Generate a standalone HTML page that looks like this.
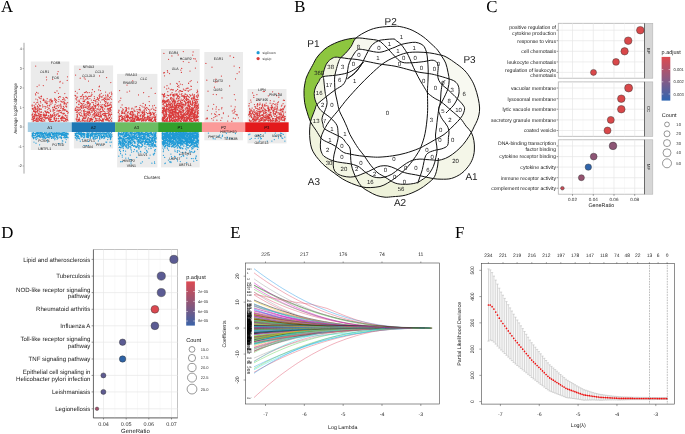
<!DOCTYPE html>
<html><head><meta charset="utf-8"><style>
html,body{margin:0;padding:0;background:#fff;width:685px;height:434px;overflow:hidden}
svg{display:block;will-change:transform}
</style></head><body>
<svg width="685" height="434" viewBox="0 0 685 434" font-family="Liberation Sans, sans-serif" text-rendering="geometricPrecision">
<rect width="685" height="434" fill="#fff"/>
<text x="1" y="11.6" font-size="16.8" text-anchor="start" fill="#000" font-family="Liberation Serif, serif">A</text>
<text x="294.3" y="11.6" font-size="16.8" text-anchor="start" fill="#000" font-family="Liberation Serif, serif">B</text>
<text x="486.3" y="11.8" font-size="16.8" text-anchor="start" fill="#000" font-family="Liberation Serif, serif">C</text>
<text x="1.2" y="237.8" font-size="16.8" text-anchor="start" fill="#000" font-family="Liberation Serif, serif">D</text>
<text x="230.2" y="237.8" font-size="16.8" text-anchor="start" fill="#000" font-family="Liberation Serif, serif">E</text>
<text x="455" y="237.8" font-size="16.8" text-anchor="start" fill="#000" font-family="Liberation Serif, serif">F</text>
<line x1="24" y1="42.8" x2="24" y2="173.6" stroke="#a6a6a6" stroke-width="1"/>
<line x1="22.6" y1="49" x2="24" y2="49" stroke="#777" stroke-width="0.5"/>
<text x="21.8" y="50.4" font-size="3.8" text-anchor="end" fill="#444">4</text>
<line x1="22.6" y1="68.5" x2="24" y2="68.5" stroke="#777" stroke-width="0.5"/>
<text x="21.8" y="69.9" font-size="3.8" text-anchor="end" fill="#444">3</text>
<line x1="22.6" y1="88" x2="24" y2="88" stroke="#777" stroke-width="0.5"/>
<text x="21.8" y="89.4" font-size="3.8" text-anchor="end" fill="#444">2</text>
<line x1="22.6" y1="107.5" x2="24" y2="107.5" stroke="#777" stroke-width="0.5"/>
<text x="21.8" y="108.9" font-size="3.8" text-anchor="end" fill="#444">1</text>
<line x1="22.6" y1="127" x2="24" y2="127" stroke="#777" stroke-width="0.5"/>
<text x="21.8" y="128.4" font-size="3.8" text-anchor="end" fill="#444">0</text>
<line x1="22.6" y1="146.5" x2="24" y2="146.5" stroke="#777" stroke-width="0.5"/>
<text x="21.8" y="147.9" font-size="3.8" text-anchor="end" fill="#444">-1</text>
<line x1="22.6" y1="166" x2="24" y2="166" stroke="#777" stroke-width="0.5"/>
<text x="21.8" y="167.4" font-size="3.8" text-anchor="end" fill="#444">-2</text>
<text x="16.8" y="108.4" font-size="4.5" text-anchor="middle" fill="#222" transform="rotate(-90 16.8 108.4)">Average log2FoldChange</text>
<text x="152" y="179" font-size="4.5" text-anchor="middle" fill="#222">Clusters</text>
<rect x="30.8" y="61.5" width="38.5" height="88.5" fill="#ebebeb"/>
<rect x="73.9" y="65.4" width="39.2" height="83" fill="#ebebeb"/>
<rect x="117.1" y="73.9" width="40.3" height="93.5" fill="#ebebeb"/>
<rect x="161" y="49" width="38.7" height="118.4" fill="#ebebeb"/>
<rect x="204.3" y="52" width="38.7" height="88.3" fill="#ebebeb"/>
<rect x="247.5" y="89" width="39" height="54.4" fill="#ebebeb"/>
<path stroke="#d93b3b" stroke-width="1.25" stroke-linecap="round" d="M43.7 119.6h0M51.3 116h0M34.1 110.7h0M34.5 120.3h0M47.3 103.5h0M54.7 100.2h0M52.8 114.5h0M63 117.1h0M37.2 120.2h0M38.5 107.1h0M55.1 115.9h0M34.2 118.6h0M56.6 115.2h0M48.4 115.7h0M60.7 108.2h0M51 99.2h0M58.3 116.6h0M47.1 107.2h0M37.5 110.4h0M59.6 110.4h0M63.6 117.1h0M52.9 115.9h0M62.3 108.5h0M34.2 107.6h0M55.4 99.6h0M45.9 111.1h0M32.8 113.2h0M34.1 105.3h0M36.7 119.1h0M34.9 111.8h0M51.8 100.7h0M42.1 117.3h0M45 101.8h0M38.4 118.2h0M40.4 114.3h0M32.1 115.2h0M45.3 108.1h0M50.6 111.3h0M56.4 120.7h0M63.6 109.5h0M46.2 113.3h0M34.2 120.6h0M39.5 119.4h0M32 119.4h0M35.7 113.1h0M54.2 119.4h0M41.1 116.4h0M62.6 99.5h0M48.8 112.4h0M44.4 117.3h0M61.9 118.2h0M51.1 119.4h0M51.6 121.3h0M63.2 109.8h0M41.4 114.5h0M51.2 101.6h0M43.9 117.5h0M62.8 113.6h0M61.5 106.9h0M44.8 121.1h0M33 117.3h0M66.5 111.4h0M65.8 97.3h0M40 118.4h0M39.1 119.5h0M62.3 116h0M55.6 101.7h0M64.8 103.9h0M59.1 111.9h0M44 100.5h0M67.1 117.8h0M58.2 118.5h0M36.6 118.8h0M37.3 108.9h0M67.4 111.3h0M36.7 121.3h0M67 115.5h0M47.7 105.7h0M61.8 118.5h0M40.7 109h0M41.4 112.3h0M44.8 111h0M53.1 111.2h0M50.1 110h0M50.9 121.3h0M32.1 105.2h0M38.2 113.7h0M43.8 114.9h0M52.1 103h0M41 116.6h0M59.9 115.7h0M64.9 115.1h0M54.1 115.6h0M48.3 112.3h0M49.3 105.2h0M66 119.2h0M52.2 101.2h0M36.4 114.8h0M34.6 117h0M60.3 101h0M37.6 108.8h0M63.9 103.8h0M39.9 106.1h0M67.7 102.7h0M37.8 115.7h0M39.1 116.6h0M58.1 121.3h0M32.7 116.7h0M54.5 107.4h0M60.5 96.8h0M35.8 116.1h0M41.8 119.7h0M47.2 101.9h0M37.4 105.9h0M52.6 107.5h0M56.8 114.1h0M34.6 107.5h0M35 109.6h0M34.4 107.7h0M52 101.8h0M41.7 120.1h0M36 119.4h0M33.8 118.8h0M59.4 116.3h0M50.1 119.1h0M41 121.3h0M58.5 110.8h0M65.7 119.9h0M61.6 117.2h0M46.2 112.6h0M56.8 106h0M57.5 105.8h0M46.6 115.4h0M34.6 106.8h0M41.2 118.5h0M63.4 106.4h0M42.2 118.2h0M37.7 112.2h0M41.5 96.7h0M40.8 102.8h0M43.2 114.6h0M49.1 112.8h0M39.3 111.2h0M35.2 114.9h0M33.5 121.2h0M53.1 110.8h0M59.1 110.5h0M46.1 118.6h0M67.5 119.6h0M33.6 110.2h0M64.2 110.5h0M37 115.9h0M50.2 102.9h0M53.1 110.6h0M56.7 108.4h0M36.8 115.4h0M35.8 109.8h0M54.6 110.2h0M49.7 121.4h0M50.2 115.3h0M55.8 120.7h0M34.7 118.2h0M58.3 118.7h0M49.8 118.3h0M49.3 108.3h0M55.2 120.8h0M37.3 117.8h0M52.5 121.3h0M34.2 118.1h0M56.4 118.3h0M50.6 114.4h0M64.3 118.6h0M67.3 98.1h0M61.6 101.3h0M48.2 116.9h0M39.6 105.7h0M37.1 111.3h0M61.6 112.9h0M64 107.5h0M49.5 121.1h0M32.1 114.5h0M37.1 115.7h0M43.4 99h0M62.3 120h0M65.4 106.1h0M45.4 115.7h0M68.1 112.4h0M41.9 120.9h0M35.7 107h0M41 115.6h0M50.4 119.8h0M63.9 99.5h0M54.8 98.5h0M58 121h0M58.4 113.8h0M42.3 121.1h0M65.5 120.2h0M42.7 106.9h0M67.2 118h0M52.1 116h0M38 119h0M49.9 116.9h0M64.7 103.4h0M38.9 120.3h0M44.3 120.4h0M52.6 100.9h0M59.1 116.2h0M45.6 115.4h0M34.2 116.8h0M50.2 110.2h0M63.1 118.5h0M46.4 112.7h0M66.4 104.2h0M33.2 108.6h0M64.3 113.4h0M46.1 102.9h0M61.8 101.9h0M35.9 119.5h0M50.9 104.6h0M55.4 108.7h0M48.5 108.1h0M40.4 101.3h0M55.3 116.3h0M55 106.8h0M36 120.9h0M46 118.4h0M53.7 121.3h0M66.6 106.9h0M63.9 113.2h0M66.7 106.1h0M43.1 121.3h0M47.2 117.6h0M56.1 102.7h0M44.2 114.1h0M56.6 118.4h0M50.2 119.6h0M67 116.3h0M40 109h0M42.6 104.9h0M40.1 114.5h0M56 99.8h0M39.7 98.2h0M37.1 120.8h0M64.4 102.5h0M58.5 97.4h0M38.7 104.2h0M58.9 121.2h0M45.5 117.2h0M38.1 121.4h0M66.5 119.6h0M66.8 119.3h0M61.7 112h0M33.8 116.1h0M39 113.6h0M64.4 121.2h0M59.7 120.9h0M33.3 120.7h0M59 105h0M44.2 116.2h0M41.5 109h0M43.4 115.8h0M65.1 109.8h0M66.1 121.2h0M66.5 97.4h0M46 118.6h0M65.5 118.7h0M61 105.1h0M53.9 118.1h0M43.5 115.6h0M39.1 108.3h0M40.9 120.6h0M43.8 100.3h0M63.9 101.5h0M35.5 112.1h0M57.6 113.8h0M54.4 106.1h0M59 105.8h0M62.4 117.4h0M52.5 115.5h0M40.9 118.4h0M37.5 106.9h0M46.3 103.1h0M50.3 117.7h0M67.8 120.6h0M49.1 101.3h0M33.5 118.8h0M36.3 118.1h0M65.6 115.8h0M63.3 114.1h0M66.1 119.7h0M53.5 109.7h0M37.1 118h0M41.2 111.6h0M32.4 117h0M56.5 119.1h0M60.7 110.5h0M34.3 120.5h0M55.1 120.2h0M37.9 110.4h0M43.1 100.3h0M43.3 112.8h0M63.2 97.5h0M45.1 118.8h0M32.2 106.1h0M47.3 111.5h0M48.6 118.8h0M32.5 114.7h0M35.2 114.3h0M45.4 111.8h0M50.8 100.2h0M35.9 111.4h0M39.1 120.6h0M66 103.1h0M65.4 115.1h0M64.6 109.5h0M60.4 118.7h0M46.6 103.7h0M39.9 115.7h0M50.7 114.5h0M58.2 101.5h0M33.5 111.4h0M62.3 120.1h0M53.6 113h0M47.2 112.4h0M47.4 112h0M32.8 109.3h0M49.7 117.9h0M48.5 119.9h0M49.1 119.9h0M35.3 112.8h0M50.4 121h0M58.5 107.5h0M50.5 121h0M66.3 119.7h0M62.9 102h0M39 109.5h0M49.8 99.9h0M60.5 104h0M34.4 115.9h0M64.4 117.9h0M61.4 120.5h0M39.5 117.6h0M50.3 115.8h0M37.8 102h0M56.5 100.3h0M36.2 109h0M55 114.6h0M52.9 107.4h0M35.8 104.2h0M60.8 118.1h0M67.8 113.6h0M48 118.4h0M58.8 120.9h0M55.1 104.5h0M53.1 109.2h0M33.2 119.5h0M54.2 117.6h0M36.8 118.3h0M55.6 121.2h0M35.8 115.7h0M40.1 112.3h0M54.5 114h0M36.9 102.5h0M35.5 108.3h0M63.5 108.5h0M32.4 108.4h0M52.3 116.7h0M65.8 110.2h0M41 98.7h0M46.7 117.8h0M34.1 102.3h0M66 119.6h0M39.2 113.9h0M61.4 119.1h0M43.2 114.9h0M60.3 106.1h0M32.2 105h0M58.8 115.7h0M40.2 120.2h0M44.1 106.3h0M57.1 105.5h0M52 115.4h0M60.5 112.6h0M66.8 117.4h0M63.8 121.3h0M58.9 99.3h0M58.9 115.6h0M40.6 105.8h0M54.8 112.5h0M48.9 113.2h0M57.2 110.1h0M52.6 116.1h0M39.7 105.3h0M37.2 121.1h0M35.9 104.1h0M33 121h0M57 111.2h0M34.4 114.4h0M45.1 102.4h0M34.4 111.5h0M65 100.2h0M36 121.1h0M62.6 110h0M54.8 118.4h0M35.6 120.3h0M43.5 115.5h0M32.8 117.9h0M45.3 114.8h0M66.8 111.2h0M33.1 116.3h0M47.8 109.5h0M51.4 117.5h0M63.1 120.3h0M32 119h0M59.5 96.5h0M49.7 105.9h0M38.7 115h0M41.4 96h0M42.2 118.7h0M36 112.6h0M34.9 108.2h0M54.7 117.8h0M46.5 114.6h0M64.1 121.2h0M39.4 116.7h0M45.7 106.6h0M40.4 116.5h0M59.2 110.4h0M44.6 115.2h0M55.9 102.4h0M38.1 93.2h0M59.9 87.7h0M36.6 92.4h0M64 98.5h0M38.9 97.2h0M57.4 73.9h0M37.6 99.9h0M40.9 96.5h0M50.9 99.8h0M43.8 99.4h0M67.2 80.4h0M35.7 66.1h0M35.7 94.9h0M67.5 76.8h0M58.5 93.3h0M39.1 85h0M35.9 99.1h0M46 100.9h0M46.4 77h0M57 90.9h0M54.8 92.3h0M37.1 86.6h0M46.6 79.8h0M64.8 93.5h0M52.7 79.3h0M47.2 98.7h0M58.1 71.6h0M59.9 82h0M62.8 83h0M55.2 92.6h0M43.3 85.5h0M35.5 93.8h0M60.2 81.3h0M54.7 98.3h0M103.1 121h0M84.7 114.3h0M110.8 109.7h0M77.3 115h0M90.2 118.3h0M101.1 105h0M83.9 118.2h0M109.5 114.9h0M86.1 96.7h0M87.4 98.3h0M95.3 101.3h0M97.1 109.5h0M103.3 99.4h0M88.4 117.6h0M77.3 115.9h0M91.6 119.3h0M87 112.8h0M77.7 121.3h0M111.6 99.2h0M111.2 107.4h0M79.1 112.7h0M95.1 121.3h0M108.9 112.3h0M99.1 118.7h0M84.2 118.6h0M106 115.7h0M81.9 103.5h0M81.3 110.9h0M105.7 105.7h0M105.5 114.8h0M88.7 113.1h0M83.9 120.8h0M96 105.8h0M108.4 105.7h0M93.3 110.1h0M96.5 120.2h0M100.4 120.1h0M78.4 120.9h0M91.3 118.3h0M106 101.7h0M104.1 113.6h0M94 110.5h0M87.6 114.5h0M108.4 119.8h0M86 114.2h0M82.3 120.4h0M87 107.8h0M106.9 99.8h0M110.5 107.6h0M100 109.2h0M86 106.4h0M98.9 116.4h0M87.7 97.5h0M100.1 112.3h0M78.2 109.8h0M90.4 108.1h0M95.9 112.9h0M107.9 108.8h0M79.2 101.2h0M94.6 116.6h0M93.1 109.2h0M79.3 107.8h0M96.8 120.4h0M91.3 100.1h0M95.4 105.3h0M111.6 106.9h0M78.9 104.1h0M110.4 108.5h0M103.6 119.3h0M83.8 114.8h0M75.7 108.1h0M101.1 111.5h0M107.8 105.3h0M108.9 105.1h0M81.3 107.9h0M100.1 96.2h0M79.6 114.6h0M101.7 121.2h0M97.3 120.6h0M79.3 101.9h0M99.9 116.6h0M105.9 106.2h0M79.3 121.1h0M81.9 106.8h0M85.8 107.5h0M107.3 109.2h0M100.5 102.1h0M87.7 119.1h0M93.6 100.4h0M81.8 103.5h0M100.1 114.8h0M106.2 113.6h0M107.2 105.9h0M83.1 98.3h0M96.8 120.9h0M92.3 106.9h0M89.4 112.8h0M87.4 121.2h0M92 94.6h0M99.8 116.4h0M85.2 111.4h0M94.5 91.7h0M111.6 121.2h0M107.2 106.2h0M98.4 109.2h0M104.4 98h0M109.6 108.2h0M102.3 107.2h0M98.5 116.2h0M77.3 115.6h0M87 102.4h0M84.1 117.3h0M88 118.5h0M91.8 112.3h0M96 115.7h0M86.2 115.4h0M101.8 107.7h0M109 109.9h0M78 120h0M88.2 109.3h0M90.9 96.2h0M108.2 116h0M84.6 121.2h0M101 117.2h0M89.8 119.3h0M98.9 119h0M102.1 99.8h0M104.9 101.8h0M87.7 119.2h0M107.3 103.9h0M109.1 118.5h0M99 111h0M100.1 113.8h0M76.8 106.7h0M87.4 112.7h0M92.2 121.3h0M109.2 108.6h0M97.7 105.2h0M87.2 120.1h0M103.3 120.1h0M105.1 115.4h0M95.5 108h0M97.2 115.3h0M101.3 106.9h0M103.7 115.3h0M91.8 118.9h0M94.4 98.3h0M92.6 106.7h0M103.6 113.5h0M102.9 120.2h0M76.1 118.9h0M95.5 118.2h0M109.7 113.9h0M102.2 96.9h0M81.1 121.1h0M111.2 112.8h0M98.5 114.5h0M87 104.9h0M79.1 100h0M89.9 98.5h0M77.3 114.4h0M109.9 104.2h0M83.3 117.1h0M83.6 117.3h0M103 110.3h0M83.1 101.2h0M80.9 98.7h0M102.8 104.7h0M85.5 118.1h0M81 105.6h0M97.1 116h0M82.8 105h0M88.4 101.9h0M106.9 99.7h0M86.1 121.1h0M75.4 91.3h0M80.6 102.9h0M100.2 120.1h0M87.6 101.6h0M111.2 121.2h0M83.7 103.6h0M93.7 117.7h0M90.9 119h0M86.7 98.9h0M79.5 109.9h0M81.7 103.5h0M80.5 106.5h0M88.1 111.2h0M108.9 114h0M107.6 95.6h0M85.1 118.6h0M76.7 110h0M90.1 109.9h0M100.4 106.7h0M95.1 112.5h0M107.3 113.3h0M89.8 118.5h0M89.3 111.9h0M90.2 119.2h0M97.5 99.2h0M84.5 109.8h0M82.4 119.6h0M106.1 102.3h0M100.6 115.7h0M98.9 112.6h0M75.1 95.4h0M106.5 116.1h0M83.7 113.1h0M102.5 114.5h0M94.5 111h0M100 116.6h0M83.3 110.8h0M84.8 107.3h0M94.3 111.2h0M83.2 118.8h0M94.4 111.7h0M105 116.6h0M92 102.4h0M105.5 99.3h0M89.1 102.9h0M105.2 119.5h0M78.9 113.7h0M104.7 111.6h0M89.7 96.4h0M100.7 115.9h0M103 119h0M100.1 115.6h0M88.7 115.2h0M89.1 121.2h0M77.2 117.8h0M101.5 116.9h0M105.8 120h0M98.5 99.8h0M104.3 105.1h0M88.8 121h0M101.3 115.7h0M90.1 106.1h0M89.3 111.4h0M109.1 117.3h0M88.8 107.6h0M87.2 120.5h0M94.4 113.4h0M108.3 99.2h0M92.1 111.7h0M106 117h0M91.3 110.6h0M93.9 105.5h0M89.9 121.1h0M100.1 109.2h0M79.4 119.1h0M77.9 101h0M102.8 108.8h0M77.1 107.2h0M77.1 109.8h0M90.5 103.9h0M107.2 119.2h0M87.4 103.6h0M85.2 116.7h0M86.6 116.2h0M93.9 114.9h0M77 114.4h0M106.6 118.2h0M82.5 120.9h0M92.2 111.9h0M96.6 114.1h0M108.9 111.3h0M77 116.9h0M95.9 115.7h0M85.2 104.7h0M104.6 104.5h0M91.8 108.5h0M77.2 111.5h0M98.6 120.8h0M97 118.7h0M109 108.6h0M99.9 110.1h0M86 117.7h0M108.9 118.4h0M78.8 120h0M90.4 114.2h0M84.6 100.9h0M77.2 107.7h0M76.6 102.7h0M96.5 114.7h0M95.7 118.7h0M106.1 119.3h0M104.5 98.7h0M89.1 106.9h0M83.3 107.6h0M101.9 111.7h0M100.1 119.7h0M109.1 99.5h0M109.7 111h0M102.7 109.2h0M109.3 120.7h0M97.1 109.6h0M78.4 119.4h0M106.2 115.8h0M109.1 121.2h0M87.8 106.3h0M99.3 120.9h0M84.2 101.1h0M81.7 103.7h0M95.7 120h0M95.4 106.9h0M76.3 112.3h0M78.7 104.5h0M88.1 112.7h0M99.5 118.2h0M87.3 92.7h0M107.2 111.1h0M107.4 119.6h0M93.4 108.2h0M81.1 108.4h0M93.7 113.9h0M82.6 119.2h0M83.9 110.4h0M75.7 98.8h0M93.1 108.7h0M83.5 106.8h0M80.8 115.8h0M94.2 115.9h0M107.9 120.4h0M97 104.8h0M101.3 120.6h0M111.3 120.8h0M97.9 104.8h0M104.9 113.8h0M109 121.3h0M90.1 120.3h0M84.1 105.7h0M87.8 119.5h0M82.4 118.8h0M111.8 93.6h0M92.8 110.3h0M102.8 114.1h0M82.4 104.9h0M78.5 110.4h0M88 118.1h0M102.5 119.5h0M105.6 92.1h0M105.7 106.7h0M96.8 111.3h0M107.1 117.9h0M110.5 109.2h0M110.7 104h0M84.4 101.5h0M92 116.8h0M93.2 102.7h0M89.5 109.1h0M104.3 100.4h0M90 120.4h0M99.1 105h0M105.9 98.6h0M75.3 110.4h0M105 113.1h0M97.4 112.9h0M88.1 99.1h0M97.9 115.4h0M100.9 111.8h0M99.4 98.2h0M76.6 97.9h0M81.9 115.7h0M83.4 101.5h0M97.6 104.5h0M110.3 109.3h0M111.5 118.2h0M94.5 121.4h0M81.6 107.4h0M84.3 114h0M78.8 107.8h0M89 103.6h0M108 102.7h0M91.4 95h0M88.4 109h0M94.3 108.8h0M108.5 115.2h0M77.2 93.1h0M100.3 113.7h0M107.9 103h0M102.7 121h0M110.2 98h0M80.4 109.6h0M89.5 105h0M98.7 116.3h0M95.1 114.6h0M111.1 105.6h0M89.1 105.4h0M101.2 106.4h0M96.3 99.7h0M104.3 113.8h0M107.4 118.4h0M102.3 118.8h0M86.1 113.6h0M110.7 96.5h0M109.8 117.6h0M86.9 111.5h0M89.6 113.2h0M110.6 116.1h0M91.7 92.8h0M98.5 104.4h0M103 110.8h0M95.7 106.5h0M88.4 103.4h0M94.6 116.8h0M103.5 121h0M105.5 113.2h0M84.9 115.5h0M77.7 109.8h0M90.3 108.9h0M79.2 117.8h0M98.4 113h0M103.6 111.2h0M87.7 114.8h0M104.8 113.7h0M94.7 106.2h0M99.7 97.1h0M77.5 112.1h0M93.6 104.3h0M90 112.3h0M85.2 99.7h0M80.7 112.6h0M102.9 107.2h0M102.4 107.7h0M99 95.8h0M101 104.8h0M85.2 120.8h0M85.1 118.7h0M83.3 120.5h0M104.6 118h0M100.8 120.4h0M75.2 110h0M80.2 115.5h0M95.5 101.1h0M76.6 99.8h0M98.3 114.4h0M87.3 108.4h0M82.8 94.3h0M104.9 106h0M76.1 110.3h0M90.7 120.8h0M96.6 115.6h0M93.9 108h0M111.7 94.7h0M110.5 114.8h0M92.7 119.4h0M91.8 107.2h0M87.7 119.1h0M89.9 115.8h0M94.1 109.8h0M82.4 104.8h0M95.7 103.2h0M110.9 96.5h0M101.7 107.8h0M77.4 116.5h0M101.7 107.2h0M84.8 113.6h0M111.6 114.4h0M76.7 119.4h0M104.7 108.9h0M78.9 119.6h0M92.4 89.7h0M108.7 110.5h0M79.8 119.8h0M95.8 110.5h0M75.9 96.2h0M101.2 93.3h0M102.1 114.2h0M105 101.3h0M83 108.6h0M89 121.3h0M92.2 121.1h0M107.8 108.3h0M98.1 98.7h0M92.9 106.8h0M108.4 112.9h0M78.9 107.4h0M91.9 107.6h0M98.5 106.8h0M101.8 120.7h0M92.4 114.9h0M83.9 111.6h0M100.6 109h0M97.1 120.3h0M83.9 96.7h0M104.1 98.1h0M98.4 103h0M111 102.4h0M76.5 120.8h0M83.2 99h0M109.3 105.4h0M80.7 121.3h0M103 119.5h0M82 103.8h0M81.1 107.6h0M107.8 94.3h0M75.2 109.1h0M93.6 109.9h0M97 101.8h0M95.2 116h0M89.7 121.3h0M105.6 103.5h0M92 119.8h0M90.9 120h0M111 110.6h0M102 99.9h0M106.3 120.2h0M103.2 118.9h0M97.4 97.6h0M77.9 119.8h0M100.6 111.6h0M90.1 108.6h0M99 100.5h0M108.7 109.5h0M101.5 121.1h0M91 108.7h0M81.7 106h0M84.4 115.3h0M87.9 114.2h0M111.2 105.1h0M109.4 97.6h0M102.8 119h0M84.3 112.1h0M107.7 98.9h0M87.2 102.5h0M104.3 115.4h0M79 104.5h0M88.6 107h0M110.6 119.7h0M94.9 100.3h0M90.1 104.2h0M78.4 119.6h0M85.7 96.1h0M101.4 97h0M81.6 113.8h0M102.6 109.6h0M84.2 115.4h0M82.8 116.6h0M110.6 111.1h0M97.1 108.6h0M86.3 96.8h0M77.6 97h0M88.4 96.3h0M79.3 89.3h0M110.8 82.5h0M85.2 79h0M81.6 96.6h0M86.3 91.6h0M100.5 90.6h0M101.9 96.7h0M109.4 93.1h0M105.7 97h0M105.6 95.2h0M106.6 77.5h0M99.8 94.4h0M75.5 95.7h0M108.4 96.1h0M99.4 86.2h0M99.4 95.9h0M80.4 96.6h0M111.3 92.2h0M99.1 86.8h0M83.3 96.8h0M75.6 75.1h0M79.9 69.4h0M88.5 81h0M80.2 78.2h0M84.4 92.6h0M94.3 96.5h0M84.2 77.8h0M85.6 92.3h0M103.2 95.3h0M82.2 95.3h0M89.2 92.6h0M98.7 89.9h0M107.1 96.9h0M99.5 75.9h0M83.7 97h0M155 118.6h0M134.1 110.6h0M140.6 110.2h0M125.1 111.4h0M122.2 110.6h0M137.8 117h0M154.9 117.5h0M149.8 110.2h0M122.5 112.9h0M132.1 113.1h0M154.4 105.3h0M143.1 120.1h0M145.8 117.3h0M128 119.9h0M124.3 120.6h0M124.4 117.2h0M140.1 116.8h0M118.9 121h0M134.3 119.3h0M149.5 119.6h0M121.8 117.2h0M147.3 119.3h0M143.7 114h0M153.3 114.3h0M125.2 120.9h0M121.7 113.5h0M134.4 120h0M127.6 120.2h0M129.9 117.5h0M134.6 120.3h0M120 120.3h0M124.2 116.3h0M120.5 116.4h0M146.4 112.5h0M137.7 120.2h0M143.4 120.9h0M152.5 121.4h0M125.8 120.7h0M144.4 110.2h0M143.7 119.2h0M133.5 114.5h0M121 115.3h0M155.8 107.9h0M136.8 119.6h0M143.7 115.9h0M153.7 113.4h0M136.2 120.4h0M144.3 113.4h0M140.2 105.3h0M148.7 120.5h0M130.5 121.2h0M131.5 114.9h0M132.2 114.1h0M134.9 121.4h0M121.8 111.4h0M124.2 113.4h0M145.5 120.8h0M118.4 121.1h0M131.7 108.9h0M152.7 112.3h0M151.1 113h0M154.2 115.7h0M125.7 117h0M132.5 115.9h0M140.6 119.6h0M137.4 116.2h0M143.5 120.2h0M147.5 113.7h0M147.9 115.9h0M137.7 115.9h0M129.3 117.8h0M136.6 116.3h0M126.4 117.3h0M131.9 111.4h0M146.1 119.6h0M143.1 110.9h0M142.4 113.6h0M132 121.2h0M154.8 117.4h0M148.8 120.4h0M131.1 120.5h0M136.8 119.1h0M128.5 116.9h0M150.5 115.7h0M134.9 118.2h0M125.2 119.5h0M128.9 108.9h0M150.6 112.4h0M134.5 119.8h0M122.8 112.8h0M135 118h0M119.1 117.9h0M132.7 121.4h0M130.9 111.7h0M142 119.4h0M141.5 118.6h0M125.9 109.8h0M140.5 115.7h0M130.5 121.2h0M141.1 114.6h0M122.9 119.8h0M132.1 108.2h0M122.7 108.9h0M127.5 112.3h0M132.6 121.2h0M128.5 115.8h0M136.5 106.7h0M126.9 114h0M147.8 113.5h0M148.6 120.7h0M128.2 117.1h0M121.7 115.5h0M126.4 121.4h0M132.3 116.8h0M137.5 119h0M155.5 120.4h0M137.7 117.8h0M126.2 107.5h0M131.9 118.9h0M129.1 120.9h0M154.5 117h0M138.5 117.7h0M130.7 112.6h0M154.6 117.3h0M133.5 120.3h0M135.2 118.5h0M127.1 115.9h0M132.5 112.1h0M119.4 118.9h0M143.9 116.6h0M136.2 119.5h0M144.6 118.5h0M142.7 120.5h0M137.6 118.7h0M139.2 120.7h0M123.4 118.5h0M144 117.2h0M140 120h0M135.1 114.9h0M132.1 117.5h0M155.1 112.3h0M141.5 121.2h0M153.7 109.7h0M150.4 120.2h0M149.7 113.4h0M135 111.1h0M144.4 115.2h0M152.4 118.6h0M119.3 118h0M142 120.5h0M124.4 119h0M152.6 105.9h0M155.8 116.7h0M153.4 113.5h0M146 118.6h0M139.2 112.9h0M151 120.4h0M148.1 117.8h0M125.8 110.5h0M149.8 118.5h0M144.6 117.4h0M154.5 117.3h0M137.6 114.3h0M146.5 110.2h0M131.8 120h0M143.2 116.2h0M138.2 119.9h0M137.5 113.3h0M125.8 115.1h0M121.9 118.1h0M142.4 117.4h0M126.6 116.1h0M118.4 112.1h0M139.2 112.1h0M142 120.4h0M151 113.9h0M144 114.7h0M154.4 119.7h0M122.1 117.8h0M126.7 111.1h0M133 120.1h0M125.5 115.2h0M138.7 118.8h0M118.9 110.2h0M125.9 121.2h0M138.7 120.1h0M147.9 118.6h0M140 115.3h0M132.4 115h0M144.5 120.1h0M139.2 110.1h0M151.3 121h0M127.7 120.8h0M136.8 119h0M129.7 117.9h0M145.7 120.3h0M126.8 121.4h0M144.7 111.5h0M156 119h0M133.9 109.1h0M133.2 117.1h0M137.7 115.9h0M134.9 111.4h0M125.1 118.3h0M152.1 118h0M135.8 116.7h0M127.6 115.1h0M132.3 111.5h0M155.4 121.4h0M150.3 117.6h0M123.3 118.9h0M126.1 116.7h0M143.2 112.3h0M130.6 114.7h0M131.1 120.5h0M148.3 119h0M139 109.4h0M120.9 107.3h0M119.3 113.9h0M133.3 115.6h0M134 120.7h0M155 117.8h0M134.8 119.1h0M142.8 111.9h0M133.2 112.8h0M119.9 116.4h0M151.4 120.3h0M128.8 120.1h0M138 115.3h0M127.3 116.4h0M134.1 121.3h0M129.8 114h0M145.2 121h0M129.7 113.6h0M119 117.1h0M118.9 120h0M126.7 120.8h0M137.9 120.3h0M149.4 117.3h0M150.1 121.1h0M146.4 120.6h0M141 111.9h0M122.1 121h0M145.6 119.6h0M137.1 120.1h0M140.5 118.5h0M128.7 111.8h0M137.1 119h0M122.7 117.9h0M132.5 117.3h0M152.1 117.8h0M155.8 110.5h0M128 112.9h0M156.1 114.9h0M149 113.1h0M124.9 118.6h0M141.7 120.3h0M121.9 113.4h0M122.3 117.5h0M119.9 120.3h0M154.7 118.3h0M144.7 112.1h0M142.9 118.4h0M125.4 111.1h0M154.9 110.1h0M150.1 119.3h0M146.4 110.1h0M151.6 119.4h0M148.1 116.9h0M148.6 109.4h0M150.3 113.4h0M139.8 119.4h0M131.1 120.5h0M126.8 108.4h0M130.8 111.9h0M133.3 121.3h0M134.8 116.1h0M132.5 121.4h0M154.7 119.4h0M122.1 112.9h0M140.4 116.1h0M155.1 117.1h0M155.8 107.5h0M119.1 110.9h0M149 116.5h0M124.2 116.4h0M128.4 117h0M140 109.4h0M142.1 112.5h0M139.8 118.9h0M153.5 117.2h0M145.1 108.7h0M142.8 111.4h0M135.2 117.4h0M147.1 117.7h0M149 118.8h0M144.2 109.8h0M137 118h0M154.3 113.6h0M142.2 119.8h0M155.1 119.7h0M119 115.9h0M133.9 114h0M147.9 113.6h0M127.3 119.2h0M142.8 116.1h0M130.5 113.8h0M131 121.4h0M121.9 121.2h0M144.7 107.2h0M150 115.2h0M132.8 119.1h0M141.8 121.1h0M136.9 117.6h0M122.2 112.2h0M122.7 116.7h0M151.3 109.2h0M151.6 114.5h0M128.8 107.8h0M127.7 117.8h0M132.7 118.6h0M130.9 117.4h0M153.5 113.8h0M155.9 121.3h0M135.7 116h0M141.9 118.9h0M142.3 116.6h0M118.8 119.9h0M151.5 121h0M142.9 112.5h0M127.3 117.5h0M138.3 112.5h0M130.6 112.7h0M154.4 119.5h0M137.9 118.5h0M124.9 113.5h0M147.6 108h0M137 109.7h0M124.5 113.6h0M153.5 120.9h0M130.8 120h0M144.9 114.2h0M122.9 113.1h0M149.4 111.8h0M126.5 109.3h0M118.3 112.6h0M149.6 120.7h0M142.3 115.3h0M155.6 117.6h0M130.2 117h0M144.2 112.9h0M127.8 116h0M123.4 109.8h0M144.7 114.6h0M122.9 112.2h0M122 119.3h0M147.5 116.4h0M122.3 118.5h0M151.6 119.7h0M121.8 112.7h0M121.5 119.7h0M133.8 118.6h0M119.5 118.1h0M145.4 108.7h0M138.5 112.3h0M129.4 118.5h0M146.3 119.7h0M151 113.2h0M136.5 116h0M135.3 116.8h0M151 119.2h0M137.3 111.6h0M124.2 116h0M132.8 111.6h0M152.1 116.9h0M146.4 107.7h0M143.3 119.1h0M135.2 116.7h0M152.9 108h0M154.8 120.5h0M153.2 113.2h0M155.9 121.3h0M150.4 114.5h0M126.4 110.2h0M136.1 116.8h0M146 120.6h0M155.4 119.8h0M140.1 109h0M154.1 114.9h0M120.9 115.5h0M140.4 115.8h0M131.6 117.3h0M124.8 112.6h0M134.4 119.5h0M130.3 118.8h0M139.6 119.3h0M120.3 120.4h0M152 118.7h0M147.9 118.1h0M119.9 121h0M143.6 92.7h0M132.7 80.8h0M149.4 105.6h0M120.8 98.2h0M143.1 107.1h0M120 100.6h0M119.6 90.5h0M142 106.1h0M135.2 106.9h0M125.3 107.7h0M149.2 101.6h0M145.4 104.6h0M148.9 96.6h0M143.1 103.4h0M139.6 107.6h0M155.2 93.4h0M138.5 94.9h0M122.1 104.9h0M127 85.1h0M118.8 101.9h0M151.2 88.2h0M145.5 105.6h0M127.1 92h0M129.6 91.1h0M189.3 107.9h0M189.2 111.2h0M166.7 109.3h0M194 105.1h0M189.4 106.1h0M177.9 113.7h0M190.5 101.9h0M170 121.3h0M187.1 109.3h0M188.3 111.4h0M189.8 94.5h0M178 114.5h0M175.9 112h0M164.4 107.6h0M188.2 110.9h0M162.8 118.9h0M162.9 111.1h0M181.3 121.4h0M163.5 95.7h0M186 111.1h0M181.7 107.7h0M186.9 107.9h0M166.4 105.7h0M190.9 86.1h0M189.6 116.5h0M164.3 110.3h0M182.8 107.4h0M188.9 111.9h0M186.9 103.1h0M179.8 97h0M172 117.4h0M167.8 91.7h0M180.5 105h0M176.2 108.4h0M165.5 101.8h0M163.2 117.5h0M174.4 104.9h0M172 106.2h0M187.2 110.2h0M165.2 111h0M179.8 100h0M193.1 117.7h0M185.8 121.4h0M178.7 113h0M175.7 117.8h0M164.2 117.9h0M196 116.6h0M175.7 91h0M197.9 119.4h0M178.3 115.4h0M186.7 98.6h0M166.3 115.4h0M167.1 114.6h0M197.3 90.1h0M177.5 103.8h0M194.3 94.7h0M167.3 118h0M189.9 120.7h0M184.7 121.2h0M173.9 121.4h0M188.8 99.9h0M174.1 104.6h0M197.4 113.2h0M177.7 105.6h0M173.5 100.2h0M193.2 113.5h0M177.5 95.1h0M187.8 102.7h0M195.6 102.6h0M162.5 110.5h0M175.1 121.4h0M196 121.3h0M175.3 105.5h0M179.9 120.5h0M192.4 108.4h0M191.4 110.5h0M179.5 111.5h0M174.4 109.5h0M175.8 111.1h0M196.3 96.8h0M176 116.4h0M163.4 108h0M195.9 120.4h0M198.4 107.5h0M188.3 105.3h0M193.2 98.7h0M188.4 118.6h0M175.4 111h0M178.8 107h0M195.2 119.7h0M190.2 115.6h0M189.1 116.7h0M186.8 113.7h0M185.6 102.5h0M172.4 121.4h0M185.7 104.6h0M194.5 112h0M188.6 101.6h0M175.4 114h0M177.2 97.6h0M164.4 94.6h0M185.5 117.3h0M190 104h0M170.1 116.1h0M193.1 111.1h0M168.9 121.4h0M175.2 107.3h0M174 115.4h0M189.1 114.4h0M175.8 121.2h0M192.8 112.9h0M182.1 102.5h0M162.5 101.1h0M195.1 102.6h0M183.8 121.3h0M183 104.5h0M167 102.1h0M163.6 119.6h0M171.9 108.5h0M172.7 114.4h0M185.4 114.9h0M163.8 110h0M188.5 118.7h0M164.6 96.1h0M187.3 119h0M165.4 114.2h0M194.1 98.7h0M183.4 113.9h0M186 114.4h0M173.1 111.1h0M186.9 100.3h0M176.8 117.1h0M175.1 100.7h0M172.5 105.6h0M190.3 119.9h0M185.7 105.6h0M170.2 117.6h0M194.6 96h0M190.9 114.6h0M178.9 96.6h0M165.5 112.3h0M173.1 106.9h0M164.1 111.7h0M188.4 104.5h0M171.7 117.1h0M196.2 105.2h0M180.1 112.5h0M190.3 119.4h0M165.8 111.6h0M177.1 94.7h0M193.9 117h0M178.6 103h0M187.8 101.7h0M181.9 105.1h0M162.8 104.2h0M193.2 108.7h0M189.1 110.1h0M164.2 117.2h0M168.1 106.8h0M167.1 118.4h0M181.8 112.2h0M181.4 116.8h0M165.5 120.6h0M168.3 109.9h0M168.1 101.7h0M164.8 100.4h0M165.3 106.4h0M194.5 119.7h0M188.4 91.2h0M178 113.2h0M193 113.8h0M169.6 119.1h0M195.9 117.6h0M187.3 108.2h0M166 115.2h0M177.5 84.1h0M172 120.8h0M190.8 108.8h0M172.5 111.3h0M182.5 91.4h0M196 114.9h0M186 121.2h0M187.2 102.7h0M164.6 108.4h0M166.1 111.1h0M188.8 109.4h0M168.8 115.6h0M194.6 116.9h0M163 108h0M191.4 107.6h0M184.9 94.1h0M186.4 119.6h0M168.3 109.4h0M172.3 106.1h0M180.5 101.5h0M188.5 103.3h0M196.5 99.7h0M163.8 118.6h0M185.8 119.9h0M176.3 104.7h0M192.7 108.3h0M198 96.3h0M184.3 120.3h0M166.5 106.9h0M169.3 104.5h0M195.2 99.1h0M186 94.6h0M192.1 103.5h0M187.5 120.5h0M175.5 118h0M178.8 119.4h0M188.6 117.7h0M196.2 120.2h0M169.4 110.5h0M182.1 106.2h0M192.5 104.3h0M171 114.6h0M179.6 110.9h0M177.8 121.4h0M178.7 114.5h0M178.6 120.5h0M189.8 117.4h0M173.7 120.5h0M189.5 107.9h0M193 97.6h0M167.1 106.3h0M166.9 97.6h0M198.3 112.9h0M182.4 106.1h0M175.6 101.7h0M190.6 103.6h0M195.4 117.9h0M174.9 106.9h0M187.3 111.8h0M181.4 96h0M173.7 100.5h0M188.1 111.1h0M187.6 105.2h0M189.3 97.3h0M191.5 114.9h0M195 113.8h0M197.5 101.3h0M190.6 116.1h0M191.4 112.3h0M194.8 118.1h0M168.4 116.1h0M163.9 110.8h0M191.2 111.3h0M187 120.3h0M168 99.8h0M167.1 111.2h0M193.8 96.7h0M197.2 109.2h0M189.9 114.3h0M174.1 109.4h0M194.5 107.3h0M183.7 114.5h0M188.2 110.8h0M188.1 99.1h0M196.4 118.1h0M191.8 113.2h0M177.8 107.5h0M164.2 121.3h0M189.4 114.7h0M176.8 113.3h0M175.1 112.5h0M170.8 112.6h0M164.2 116.4h0M182.9 118.2h0M175.4 117.8h0M194 120.5h0M182.3 110.2h0M177.1 105.2h0M164.4 118.4h0M194.1 107.9h0M174 108.9h0M182.8 96.3h0M187.3 95.1h0M179.1 98h0M174.2 102.1h0M173 118.4h0M188.1 90.8h0M177.2 120.5h0M188.3 112.7h0M178.3 121.1h0M178.9 91.9h0M191.5 109.6h0M176.8 109.8h0M164.2 96.4h0M172 112h0M179.1 115.2h0M184.9 120h0M197.5 119.8h0M175.4 109.1h0M195 120.3h0M171.5 115.4h0M178.3 98.6h0M164.7 116.1h0M191.8 114.6h0M163.7 103.7h0M187.1 120.4h0M171.7 107.4h0M174.8 111.2h0M195.8 103.3h0M198.5 116.3h0M193.7 113.8h0M186.9 119h0M195.4 114.5h0M196.8 110.8h0M196 101.6h0M192.1 110h0M192.4 108h0M185.7 115.5h0M173.8 103h0M190.2 102.9h0M176.2 104.3h0M195.1 109.6h0M163.9 97.2h0M192.4 113.3h0M163 112.6h0M171.3 110.3h0M194.8 111.1h0M166.4 121.3h0M178.2 121.2h0M165.9 121.4h0M173.9 111.8h0M183 118.3h0M197.9 120.4h0M172.9 120h0M163.3 99.1h0M172.2 101.1h0M163.1 113.1h0M193.1 109.7h0M192.1 111.4h0M175 112.3h0M186.6 100.6h0M185.9 121.3h0M167 108.3h0M187 110h0M187.8 118.6h0M184 110.3h0M197.5 105.6h0M193.9 118.5h0M187.6 108.6h0M177 103.1h0M188.2 118.8h0M194.7 114.4h0M166.7 109.3h0M170.9 111.3h0M189 100.2h0M167.1 120.9h0M188.2 110h0M196 106.2h0M180.6 117.8h0M164.4 107.6h0M180.8 114.5h0M195.6 111.3h0M189.8 90h0M198 111.1h0M180 112h0M190.7 116.2h0M172.5 101.9h0M170.7 105h0M179.2 116h0M192.1 95.2h0M163.1 112.8h0M189.1 101.9h0M187 117.4h0M176.8 120.8h0M173.7 117.6h0M181.8 100.7h0M177.9 117.7h0M191.7 116.5h0M173 110.6h0M197.8 117.4h0M174.4 108.3h0M177.5 107.9h0M183 107.2h0M176.4 119.4h0M162.7 100.4h0M181.2 111.5h0M166.8 106h0M163.7 110.7h0M193.4 113.4h0M174.7 112.2h0M188.3 102.4h0M189.4 110.5h0M183.3 115h0M196.2 102.8h0M165.9 110.4h0M195.9 117h0M188.1 117h0M183.8 95.3h0M181.2 116.7h0M173.4 109.3h0M164.7 117.9h0M185.2 113h0M175.6 112.9h0M167.5 109.1h0M186.4 119.5h0M197.5 106h0M170 106.8h0M184.5 114.8h0M186.9 118.9h0M197.2 109.2h0M198.3 113.3h0M169.1 117.6h0M170.8 104.1h0M162.9 111.6h0M171.6 109.4h0M169.9 121.2h0M172.9 101.8h0M175.6 107.9h0M194 98h0M191.9 98.5h0M166.9 105.5h0M182 114.4h0M184.3 114.2h0M167.3 100h0M189.8 109.1h0M178.7 117.1h0M175.7 105.8h0M175.6 115.6h0M177.9 118.2h0M193.9 118.9h0M182.5 100.5h0M163.3 101.2h0M177.5 116h0M165.6 116h0M194.9 103.8h0M195.6 120h0M173.5 116.2h0M162.9 111.5h0M171.6 107.7h0M168.5 99.6h0M166.9 110.9h0M172.9 120h0M172.1 118.2h0M188.5 102.6h0M170.2 109.4h0M183.3 116.9h0M163.8 119.9h0M177.2 119.7h0M184.9 101.4h0M184.3 96.9h0M195.9 104.3h0M192.2 110.8h0M179.6 103.9h0M191 110.4h0M175.7 121.2h0M177.7 109.3h0M163.1 107.2h0M169.1 102.9h0M181.1 103.9h0M170.3 94.6h0M183.8 105.1h0M184.1 97.9h0M181.7 114.1h0M176.6 112.4h0M187.3 110.4h0M172.5 98.9h0M169.2 102.1h0M187.4 112.6h0M174.4 107h0M186 121.4h0M193.7 120.1h0M170.3 111.8h0M196.9 120.3h0M195.1 121h0M188.4 106.7h0M175 93.9h0M190.2 100.9h0M170 113.2h0M195.5 115h0M178.5 118.9h0M171.7 89.4h0M191.3 108.9h0M166.5 101.1h0M197 99.5h0M178.2 110.4h0M195.2 103.1h0M166.1 118.9h0M171.8 118.7h0M170 101.6h0M175.6 121.4h0M163.3 109h0M163.1 113.5h0M170 104.8h0M197.5 91.3h0M175.6 112.4h0M177.2 101.1h0M178.6 107.9h0M198.2 113.5h0M194 120h0M181 106.6h0M184.2 101.5h0M197.5 111.1h0M188.7 101.5h0M186.7 114h0M170.6 120.3h0M182.3 118.7h0M175.7 111.4h0M197.6 112.4h0M182.1 103.1h0M181.2 111.3h0M169.9 120h0M172.5 121.1h0M166.4 100.9h0M178.6 112.3h0M186.9 119.3h0M182.1 116.6h0M170.3 121.1h0M198 119.6h0M164 108.8h0M177.9 103.8h0M173.8 120.8h0M170 121.4h0M194.7 119.6h0M171.9 103.6h0M164.8 120.8h0M170.1 104.2h0M191.9 121.4h0M172.6 115.3h0M186.8 114.5h0M174.5 114.2h0M181.4 106.7h0M186.4 114.5h0M184 95.6h0M173.3 106.7h0M182.3 116h0M168.7 114.7h0M171.5 110.2h0M183 120.2h0M169.3 118.2h0M163.6 112.5h0M183.6 110.6h0M163.8 121.1h0M187.8 112.4h0M171.6 119.8h0M176.5 120.6h0M172.3 104.4h0M194.4 115.3h0M163.1 117h0M165.3 117.2h0M176.5 106.2h0M181.5 116.2h0M163.3 104.8h0M193.4 103h0M186.3 120.8h0M177.3 116.6h0M164.7 102.2h0M179.3 103.4h0M167.4 106.4h0M191.3 86.4h0M176.1 111.5h0M196.8 92.5h0M198.3 106.1h0M195.2 112.3h0M195.6 103.1h0M187.3 118.2h0M171.5 116.9h0M198.4 95.6h0M180.5 105.4h0M181.1 119.9h0M171 116.1h0M171 116.1h0M193.9 96.2h0M169.3 112.7h0M192.5 101.3h0M183.6 121.3h0M171 106h0M182.9 112.3h0M174.8 120.3h0M178 110h0M192.2 102.1h0M163.6 109.6h0M178.6 103h0M183.5 120.3h0M188.8 115.7h0M191.6 105h0M173 101.2h0M184.1 96.6h0M184.6 98.5h0M183.6 111.8h0M172.6 114.9h0M197.2 111.7h0M180.5 114.2h0M196.4 109.1h0M176.1 114.4h0M177.7 112.6h0M164.1 109.3h0M189.2 105.3h0M186.2 108.1h0M183.4 89h0M180.9 112.7h0M174.6 109.1h0M167.7 117.7h0M191.3 118.3h0M179.3 116.8h0M176.5 115.9h0M169.9 118h0M166 115h0M178.6 100.6h0M197.5 102h0M178.9 113.2h0M179.3 105h0M166 110h0M174.7 102.1h0M190.6 113.7h0M169.9 106.5h0M191.5 118.2h0M175.5 110.5h0M186.6 116.6h0M179.8 110h0M182.6 120h0M168.3 109.7h0M187.7 113.8h0M177.5 96.5h0M170 121.4h0M176.1 114.5h0M174.6 116.6h0M172.3 114.2h0M178.9 119.4h0M198.2 104.9h0M195 115.2h0M166.1 101.5h0M168.6 103.5h0M193.7 110h0M178.6 96.1h0M187.8 114.9h0M179 115.3h0M172.1 117.7h0M193.9 116.7h0M186.8 119.3h0M196.8 95.7h0M192.3 109.2h0M163.3 114.5h0M196.6 107.4h0M192.6 103.2h0M162.3 94.5h0M165.4 111.6h0M185.3 102h0M170.3 116.9h0M162.9 117.2h0M196.5 116.6h0M194.4 97.3h0M176.2 104.9h0M175.7 106.8h0M167.3 120.9h0M164.2 120.4h0M165.1 117.6h0M172.6 112h0M174.3 105.5h0M162.2 94h0M169.8 108.2h0M171.8 103.6h0M190.5 95.9h0M182.1 114.8h0M172.7 109.7h0M189.3 115.3h0M183.9 116.8h0M173.5 114.4h0M162.4 119.9h0M176.6 106.8h0M163.5 94.6h0M177.9 101.3h0M184.1 120.6h0M190.9 104.4h0M186.9 119.9h0M163.7 100.6h0M165.9 109.2h0M196.8 105.6h0M188.8 113.4h0M164.5 115.2h0M170.1 113.3h0M170.7 115h0M195.5 107.8h0M188.8 118.8h0M188.4 117.3h0M195.4 102h0M163.1 117.9h0M172.8 106.2h0M183.3 117.4h0M167.4 105h0M188.2 118.4h0M175.7 116.1h0M181.3 94.3h0M179.7 94.1h0M198.2 121.3h0M169.7 119.5h0M180.3 91h0M194.8 106.2h0M164.9 101.1h0M167 85.7h0M180.8 109.2h0M189.8 106.4h0M197.8 108.7h0M188.9 108.9h0M194.2 117.4h0M171.5 113.3h0M192.9 107.2h0M189.9 112.9h0M170.8 111.6h0M191.1 89.3h0M186.7 120.1h0M162.2 112.5h0M167.6 118.7h0M164.6 93.7h0M177.8 118h0M174.9 109h0M166.1 115.1h0M180.4 101h0M183.6 119.6h0M167.4 121.3h0M181.5 118.5h0M194.7 118.9h0M186.7 107.4h0M174.3 99.8h0M187.1 120.4h0M179.7 118.7h0M179.8 106.7h0M164.2 113.8h0M195.4 112.6h0M185.4 103.7h0M196.9 103.3h0M171.8 106.7h0M183.3 99.7h0M168.4 109.3h0M166.2 111.2h0M185.9 103.9h0M184.6 120.4h0M195.1 110.6h0M185.7 99.7h0M163.7 121.2h0M188.2 103.1h0M178.2 98.9h0M189.6 119.3h0M189.3 116.2h0M194.5 112.4h0M167.3 95.2h0M163 113.3h0M170.3 95.3h0M193.4 109.9h0M193.3 110.2h0M182.8 111.1h0M197.5 119.3h0M194.8 110.7h0M172.6 112.4h0M183.1 96.5h0M186.1 88.8h0M173.1 100.9h0M187.5 107h0M185.2 108.2h0M197.7 91.8h0M163.7 115.5h0M168.8 95.5h0M169.3 114.1h0M183.3 116.4h0M189.6 120.6h0M197 116h0M186.5 121h0M195.4 105.9h0M164.4 105.8h0M194.5 104.7h0M174.9 120.5h0M170.9 120.9h0M168.5 105h0M172.3 89.9h0M188.9 108.2h0M192.3 100.1h0M181.5 117.8h0M197.5 114.8h0M172.4 105.7h0M190.5 115.1h0M163.3 96.1h0M169.8 105.8h0M185.5 120.9h0M168.9 100.3h0M183.9 104.8h0M191 121.3h0M169.2 120.6h0M190.7 112.6h0M190.6 95.5h0M175.4 102.8h0M174.3 101.7h0M171.5 100h0M172.5 113.4h0M167.3 119.7h0M169.9 106.1h0M191.5 118.6h0M180.2 121.4h0M171.7 97.8h0M169.9 112.8h0M186.3 114.5h0M164 120.2h0M186.9 107.3h0M186.4 99.9h0M181.5 119.5h0M170.8 120h0M172.8 107.3h0M192.3 114.9h0M169.2 111.6h0M169.4 120.5h0M162.5 121.1h0M191.5 99h0M163.1 101.8h0M175.8 115.2h0M174.2 119.6h0M166.4 103.9h0M170.3 110.4h0M171.9 112.8h0M166.5 112.9h0M191.6 120.1h0M182.9 115.3h0M195.9 99.3h0M179.8 112.1h0M192.7 110.9h0M194.5 115.1h0M167 118.5h0M197.6 108h0M191.2 113.4h0M194.5 113h0M176.9 94.9h0M179.7 117.1h0M192.2 112h0M173.3 115.6h0M190.2 115.5h0M166.3 105.2h0M190.3 106.7h0M180.4 102.9h0M190.7 109.4h0M164.2 102.8h0M162.9 118.1h0M187.5 95.9h0M196 116.4h0M174.2 119.8h0M197.1 109.6h0M195.3 117h0M190.1 118h0M181.6 115.5h0M182.9 104.4h0M180.9 112.4h0M178.4 113.7h0M188.6 105.6h0M187.2 109h0M195.4 110h0M178.8 118.8h0M176.9 93.7h0M166.7 108.3h0M173.2 112.1h0M185.6 112.5h0M193.2 113.3h0M191 113.6h0M185.3 96.6h0M181.2 99.1h0M197.4 115.2h0M173 94.6h0M178 116.3h0M196.6 117.7h0M173.2 111.9h0M176.1 109.9h0M180.6 120.7h0M179.7 105.8h0M193.4 115.5h0M163 120.9h0M174.2 119.8h0M189.8 111h0M182.3 108.4h0M188 90.8h0M173.9 111.3h0M174.7 103.5h0M179.4 119h0M162.8 120.9h0M162.2 118.9h0M194.9 106.3h0M196.8 105.9h0M176.3 120.7h0M186.2 114.1h0M168.1 104.7h0M198.4 110.6h0M169.8 118.7h0M169.6 119.2h0M167.4 117.7h0M170.8 102.8h0M170.9 117.1h0M164.1 120.1h0M162.4 102.2h0M194.5 106.5h0M173.3 114.7h0M164.2 118.7h0M167.4 118h0M184.6 117.7h0M180.7 111.1h0M190.5 112h0M169.9 120.9h0M172.8 120.5h0M168.7 108.6h0M192.9 116.6h0M170.4 99h0M196.2 108.7h0M177.6 89.4h0M187.9 119h0M163.9 121.1h0M194.3 100.4h0M170.8 97.4h0M172.1 92.7h0M196.3 117.3h0M191.4 98.2h0M175.4 119.4h0M184.5 100.9h0M169.3 107.8h0M191 104.7h0M178.3 106.8h0M181.1 106.2h0M194.2 102h0M182.2 95.5h0M170.9 111.7h0M188 121.3h0M166.1 119.9h0M174.7 120.5h0M183.5 109.8h0M174.8 117h0M191.7 114.3h0M170.5 117.6h0M186.5 97.9h0M171.6 120.1h0M169.1 114.4h0M183.6 120.2h0M175.9 119.3h0M180.4 117.8h0M172.2 103.8h0M173.9 117h0M189.8 121.3h0M185.3 121.1h0M163.4 100.9h0M185.8 102.6h0M172.7 102.3h0M176.6 107.6h0M193.9 100h0M196.9 117.7h0M186.6 117.3h0M196.5 115.1h0M173.4 89.8h0M175 102.3h0M164.6 121.3h0M171 98.8h0M178.4 105h0M174.5 120.8h0M178.7 85.6h0M165.8 113.1h0M192.5 118.6h0M165.3 102.9h0M188.1 88.2h0M191 118.1h0M165.1 96.1h0M169 107.5h0M168.4 111.9h0M179.8 108.7h0M192.9 121.4h0M182.3 118.5h0M174.2 101.7h0M184.2 118.9h0M187.1 88.2h0M174.7 117.2h0M186 99.1h0M180.4 117.5h0M180.6 90.6h0M169.5 118.6h0M183.6 104.2h0M187.6 99.3h0M197.3 113.6h0M184.2 90.1h0M167.5 100.9h0M166.6 113.7h0M177.3 103.1h0M183.2 113.8h0M176.1 115.8h0M188.4 102.1h0M187.1 113.4h0M171 94.2h0M183.5 115.3h0M172.9 113.3h0M177.8 96.1h0M178.7 118h0M196.8 119.4h0M178.9 111.7h0M162.7 119.6h0M173.2 120.7h0M174 113h0M170.2 107.8h0M188 121.3h0M194.7 105.3h0M192.6 105.2h0M189.6 107h0M195.8 120.7h0M181.9 104.4h0M168.3 110.2h0M196.9 117.6h0M177.7 119.2h0M193.2 116.9h0M179 118.3h0M183 110.8h0M173.5 94.4h0M186.4 96.5h0M193 116h0M182.9 107.9h0M184.6 96.4h0M194.6 116.1h0M187 119.2h0M198.3 108.3h0M176.3 90.6h0M185.7 121.2h0M178.9 119.5h0M185.3 109.6h0M166.7 104.4h0M171.8 119.3h0M174 121h0M176.4 98.9h0M167.3 119h0M173.6 118h0M166.7 116.3h0M170.9 113h0M189.3 115.8h0M195.4 114.5h0M172.5 110.9h0M194.3 98.6h0M176.7 98.3h0M186.5 118.7h0M198 108.1h0M172.8 120.4h0M180.8 120.8h0M183.1 116h0M169.9 115h0M168.4 111.9h0M178.5 113.3h0M181.9 117.5h0M173.8 107.3h0M174.8 121.1h0M181 113.5h0M184.6 113.4h0M188.9 106.2h0M181.3 107.5h0M182.4 118.2h0M176.6 106.6h0M170.5 107.4h0M189.6 102h0M198 99.5h0M171.8 108.9h0M177.4 113.8h0M188 99.4h0M167.7 118.2h0M194.4 100.3h0M185.1 118.3h0M174.7 108.7h0M184 97.7h0M182 106.5h0M184.1 106.1h0M182.4 117.1h0M197.4 116.9h0M169.2 110.2h0M173.9 98.1h0M173.5 119.9h0M180.1 111.5h0M178.3 95.6h0M186.9 116.6h0M170.7 121.1h0M196.7 105.5h0M165.5 110.3h0M163 104.2h0M194.5 107h0M180.3 116h0M181.9 109.2h0M169 108h0M186.5 118.8h0M181.2 119.1h0M196 100.9h0M197.2 116.4h0M197.5 106.6h0M163.5 118.9h0M196.2 100.1h0M174 96.5h0M176.3 120.4h0M195.6 101.6h0M184.7 119.5h0M179.5 105.7h0M178.9 115.2h0M162.6 117.5h0M164.2 101.9h0M198.3 104h0M193 114.8h0M193.2 117.5h0M170.3 115.5h0M188.6 96.5h0M174.9 111.9h0M183.5 104.9h0M197.1 112.7h0M178.4 121.1h0M162.6 110.3h0M166.4 114.7h0M166.4 112.6h0M179.9 120.8h0M177.6 105.6h0M164.6 109.1h0M182.8 100.2h0M194.5 112.6h0M178.7 105.7h0M175.7 109.6h0M184.1 115.9h0M174.9 109.8h0M176 115.6h0M184.9 97.5h0M181.5 102.6h0M186.3 111.6h0M181.1 107h0M195.8 108.1h0M191 119.8h0M194.3 114.4h0M181.9 93.7h0M166.6 120.7h0M170.5 98.3h0M181.4 116.5h0M171.4 119.1h0M197.6 105.3h0M197.6 97.7h0M165.6 110.7h0M178.2 114.2h0M162.5 108.2h0M170.3 89.8h0M174.3 104.2h0M183.1 117.8h0M171.7 116.6h0M173.7 99.3h0M162.4 112.1h0M187.4 117.9h0M189.2 118.3h0M165.6 119.3h0M169.6 119.8h0M175.8 109.2h0M189.5 120.1h0M174.1 117.9h0M168.9 100h0M188 112h0M169.6 115.9h0M191 120h0M176.2 94.6h0M184.5 104.8h0M169.2 116.8h0M162.7 111.5h0M169.5 120.5h0M192.7 102h0M172.6 94.9h0M180.8 70h0M163.6 72.9h0M166.7 88.9h0M168.2 95.6h0M181.6 91.4h0M195.3 58.9h0M188.6 83.4h0M185.7 90.4h0M179.2 81.7h0M177.5 86.4h0M193.1 51.9h0M188.9 62.3h0M173.3 95.7h0M170.3 83.9h0M190 71h0M195.4 68h0M173 95.8h0M179.7 90.5h0M193.8 58.7h0M181.7 68.4h0M188.6 83h0M178.2 54.9h0M191.2 80.5h0M198 94.8h0M190.1 81.5h0M173.9 95.1h0M183.3 61.5h0M168.6 59.3h0M198 94h0M182.3 84.6h0M174.4 95.2h0M171.9 55.9h0M192.7 55.1h0M180.3 84h0M164.4 87.1h0M183.3 51.6h0M164.5 75.8h0M163.9 53.4h0M169.5 73.5h0M185.2 93.8h0M179 87.2h0M168.7 88.2h0M164.5 72.7h0M197.5 82h0M176.7 83.3h0M167.4 70.7h0M187.3 95.4h0M175.9 95.2h0M187.6 96h0M193.8 95.8h0M192.5 94h0M181.4 72.4h0M196.3 61.1h0M167.7 72.2h0M236 114.3h0M238.4 117.8h0M233.1 113h0M207.4 118.7h0M215.3 116.6h0M216.9 120.2h0M215.6 114.6h0M237.1 114.6h0M216.2 111.8h0M213.2 120.1h0M207.3 110.3h0M233.3 118.2h0M231.7 121.3h0M235.3 118.7h0M235 111.4h0M234.3 112.8h0M220.8 120.3h0M223.4 112.8h0M237 115.6h0M227.7 121.1h0M207.1 117.9h0M213.9 117.5h0M214.6 113.9h0M219.5 114.5h0M232.3 110.9h0M221.9 107.5h0M212.6 108.9h0M211.7 118.6h0M218.9 109.7h0M218.9 114.6h0M231.9 121.2h0M223.4 113.5h0M234 110.1h0M206.1 118.9h0M228.4 116.1h0M221.9 117.9h0M216.9 115.9h0M211.6 113.8h0M239.2 71.9h0M235.2 106.8h0M234.7 109h0M213.7 104.3h0M230.1 55.9h0M213.2 94.3h0M215.9 79.2h0M205.9 63.4h0M216.4 106.9h0M235.5 78.9h0M234.1 66h0M222 97.9h0M234.3 94.6h0M214.4 87.2h0M221.4 76.1h0M237.1 73.6h0M208 91.2h0M221.7 108.8h0M216 109h0M231.1 106.1h0M212 67.2h0M215.3 82.1h0M229.6 85.9h0M208.3 106h0M235.4 99.8h0M216.4 94.5h0M206.8 80.2h0M233.6 57.4h0M217 81.8h0M239.5 67.7h0M262.3 114.5h0M264.5 117.4h0M271.6 116.3h0M268.6 121.1h0M260.4 118.7h0M258.8 116.1h0M273.7 118.7h0M259.5 111.3h0M272.6 118.2h0M262.5 105.6h0M281.9 120.1h0M269.4 109.9h0M271.9 109.6h0M268.5 116.5h0M267.9 118.4h0M252.8 118.2h0M252 110.8h0M280.1 113.6h0M265.8 119h0M261.9 120.2h0M255.4 116.5h0M256.8 110.6h0M263 118.4h0M256.8 116.8h0M264.3 120.5h0M262 120.3h0M254.1 119.1h0M272.4 107.3h0M258.3 109.7h0M255.9 119.5h0M280.6 109.1h0M254.6 112.3h0M264.4 105.7h0M258.7 115.9h0M263.6 108h0M270.2 114.6h0M284.1 117h0M281.4 113.9h0M264.9 109.2h0M265.3 109.7h0M277.3 117.8h0M263.1 114.5h0M259.9 121.4h0M272.9 120h0M251.3 121.1h0M256.2 115.1h0M262.5 110.1h0M264.2 119h0M282 105h0M249.6 112h0M281.7 117.8h0M268.9 110.4h0M274.7 113.8h0M275.7 121.4h0M266.3 112.4h0M268.1 106.9h0M251.5 117.5h0M284.4 118.7h0M259.2 119.5h0M258.1 111.8h0M265.2 116h0M249.9 121.1h0M284.1 119.3h0M260 120.2h0M280.5 117h0M253.3 119.4h0M276.8 115.6h0M269.6 114.8h0M255.8 120.3h0M256.9 108.3h0M279 110h0M278.3 118.9h0M249.5 114.6h0M274.8 116.4h0M261.9 107.8h0M252.8 111.8h0M273.8 115h0M271.9 121.1h0M276.5 111.2h0M276.6 119h0M283.1 115.1h0M279.6 113.3h0M269 111.8h0M255.9 114.1h0M259.1 116.2h0M261.2 119.3h0M268.1 116.2h0M249.1 105.8h0M261.5 108.7h0M255.2 117.2h0M255.9 120.5h0M254.3 116.4h0M273.6 110.8h0M250.1 113h0M268 106.1h0M268.1 110.9h0M257.3 117.8h0M269.7 117.1h0M261.9 117.5h0M276.8 117.5h0M261.3 107.7h0M282.2 116.7h0M277.4 117.3h0M255.1 111.8h0M261.3 115.2h0M257 113.8h0M257.3 115.3h0M272.7 120.9h0M277.5 108.9h0M260 103h0M283.7 113.1h0M255.5 106.8h0M282.8 109.7h0M251.7 115.9h0M285.3 112h0M263.8 116.8h0M257.5 114.4h0M271.1 112.7h0M260.6 111.9h0M284.4 119.8h0M250.4 121.3h0M257.5 104.2h0M276.7 120.1h0M274.8 121.1h0M278 117.4h0M267 117.1h0M254.1 115.8h0M283.9 117.4h0M278.2 112.6h0M284.2 116.7h0M278.3 117.2h0M253.8 97.4h0M275.9 119.6h0M275 107.3h0M276.6 109.2h0M281.9 112.1h0M262.2 119.8h0M281.8 115.7h0M284.5 120.7h0M262.2 110.6h0M258.4 121.2h0M260.6 112h0M252.5 119.4h0M270.1 115.4h0M271.6 108.7h0M268.4 120h0M257.6 113.5h0M248.8 105.9h0M279.5 114.7h0M284.2 107.6h0M283.4 114.9h0M257.2 117.7h0M269.5 118.6h0M282.5 116.4h0M263.6 113.7h0M249.7 108.3h0M280.4 110.7h0M254.2 112.1h0M267.9 108.5h0M270.3 100.7h0M252.1 108.1h0M257.3 119.5h0M281.4 109.3h0M259.6 107.5h0M252.6 112.2h0M258 108.9h0M283.4 100.2h0M271.6 116.1h0M250.1 112.8h0M268.3 120.8h0M283.2 109.8h0M255.2 118.3h0M283.6 108.8h0M266.8 114.7h0M268.4 118.1h0M257.7 104h0M254.9 119h0M249.9 116.7h0M269.1 109.3h0M249.2 113.9h0M256.7 112.7h0M268.5 108.7h0M263.7 112.4h0M252.7 113.7h0M249.5 111.3h0M253.9 114.1h0M264.8 111h0M268.5 109.1h0M272.9 121.2h0M272 107.5h0M279.3 117.2h0M267 119.8h0M271 107.3h0M268.4 118.6h0M280.1 120.1h0M281.3 118.6h0M274.2 113.8h0M258.6 117.7h0M270.4 113.1h0M271.6 120.5h0M268.5 116.9h0M250.8 113.4h0M260.4 120.5h0M267.1 119.9h0M251 114.4h0M268.6 114.6h0M269.9 120.1h0M248.8 114.7h0M263 110.1h0M254 109.6h0M257.1 114.2h0M262.1 111.7h0M261.9 118.5h0M284.4 106.8h0M276.6 117h0M284.8 119.6h0M248.8 115.1h0M284.3 119.7h0M272.2 106.1h0M275.4 120.1h0M267 120.1h0M250.8 110.5h0M266.8 105.5h0M264.8 113.3h0M266.9 118.9h0M282.2 111.2h0M268.2 110.1h0M277.4 106.1h0M269.1 115.6h0M264.3 120.9h0M270.2 112.1h0M275.5 109.1h0M255.1 117.8h0M249.5 120.7h0M255.7 108.2h0M259.8 109.4h0M264.3 119.7h0M280.3 115h0M274.9 108.5h0M276.9 120.7h0M269.6 118.8h0M259.2 114.6h0M278.5 101.8h0M278.3 116.9h0M253.1 118.3h0M252.8 119.7h0M273.8 110.7h0M281.5 109.9h0M273.3 113.7h0M250.7 111.7h0M273.6 120.3h0M265.4 120.8h0M254.1 110.5h0M268.1 118.3h0M277.6 104.2h0M277 110.8h0M277.3 120.4h0M249.5 112.8h0M254.7 114.9h0M283 111.7h0M262 120.7h0M285.2 116.7h0M271.2 116.9h0M256.7 113.6h0M257.8 109h0M259.1 121.1h0M276.2 116h0M271.2 108.9h0M260 116.6h0M283.9 116.3h0M278.9 121.4h0M279.1 118.4h0M257.2 116.5h0M255.2 121.2h0M249.4 119.9h0M273 110.9h0M251.4 116.2h0M281.6 117.7h0M272.5 119.1h0M270.2 121.1h0M257.2 118.8h0M262.4 115.1h0M269.3 117.8h0M271.6 108.3h0M271.7 120.5h0M274.8 104.4h0M275.5 114.4h0M269.7 117.5h0M260.9 117.8h0M259.9 115.7h0M251.2 109.8h0M257.3 111.9h0M274 110.9h0M266.2 117.6h0M263.2 115.5h0M259.8 112h0M252.7 113h0M257.4 106.2h0M280.1 118.9h0M283.2 114.9h0M281.4 106.1h0M265.4 113.2h0M271.1 120.9h0M268.5 120h0M260 108.8h0M259.1 113.4h0M254.7 117.1h0M258.9 119.4h0M265.7 119.9h0M279.8 119.7h0M268.1 118h0M269.2 114h0M271.3 107h0M283 117.8h0M254.9 106.7h0M260 104.3h0M253.6 114.6h0M274.9 109h0M254.4 104.5h0M257.8 118.2h0M270.6 121.3h0M283.7 115.8h0M253.6 117h0M270.9 107.5h0M276.8 109.2h0M262.1 115.5h0M271.1 114.9h0M273.4 120.7h0M279 121h0M255.5 113.2h0M256.3 120.8h0M263.7 111.8h0M260.6 111h0M275.4 118.6h0M263.2 119.8h0M263.3 110.3h0M263.6 116.2h0M265.1 110.9h0M257.1 100h0M267.7 108h0M254.5 120.6h0M258.8 111.7h0M270.6 119.8h0M250.5 115.5h0M270.6 119.2h0M269.2 118.2h0M264.5 109.1h0M258.1 115.6h0M259.1 105.1h0M276.9 108.7h0M273.2 108.1h0M277.3 107.3h0M265.6 109.8h0M249.7 113h0M251.1 102h0M253.5 118.7h0M251 110.7h0M256.2 119.7h0M280.6 109h0M264.5 120h0M255.7 120.6h0M268.9 120.8h0M269.3 115.1h0M263.5 107.8h0M275.7 111.8h0M276.9 120.6h0M265.6 117h0M259.8 113.2h0M267 113.8h0M257 119.4h0M261.6 120.1h0M262.9 117.3h0M277.1 108.5h0M270 114.4h0M282.5 117h0M276.8 112.4h0M259.3 114.4h0M262.7 106.3h0M261.1 120.3h0M271 120.5h0M267.9 117h0M268.9 107.9h0M252.9 121h0M249.9 109.7h0M279.3 121.4h0M262.6 104h0M251.6 117.4h0M261.1 111.7h0M273.7 110.6h0M253.7 121.3h0M273.1 110.8h0M263.7 121.2h0M265.1 120.5h0M270.1 103.2h0M280.2 110h0M275.8 113.1h0M268.8 120.8h0M274.8 107.3h0M277.2 121.1h0M275.1 113.5h0M265.3 117.3h0M265.9 112.2h0M254.3 120.1h0M266.6 116h0M261.7 107.3h0M259.6 111.1h0M259.9 115.1h0M265.3 112.5h0M277 121.1h0M265.6 105.8h0M282.8 108.7h0M271.3 120.3h0M275.2 118.9h0M267.4 116.8h0M280.9 114.4h0M267.2 115.6h0M260.1 115.7h0M260.8 111.7h0M270 110h0M282.7 120h0M255.1 117.2h0M280.1 112.7h0M265.2 115.2h0M266.4 110.5h0M273.2 120.4h0M276 120.5h0M281.5 119.6h0M274 109.7h0M268.1 120.7h0M276.5 117h0M276.7 118.3h0M273.9 111.6h0M253.8 111h0M271.8 116.3h0M257.6 103.5h0M272.7 110.9h0M266 118.4h0M278.1 113.9h0M285.3 118.5h0M268.8 120.5h0M251.1 113.5h0M257.3 104.5h0M272.4 121h0M256.6 118h0M273.4 112.3h0M283.1 103.5h0M271.4 105.6h0M279.9 116.7h0M279.8 116.8h0M269 114.3h0M253.1 120.8h0M272.1 104h0M283.2 120.3h0M251.1 120.6h0M281.5 114.3h0M271.6 120.5h0M266.1 103.1h0M251.4 113.9h0M255.2 120.7h0M284.3 119.9h0M264.8 104.4h0M262.1 105.2h0M263.2 91.6h0M253.8 95.4h0M277.8 102.6h0M274 101.2h0M285 105.9h0M276.4 95.7h0M272.6 91.8h0M250.7 100.1h0M276 105.9h0M268.3 95.8h0M273.3 103.6h0M278.6 93.3h0M257.1 104.9h0M278.8 97.2h0M264.4 91.3h0M284.4 100.4h0M262.6 105.9h0M249.2 103.5h0M264.5 105.9h0M256.9 94.6h0M276 103.9h0M252.6 92.9h0"/>
<path stroke="#1f9ad6" stroke-width="1.25" stroke-linecap="round" d="M47.3 134.1h0M56.4 136.4h0M38.6 135.6h0M49.7 136.3h0M33.4 135.4h0M66 135.5h0M35.6 134.2h0M50.5 135.2h0M61.9 133.8h0M39.6 136.5h0M46.2 137.7h0M44.8 132.8h0M41.9 134.5h0M47.2 135.8h0M44.7 133.6h0M65.9 135.6h0M39.9 135.9h0M36.7 136.5h0M61.2 134.6h0M40.2 137.5h0M44.7 135.9h0M48.9 133.3h0M51.8 133h0M62.7 133.4h0M45.6 133.4h0M32.1 136.1h0M42.2 133.4h0M47.5 136.1h0M55.8 134.5h0M34.1 135.7h0M64.7 137.2h0M54.9 132.6h0M32.4 136.8h0M35.7 133h0M40.4 135.9h0M64.6 136.6h0M38.1 135.6h0M56.1 135.8h0M60.4 137h0M51.2 137.1h0M47.8 136.1h0M40.5 133h0M49.8 132.7h0M49.7 134.7h0M51.5 138.4h0M48.9 135h0M56 135.9h0M66.7 132.8h0M55 136.2h0M56.6 137.3h0M43.9 136.2h0M64.4 132.7h0M57.9 134.7h0M45.2 135.2h0M51 136.3h0M47.2 135.5h0M61.8 133.8h0M50.2 133.4h0M50.3 136.3h0M43.9 133.4h0M42.8 134.5h0M33.4 134.9h0M64 135.3h0M32.2 133.2h0M65.3 134.7h0M64.8 134.4h0M54.3 135.1h0M56.6 133.1h0M56.1 134.5h0M38.5 132.7h0M60 136.5h0M61.7 135.6h0M52.3 133.4h0M43.5 134.7h0M55.2 138.3h0M33.4 133h0M61.3 135.6h0M32.5 133.9h0M53.4 138.2h0M46.9 132.9h0M55.3 133.3h0M32.2 135.7h0M36.4 139.1h0M36.7 132.6h0M58 133.4h0M33.8 135.7h0M57.8 136.6h0M54.7 135.5h0M48.6 137h0M57.9 132.6h0M32.5 135.6h0M43.2 135.6h0M38 136.4h0M45.3 135.1h0M47.8 136.3h0M45.1 136.3h0M54.7 133.8h0M66.1 137.1h0M52.5 134.2h0M57.4 137.3h0M44 136.3h0M53.7 133.7h0M47.5 135.8h0M53.7 137.9h0M61.2 133.8h0M47.3 135.1h0M61.5 138.5h0M61.3 137.1h0M52.6 133.8h0M56.7 135.6h0M44.5 132.7h0M39.2 135.6h0M65.6 133.2h0M48.8 133.1h0M41.2 136.2h0M35.2 135.5h0M59.9 133.1h0M64 134.3h0M49.2 135.3h0M38.5 136.2h0M45.1 134.5h0M37.4 132.7h0M68 134.4h0M60.4 133.2h0M53.6 133.8h0M33.2 137.4h0M63.3 134.3h0M60.1 134.2h0M66.2 137h0M41.2 132.6h0M39.3 133.2h0M52.1 136.9h0M48.5 137.5h0M53.6 134.1h0M36.3 137.2h0M55.1 138.5h0M56.2 133.9h0M66.9 137.7h0M40 132.7h0M64.6 137.8h0M62.2 132.7h0M55.3 135.8h0M34 133h0M56.4 133.1h0M53.4 136.6h0M41.3 133h0M49.4 133.1h0M56.5 132.6h0M57.9 133.5h0M40 137.6h0M63.3 137.5h0M35.5 137.9h0M62.4 134.8h0M61.7 134.7h0M54.7 133h0M57.8 135.1h0M37.2 136.6h0M37.6 133.8h0M62.3 134h0M43.5 137.9h0M36.1 139.5h0M56.1 133.4h0M49.2 133.6h0M45.2 138.2h0M68 137.7h0M64.4 132.8h0M58.2 133.7h0M61.1 133.9h0M37.1 132.6h0M38.7 133.9h0M64.9 133.3h0M38.5 136h0M57.7 133.3h0M54 134.7h0M41.9 133.1h0M61.3 134.5h0M39.3 132.8h0M58.1 132.7h0M61.3 134.1h0M49.8 132.6h0M64.9 134.8h0M38.7 136h0M45.3 133h0M32.2 135.2h0M48.1 135.3h0M61.5 137.7h0M43.6 134.9h0M34.2 137.8h0M66.4 134.1h0M51.4 132.6h0M66.9 133.4h0M41 136.8h0M33.1 132.9h0M32.6 134.8h0M52.8 134.7h0M63.4 135.5h0M33.6 132.9h0M42.1 133h0M46.6 132.9h0M37.3 134.5h0M59 133.2h0M46 133.5h0M62.3 133.9h0M60 134.3h0M40.7 133.2h0M61 138h0M61.4 137.6h0M66.6 137.5h0M41 134h0M51.2 132.7h0M47.6 134.9h0M67 136.2h0M65.8 135.8h0M63.9 132.6h0M55.2 133.5h0M51.6 136.3h0M54.4 133.3h0M66.3 133.6h0M43 136.1h0M66.5 135.2h0M41.7 134.3h0M36.5 133h0M42.6 134.1h0M35.2 135.3h0M62.3 134.5h0M39.3 135.4h0M48.6 134.5h0M43.2 133.3h0M40 134.3h0M32.4 134.2h0M63.1 133.2h0M42.3 137h0M42.7 136.3h0M63.5 134.5h0M34.2 133.6h0M35.9 133.5h0M66.6 136.3h0M44.7 136.1h0M54.2 137.1h0M58.7 135.2h0M59.4 134.7h0M65 132.8h0M63.4 132.6h0M50 135.9h0M52.6 134.4h0M53.9 133.4h0M48.3 134.4h0M46.1 134.5h0M45.9 133.9h0M50 133.6h0M38.7 133.9h0M53 132.9h0M65.2 134.1h0M66.6 133h0M47.4 137.3h0M52.4 134.7h0M65.2 134.4h0M50.7 134.3h0M56.7 133.8h0M44.7 138.2h0M56.4 135.2h0M46.5 135.3h0M52.7 137.8h0M47.9 135.2h0M68 133.4h0M38.2 133.7h0M67.3 136h0M64.3 135.7h0M61.6 138.3h0M37.6 133.5h0M50.5 134.8h0M54.7 135.5h0M44.7 137.3h0M46.9 136.1h0M43.1 136.3h0M62.4 135.1h0M56.1 133.1h0M41.6 135.5h0M51.2 136.5h0M36.4 133h0M59.4 132.9h0M50.9 136.7h0M54.1 136.5h0M59.8 133.8h0M57.8 134h0M35.6 137.6h0M53 133.6h0M34 137.1h0M53 135.9h0M41 132.7h0M65.6 135.9h0M61.5 134.2h0M53.8 134.9h0M40.8 134.1h0M57.9 133.2h0M49.5 137.8h0M40.8 133.1h0M67.1 133.8h0M52.3 132.9h0M46.6 132.8h0M36.5 136.1h0M38.9 133.7h0M40.6 132.7h0M37.6 135.2h0M35.3 133.6h0M48 136.1h0M61.1 133h0M45.6 138.6h0M39.5 136.5h0M48.3 133h0M57.5 133.7h0M45.3 133.3h0M54 133.4h0M50.5 134.7h0M41.8 135.3h0M52.5 134h0M46.1 132.9h0M43.6 136.7h0M35.9 134.6h0M42.7 132.8h0M43.2 133.6h0M42.2 134.6h0M64.8 137.3h0M36.8 133.3h0M33.1 135.3h0M46.9 135h0M57.2 133.6h0M54.7 133.1h0M36.2 136.8h0M33.5 132.7h0M37.8 138h0M42.9 139.1h0M33.4 138.7h0M55 138h0M62.3 140.8h0M57.9 138.3h0M47.7 142h0M44.6 137.5h0M62.1 143h0M42.3 137.5h0M62.8 141.1h0M33.7 138.3h0M36 143.2h0M39.6 144.8h0M59.1 137.6h0M57.1 139.2h0M59 143.7h0M42.2 137.6h0M66.2 139.5h0M65.6 142h0M58.7 143.7h0M54.7 139.7h0M34 142.1h0M47.5 140.2h0M65.5 137.8h0M91.2 132.8h0M78.5 133h0M92.7 133.2h0M79.5 132.8h0M88.4 135.2h0M77.7 133.3h0M102.5 136.3h0M106.7 132.8h0M109.8 135h0M106.9 133.5h0M78.2 133.9h0M102 132.8h0M91.8 134h0M88.4 133.1h0M111.3 134.8h0M99.1 135h0M76 134.7h0M83.7 134.2h0M97.4 136.5h0M109.9 137.5h0M106.6 134.3h0M83.4 135.2h0M108.3 132.8h0M91.3 133.1h0M82.1 134.7h0M89.9 135.1h0M75.6 137.8h0M93.9 138.9h0M93.2 137.4h0M105.8 133.3h0M111.9 134.8h0M86.9 135.3h0M87.7 136.6h0M81.1 137h0M75.1 135.5h0M95.8 137h0M80.2 133.9h0M80.6 133.2h0M94.3 135.5h0M83.7 133.2h0M96.6 133.8h0M99.5 138.2h0M110.3 133.9h0M77 137h0M78.9 132.6h0M110.7 137.9h0M90.6 135.6h0M99.1 134.2h0M79.4 133.4h0M104.6 136.2h0M110.5 133.6h0M96.1 133.4h0M100.6 133.6h0M94.4 136.6h0M77.8 135.7h0M99.8 136h0M75.5 134.4h0M98.9 133h0M110.4 136.7h0M110.4 133.5h0M90.2 138.4h0M102.2 134h0M99.5 136.9h0M83 133.7h0M76.4 133h0M78 135.7h0M109.8 134.7h0M91.2 133.4h0M92.8 132.6h0M88.7 137.1h0M103.3 136.1h0M101 136.5h0M82.3 136.3h0M105.3 135.9h0M106.4 136.6h0M75.7 134.9h0M101.8 133.7h0M81.5 136.1h0M75.2 133.4h0M111.4 132.7h0M79.3 138.2h0M87.4 134.9h0M86.9 134.1h0M77.1 132.8h0M81.1 132.8h0M84.8 135.7h0M101.9 133.8h0M109.3 135.2h0M77 133.1h0M101.5 133.3h0M104.4 137.7h0M82.1 136.7h0M104.7 136.7h0M99.5 135.5h0M80.2 133.2h0M98.4 133.5h0M84.6 133.8h0M76.2 135.9h0M83.2 133.5h0M97.7 136.1h0M82.6 133.7h0M80.9 133.3h0M103.5 136.4h0M104.3 133.2h0M86.7 137.2h0M78.4 132.7h0M94 133.3h0M92.1 133.2h0M79.5 134.4h0M101.5 135h0M103.6 133h0M92.9 133.7h0M99.7 133.3h0M101.3 137.4h0M88.8 135.5h0M97.9 132.8h0M91.9 135.6h0M111.2 137.7h0M79.8 134.4h0M77.6 135.9h0M103.5 134.9h0M78.6 138.3h0M77 133.8h0M79 132.8h0M81.1 135.2h0M81.5 136h0M90.8 134.2h0M110.9 133h0M84.7 137.7h0M92.5 136.2h0M97.3 133.4h0M102.1 133.1h0M82.2 139.3h0M87.6 133.8h0M84.5 135h0M106.5 133.9h0M81.5 136h0M90.5 137.3h0M106.9 136.3h0M97.4 137.4h0M110.1 134.3h0M84.9 133.6h0M88.9 134h0M83.5 137.7h0M90.2 136.5h0M84.1 136.3h0M104.7 137.7h0M105 133.2h0M99.2 134.3h0M94.9 133.8h0M105.3 134.4h0M107.4 132.9h0M109.6 135.8h0M76.9 135.8h0M95.3 134.2h0M103.9 138.6h0M83 134h0M87.1 132.7h0M104.4 133.5h0M102.4 133.3h0M92.1 134.6h0M86.5 134.1h0M108 135.3h0M86.6 136.2h0M96.2 132.8h0M94.2 134.3h0M90.4 136.9h0M88.4 133.9h0M110.4 137.2h0M76.4 136.4h0M91 135.9h0M94.4 137h0M104.1 134.2h0M104.6 133.7h0M107.6 136.9h0M101.2 138h0M82.5 133.6h0M82 135.9h0M93.5 137h0M111.9 136.4h0M104.4 133.4h0M103.1 136.5h0M88.4 137.6h0M93.6 137.5h0M108.2 135.1h0M95.7 133.1h0M98.3 135.6h0M84.6 133.8h0M90.6 134.7h0M75.3 134h0M101.5 136.4h0M94.1 133.3h0M97.3 137.8h0M101.6 137.4h0M101.3 135.9h0M109.1 132.8h0M109.8 134.7h0M104.4 136.1h0M80.3 133.6h0M87.5 134.5h0M84.1 133.4h0M97.9 134h0M81.1 133.5h0M86.7 135.1h0M81.9 133.7h0M93 138.7h0M92.4 133.2h0M81.3 132.8h0M100.9 136.9h0M90.7 134.2h0M100.5 134.7h0M96.2 132.6h0M106.4 135.5h0M109 134.8h0M91 133.4h0M102.1 137.1h0M80.4 134.5h0M96.8 134.9h0M87.6 136.6h0M81.8 132.9h0M108.1 137.5h0M92.8 134.9h0M88.5 136.6h0M109.3 136.4h0M92.7 133.7h0M104 133.8h0M88.7 133.7h0M94.9 134.1h0M87.3 137.6h0M75.9 133.5h0M77.3 137.1h0M77.2 133.7h0M102.1 137.8h0M95.4 136.1h0M78.4 136.9h0M102.6 137.3h0M89.3 132.9h0M97.1 136.5h0M76.5 132.8h0M101.2 135.7h0M79.2 133.2h0M99.8 139.2h0M88.4 136.8h0M84.4 133.5h0M111 137.8h0M81.7 133h0M88 137.2h0M100.1 132.7h0M91.3 135.8h0M107.5 135.1h0M87.5 135h0M108.8 134.8h0M80.3 133.1h0M75.3 137.6h0M104 135.9h0M90.3 135.9h0M96.1 134.5h0M110.3 139h0M97.7 133.7h0M108.4 137.1h0M104.1 138.2h0M86.8 136.3h0M84.8 136.2h0M93.1 134.1h0M109.1 132.9h0M80.6 135.8h0M96.2 136.4h0M109.4 132.8h0M103.7 132.9h0M107.2 134.8h0M101.8 133.5h0M78.7 134.1h0M101.7 133.3h0M88.7 136.8h0M109.8 136.6h0M104.9 136.9h0M91.9 135.1h0M92.5 133.1h0M102.7 133.1h0M111.5 134.9h0M102.3 133h0M84.3 136.1h0M76.3 135.5h0M108 132.7h0M92.2 134.6h0M87.7 135.8h0M81.9 133.1h0M81.9 134.6h0M87.5 133.3h0M104 133.5h0M108.7 133.6h0M110.8 135.8h0M98.3 135.4h0M78.7 136.5h0M104.7 135.9h0M92.2 136.2h0M110.5 138.4h0M95.5 134.8h0M81.3 132.9h0M85 134.2h0M95.5 143h0M96.8 138.4h0M107.7 139.5h0M110.4 145.8h0M80.3 141.2h0M110.7 139.6h0M95.2 139.1h0M76.2 138.5h0M79.7 138.9h0M98.3 141h0M110 142.2h0M88.4 145.3h0M98.4 140.8h0M106.8 142h0M88.4 141.4h0M86.2 145.6h0M84.1 145.6h0M77.5 138h0M95.5 138.5h0M93.8 138.2h0M105.9 142h0M100.3 145h0M111.6 142.1h0M101.3 138h0M76.9 139.9h0M131.6 138.7h0M155.7 135.9h0M155.7 132.6h0M139 136.6h0M147.5 136.1h0M139.2 145.6h0M136.8 132.8h0M136.2 132.6h0M128.1 140.9h0M135.1 138.9h0M143.7 133.9h0M145.9 134.3h0M130.1 136.7h0M145.9 140.1h0M124.9 144.1h0M123.9 133.5h0M127.8 138.1h0M153.9 136.6h0M146.7 139.8h0M154.3 144.5h0M118.8 135.7h0M134.6 145.9h0M119.2 143.2h0M152.4 135.3h0M126.3 133.4h0M125.1 135.2h0M140.2 137h0M147.6 143.8h0M131.3 145.5h0M136.3 135h0M123.4 143.2h0M153.4 143.4h0M119.6 141.4h0M149.9 137.2h0M137.2 141.5h0M134.4 149.5h0M125.4 142.8h0M122.8 133.9h0M138.3 134.2h0M141.9 142.7h0M123.1 134.6h0M153.6 135.2h0M133.4 141.2h0M152.1 135.3h0M139 149h0M147.6 144.6h0M141.1 133.4h0M148 141.3h0M130.3 138.4h0M119.9 147.3h0M132.9 138.8h0M129.7 139.3h0M119.3 140.2h0M144 138.2h0M155.2 146.2h0M145 141.4h0M141.3 132.7h0M140.9 141.8h0M128.7 132.8h0M119.9 133.6h0M156 142.1h0M152.3 141.6h0M140.4 133.2h0M118.4 138.4h0M120.5 151.7h0M150.2 144.7h0M119.9 138.9h0M123.8 138.5h0M148.7 133.8h0M128.4 134.5h0M135.7 137.1h0M137.7 137.3h0M155.8 134.9h0M130.2 133.6h0M134.1 132.8h0M151.6 140.1h0M146 141h0M126.1 141.2h0M140.9 143.3h0M149.5 144.6h0M155.4 133.6h0M145.7 142.8h0M142.9 139.7h0M153.2 140.2h0M143.2 137h0M140 133.7h0M134.4 136h0M132 137.2h0M134.5 136.9h0M118.9 141.4h0M133.3 136.7h0M127.4 132.7h0M151.4 144.3h0M130.6 133.1h0M152.1 143.4h0M144.8 144.4h0M136.1 136.9h0M151 148h0M122.6 142h0M135.7 133.8h0M120.6 145h0M143.5 138.7h0M152.1 144h0M140.6 136.8h0M127.8 144.6h0M127 135.7h0M140 134.7h0M125.2 142.8h0M130.8 147.4h0M141.3 133.4h0M133.9 139.1h0M119.6 133.4h0M139.5 133.9h0M152.4 140.1h0M128 139h0M124.2 136.1h0M134.9 145.3h0M123.3 134.8h0M130.9 136.9h0M136.3 135.9h0M147.6 139.2h0M127.8 148.5h0M138.2 139.8h0M123.4 145.5h0M131.9 138.9h0M126.1 134.2h0M131 140.8h0M145.2 137.3h0M120.9 135.3h0M139.1 137.2h0M127.7 135.4h0M148.3 144.5h0M144.8 143.4h0M120 133.9h0M128.1 139.4h0M134.6 134.3h0M155.5 141.7h0M155.5 135.2h0M150.4 133.4h0M152 135h0M122.1 134.8h0M142.7 136.8h0M129 136.7h0M119.9 142.3h0M131.6 133.5h0M127.7 134.3h0M142.2 139.4h0M151.4 133.4h0M124.9 134.3h0M139.3 141.4h0M152.2 139.9h0M119 136.1h0M123.7 139.9h0M129.5 142.3h0M144.4 133.3h0M133.8 133.4h0M143.3 136.1h0M133.6 133.7h0M132.9 137.6h0M148.6 133.2h0M130.8 148.9h0M147.3 136.5h0M148.1 140.1h0M122 145.2h0M130.5 136.5h0M145 142.4h0M148.5 143.5h0M147.2 142h0M132.4 137h0M135.8 146.5h0M131.2 134.7h0M151.8 136.1h0M144.6 137.9h0M139.3 135.3h0M128.7 144.8h0M121.5 134h0M154.8 132.9h0M139.3 137.2h0M133.8 141.7h0M122.2 134h0M143.8 141.2h0M153.6 132.8h0M118.7 134.9h0M138.4 141.1h0M124.2 140.4h0M133.4 136.8h0M128.8 146.2h0M129.8 138.7h0M136.7 139.7h0M144.2 139.2h0M139.6 137.7h0M118.6 143.1h0M145.4 138.5h0M131.1 140.5h0M149.5 137.7h0M120 133.6h0M121.2 138.7h0M135.3 133.2h0M152.7 141h0M130 139.1h0M131.4 150h0M149.6 133.1h0M123 136.7h0M155.7 145h0M154.6 134.7h0M128.7 133h0M138.3 135.2h0M140.9 134.8h0M146.1 140.5h0M135.9 134.7h0M119.8 137.2h0M150.9 142.9h0M150.7 141.6h0M128.6 141.9h0M155.6 133.6h0M131.5 139.7h0M122.6 140.7h0M130.8 136.9h0M125 141h0M120.7 137.5h0M146.1 147h0M132.4 145.4h0M138.6 145.3h0M154.2 135.3h0M139.5 134.6h0M154.2 141.2h0M128 145.4h0M154.1 135.1h0M132.2 139.6h0M143 133.6h0M153.2 133.1h0M123.7 133h0M156.1 138.9h0M155.1 146h0M138.5 133.9h0M146 140.1h0M150.2 135.2h0M125.8 142h0M119.2 138.1h0M153.2 137.1h0M125.3 136.2h0M118.4 133.2h0M145.3 133.7h0M151 148.6h0M124.9 132.6h0M132.1 132.7h0M134.7 133.7h0M126.2 133h0M144.6 133.5h0M155.7 136.6h0M130.3 138.5h0M144.8 136.5h0M148.5 134.6h0M135.5 146.9h0M122.3 140.9h0M123.2 138.5h0M147 136.1h0M141.4 137.4h0M125.4 135.4h0M156 138.1h0M130.8 134.1h0M127.7 138.8h0M156.2 137.7h0M143 142.8h0M126 136.4h0M129.9 137.9h0M146.5 142.4h0M118.4 133h0M119.7 138.5h0M142.3 134.5h0M150.7 137.9h0M141.8 138.5h0M128.3 144.1h0M130.5 144.1h0M137.3 132.8h0M149 133.7h0M147.8 135.8h0M134.9 145.4h0M153.1 144.3h0M123.7 132.7h0M149.8 139.7h0M128.4 143h0M138.5 132.7h0M120.9 147.9h0M152.5 145.3h0M122.5 141.6h0M149 142.9h0M118.8 133.2h0M150.2 141.5h0M150.8 133.5h0M130.6 132.6h0M147.5 142.5h0M140.3 146.8h0M154.8 132.9h0M146.7 134.5h0M155.8 133.1h0M134.8 133.9h0M144.9 138.5h0M147.4 135h0M144.9 146.3h0M130 143.3h0M133.8 137.3h0M121.2 133.3h0M120.1 142.4h0M146 140.6h0M149.6 142.5h0M126.9 138.3h0M123.9 145h0M142.3 145.9h0M137.6 133h0M129.8 135.8h0M140.2 140.7h0M140.5 142.5h0M155.5 142.7h0M123.1 133.5h0M123.3 132.7h0M137 132.6h0M126.1 132.6h0M128.2 134.7h0M131.9 136.5h0M119 143.1h0M118.4 134.2h0M152.4 138.2h0M152.1 133.9h0M137.3 140h0M141.7 141.8h0M142.1 139.5h0M118.9 144h0M151.1 148.4h0M124.8 136.8h0M125.9 145.6h0M132.8 140.3h0M128.2 138.8h0M132.8 133.2h0M148.5 134.4h0M142.6 141.2h0M138.2 143.6h0M138.6 133.8h0M127.5 134h0M151.9 141.3h0M121.6 134.2h0M119.3 133.2h0M139.8 142h0M127.4 140.8h0M138.4 136.8h0M134.3 138.4h0M150.1 146.2h0M145.5 138.2h0M154.7 145.6h0M139.8 136.7h0M127.1 143.1h0M136.8 138.8h0M145.1 148.8h0M148.6 135h0M143.7 139.4h0M131.8 132.7h0M136.1 138.5h0M136.6 133.1h0M124.8 136.7h0M138.4 137.6h0M123.4 132.6h0M129 135.5h0M130.4 138.2h0M118.5 133.7h0M126.1 135.8h0M154.9 138h0M140.1 143h0M149.7 135.2h0M119.7 141.7h0M120.8 141.3h0M132.5 139.5h0M132.3 136.6h0M152.2 134.6h0M155.5 133.7h0M126.3 144.7h0M148 142.3h0M148.4 133.7h0M149.2 137.1h0M152.1 137.9h0M137.1 133h0M124.5 139.5h0M124 136.9h0M136.1 133.4h0M145.7 141.2h0M141.4 146.9h0M120.2 142.9h0M124.5 135.2h0M140.4 138.7h0M136.1 133.7h0M130 140.4h0M153.9 145.7h0M133 137.5h0M128 142.8h0M137.5 144.6h0M152 138.5h0M137.9 144h0M125.4 135.4h0M141.5 133.3h0M146.7 137.8h0M151.6 134.6h0M120.1 133.3h0M155.1 136.6h0M145.5 132.7h0M122 139.2h0M135.2 136.5h0M122.9 133.2h0M120.3 134.2h0M155 138.9h0M123 142.8h0M156 137.9h0M122.8 135h0M142 146.1h0M118.7 132.6h0M128.3 143.5h0M122.5 144.9h0M141.4 132.6h0M141.3 140.1h0M122.6 134.1h0M143.1 133.2h0M148.5 139.6h0M131.8 143.6h0M139.7 142.8h0M132.3 135h0M142.5 133.7h0M140.4 134.7h0M119.1 138.7h0M130.2 140.4h0M142.2 134.8h0M128 137.5h0M147.3 138h0M131.8 135.6h0M153.9 134h0M121 143.4h0M144 136.3h0M135 141.9h0M148.1 142.4h0M140.5 133.4h0M119.5 141.5h0M140 139.1h0M136.1 137.5h0M129 138.9h0M118.4 135.9h0M125.8 138.2h0M153.4 142h0M121.6 132.8h0M143 136.6h0M119.7 138.3h0M120 133.3h0M152.6 140h0M153.3 147.1h0M142.8 145h0M149 136.5h0M123.8 143.7h0M120.7 138.9h0M154.5 140.5h0M140.1 134.1h0M130.9 133.8h0M143.2 140.5h0M152.6 146h0M138.9 147.4h0M136.9 133.2h0M155.6 138h0M152.5 137.3h0M145.2 139.1h0M128.7 137h0M124.3 137.2h0M143.2 133h0M128.4 147.9h0M129.9 132.9h0M147.8 132.9h0M145 137.6h0M138.1 134.3h0M144.7 133.5h0M139.8 140.7h0M145.2 137h0M119.1 136.9h0M119.8 149.5h0M124.3 141.7h0M129 141h0M146.4 134.5h0M149.9 139h0M127.9 135.2h0M132 133.3h0M136.9 137.4h0M151.6 133h0M138.6 139.7h0M128.1 134.5h0M153.8 142.3h0M155.1 135h0M131.9 133.1h0M137.3 145.5h0M128.8 142.3h0M120.3 144h0M154.3 139.9h0M133 136.2h0M151.2 142.3h0M130.7 132.6h0M143.1 133h0M121.2 142.4h0M155.2 134.7h0M142.4 132.9h0M124.3 140.8h0M155 144.6h0M145.5 135.8h0M149.5 140.5h0M125.1 135.2h0M130.6 144.1h0M156 132.9h0M120.6 137.5h0M131.9 137.7h0M150.7 137.7h0M135.7 143.1h0M128.8 137.9h0M123.8 138.4h0M148.6 139.5h0M123.5 146.2h0M120 141.2h0M134.3 143.3h0M134.8 136.1h0M128.9 147.2h0M125.5 133.5h0M145.6 132.8h0M143.9 137h0M134.7 135.5h0M138.5 135h0M145.1 134.9h0M135.6 138.6h0M134.6 133h0M122.6 133.9h0M143.4 136.5h0M152.7 134.8h0M123.8 142.1h0M140.2 135.3h0M134.5 137.6h0M143.2 138.3h0M154.2 137h0M142.5 133.3h0M132.4 134.8h0M137.7 135.1h0M144.3 139h0M154.5 150.1h0M150.1 132.7h0M123.2 148.4h0M141.8 136.3h0M134.4 133.6h0M122.9 143.3h0M140.1 143.1h0M128.8 146.2h0M126.2 139h0M121.3 137.7h0M138.1 143.5h0M129.9 144.2h0M127.1 140.9h0M145.1 138.3h0M122.6 138.9h0M139.4 136.8h0M137.5 132.9h0M131.5 134.8h0M125.4 146.3h0M141.2 137.8h0M125.9 132.8h0M139.7 132.7h0M119.1 133.8h0M155.9 138.6h0M138.1 132.7h0M150.8 132.8h0M150 138.1h0M121.1 140.9h0M126.6 142.5h0M141.7 144h0M154.3 135.3h0M152.2 141h0M147.2 139.4h0M155 151.2h0M131.1 141.2h0M148.7 135.7h0M133.3 141.1h0M151.4 132.7h0M118.8 139.5h0M121.6 146.8h0M126.8 133.7h0M133.9 137.3h0M139.3 141.7h0M135.8 137h0M144.5 133.3h0M147.1 135.9h0M131.7 133.5h0M151.7 145.5h0M125.2 142.8h0M150.8 133.9h0M131 138.2h0M129.8 141.1h0M133.2 137.3h0M145.1 137.3h0M143.4 141.3h0M129.2 139.1h0M154.6 134.7h0M124.1 144.2h0M137.9 132.8h0M124.9 136.5h0M152.6 137.6h0M122.6 140.3h0M142.9 133.1h0M146.5 139.5h0M152.8 140.2h0M145 144.2h0M120.7 136.9h0M151.4 140.7h0M146.5 141.7h0M132.5 139.5h0M138.4 142.3h0M124.4 136.9h0M150.5 141h0M119.7 150.4h0M125.9 132.8h0M146.8 132.6h0M123 137.1h0M131.4 142.9h0M137 146.4h0M153.1 143h0M139.7 139.2h0M126.6 134.6h0M141.6 136h0M149.7 133.1h0M150.4 137.7h0M144.7 136.4h0M145.6 140.3h0M146.8 132.7h0M142.2 138.6h0M136.4 136.9h0M146.7 133h0M140.6 135.1h0M126.1 135.1h0M151.7 140.6h0M128.5 142.3h0M142.2 133.5h0M138 137.7h0M152.8 138.8h0M121.1 144.5h0M145.3 142.3h0M151.7 133.1h0M148.7 139.8h0M135.9 147.1h0M154.6 135.9h0M146.2 139h0M137.5 134.9h0M128.2 145.5h0M144.4 136.8h0M140 142.6h0M155.1 134.5h0M136 133.1h0M119.5 146.9h0M148.5 143.6h0M132.4 140.1h0M154.3 138.6h0M118.5 134.9h0M122.3 143.1h0M144 135.2h0M145.2 135.5h0M149.9 142.4h0M140.3 140.5h0M130.6 142.7h0M139.6 133.7h0M118.8 132.9h0M135.3 133.8h0M146.7 141.9h0M130.3 140.7h0M133 145.4h0M128.1 144.2h0M130.3 142.1h0M151.7 143.3h0M145.7 141.8h0M150.5 133.2h0M147.7 138.9h0M120.7 137.7h0M133.3 139.1h0M138.7 140.5h0M128.7 134h0M122.6 144.6h0M132 143.8h0M151 148.1h0M120.8 134.9h0M137.3 132.7h0M144.1 134.2h0M123 136.3h0M122.2 143.3h0M151.6 132.9h0M143 134.4h0M149.4 133.5h0M126.7 146.5h0M146.9 133h0M123.8 142.1h0M143.8 134.4h0M151.3 140.3h0M144.5 143.1h0M147.8 139.4h0M140.7 138.2h0M128.8 136.9h0M126.4 132.6h0M145.6 134.4h0M137.6 138h0M137.6 140h0M151.7 138.9h0M122.8 134.3h0M130.2 135.6h0M156.1 141.8h0M132.4 142.2h0M142.1 144.6h0M132.5 144.7h0M123.8 141h0M134 135h0M152.2 145.6h0M147.3 134.1h0M125.9 136.1h0M125 139h0M133.9 135.5h0M144.3 137.3h0M146.9 144.7h0M129.4 135h0M154.9 139.6h0M139.1 132.9h0M155.5 134.1h0M140.7 133.3h0M149.1 141.3h0M125.1 135.5h0M121.4 134.4h0M124.9 145.2h0M155.1 133.7h0M123.6 136.8h0M148.2 138.3h0M148.6 136.4h0M145.7 138.5h0M147.2 134.3h0M150.5 142.5h0M124.2 143.7h0M128 142.8h0M145.5 141.1h0M142.6 141.6h0M118.7 145.1h0M138 139.5h0M153.4 137.5h0M136.9 132.8h0M139 136.5h0M126.7 136.3h0M146.6 139.4h0M123.1 139.1h0M146.5 141.4h0M154.7 140.4h0M143.1 136.9h0M133.6 146.3h0M143.4 138.9h0M123.4 143.9h0M140.3 139.9h0M145 142.4h0M143.6 134.1h0M142.6 144.9h0M121.7 145.3h0M138.5 133.1h0M134.2 141.2h0M137.6 142h0M122.7 146.4h0M126.2 133.7h0M126.6 136.5h0M139.5 138.9h0M134.5 142.4h0M119.2 133.7h0M149 133.4h0M138.2 132.8h0M122.5 140.2h0M136.4 136.7h0M156.2 132.9h0M139.2 146.3h0M147.8 133.3h0M155.3 140.8h0M141.2 134.4h0M132.6 139.8h0M121.7 138.1h0M137.5 141.8h0M149.1 139.4h0M125.9 141.7h0M118.9 134.5h0M146.3 132.7h0M151.5 133.6h0M141.6 141.6h0M154 137.7h0M147.9 140h0M147.7 134.1h0M141.3 142.1h0M125.1 140.3h0M149.4 144.9h0M143.8 136.4h0M123 133.2h0M128.9 134.4h0M151.5 138.3h0M152.3 143.6h0M127.5 137.6h0M130.1 146.4h0M131.2 137.5h0M138.9 148.4h0M154.6 145.2h0M138.2 152.8h0M125.8 158h0M136.7 157.3h0M153.2 154.1h0M144.6 152.5h0M123.3 150.8h0M120.7 147h0M155.5 149.5h0M123.4 150.4h0M120.6 153.7h0M127 147.3h0M142.4 161.8h0M118.8 156.2h0M140.4 151.3h0M134.3 146h0M131.6 152h0M131 163.8h0M131.2 159.5h0M149 158.2h0M136.9 151.5h0M150.3 146.5h0M126.8 146h0M136.9 150.7h0M154.5 161.9h0M133.7 151.5h0M122.3 157.1h0M138 146.9h0M151.5 146.1h0M125.6 151.1h0M156.1 146.6h0M128.4 158.1h0M131 161.9h0M119 147.6h0M130 159.6h0M122.2 155.2h0M151.9 163.2h0M148.8 146.1h0M136.6 147.4h0M122.9 147.6h0M146.2 153h0M123.2 148.1h0M120.8 161.8h0M146.9 151h0M154.7 163.3h0M126.1 147.8h0M125.6 154.2h0M140.8 151.9h0M147.6 152.1h0M130.2 155.1h0M154.3 146.1h0M136.7 146.6h0M146.6 150.3h0M150.1 155.1h0M154.7 153.1h0M140.9 163.2h0M148.7 148.8h0M122.2 161.7h0M120.7 161.7h0M153.7 154.9h0M154.3 153.7h0M177.8 133.3h0M162.9 141.5h0M181.9 141.5h0M193.1 133.4h0M187.2 135.6h0M193.1 133.9h0M195.5 133.8h0M186.1 138.1h0M183.9 145h0M182.9 148.7h0M171.3 144.4h0M170.1 140.6h0M182.5 148.2h0M188.4 133.6h0M192.3 141.3h0M165.9 134.5h0M189.9 140.9h0M196.3 133.5h0M170.5 136.9h0M192.5 144.2h0M173.9 138.2h0M181.5 134.1h0M192.9 142.3h0M170.7 140.4h0M191.5 140.8h0M170.4 137h0M173.1 136.5h0M188.1 137.8h0M163 139.1h0M193.1 138h0M198.3 132.8h0M189.7 135.5h0M186.3 142.1h0M174.1 134.9h0M185.6 140.1h0M164.9 133h0M194.4 151.5h0M189.1 137.3h0M181.4 141.3h0M178 133.9h0M181.7 137.6h0M184.7 132.9h0M181.6 133.2h0M186.6 136.9h0M167.9 145.9h0M164.1 138.8h0M176.8 136h0M167.3 140.7h0M181 136.9h0M168.1 134.4h0M182.5 138.2h0M175.2 139.1h0M183.4 135.3h0M193 146.8h0M191.8 141h0M173 142h0M172.1 137.4h0M166.2 134.2h0M191.1 142.8h0M198 134h0M191.2 140.5h0M165.7 139.2h0M188.2 132.9h0M179.1 137.8h0M182.4 141.2h0M181.2 133.4h0M180.4 133.7h0M189.6 134.1h0M172.6 143.4h0M184.3 134.5h0M164.9 140.6h0M186.8 145.4h0M164.7 141.7h0M162.8 132.7h0M188.7 145h0M163.9 136.7h0M173.9 134.2h0M185.2 133.6h0M185.9 133.8h0M171.9 140h0M186.2 143.7h0M186.5 140.1h0M183.4 136.5h0M182 138h0M195.5 141.8h0M183.8 137.1h0M164.5 143.5h0M167.7 132.7h0M195.3 133.1h0M190.1 137.7h0M172.5 140.6h0M170.5 136.1h0M183.9 141.8h0M188.5 133.7h0M166.1 132.6h0M179.1 137.7h0M169 134h0M180.3 142.4h0M179.2 143.2h0M164.2 134.4h0M169 137.4h0M173.1 136.6h0M164.8 136.4h0M194.6 137.6h0M185.6 137.4h0M167.3 134.1h0M191.1 133h0M187 138.7h0M185.9 136.6h0M177.2 144.2h0M183.1 134.4h0M179.1 135h0M192 143.2h0M173 137.1h0M191.3 136.9h0M193.7 133.4h0M176.9 132.8h0M179.8 135.6h0M197.4 136.2h0M195.6 143.1h0M181.3 142.4h0M166.1 137.8h0M193.8 136.1h0M169.1 134.8h0M186.9 147.9h0M180.5 132.8h0M168.1 135.3h0M175.8 138.7h0M189.6 145.9h0M182.5 138.4h0M182.3 138.3h0M186.4 144.2h0M187 141.1h0M183.1 141.9h0M185.9 132.6h0M169.6 136.4h0M197.9 135.9h0M193 136.9h0M194.8 138.6h0M173.1 133h0M179.8 132.8h0M197.4 134.9h0M168.2 135.6h0M191.5 133.9h0M181.8 134.9h0M180.1 141.8h0M162.8 134.8h0M186.5 135.1h0M194.9 133.5h0M184 133h0M163.9 134.8h0M173.1 132.8h0M185.2 134.9h0M190.6 138.8h0M190.5 139.9h0M162.7 142.4h0M178.3 145.4h0M187.9 137.5h0M184.6 132.6h0M187.7 145.6h0M185 140.7h0M171.5 138.3h0M189.6 136.5h0M173.6 133.7h0M177.2 141.3h0M162.5 143.7h0M174.8 143.9h0M187.3 136.5h0M191.9 137.8h0M186.9 136h0M169.3 139.4h0M168.1 136.8h0M165.5 137.3h0M189.4 142h0M164.6 141.1h0M198 134.6h0M170.2 135.7h0M171.4 138.5h0M191.7 144.8h0M185.4 135.2h0M162.4 144h0M173.2 143.1h0M196.5 146.5h0M179.3 132.8h0M170.7 133.8h0M173.8 132.9h0M172.9 142.9h0M193.1 132.7h0M188.6 141h0M191.1 133.4h0M197.1 138.2h0M163.3 139.7h0M188.1 134.5h0M173.4 136.1h0M193.7 140.2h0M188.4 140.1h0M196.8 137.3h0M173.1 135.2h0M177.8 139.3h0M164.2 135.3h0M183.4 132.7h0M188.8 137.5h0M168.3 141.8h0M177.4 138.1h0M187.4 134.5h0M191.2 141.1h0M187 139.7h0M175.8 143.7h0M183.8 135.7h0M197.7 138.8h0M188.9 136.7h0M186.7 136.5h0M181.2 133.8h0M189.2 134h0M169.4 136.5h0M162.9 137.4h0M192.4 139.9h0M176.6 132.6h0M165.1 134.8h0M172.6 138h0M187.5 139.3h0M162.7 143.6h0M175.9 135.4h0M167.6 136.4h0M166 133.9h0M166.1 142.7h0M164.4 136.6h0M172.9 137.4h0M187.2 134.1h0M185.2 138.6h0M169.9 143.1h0M193.1 136h0M179.6 132.7h0M169.6 144h0M196.7 135.7h0M183.3 133.9h0M195.2 136.2h0M181.2 136.6h0M188 136.7h0M167.7 134.3h0M197.5 139.9h0M183.4 138h0M198.1 147.4h0M197.9 142.7h0M196.8 135.5h0M191.1 138.8h0M192 136.1h0M197.1 134.8h0M184.7 143.1h0M167.5 133.4h0M173.7 142.2h0M166.6 134.3h0M172.3 137.8h0M170.5 132.9h0M193.3 141h0M166.9 135.5h0M170.2 136.7h0M194.7 134.8h0M198.5 140.4h0M196.5 143.5h0M175.4 139.7h0M179.5 133.1h0M167.9 140.8h0M177.8 143.3h0M172.6 133.1h0M169.6 136.6h0M180.2 142.5h0M178.2 137.7h0M166.9 134.2h0M184 133.8h0M197.3 142.3h0M163.4 143.3h0M170.1 141.6h0M182.7 133.9h0M163.5 140.8h0M190.3 133.7h0M178.1 138.9h0M184.4 134.2h0M167.7 135.3h0M166.2 137.7h0M177.1 132.8h0M162.9 148.1h0M172.6 136.3h0M166.9 137.3h0M173.6 134.2h0M177.3 132.8h0M175.7 142h0M171.3 134.6h0M174.9 135.1h0M163.8 133.4h0M192 143.4h0M187.4 133h0M186.7 134.9h0M179.2 137.9h0M196.5 141.4h0M175.2 138.4h0M167.3 137.7h0M186.4 137.1h0M169.7 143.4h0M180 134.5h0M198.3 142.6h0M195.3 142.3h0M196.4 134.1h0M165.5 141.2h0M164 136.3h0M163.9 143.1h0M197 134.5h0M173.3 144.7h0M198.4 134.3h0M182.4 136.6h0M197.5 144.3h0M192.1 136.3h0M186.3 133.2h0M197.8 134.5h0M180.2 135.7h0M171.7 141h0M178.5 140.7h0M180.9 135.8h0M190.2 135.3h0M187.4 142.2h0M191.2 134.6h0M196.5 137.3h0M193.6 133h0M186.4 137.3h0M164.8 147.7h0M170.7 142.2h0M183.7 134.5h0M181.5 135.5h0M181.9 135.8h0M171.7 146.9h0M176.9 134.7h0M175.6 137.1h0M174.2 144.7h0M162.3 138.7h0M184.9 134.7h0M175.4 134.3h0M182 143.4h0M171.6 137.9h0M170.1 138.3h0M177 138.8h0M165.3 142.6h0M192.9 135.5h0M190.9 137.8h0M172.4 134.6h0M198.1 139.5h0M186.5 135.6h0M166.9 139.7h0M183.8 135.1h0M190.4 138.6h0M178.5 132.7h0M179 136.8h0M197.1 133.7h0M176.1 132.7h0M163.4 134.7h0M178 143.8h0M187.7 140.7h0M167.2 147.8h0M192.1 136.2h0M187.7 133.4h0M174.4 135h0M165.1 142.2h0M180.8 132.7h0M182 134.2h0M181.2 134.8h0M195 132.6h0M189.3 136.7h0M193.5 136.2h0M165.3 134h0M181.2 139h0M181.1 137.7h0M179.7 140.3h0M164.6 142.2h0M187.7 133.7h0M195.7 137.4h0M188.1 133.3h0M185.5 137.3h0M193.9 138.6h0M197.1 137.9h0M165.4 137.3h0M180.5 133.4h0M165.1 136.6h0M179.3 138.5h0M187.5 139.7h0M193.8 132.8h0M169.7 133.8h0M165.8 137.1h0M183.1 142.8h0M172 137h0M166.7 139.6h0M180.9 133.2h0M176.8 133.3h0M162.2 137.3h0M163.7 142h0M175.4 144.6h0M171.3 136.9h0M176.2 139.8h0M191 136.7h0M187.3 144.5h0M178.2 135.8h0M163 145.9h0M196.8 132.8h0M167.5 141.6h0M193.8 139.3h0M169.3 136.1h0M178.6 134.8h0M172.7 134.2h0M172.5 135.7h0M196.7 133h0M169.3 137.2h0M188.3 141.7h0M178.9 136.5h0M198.2 134.3h0M196.8 138.7h0M182.7 140.4h0M165.1 134.1h0M169 142h0M165.4 134.8h0M181.2 143.5h0M187.3 135.5h0M193.9 135.3h0M168.8 134.7h0M187.1 135.6h0M177.4 145h0M196.5 132.9h0M198.5 135.8h0M187.2 143.7h0M192 139.3h0M196.4 144.4h0M170.2 135.4h0M169.9 141.7h0M166.2 138.2h0M193.8 142.4h0M190.3 132.7h0M162.2 133.8h0M188.7 138.4h0M165.4 134.6h0M192 142.3h0M178.1 143.5h0M176.7 135.6h0M175.3 138h0M171.7 138.2h0M177.4 133.3h0M173.5 135.5h0M194.9 145.1h0M172.9 134h0M189.8 143.1h0M195.2 136.7h0M176.7 142.3h0M165.3 137.6h0M182.3 140.4h0M196.4 135.6h0M169 132.8h0M162.2 133.2h0M195.1 137.3h0M165.4 133.5h0M189.4 133.6h0M174.7 136.3h0M167.8 132.7h0M194.1 147.2h0M187.2 134.3h0M166.3 132.6h0M181.4 135.3h0M179.7 138.8h0M195.9 138.2h0M198.1 143.7h0M187.3 138.7h0M169.1 140.6h0M167.7 137.6h0M197.3 137.1h0M186 139h0M172.6 133.7h0M193.8 136.1h0M172.9 140.6h0M190.6 145.4h0M165.5 133.8h0M197.2 133.4h0M166.9 137.7h0M176 140.3h0M177.5 134.5h0M180.7 139.2h0M187 139.9h0M195.6 133.2h0M190.4 136.5h0M196.4 135.3h0M173.8 133.1h0M164 133.4h0M172.7 132.7h0M188.3 137.9h0M197.7 135.2h0M184.1 138.1h0M166.7 140h0M184.8 141.9h0M179.9 137.5h0M183.7 137.1h0M173 138.5h0M166.4 138.4h0M164.2 140.3h0M162.9 144.3h0M173.1 143.6h0M186.5 135h0M191.7 137.4h0M170.3 135.6h0M165.2 134.7h0M177.3 137.7h0M183.8 137.8h0M179.3 140h0M167.3 136.3h0M194.1 136.8h0M192.8 141.2h0M174.2 134.6h0M177.3 141.9h0M163.1 136.5h0M195.8 137.3h0M196.2 137.2h0M180.2 136.4h0M189.2 132.9h0M185.7 141.4h0M178.7 135.2h0M166.1 133.7h0M191 136.8h0M172.3 134.5h0M188.2 138.1h0M188.2 139.6h0M190 132.7h0M175 133.5h0M195.7 135.5h0M167.7 141.2h0M178.1 141h0M181 141.2h0M184.7 134.7h0M180.2 136.4h0M187.5 140h0M187.5 139.8h0M194.3 138.1h0M192 135.7h0M182.2 148.7h0M183.9 135.7h0M171.4 134.3h0M181.4 140.3h0M190.6 140h0M174 139.6h0M165.5 135.5h0M189.6 139.5h0M163.2 139.5h0M163.7 134.5h0M165.7 138h0M167.3 135.6h0M191.3 132.8h0M169.5 138.6h0M173.4 139.7h0M181.3 137.5h0M191.1 137.8h0M174.9 143h0M183.9 141.2h0M180.6 136.5h0M179.4 134.1h0M193.6 139h0M181.9 141.6h0M170.9 137.6h0M171.7 134.6h0M190.5 135h0M168.2 137.4h0M172.7 134.5h0M185.4 137.5h0M187 143.5h0M181.1 142.6h0M193.4 133.8h0M162.8 136.7h0M181.9 135.2h0M166.3 140.7h0M172.4 133.1h0M178.9 134h0M178.3 133.8h0M178.3 139.2h0M186.7 133.7h0M165.2 136.2h0M184.8 136h0M191.8 141.8h0M191.9 132.9h0M176.1 134.3h0M183.6 133.6h0M198.4 137.1h0M197.3 137.9h0M183.4 137.8h0M179.3 142h0M196.1 132.8h0M185.4 133.1h0M167.2 140.3h0M171.2 141.2h0M178.4 143.1h0M175.1 138.1h0M166.2 135.4h0M172.3 141h0M197.5 140.4h0M165.3 143.1h0M197.1 136.6h0M167.3 132.7h0M182.3 143.8h0M164.8 133.1h0M196.2 142.8h0M163.8 139.5h0M173.9 135.1h0M172.9 134.2h0M182.6 143h0M172.4 132.7h0M169.8 136.3h0M196.5 139h0M181.9 140h0M193.6 146.9h0M162.8 143.4h0M179.3 147.8h0M165.2 138.9h0M166.5 137.4h0M164.1 139.1h0M165.5 134.8h0M183.2 141.1h0M185.3 143.7h0M169 144.1h0M195.5 135.9h0M170.4 142.5h0M166 143.5h0M166.8 139.8h0M183.1 138.8h0M187.9 142.3h0M181.1 134.8h0M171.7 139.6h0M189.9 142h0M163.1 138.5h0M163.5 141.2h0M162.9 142.6h0M170.3 141.7h0M193 135.3h0M197.5 135.8h0M175.5 139.4h0M164.6 144.2h0M198.1 132.8h0M187.1 143.8h0M169.4 146.2h0M179.3 142.4h0M189.3 136.8h0M171.9 133.1h0M169.5 135.1h0M173.8 133.4h0M170 135.8h0M198.1 141.5h0M196.3 137h0M191.1 136.4h0M186.5 138.7h0M196.2 137.3h0M188.5 137.5h0M194 144.5h0M183 132.7h0M165.9 133h0M169.3 142.1h0M189.7 139h0M191.1 140.1h0M173.7 139.3h0M175.2 132.6h0M184 133.3h0M166.4 143.8h0M174.1 144.1h0M179.8 137.7h0M191.6 133.9h0M169 134.4h0M190.8 142.6h0M168.6 135.6h0M175.7 140.5h0M184.9 134h0M175.7 137.8h0M183 139.7h0M171.9 133h0M162.3 143.8h0M188.8 142.2h0M193.1 141.9h0M163.4 134.7h0M183 134.4h0M170.3 132.7h0M170.7 132.7h0M192.8 134h0M163.7 138.3h0M191.3 134.2h0M182.5 135.1h0M180.8 137.6h0M189.4 142.5h0M177.9 133.8h0M182.6 133h0M173.5 133.6h0M192.1 133h0M175.2 142.2h0M196.4 141.1h0M182.6 136.1h0M164.4 142.1h0M170.5 133.9h0M164.3 133.6h0M190.9 136.6h0M162.3 134.9h0M184 136h0M174 144.8h0M178.2 144.9h0M185.8 140.9h0M192.5 133.5h0M172.3 133.8h0M167.3 132.8h0M163.2 133.3h0M187.7 138.2h0M163.8 138.1h0M196.1 133h0M174.9 133.1h0M192.7 140h0M182.4 137.2h0M182.9 135.9h0M170.8 137.4h0M190.4 137.1h0M187.2 134.4h0M194.4 135.7h0M189.8 134.1h0M168.9 138.8h0M166.9 134.3h0M175.5 141.9h0M185.4 137.3h0M162.3 136.5h0M197.3 132.6h0M180.9 134.9h0M178.1 139.2h0M189.8 140.6h0M165.9 135.8h0M169.1 141.1h0M183.2 142h0M193 135.6h0M177.4 147h0M193.1 144.5h0M196.5 136.1h0M171.7 138.4h0M197.6 134.2h0M165.2 137.2h0M178.7 135.2h0M167.3 142h0M186.5 141.7h0M175.2 134.6h0M176.5 132.6h0M174 141.4h0M190.2 136.7h0M166.7 139.3h0M195.1 135.2h0M180.7 137.8h0M170.9 135.6h0M192.1 142.5h0M198 137h0M190.9 139.5h0M162.2 141.9h0M174.2 144.9h0M188.8 138.1h0M192 148.7h0M173.9 141.3h0M165.5 134.4h0M196.8 135.1h0M164.6 134.1h0M177.8 137.9h0M163.5 143.7h0M179.9 138.2h0M179.9 142.1h0M174 137.9h0M194.8 140.6h0M177.6 134.6h0M181.2 144.3h0M179.4 147.6h0M188 141.5h0M171.3 134.6h0M173.6 134h0M189 139.5h0M197.4 137.1h0M179.5 135.2h0M173.4 135h0M182.1 140h0M198 140.1h0M184.3 138.8h0M178.6 137.5h0M164.9 148h0M179.6 135.3h0M174.4 142h0M177.3 138.1h0M166 132.7h0M185.8 132.6h0M189.1 135.6h0M164 133.7h0M187.8 145.2h0M196.9 140.4h0M175.1 139.9h0M168.5 136.6h0M196.6 137.3h0M180.5 139.8h0M171.9 138.4h0M173.5 136.8h0M197.5 135.2h0M170 138h0M164.4 133.6h0M170.8 141.3h0M190.9 141.7h0M191.8 136.2h0M196 133.5h0M176.5 135.9h0M181.5 136.4h0M172.8 141.1h0M196.9 137.7h0M179 136.6h0M170 139.4h0M187.3 140.9h0M187.2 133.6h0M192.1 132.7h0M180.6 140.4h0M190.5 140.1h0M166.4 133.3h0M186.7 142.2h0M175.4 142.1h0M190.9 151.3h0M177.2 142.3h0M169.7 138.4h0M187.4 133h0M195.4 133h0M184.8 134h0M190.8 141.4h0M177.3 148.1h0M170.6 136.3h0M167.4 133.9h0M181 139.5h0M185.2 139.7h0M172.1 137.6h0M180.5 142.4h0M176.7 146h0M166.6 135.4h0M165.3 146.4h0M180.3 133.2h0M181.1 143.4h0M198 144.1h0M183.6 132.7h0M162.3 135.7h0M162.8 132.9h0M174 133.4h0M172.1 134.2h0M195.3 132.7h0M170.5 138.9h0M176.2 135.2h0M191.2 134.2h0M177.3 132.8h0M181.6 133.4h0M168.6 150.2h0M168 132.8h0M194.7 135.2h0M174.7 135.4h0M179.2 138.9h0M172.2 133.4h0M162.3 135.8h0M192.9 137.3h0M169.6 134.5h0M167.6 139.3h0M186.1 135.1h0M188 134.3h0M190.4 134.7h0M189.6 138h0M181.3 133.2h0M185.1 140.3h0M184.9 139.5h0M197.8 141.8h0M164.2 138.8h0M170.3 138.6h0M164.4 135.8h0M174.6 135.8h0M178.7 140.9h0M166.5 138.1h0M174.5 134.8h0M182.3 133.2h0M195.8 132.8h0M189.5 141.3h0M184.8 135.6h0M171.1 141.9h0M178.9 140h0M189 134.9h0M164.2 137.7h0M166.4 139.3h0M170.1 135.2h0M170.5 140.4h0M173.8 145.2h0M183.9 133.9h0M198.3 141h0M170 138.3h0M190.7 137.6h0M169.4 139.1h0M164.3 137.8h0M195.5 135.5h0M194.1 142.4h0M173.1 140.7h0M194.2 132.8h0M172.7 133.6h0M170.5 137.6h0M180.8 137.2h0M182.5 136h0M175.5 133.5h0M170.5 137.1h0M176.4 134.1h0M189.2 133.6h0M172.4 138.4h0M179.4 135h0M186.8 141h0M190.4 139.1h0M182.9 132.8h0M163.9 133.4h0M192.1 133.3h0M181.3 136.2h0M171.9 136.8h0M178.9 134h0M189.1 133.9h0M195.7 136h0M189.3 143h0M194.7 138.8h0M176.1 137.1h0M175.9 139h0M191 139.7h0M172.7 141.5h0M179 135h0M169.1 134.4h0M181.5 132.9h0M193.4 139h0M180.1 139.4h0M196.5 132.6h0M182.7 144.7h0M195 138.4h0M167.5 148.8h0M194.1 134.8h0M177.9 133h0M187.8 137.9h0M173.6 134.1h0M179.9 139.2h0M176.9 137.6h0M179.8 143.9h0M194.7 139h0M168.1 135h0M167.2 143.9h0M170.1 133.4h0M190.2 141.4h0M189.5 150.9h0M197.9 146.1h0M168 135.1h0M181.7 140.4h0M190.2 146.2h0M179.5 147.8h0M169.1 135.1h0M186.3 142.7h0M186.8 132.7h0M173.5 132.9h0M186.1 136.6h0M191.6 136h0M165.2 137.8h0M180.4 144h0M171.1 137.1h0M192 140.2h0M190.1 139.8h0M166.1 136.9h0M170.6 135.5h0M174.5 143.8h0M167 137.1h0M178 143.6h0M167 137.4h0M192.4 134.6h0M197 141.9h0M168.5 140.3h0M181 142.3h0M179.7 138.4h0M189.7 133.3h0M194.9 132.6h0M187.1 139h0M189.3 143.3h0M170.5 137.6h0M195.9 136.8h0M173.7 133.2h0M191.5 137.5h0M174.5 133.4h0M192.9 136.9h0M178.2 136.2h0M187.8 135h0M180.8 137.3h0M174.7 133.1h0M197.8 140.1h0M167 134.2h0M174.6 135.3h0M174 137.6h0M173.3 132.9h0M189.9 141.7h0M191.8 133.2h0M188.4 138.3h0M179 136.4h0M179.5 140h0M182.4 135.8h0M168.4 144.2h0M164 134h0M189.3 136.6h0M196 141.5h0M175.3 144.2h0M188.9 142.9h0M191.1 136.3h0M171.9 142.5h0M193.1 140.4h0M175.3 136.1h0M195.9 142.2h0M177.2 143.2h0M195.8 143.5h0M188.1 133.3h0M178.8 132.6h0M177.1 140.6h0M186.7 145h0M174.3 136.5h0M171.4 143.5h0M185.7 134.4h0M172.3 146.4h0M167.5 135h0M189.8 146.8h0M180.7 133.9h0M182 134.2h0M192.5 141h0M193.5 139.8h0M192.6 135.5h0M196.3 145h0M184.5 139.2h0M177.5 138.1h0M183.7 143.2h0M187.8 133.4h0M190.2 135.7h0M189 134.3h0M169.3 146.6h0M182.2 132.7h0M166.7 136.4h0M179.8 138.4h0M194.7 135h0M189.3 133.4h0M192.2 132.9h0M189.2 134h0M193.2 133.8h0M198 138.8h0M190.9 144.9h0M177.7 134h0M189 138.1h0M164.5 137h0M186.5 140.9h0M162.3 135.3h0M172.5 134.5h0M170.3 138.3h0M197.1 139.3h0M194.7 143.3h0M169.2 136.2h0M175.3 133.9h0M167 133.6h0M192.9 143.6h0M162.3 138.4h0M197.9 133.5h0M188.6 138.3h0M188.8 133.6h0M166.1 132.6h0M191.7 138.3h0M185.1 139.8h0M163.7 136.8h0M174.7 144.3h0M175.6 133.3h0M181 137.3h0M194 143.5h0M173.9 133.5h0M193.9 139.6h0M193 148.5h0M168.5 136.6h0M181.4 136.4h0M177.1 137.9h0M177.3 142.7h0M167.8 137.7h0M162.5 137.6h0M197.2 141h0M180.4 133.5h0M166 132.8h0M197.4 145.7h0M182.2 137.9h0M175.6 137.8h0M170.1 134.5h0M173 140.6h0M163.7 134.6h0M190.8 135.9h0M184.8 132.8h0M191 133.2h0M177.2 135.9h0M167.9 140.8h0M169.7 133.4h0M196.8 132.8h0M195.1 140.3h0M187.8 132.8h0M172.8 132.9h0M192.9 141.8h0M185.6 140.2h0M197.2 139.5h0M174.6 144.2h0M185.8 132.9h0M194 145.3h0M181.4 132.9h0M178.4 142.7h0M175.1 136.4h0M174.3 136.5h0M180 140.2h0M174 144h0M176.1 139.9h0M178 136.5h0M180.2 133.1h0M195.6 142.9h0M186.3 139h0M176.9 136.8h0M164.1 133.1h0M170.8 132.7h0M175.1 140h0M198.2 141.6h0M189.8 137.8h0M162.5 136.9h0M175.4 138h0M167.8 144.3h0M175.7 135.9h0M169.1 140.2h0M196.6 133.5h0M193.7 140.4h0M162.4 134.1h0M191 141.5h0M165 143h0M185.5 135.1h0M171.7 137.7h0M162.5 141.8h0M178 138.8h0M187 140h0M175.3 144.6h0M180.6 139.5h0M180.3 135.6h0M164.4 142.1h0M167.1 142.8h0M187.8 135h0M180.1 132.8h0M172.6 142.6h0M184.7 138.8h0M184.7 137.8h0M173.1 134.2h0M178.9 141.6h0M179 143.4h0M168.3 138.4h0M189.9 136.5h0M168.5 137.4h0M173.2 134.4h0M179.4 139.3h0M170.3 137.6h0M189.4 137.5h0M180.5 145.3h0M184.4 136.6h0M189.9 141.7h0M162.9 135.1h0M179.3 137.6h0M169.6 140.5h0M192 135h0M170.6 138.2h0M164.9 142.1h0M162.6 139.5h0M162.5 135.3h0M189.4 141.8h0M179.7 134.1h0M166.9 134.2h0M174.1 146.8h0M162.9 137.6h0M172.7 141h0M184.2 135.1h0M193.6 137.7h0M165.5 145.7h0M186.1 133.4h0M193.6 137.4h0M169.9 132.7h0M196.2 145.6h0M193.3 140.2h0M181.1 147.5h0M167.9 144.9h0M183.4 135.7h0M179.7 140.1h0M170 141.7h0M187.7 142.3h0M193.6 134.8h0M180.6 143.6h0M173 142.9h0M186.2 144.5h0M196.4 135h0M191.1 144h0M171.9 143.2h0M174.3 138.5h0M164.7 138.3h0M183.5 136.7h0M173.7 138.4h0M185.4 134.4h0M195.6 137.9h0M172.2 137h0M167.1 136.9h0M195.3 142.8h0M187.7 142.8h0M168.3 138.6h0M197.2 146.7h0M187 144.5h0M188.4 144.8h0M193.9 135.3h0M192.2 137.4h0M191 142.5h0M179.3 135.3h0M186.5 139.7h0M163.2 142.6h0M163.9 142h0M171.7 139h0M180.2 132.9h0M193.9 139.2h0M167.7 143.5h0M191.5 142.5h0M186.2 142.8h0M180.1 138.2h0M172.5 134.4h0M193.8 138h0M174.4 139h0M167.9 136.6h0M175.5 132.9h0M194.3 135.4h0M176 134.3h0M186.8 140.5h0M166.1 135.3h0M178.7 138h0M192.6 135.3h0M181.3 133.2h0M192.3 134.6h0M191.3 140.2h0M181 133.6h0M190.3 140.8h0M194.7 139h0M170.1 139.5h0M172.3 146.5h0M175 138.2h0M164.3 137.1h0M175 139.6h0M196.8 133.5h0M188.8 136.7h0M175.8 138.6h0M180 142.4h0M190.1 137.7h0M163.5 144.7h0M180.6 141.3h0M197.8 140.5h0M169.6 137.8h0M184 134.9h0M186.9 138.7h0M191.8 147.4h0M178.5 138.6h0M170.1 144.8h0M176.2 135.2h0M181.1 133.3h0M195.8 133.1h0M174.4 137.2h0M168.4 135.7h0M164.3 136.2h0M185.6 138.7h0M173.9 138.5h0M192.9 135.3h0M181 136.7h0M163.6 134.5h0M196.4 139.2h0M187.8 135.8h0M181.3 140.9h0M185.4 137.5h0M168.1 134.4h0M178.9 134.6h0M182 135.6h0M192.2 143.6h0M176.9 141h0M181.1 133.4h0M173.4 133.2h0M180.7 147.2h0M178.9 134.9h0M197.6 132.8h0M169.4 134.1h0M166.6 139.2h0M194.2 137.6h0M171.1 132.9h0M173.2 136.5h0M193.9 133.3h0M173.6 134.1h0M182.6 137.2h0M188.8 137.4h0M179.8 134.6h0M182 138.3h0M180.2 141.1h0M175.3 139.6h0M191.1 140.3h0M195.6 136.6h0M175.9 141.6h0M190.2 135.7h0M164.2 138.7h0M192.9 133.7h0M184.4 136.7h0M177.3 151.1h0M168.4 135.5h0M171.8 141.3h0M165.4 140.2h0M197.6 146.5h0M172.8 145h0M192.8 146.6h0M168.4 160h0M186.7 149.8h0M171 162.6h0M174.6 156.3h0M185.4 148.8h0M197.5 149.3h0M171.6 146.5h0M163.5 149.9h0M196 156.1h0M174.8 147.5h0M191.4 158.6h0M173.5 146.8h0M171.7 158.3h0M179.5 154.7h0M186.8 158h0M181.9 145h0M186.2 146.7h0M193.2 152.6h0M187.2 155h0M193.1 158.5h0M195.5 158.7h0M171.4 156.5h0M175 156.7h0M182.4 152.4h0M165.6 146.1h0M166.8 145.4h0M193.7 161.2h0M174.9 150h0M183 155.2h0M165.3 163.1h0M163.3 145.5h0M188.4 147.9h0M185.4 152.1h0M179.6 151.2h0M191.8 149.1h0M190 152.7h0M194.3 145.4h0M173 145h0M163.3 151.7h0M178.8 146.1h0M167.8 146.2h0M194.5 152.1h0M177.3 152.3h0M177.9 150.7h0M164.9 163.5h0M183.4 156h0M194.9 145.4h0M164.4 146.5h0M168.4 146.2h0M176.5 158.9h0M183.7 155.9h0M180.3 161.6h0M194.1 145.6h0M186.7 162.5h0M191.9 151.9h0M176.6 145.3h0M172.1 145.3h0M164.7 157.4h0M180.5 148.5h0M188 147.7h0M195.4 146.6h0M169.4 146.5h0M196.8 160.4h0M169.5 161.8h0M163.4 155.3h0M178.9 146.5h0M183.8 146.5h0M181.3 156.5h0M177.5 160.9h0M194.7 146.1h0M169.8 145h0M175 145.2h0M173.2 145.5h0M179.7 146.9h0M195.8 157.9h0M175.1 151.6h0M165.3 145.2h0M191.9 145.3h0M175.6 146.6h0M169.8 146.4h0M170.2 161.9h0M170.9 154.1h0M170.9 161.8h0M194.7 151h0M196.5 156h0M194.8 151.3h0M165.1 145.2h0M222.3 136.3h0M226.4 133.2h0M219.7 135h0M218.1 136.4h0M208.4 133h0M222.5 135.2h0M235.4 133.5h0M227.1 137.2h0M227.4 138.1h0M213.2 138.7h0M215.1 138.9h0M221.1 138h0M232 138.6h0M229.8 138h0M281.8 137.8h0M258.6 135.4h0M248.8 134.7h0M275.2 135.9h0M260.3 137.5h0M281.8 133.4h0M265.2 132.9h0M249.9 134h0M251.3 138.3h0M274.3 139.5h0M280.7 135.7h0M258.3 138.2h0M260.8 138.8h0M282.7 138.3h0M250 139.3h0M275.3 133h0M260.4 134.7h0M284.8 137.1h0M283.2 134.4h0M278.7 134.9h0M261.4 138.5h0M280.6 133.2h0M256.1 135.7h0M278.5 137.9h0M255.1 138.3h0M259.6 141h0M267.2 141h0M271.9 141h0M284.9 141h0"/>
<rect x="27.8" y="122.3" width="43.95" height="9.7" fill="#a6cee3"/>
<text x="49.75" y="128.6" font-size="4.2" text-anchor="middle" fill="#111">A1</text>
<rect x="71.7" y="122.3" width="43.45" height="9.7" fill="#1f78b4"/>
<text x="93.4" y="128.6" font-size="4.2" text-anchor="middle" fill="#111">A2</text>
<rect x="115.1" y="122.3" width="43.05" height="9.7" fill="#6cbd63"/>
<text x="136.6" y="128.6" font-size="4.2" text-anchor="middle" fill="#111">A3</text>
<rect x="158.1" y="122.3" width="43.85" height="9.7" fill="#33a02c"/>
<text x="180" y="128.6" font-size="4.2" text-anchor="middle" fill="#111">P1</text>
<rect x="201.9" y="122.3" width="43.35" height="9.7" fill="#fb9a99"/>
<text x="223.55" y="128.6" font-size="4.2" text-anchor="middle" fill="#111">P2</text>
<rect x="245.2" y="122.3" width="43.45" height="9.7" fill="#e31a1c"/>
<text x="266.9" y="128.6" font-size="4.2" text-anchor="middle" fill="#111">P3</text>
<text x="55.6" y="63.6" font-size="3.5" text-anchor="middle" fill="#1a1a1a">FOSB</text>
<text x="44.6" y="72.6" font-size="3.5" text-anchor="middle" fill="#1a1a1a">OLR1</text>
<text x="55.4" y="79.3" font-size="3.5" text-anchor="middle" fill="#1a1a1a">FOS</text>
<text x="44" y="142.4" font-size="3.5" text-anchor="middle" fill="#1a1a1a">PCSK6</text>
<text x="58.3" y="145.6" font-size="3.5" text-anchor="middle" fill="#1a1a1a">POTED</text>
<text x="44.7" y="149.8" font-size="3.5" text-anchor="middle" fill="#1a1a1a">UBTFL1</text>
<text x="88.5" y="67.9" font-size="3.5" text-anchor="middle" fill="#1a1a1a">NR4A3</text>
<text x="99.5" y="72.6" font-size="3.5" text-anchor="middle" fill="#1a1a1a">CCL3</text>
<text x="88.5" y="77.3" font-size="3.5" text-anchor="middle" fill="#1a1a1a">CCL3L3</text>
<text x="88.5" y="141.5" font-size="3.5" text-anchor="middle" fill="#1a1a1a">UBTFL1</text>
<text x="87.8" y="148.2" font-size="3.5" text-anchor="middle" fill="#1a1a1a">ORAI4</text>
<text x="100.6" y="146.3" font-size="3.5" text-anchor="middle" fill="#1a1a1a">PFSP</text>
<text x="131.3" y="76.2" font-size="3.5" text-anchor="middle" fill="#1a1a1a">RSAD2</text>
<text x="143.7" y="79.5" font-size="3.5" text-anchor="middle" fill="#1a1a1a">CLC</text>
<text x="129.9" y="83.6" font-size="3.5" text-anchor="middle" fill="#1a1a1a">RNASE2</text>
<text x="142.6" y="155.5" font-size="3.5" text-anchor="middle" fill="#1a1a1a">IGLV1</text>
<text x="128.8" y="162.4" font-size="3.5" text-anchor="middle" fill="#1a1a1a">HIVEP2</text>
<text x="131.4" y="167.4" font-size="3.5" text-anchor="middle" fill="#1a1a1a">VNN1</text>
<text x="173.4" y="54.4" font-size="3.5" text-anchor="middle" fill="#1a1a1a">EGR4</text>
<text x="185.7" y="59.7" font-size="3.5" text-anchor="middle" fill="#1a1a1a">HCAR2</text>
<text x="175.2" y="69.9" font-size="3.5" text-anchor="middle" fill="#1a1a1a">GLA</text>
<text x="185.3" y="154.5" font-size="3.5" text-anchor="middle" fill="#1a1a1a">CRTH1</text>
<text x="174.8" y="160.4" font-size="3.5" text-anchor="middle" fill="#1a1a1a">USP17</text>
<text x="185.3" y="166.2" font-size="3.5" text-anchor="middle" fill="#1a1a1a">UBTFL1</text>
<text x="218.4" y="59.7" font-size="3.5" text-anchor="middle" fill="#1a1a1a">EGR1</text>
<text x="218" y="82.4" font-size="3.5" text-anchor="middle" fill="#1a1a1a">DDIT3</text>
<text x="218" y="90.7" font-size="3.5" text-anchor="middle" fill="#1a1a1a">G0S2</text>
<text x="228.6" y="133" font-size="3.5" text-anchor="middle" fill="#1a1a1a">HIST1H1D</text>
<text x="214.7" y="137.6" font-size="3.5" text-anchor="middle" fill="#1a1a1a">PHF10L</text>
<text x="230.8" y="139.8" font-size="3.5" text-anchor="middle" fill="#1a1a1a">TCEB3B</text>
<text x="262" y="91.4" font-size="3.5" text-anchor="middle" fill="#1a1a1a">LIPN</text>
<text x="275.6" y="96.2" font-size="3.5" text-anchor="middle" fill="#1a1a1a">PNPLA8</text>
<text x="262" y="101" font-size="3.5" text-anchor="middle" fill="#1a1a1a">ZNF495</text>
<text x="259.2" y="137.2" font-size="3.5" text-anchor="middle" fill="#1a1a1a">GBC4</text>
<text x="276.8" y="137.2" font-size="3.5" text-anchor="middle" fill="#1a1a1a">IGLV3</text>
<text x="261.4" y="143.6" font-size="3.5" text-anchor="middle" fill="#1a1a1a">GAGE13</text>
<circle cx="258.1" cy="52.7" r="1.6" fill="#1f9ad6"/>
<circle cx="258.1" cy="58.6" r="1.6" fill="#d93b3b"/>
<text x="262.6" y="54" font-size="3.4" text-anchor="start" fill="#333">sigDown</text>
<text x="262.6" y="59.9" font-size="3.4" text-anchor="start" fill="#333">sigUp</text>
<path d="M356.0 38.0L353.7 38.2L351.3 38.5L348.9 38.9L346.4 39.4L343.9 40.0L341.5 40.7L339.1 41.5L336.7 42.4L334.3 43.5L332.0 44.6L329.8 45.8L327.7 47.0L325.8 48.3L324.0 49.8L322.3 51.3L320.8 52.9L319.3 54.4L318.0 56.0L316.8 57.6L315.7 59.3L314.8 61.0L313.9 62.7L313.1 64.2L312.4 65.6L311.7 66.8L311.1 67.9L310.6 68.8L310.1 69.7L309.7 70.6L309.2 71.5L308.7 72.4L308.2 73.4L307.8 74.3L307.4 75.2L307.0 76.1L306.6 77.0L306.3 77.8L306.0 78.6L305.8 79.3L305.6 80.1L305.4 81.0L305.2 82.0L305.0 83.2L304.7 84.5L304.5 85.9L304.3 87.4L304.1 89.0L304.0 90.7L304.0 92.5L304.0 94.4L304.1 96.5L304.2 98.5L304.4 100.5L304.6 102.3L304.9 104.0L305.2 105.5L305.6 107.0L306.0 108.4L306.4 109.9L306.9 111.5L307.4 113.2L307.9 114.9L308.5 116.7L309.1 118.5L309.8 120.2L310.5 121.8L310.8 120.5L311.2 119.3L311.6 118.2L312.0 117.1L312.4 116.1L312.8 115.0L313.2 113.9L313.6 112.9L314.0 111.9L314.4 110.9L314.7 110.0L315.1 109.1L315.4 108.3L315.5 107.6L315.6 106.9L315.8 106.2L316.3 105.4L317.0 104.5L316.7 103.8L316.3 103.0L316.0 102.3L315.7 101.6L315.4 100.8L315.1 99.9L314.9 98.9L314.6 97.9L314.4 96.8L314.3 95.6L314.2 94.5L314.2 93.4L314.3 92.3L314.4 91.2L314.6 90.1L314.9 89.1L315.2 88.0L315.6 87.0L316.0 86.0L316.5 85.1L317.1 84.1L317.6 83.2L318.2 82.4L318.8 81.5L319.3 80.6L319.6 79.8L320.0 78.9L320.5 78.1L321.3 77.4L322.5 76.8L323.0 76.7L322.9 76.4L322.8 75.9L322.8 75.3L322.9 74.5L323.1 73.6L323.3 72.7L323.6 71.7L323.9 70.7L324.2 69.8L324.5 68.9L324.8 67.9L325.1 66.9L325.5 66.0L325.9 65.0L326.3 64.2L326.8 63.4L327.3 62.7L327.8 62.0L328.4 61.3L329.0 60.7L329.7 60.1L330.4 59.5L331.2 59.0L332.0 58.4L332.8 58.0L333.7 57.6L334.6 57.3L335.5 57.2L336.5 57.1L337.5 57.2L338.6 57.3L339.7 57.5L340.8 57.6L341.4 56.9L342.2 56.3L343.0 55.6L343.8 54.9L344.7 54.1L345.6 53.2L346.5 52.2L347.4 51.1L348.4 50.0L349.4 48.8L350.3 47.6L351.2 46.3L352.0 45.0L352.6 43.6L353.2 42.2L353.9 40.7L354.8 39.3Z" fill="#8dc63f"/>
<path d="M334.9 75.3L335.0 74.6L335.3 73.4L335.6 72.1L335.9 70.8L336.3 69.6L336.6 68.4L336.9 67.2L337.3 66.0L337.6 64.7L338.0 63.6L338.3 62.5L338.7 61.5L339.0 60.7L339.3 60.0L339.6 59.4L339.9 58.8L340.3 58.2L340.8 57.6L339.7 57.5L338.6 57.3L337.5 57.2L336.5 57.1L335.5 57.2L334.6 57.3L333.7 57.6L332.8 58.0L332.0 58.4L331.2 59.0L330.4 59.5L329.7 60.1L329.0 60.7L328.4 61.3L327.8 62.0L327.3 62.7L326.8 63.4L326.3 64.2L325.9 65.0L325.5 66.0L325.1 66.9L324.8 67.9L324.5 68.9L324.2 69.8L323.9 70.7L323.6 71.7L323.3 72.7L323.1 73.6L322.9 74.5L322.8 75.3L322.8 75.9L322.9 76.4L323.0 76.7L324.2 76.4L326.3 76.1L328.7 75.8L331.1 75.7L333.6 75.5Z" fill="#f3f6e4"/>
<path d="M326.1 96.8L326.0 96.4L325.9 95.9L325.8 95.4L325.6 94.8L325.5 94.2L325.3 93.4L325.1 92.4L325.0 91.2L324.8 90.0L324.7 88.7L324.5 87.4L324.4 86.1L324.3 84.8L324.1 83.4L324.0 82.0L323.9 80.7L323.7 79.5L323.6 78.5L323.4 77.7L323.3 77.2L323.1 76.8L323.0 76.7L322.5 76.8L321.3 77.4L320.5 78.1L320.0 78.9L319.6 79.8L319.3 80.6L318.8 81.5L318.2 82.4L317.6 83.2L317.1 84.1L316.5 85.1L316.0 86.0L315.6 87.0L315.2 88.0L314.9 89.1L314.6 90.1L314.4 91.2L314.3 92.3L314.2 93.4L314.2 94.5L314.3 95.6L314.4 96.8L314.6 97.9L314.9 98.9L315.1 99.9L315.4 100.8L315.7 101.6L316.0 102.3L316.3 103.0L316.7 103.8L317.0 104.5L318.1 103.4L319.5 102.1L321.1 100.8L322.9 99.4L324.6 98.0Z" fill="#f3f6e4"/>
<path d="M310.5 121.8L311.3 123.3L312.2 124.8L313.2 126.2L314.2 127.6L315.1 129.0L316.1 130.4L317.0 131.9L317.9 133.4L318.8 134.9L319.7 136.3L320.6 137.6L321.0 138.0L321.1 137.4L321.3 136.5L321.6 135.6L321.9 134.6L322.3 133.5L322.9 132.3L323.5 131.1L324.1 129.9L324.7 128.8L324.4 128.6L323.8 127.9L323.4 127.1L323.3 126.4L323.2 125.7L323.1 124.9L323.0 124.2L322.8 123.4L322.5 122.7L322.3 121.9L322.1 121.1L322.0 120.4L321.9 119.6L322.0 118.8L322.1 118.0L322.3 117.2L322.5 116.4L322.8 115.7L323.0 115.0L323.2 114.4L323.4 113.9L323.7 113.5L323.9 113.0L323.9 112.9L323.4 112.5L322.5 111.8L321.8 111.2L321.2 110.7L320.7 110.2L320.2 109.7L319.7 109.1L319.2 108.4L318.7 107.7L318.3 106.9L317.9 106.1L317.4 105.3L317.0 104.5L316.3 105.4L315.8 106.2L315.6 106.9L315.5 107.6L315.4 108.3L315.1 109.1L314.7 110.0L314.4 110.9L314.0 111.9L313.6 112.9L313.2 113.9L312.8 115.0L312.4 116.1L312.0 117.1L311.6 118.2L311.2 119.3L310.8 120.5Z" fill="#f3f6e4"/>
<path d="M321.0 138.0L320.6 137.6L319.7 136.3L318.8 134.9L317.9 133.4L317.0 131.9L316.1 130.4L315.1 129.0L314.2 127.6L313.2 126.2L312.2 124.8L311.3 123.3L310.5 121.8L310.3 123.2L310.0 124.7L309.9 126.3L309.8 127.9L309.7 129.5L309.6 131.0L309.6 132.5L309.6 134.1L309.7 135.6L309.7 137.1L309.9 138.6L310.0 140.0L310.2 141.4L310.4 142.8L310.6 144.2L310.8 145.5L311.2 146.8L311.5 148.0L311.9 149.1L312.3 150.2L312.8 151.2L313.4 152.1L313.9 153.1L314.5 154.0L315.1 154.9L315.7 155.8L316.4 156.7L317.1 157.6L317.9 158.5L318.7 159.5L319.6 160.5L320.5 161.6L321.5 162.7L322.6 163.8L323.8 165.0L325.0 166.1L326.4 167.2L327.9 168.4L329.5 169.6L331.1 170.8L332.7 171.9L334.2 173.0L335.6 174.0L336.9 175.1L338.2 176.0L339.6 177.0L340.9 177.9L342.3 178.8L343.8 179.6L345.2 180.5L346.8 181.2L348.3 182.0L349.9 182.7L351.5 183.4L353.2 184.1L355.0 184.8L356.8 185.4L358.5 186.0L360.3 186.5L361.9 186.9L361.0 185.9L360.1 184.8L359.3 183.6L358.6 182.4L357.9 181.2L357.2 180.0L356.5 178.8L355.9 177.7L355.4 176.5L355.3 176.4L355.0 176.5L353.9 176.7L352.7 176.9L351.5 177.1L350.3 177.1L349.0 177.1L347.6 176.9L346.2 176.8L344.8 176.5L343.5 176.2L342.3 175.9L341.2 175.5L340.1 175.1L339.1 174.7L338.1 174.2L337.3 173.6L336.5 173.0L335.8 172.4L335.2 171.7L334.7 171.0L334.3 170.2L333.9 169.3L333.6 168.4L333.4 167.4L333.3 166.3L333.2 165.1L333.2 163.9L333.3 162.7L333.3 161.5L333.3 161.0L333.1 160.9L331.6 160.4L330.1 159.7L328.7 159.0L327.3 158.3L326.0 157.6L325.0 156.9L324.2 156.3L323.6 155.8L323.1 155.3L322.7 154.8L322.4 154.2L322.0 153.5L321.6 152.7L321.3 151.9L321.0 151.0L320.7 150.1L320.5 149.1L320.4 148.0L320.3 146.8L320.3 145.5L320.4 144.2L320.5 142.8L320.6 141.5L320.7 140.3L320.8 139.2L321.0 138.3Z" fill="#f1f4df"/>
<path d="M351.2 164.0L350.3 163.8L349.1 163.6L347.8 163.4L346.5 163.3L345.1 163.1L343.7 162.9L342.3 162.7L340.8 162.5L339.3 162.2L337.7 162.0L336.1 161.7L334.6 161.3L333.3 161.0L333.3 161.5L333.3 162.7L333.2 163.9L333.2 165.1L333.3 166.3L333.4 167.4L333.6 168.4L333.9 169.3L334.3 170.2L334.7 171.0L335.2 171.7L335.8 172.4L336.5 173.0L337.3 173.6L338.1 174.2L339.1 174.7L340.1 175.1L341.2 175.5L342.3 175.9L343.5 176.2L344.8 176.5L346.2 176.8L347.6 176.9L349.0 177.1L350.3 177.1L351.5 177.1L352.7 176.9L353.9 176.7L355.0 176.5L355.3 176.4L354.8 175.4L354.3 174.2L353.8 172.9L353.3 171.6L352.8 170.2L352.4 168.8L352.0 167.4L351.6 166.0L351.3 164.6Z" fill="#f3f6e4"/>
<path d="M391.0 181.0L389.9 180.3L388.2 179.1L386.5 178.0L385.0 177.1L384.8 177.0L383.7 177.3L382.5 177.5L381.3 177.7L380.1 177.8L379.0 177.8L377.9 177.7L376.8 177.6L375.8 177.4L374.8 177.2L373.8 176.9L372.9 176.6L372.0 176.3L371.1 175.9L370.3 175.5L369.4 175.0L368.7 174.5L367.9 174.0L367.2 173.5L366.5 173.0L365.9 172.5L365.8 172.5L364.9 172.9L364.0 173.2L363.0 173.6L362.0 174.0L361.1 174.4L360.2 174.8L359.2 175.2L358.2 175.6L357.2 175.9L356.1 176.2L355.3 176.4L355.4 176.5L355.9 177.7L356.5 178.8L357.2 180.0L357.9 181.2L358.6 182.4L359.3 183.6L360.1 184.8L361.0 185.9L361.9 186.9L363.4 187.2L364.8 187.4L366.1 187.5L367.4 187.6L368.8 187.6L370.2 187.6L371.8 187.5L373.4 187.5L375.1 187.3L376.8 187.1L378.5 186.8L380.0 186.5L381.4 186.1L382.7 185.6L383.9 185.1L385.1 184.4L386.4 183.8L387.6 183.1L388.9 182.3L390.2 181.5Z" fill="#f3f6e4"/>
<path d="M425.9 177.0L425.1 177.7L424.1 178.5L423.0 179.2L421.9 179.9L420.9 180.6L419.9 181.2L418.9 181.7L418.1 182.2L417.9 182.3L416.8 182.7L415.5 183.1L414.0 183.4L412.4 183.7L410.7 184.0L408.9 184.2L407.1 184.3L405.4 184.3L403.7 184.3L402.0 184.3L400.3 184.2L398.6 183.9L396.9 183.6L395.2 183.1L393.5 182.4L391.7 181.4L391.0 181.0L390.2 181.5L388.9 182.3L387.6 183.1L386.4 183.8L385.1 184.4L383.9 185.1L382.7 185.6L381.4 186.1L380.0 186.5L378.5 186.8L376.8 187.1L375.1 187.3L373.4 187.5L371.8 187.5L370.2 187.6L368.8 187.6L367.4 187.6L366.1 187.5L364.8 187.4L363.4 187.2L361.9 186.9L362.9 187.8L364.0 188.6L365.1 189.4L366.3 190.1L367.6 190.8L368.8 191.5L370.1 192.2L371.4 193.0L372.7 193.7L374.1 194.4L375.4 195.0L376.8 195.5L378.2 195.9L379.5 196.3L380.9 196.6L382.3 196.9L383.7 197.1L385.0 197.2L386.3 197.3L387.4 197.2L388.6 197.2L389.8 197.0L391.1 196.9L392.7 196.7L394.5 196.6L396.6 196.4L398.7 196.2L401.0 196.0L403.2 195.7L405.4 195.2L407.5 194.6L409.7 193.8L411.9 192.9L414.1 192.0L416.1 191.0L418.1 190.0L420.0 188.9L421.8 187.8L423.5 186.6L425.2 185.4L426.8 184.2L428.2 183.1L429.5 182.1L430.7 181.1L431.8 180.1L432.8 179.1L433.2 178.6L431.9 178.4L430.4 178.1L428.9 177.7L427.4 177.4Z" fill="#eef2da"/>
<path d="M471.3 132.4L470.6 133.7L469.8 135.0L468.9 136.5L468.0 137.9L467.0 139.4L466.1 140.7L465.1 142.0L464.1 143.2L463.1 144.5L462.1 145.7L461.0 146.9L459.9 148.0L458.7 149.1L457.5 150.2L456.3 151.3L455.1 152.3L453.8 153.3L452.6 154.2L451.4 155.0L450.2 155.8L449.0 156.6L447.8 157.2L446.6 157.9L445.4 158.4L444.2 158.9L442.9 159.3L441.6 159.7L440.4 160.0L439.2 160.2L438.2 160.4L438.2 160.6L438.1 161.8L438.0 163.1L437.9 164.5L437.6 166.0L437.3 167.7L436.9 169.5L436.4 171.4L435.9 173.4L435.2 175.1L434.5 176.7L433.7 178.0L433.2 178.6L433.3 178.6L434.6 178.8L435.9 178.9L437.1 179.1L438.3 179.2L439.7 179.2L441.1 179.2L442.7 179.2L444.4 179.2L446.1 179.2L447.9 179.0L449.7 178.8L451.5 178.4L453.3 177.8L455.0 177.1L456.8 176.3L458.6 175.3L460.2 174.3L461.8 173.2L463.3 172.0L464.7 170.6L466.1 169.1L467.4 167.6L468.6 166.1L469.6 164.6L470.5 163.2L471.3 161.8L471.9 160.4L472.5 159.0L473.0 157.6L473.4 156.3L473.7 155.0L474.0 153.8L474.2 152.7L474.3 151.5L474.4 150.3L474.4 149.0L474.4 147.7L474.4 146.3L474.4 144.9L474.3 143.5L474.1 142.1L473.9 140.7L473.6 139.3L473.3 137.9L472.9 136.4L472.4 135.0L471.9 133.7Z" fill="#f4f6e8"/>
<path d="M457.3 98.8L457.5 99.0L458.2 99.7L458.9 100.4L459.6 101.1L460.3 101.8L460.9 102.5L461.5 103.1L462.0 103.7L462.6 104.4L463.0 105.0L463.4 105.6L463.8 106.2L464.2 106.7L464.4 107.3L464.6 108.0L464.6 108.8L464.5 109.8L464.2 110.9L463.8 112.1L463.4 113.4L462.9 114.6L462.3 115.7L461.7 116.7L461.0 117.7L460.4 118.5L460.5 118.6L461.7 119.9L462.7 121.3L463.6 122.6L464.4 123.8L465.2 125.0L466.1 126.2L467.0 127.3L468.0 128.3L468.9 129.3L469.8 130.2L470.6 131.3L471.3 132.4L471.9 131.2L472.5 130.2L473.0 129.1L473.5 128.2L473.9 127.2L474.4 126.2L474.9 125.2L475.4 124.3L475.9 123.3L476.4 122.4L476.8 121.4L477.2 120.5L477.6 119.6L477.9 118.7L478.2 117.8L478.4 116.9L478.7 116.0L478.9 115.0L479.1 114.0L479.3 112.9L479.4 111.8L479.6 110.6L479.6 109.3L479.6 108.0L479.5 106.6L479.4 105.0L479.1 103.4L478.9 101.7L478.6 100.0L478.2 98.3L477.8 96.5L477.3 94.6L476.8 92.7L476.2 90.8L475.6 89.0L475.0 87.3L474.4 85.8L473.9 84.4L473.3 83.1L472.6 81.9L471.9 80.6L471.1 79.2L470.2 77.7L469.2 76.2L468.1 74.6L466.9 73.0L465.6 71.5L464.2 70.0L462.7 68.6L460.9 67.1L459.1 65.7L457.3 64.4L455.5 63.1L453.8 61.9L452.2 60.8L450.7 59.7L449.1 58.8L447.7 57.9L446.3 57.1L445.0 56.4L443.9 55.9L442.9 55.6L441.9 55.3L441.1 55.1L441.5 55.9L442.2 57.0L442.9 58.0L443.5 59.0L444.1 59.9L444.7 60.9L445.2 61.9L445.7 63.1L446.2 64.5L446.6 66.0L447.0 67.6L447.4 69.2L447.7 70.8L448.0 72.3L448.3 73.7L448.6 75.1L448.8 76.4L449.0 77.7L449.2 79.0L449.2 79.0L449.5 79.1L450.8 79.5L452.0 80.0L453.1 80.4L454.1 80.9L455.0 81.5L455.8 82.1L456.5 82.8L457.1 83.5L457.6 84.3L458.0 85.2L458.4 86.1L458.7 87.1L458.9 88.3L459.0 89.5L459.1 90.7L459.1 91.9L459.0 93.0L458.9 94.0L458.7 95.0L458.4 95.9L458.1 96.9L457.7 97.8Z" fill="#f8f9f1"/>
<path d="M378.6 40.7L377.1 40.2L375.5 39.9L373.7 39.6L371.9 39.4L370.0 39.2L368.1 39.0L366.2 38.8L364.3 38.5L362.3 38.2L360.3 38.0L358.2 37.9L356.0 38.0L354.8 39.3L353.9 40.7L353.2 42.2L352.6 43.6L352.0 45.0L351.2 46.3L350.3 47.6L349.4 48.8L348.4 50.0L347.4 51.1L346.5 52.2L345.6 53.2L344.7 54.1L343.8 54.9L343.0 55.6L342.2 56.3L341.4 56.9L340.8 57.6L342.0 57.7L343.2 57.9L344.4 58.1L345.7 58.3L347.1 58.5L348.4 58.7L349.8 58.8L351.1 58.9L351.2 58.7L352.0 57.3L353.0 55.7L354.0 54.0L355.0 52.4L356.1 51.1L357.1 50.1L358.0 49.5L359.0 49.2L359.9 49.2L360.8 49.3L361.7 49.4L362.6 49.5L363.5 49.6L364.4 49.7L365.4 49.9L366.3 50.2L367.2 50.4L368.1 50.6L368.4 50.7L368.8 49.9L369.5 48.7L370.2 47.5L370.9 46.4L371.7 45.4L372.5 44.5L373.4 43.7L374.4 42.9L375.4 42.2L376.5 41.7L377.6 41.1Z" fill="#f7f8ee"/>
<g fill="none" stroke="#111" stroke-width="1"><path d="M310.5 121.8C309.0 118.6 307.9 114.8 306.9 111.5C305.9 108.2 305.1 105.8 304.6 102.3C304.1 98.8 303.9 94.1 304.0 90.7C304.1 87.3 304.8 84.3 305.2 82.0C305.6 79.7 305.9 78.8 306.6 77.0C307.3 75.2 308.2 73.4 309.2 71.5C310.2 69.6 310.9 68.2 312.4 65.6C313.9 63.0 315.4 59.1 318.0 56.0C320.6 52.9 323.8 49.5 327.7 47.0C331.6 44.5 336.8 42.2 341.5 40.7C346.2 39.2 351.6 38.3 356.0 38.0C360.4 37.7 364.3 38.5 368.1 39.0C371.9 39.5 375.8 39.6 378.6 40.7C381.4 41.8 382.8 43.9 384.7 45.6C386.6 47.4 388.6 49.5 390.2 51.2C391.8 52.9 392.6 54.2 394.5 56.0C396.4 57.8 398.9 61.1 401.9 62.2C404.9 63.3 408.6 62.8 412.3 62.7C416.0 62.6 420.5 62.0 423.8 61.6C427.1 61.2 429.8 60.2 431.9 60.2C434.0 60.2 435.4 60.9 436.5 61.9C437.6 62.9 438.0 64.4 438.2 66.5C438.4 68.6 437.6 72.3 437.7 74.6C437.8 76.9 438.0 78.6 438.8 80.3C439.6 82.0 440.8 83.5 442.3 85.0C443.8 86.5 445.9 87.7 448.0 89.6C450.1 91.5 453.1 94.6 455.0 96.5C456.9 98.4 458.3 99.7 459.6 101.1C460.9 102.5 462.2 103.7 463.0 105.0C463.8 106.3 464.7 107.0 464.6 108.8C464.5 110.6 463.5 113.6 462.3 115.7C461.1 117.8 459.5 119.4 457.6 121.5C455.7 123.6 453.0 126.2 450.7 128.4C448.4 130.6 446.7 132.6 444.0 134.5C441.3 136.4 437.7 138.2 434.6 139.9C431.6 141.7 428.4 143.5 425.7 145.0C422.9 146.5 421.5 147.4 418.1 148.8C414.7 150.2 409.6 152.0 405.4 153.2C401.2 154.4 396.9 155.2 392.7 155.8C388.5 156.5 383.6 156.9 380.0 157.1C376.4 157.3 374.5 157.1 371.1 156.9C367.7 156.7 363.2 156.3 359.6 155.8C356.1 155.3 352.5 154.6 349.8 154.0C347.1 153.4 345.8 153.6 343.4 152.3C341.0 151.0 338.0 147.8 335.4 146.1C332.8 144.4 330.3 143.6 328.0 142.4C325.7 141.2 323.6 140.7 321.6 138.7C319.6 136.7 318.0 133.2 316.1 130.4C314.2 127.6 312.0 125.0 310.5 121.8Z"/><path d="M356.0 38.0C358.8 35.4 364.2 32.5 368.1 30.7C372.0 28.9 374.9 28.1 379.2 27.4C383.5 26.7 390.4 26.4 394.0 26.3C397.6 26.2 398.1 26.2 401.1 26.8C404.1 27.4 408.4 28.5 412.1 30.2C415.8 31.9 419.9 34.4 423.2 36.8C426.5 39.2 429.6 42.3 432.0 44.5C434.4 46.7 435.9 48.0 437.6 50.1C439.3 52.2 440.9 54.8 442.2 57.0C443.5 59.2 444.7 60.6 445.7 63.1C446.7 65.7 447.4 69.4 448.0 72.3C448.6 75.2 449.2 77.6 449.2 80.3C449.2 83.0 448.6 86.1 448.0 88.4C447.4 90.7 446.6 92.1 445.7 94.2C444.8 96.3 443.3 99.1 442.3 101.1C441.3 103.1 440.1 104.5 439.5 106.0C438.9 107.5 438.9 108.0 438.6 110.0C438.3 112.0 437.9 115.2 437.5 118.0C437.1 120.8 436.8 124.2 436.5 127.0C436.2 129.8 435.6 132.5 435.5 135.0C435.4 137.5 435.8 139.4 436.1 141.9C436.4 144.4 437.2 147.5 437.1 150.1C437.1 152.7 436.4 154.9 435.8 157.7C435.2 160.4 434.6 163.8 433.3 166.6C432.0 169.4 430.1 172.6 428.2 174.8C426.3 177.0 424.0 178.5 421.9 179.9C419.8 181.3 418.2 182.4 415.5 183.1C412.8 183.8 408.8 184.3 405.4 184.3C402.0 184.3 398.6 184.3 395.2 183.1C391.8 181.9 387.9 178.8 385.0 177.1C382.1 175.4 379.9 174.4 378.0 173.0C376.1 171.6 374.9 170.1 373.4 168.4C371.9 166.7 370.3 164.8 368.8 162.7C367.3 160.6 365.7 157.9 364.2 155.8C362.7 153.7 361.1 152.0 359.6 150.0C358.1 148.0 357.0 146.4 355.4 143.8C353.8 141.2 351.4 137.3 350.0 134.6C348.6 131.9 348.2 130.0 347.2 127.6C346.2 125.2 344.9 122.4 343.8 120.0C342.7 117.6 341.2 115.0 340.3 113.0C339.4 111.0 339.2 110.3 338.6 108.1C338.0 105.9 337.5 102.7 336.9 100.0C336.3 97.3 335.6 94.9 335.2 92.0C334.8 89.1 334.7 85.4 334.6 82.7C334.5 80.0 334.5 78.2 334.8 75.8C335.1 73.4 336.0 70.8 336.6 68.4C337.2 66.0 338.0 63.3 338.7 61.5C339.4 59.7 339.6 59.0 340.8 57.6C342.0 56.2 343.9 55.1 345.6 53.2C347.3 51.3 349.5 48.8 351.2 46.3C352.9 43.8 353.2 40.6 356.0 38.0Z"/><path d="M445.0 80.4C444.2 81.4 443.2 81.6 442.5 83.5C441.8 85.4 441.4 88.9 441.0 92.0C440.6 95.1 440.8 98.9 440.4 101.9C440.0 104.9 438.6 107.7 438.6 110.0C438.6 112.3 439.7 114.1 440.4 115.7C441.1 117.3 441.5 118.1 442.7 119.8C443.9 121.5 446.2 124.1 447.3 126.1C448.4 128.1 448.8 130.0 449.0 131.9C449.2 133.8 448.6 135.3 448.4 137.6C448.2 139.8 448.7 143.5 447.6 145.4C446.5 147.3 443.8 148.0 441.9 148.8C440.0 149.6 438.2 149.4 436.1 150.0C434.0 150.6 430.9 151.4 429.2 152.3C427.5 153.2 426.6 154.2 425.7 155.7C424.8 157.2 424.6 159.2 424.0 161.5C423.4 163.8 423.0 167.1 422.3 169.6C421.6 172.1 420.8 174.2 420.0 176.5C419.2 178.8 418.5 181.1 417.7 183.4"/><path d="M471.3 132.4C472.7 130.0 473.4 128.2 474.4 126.2C475.4 124.2 476.4 122.4 477.2 120.5C477.9 118.6 478.5 117.1 478.9 115.0C479.3 112.9 479.7 110.8 479.6 108.0C479.5 105.2 479.0 101.8 478.2 98.3C477.4 94.8 476.2 90.5 475.0 87.3C473.8 84.1 472.9 82.1 471.1 79.2C469.3 76.3 467.1 72.9 464.2 70.0C461.3 67.1 457.0 64.2 453.8 61.9C450.6 59.6 447.5 57.6 445.0 56.4C442.5 55.2 441.4 55.3 438.8 54.7C436.2 54.1 433.1 53.3 429.6 52.9C426.1 52.5 421.9 52.1 418.0 52.1C414.1 52.1 410.3 52.1 406.5 52.9C402.7 53.7 399.0 55.2 395.0 57.0C391.0 58.8 386.8 60.8 382.7 63.8C378.6 66.8 374.3 71.0 370.3 74.7C366.3 78.4 362.6 82.2 358.8 86.2C355.0 90.2 350.6 95.1 347.3 98.9C344.0 102.7 341.5 106.3 339.2 109.2C336.9 112.1 335.1 114.0 333.4 116.1C331.7 118.2 330.1 120.0 328.8 121.9C327.5 123.8 326.5 125.5 325.3 127.6C324.1 129.7 322.7 132.5 321.9 134.6C321.1 136.7 320.9 138.1 320.7 140.3C320.4 142.5 320.2 145.8 320.4 148.0C320.6 150.2 321.2 152.0 322.0 153.5C322.8 155.0 323.1 155.7 325.0 156.9C326.9 158.1 330.2 159.9 333.1 160.9C336.0 161.9 339.4 162.2 342.3 162.7C345.2 163.2 348.0 163.3 350.3 163.8C352.6 164.3 354.6 164.9 356.1 165.5C357.7 166.1 358.5 166.5 359.6 167.3C360.8 168.1 361.9 169.2 363.0 170.2C364.1 171.1 365.1 172.1 366.5 173.0C367.9 173.9 369.4 175.1 371.1 175.9C372.8 176.7 374.7 177.4 376.8 177.6C378.9 177.8 381.2 177.9 383.7 177.3C386.2 176.7 389.3 175.7 391.9 174.2C394.5 172.7 396.8 170.3 399.2 168.5C401.6 166.7 404.2 164.7 406.5 163.3C408.8 161.9 410.5 160.9 412.7 160.2C414.9 159.5 417.7 159.2 419.9 159.1C422.1 159.0 423.5 159.3 425.7 159.5C427.9 159.7 431.2 159.8 433.3 160.0C435.4 160.2 436.1 160.7 438.1 160.4C440.1 160.1 443.0 159.4 445.4 158.4C447.8 157.4 450.2 155.9 452.6 154.2C455.0 152.5 457.6 150.2 459.9 148.0C462.1 145.8 464.2 143.3 466.1 140.7C468.0 138.1 469.9 134.8 471.3 132.4Z"/><path d="M446.0 113.0C447.2 111.8 448.2 110.8 449.5 109.5C450.8 108.2 452.5 106.8 453.8 105.0C455.1 103.2 456.4 100.8 457.3 98.8C458.2 96.8 458.8 95.1 459.0 93.0C459.2 90.9 459.1 88.0 458.4 86.1C457.7 84.2 456.7 82.8 455.0 81.5C453.3 80.2 451.1 79.6 448.0 78.6C444.9 77.5 439.6 76.0 436.5 75.2C433.4 74.4 432.7 74.2 429.6 73.7C426.5 73.2 421.9 72.8 418.0 72.0C414.1 71.2 410.3 70.1 406.5 69.1C402.7 68.1 399.6 67.1 395.0 66.2C390.4 65.3 383.7 64.7 379.2 63.9C374.7 63.1 371.8 62.4 368.1 61.7C364.4 61.0 360.4 60.0 357.1 59.5C353.8 59.0 351.1 59.0 348.4 58.7C345.7 58.4 343.1 57.8 340.8 57.6C338.5 57.4 336.5 56.9 334.6 57.3C332.8 57.7 331.1 59.0 329.7 60.1C328.3 61.2 327.2 62.6 326.3 64.2C325.4 65.8 324.8 68.0 324.2 69.8C323.6 71.6 322.9 73.8 322.8 75.3C322.7 76.8 323.3 76.7 323.6 78.5C323.9 80.3 324.1 83.6 324.4 86.1C324.7 88.6 325.0 91.6 325.3 93.4C325.6 95.2 325.9 95.6 326.2 97.1C326.5 98.6 327.1 100.9 327.1 102.6C327.1 104.3 326.6 105.8 326.2 107.3C325.8 108.8 324.9 110.6 324.4 111.9C323.9 113.2 323.4 113.7 323.0 115.0C322.6 116.3 321.9 118.1 321.9 119.6C321.9 121.1 322.6 122.7 323.0 124.2C323.4 125.7 322.8 127.1 324.4 128.6C326.0 130.1 329.7 131.7 332.6 133.2C335.5 134.7 339.7 136.3 341.9 137.8C344.1 139.3 344.4 140.7 345.7 142.4C347.0 144.1 349.1 145.7 349.9 148.0C350.7 150.3 350.4 153.5 350.6 156.3C350.8 159.1 350.8 161.8 351.3 164.6C351.8 167.4 352.8 170.3 353.8 172.9C354.8 175.5 355.9 177.7 357.2 180.0C358.5 182.3 360.0 185.0 361.9 186.9C363.8 188.8 366.3 190.1 368.8 191.5C371.3 192.9 374.1 194.6 376.8 195.5C379.5 196.4 382.4 197.0 385.0 197.2C387.6 197.4 389.3 197.0 392.7 196.7C396.1 196.4 401.2 196.3 405.4 195.2C409.6 194.1 414.3 192.0 418.1 190.0C421.9 188.0 425.5 185.3 428.2 183.1C430.9 180.9 432.9 179.5 434.5 176.7C436.1 173.8 437.0 169.1 437.6 166.0C438.2 162.9 438.1 160.7 438.4 158.0"/><path d="M370.2 187.6C367.2 187.7 365.0 187.6 361.9 186.9C358.8 186.2 354.8 184.8 351.5 183.4C348.2 182.1 345.2 180.5 342.3 178.8C339.4 177.1 337.1 175.1 334.2 173.0C331.3 170.9 327.6 168.3 325.0 166.1C322.4 163.8 320.4 161.5 318.7 159.5C316.9 157.5 315.7 155.9 314.5 154.0C313.3 152.1 312.2 150.3 311.5 148.0C310.8 145.7 310.3 142.8 310.0 140.0C309.7 137.2 309.5 134.0 309.6 131.0C309.7 128.0 310.0 124.5 310.5 121.8C311.0 119.1 312.0 117.1 312.8 115.0C313.6 112.9 314.4 110.8 315.1 109.1C315.8 107.3 315.1 106.6 317.0 104.5C318.9 102.4 323.1 99.2 326.2 96.7C329.3 94.2 332.6 91.7 335.4 89.7C338.1 87.8 340.9 86.7 342.7 85.0C344.5 83.3 345.3 81.2 346.1 79.3C346.9 77.4 346.9 75.8 347.3 73.5C347.7 71.2 347.8 68.1 348.4 65.6C349.0 63.1 349.8 61.3 351.2 58.7C352.6 56.1 355.2 51.6 357.1 50.1C359.0 48.6 360.8 49.4 362.6 49.5C364.4 49.6 366.3 50.2 368.1 50.6C369.9 51.0 371.8 51.4 373.6 51.7C375.5 52.0 377.4 52.4 379.2 52.3C381.0 52.2 382.9 51.8 384.7 51.2C386.5 50.7 388.5 49.7 390.2 49.0C391.9 48.3 393.2 48.0 395.0 47.2C396.8 46.5 398.8 45.2 401.1 44.5C403.4 43.8 406.4 43.3 408.8 42.9C411.2 42.5 413.4 42.1 415.4 42.3C417.4 42.5 419.5 43.2 421.0 44.0C422.5 44.8 423.4 45.4 424.3 46.8C425.2 48.2 425.9 50.1 426.5 52.3C427.1 54.5 427.3 57.0 427.6 60.0C427.9 63.0 428.1 66.7 428.2 70.0C428.3 73.3 428.1 76.6 428.0 80.0C427.9 83.4 427.6 85.0 427.5 90.6C427.4 96.2 427.9 106.2 427.5 113.4C427.1 120.6 426.1 128.2 425.0 133.7C423.9 139.2 422.3 143.2 421.2 146.3C420.1 149.5 419.5 150.3 418.1 152.6C416.7 154.9 414.7 157.9 413.0 160.2C411.3 162.5 409.8 164.5 407.9 166.6C406.0 168.7 403.7 171.0 401.6 172.9C399.5 174.8 397.5 176.3 395.2 178.0C392.9 179.7 390.1 181.7 387.6 183.1C385.1 184.5 382.9 185.8 380.0 186.5C377.1 187.2 373.2 187.5 370.2 187.6Z"/><path d="M363.4 62.0C362.4 63.3 361.8 64.2 360.4 66.0C359.0 67.8 357.3 70.5 355.3 72.5C353.3 74.5 349.5 77.1 348.4 78.0C347.2 78.9 347.2 78.9 348.4 78.0C349.5 77.1 353.3 74.5 355.3 72.5C357.3 70.5 359.0 68.1 360.4 66.0C361.8 63.9 362.4 62.5 363.7 60.0C365.0 57.5 366.6 53.8 368.1 51.2C369.6 48.6 370.8 46.2 372.5 44.5C374.2 42.8 376.6 41.5 378.6 40.7C380.6 39.9 382.1 39.9 384.7 39.6C387.3 39.3 392.2 38.9 394.0 39.0C395.8 39.1 394.3 39.2 395.5 40.1C396.7 41.0 399.2 42.5 401.1 44.5C403.0 46.5 405.1 49.9 406.6 52.3C408.1 54.7 408.8 56.4 409.9 58.9C411.0 61.4 412.0 64.3 413.4 67.3C414.8 70.2 416.5 73.7 418.0 76.6C419.5 79.5 421.2 82.3 422.6 84.6C424.0 86.9 425.2 89.0 426.1 90.4C427.0 91.9 426.6 92.0 428.0 93.3C429.4 94.6 431.9 96.5 434.2 98.0C436.4 99.5 438.8 100.1 441.5 102.1C444.2 104.1 447.5 107.2 450.7 110.0C453.9 112.8 457.9 115.9 460.5 118.6C463.1 121.3 464.3 123.9 466.1 126.2C467.9 128.5 470.0 130.0 471.3 132.4C472.6 134.8 473.4 137.9 473.9 140.7C474.4 143.5 474.5 146.4 474.4 149.0C474.3 151.6 474.2 153.7 473.4 156.3C472.6 158.9 471.5 161.8 469.6 164.6C467.7 167.4 464.8 170.9 461.8 173.2C458.8 175.5 454.9 177.4 451.5 178.4C448.1 179.4 444.1 179.2 441.1 179.2C438.1 179.2 436.1 179.0 433.3 178.6C430.5 178.2 427.4 177.3 424.4 176.7C421.4 176.1 418.2 175.3 415.5 174.8C412.8 174.3 410.2 174.0 407.9 173.5C405.6 173.0 403.7 172.4 401.6 171.6C399.5 170.8 397.5 169.4 395.2 168.5C392.9 167.6 390.1 166.3 387.6 165.9C385.1 165.5 382.5 165.7 380.3 166.1C378.1 166.5 376.4 167.5 374.5 168.4C372.6 169.3 370.7 170.4 368.8 171.3C366.9 172.2 364.9 172.8 363.0 173.6C361.1 174.4 359.3 175.3 357.2 175.9C355.1 176.5 352.8 177.1 350.3 177.1C347.8 177.1 344.6 176.6 342.3 175.9C340.0 175.2 337.9 174.2 336.5 173.0C335.1 171.8 334.1 170.3 333.6 168.4C333.1 166.5 333.2 163.8 333.3 161.5C333.4 159.2 333.5 157.4 334.0 154.9C334.5 152.4 335.4 149.4 336.1 146.6C336.8 143.8 337.8 140.7 338.1 138.3C338.4 135.9 338.2 134.5 338.0 132.3C337.8 130.1 338.0 127.6 336.9 125.3C335.8 123.0 333.4 120.5 331.1 118.4C328.9 116.3 325.3 114.0 323.4 112.5C321.5 111.0 320.8 110.4 319.7 109.1C318.6 107.8 317.9 106.0 317.0 104.5"/><path d="M363.4 62.0C362.6 62.8 362.5 63.1 361.1 64.3C359.8 65.5 357.6 67.5 355.3 68.9C353.0 70.3 350.6 71.9 347.3 72.9C344.1 74.0 339.9 74.6 335.8 75.2C331.7 75.8 325.3 75.8 322.5 76.8C319.7 77.8 319.9 79.8 318.8 81.5C317.7 83.2 316.4 85.0 315.6 87.0C314.8 89.0 314.3 91.2 314.2 93.4C314.1 95.6 314.6 98.1 315.1 99.9C315.6 101.8 316.4 103.0 317.0 104.5"/></g>
<text x="319.2" y="75.45" font-size="6" text-anchor="middle" fill="#222">360</text>
<text x="330.7" y="69.05" font-size="6" text-anchor="middle" fill="#222">38</text>
<text x="342.6" y="69.05" font-size="6" text-anchor="middle" fill="#222">3</text>
<text x="358.4" y="48.55" font-size="6" text-anchor="middle" fill="#222">8</text>
<text x="358.8" y="57.15" font-size="6" text-anchor="middle" fill="#222">0</text>
<text x="353.3" y="66.05" font-size="6" text-anchor="middle" fill="#222">0</text>
<text x="339.6" y="81.85" font-size="6" text-anchor="middle" fill="#222">6</text>
<text x="329" y="86.95" font-size="6" text-anchor="middle" fill="#222">17</text>
<text x="319.2" y="94.65" font-size="6" text-anchor="middle" fill="#222">16</text>
<text x="354.6" y="83.15" font-size="6" text-anchor="middle" fill="#222">1</text>
<text x="322.6" y="107.45" font-size="6" text-anchor="middle" fill="#222">2</text>
<text x="332" y="107.45" font-size="6" text-anchor="middle" fill="#222">0</text>
<text x="316.2" y="123.15" font-size="6" text-anchor="middle" fill="#222">13</text>
<text x="324.7" y="123.15" font-size="6" text-anchor="middle" fill="#222">7</text>
<text x="332" y="130.85" font-size="6" text-anchor="middle" fill="#222">1</text>
<text x="344.8" y="136.35" font-size="6" text-anchor="middle" fill="#222">1</text>
<text x="329.8" y="141.55" font-size="6" text-anchor="middle" fill="#222">1</text>
<text x="341.8" y="147.85" font-size="6" text-anchor="middle" fill="#222">0</text>
<text x="327.7" y="152.15" font-size="6" text-anchor="middle" fill="#222">2</text>
<text x="341.8" y="158.55" font-size="6" text-anchor="middle" fill="#222">0</text>
<text x="329" y="164.95" font-size="6" text-anchor="middle" fill="#222">30</text>
<text x="343.9" y="171.35" font-size="6" text-anchor="middle" fill="#222">20</text>
<text x="356.7" y="171.35" font-size="6" text-anchor="middle" fill="#222">2</text>
<text x="361" y="164.95" font-size="6" text-anchor="middle" fill="#222">0</text>
<text x="374.6" y="175.65" font-size="6" text-anchor="middle" fill="#222">2</text>
<text x="370.3" y="184.15" font-size="6" text-anchor="middle" fill="#222">16</text>
<text x="385.3" y="172.15" font-size="6" text-anchor="middle" fill="#222">0</text>
<text x="394.6" y="179.05" font-size="6" text-anchor="middle" fill="#222">0</text>
<text x="393.8" y="160.65" font-size="6" text-anchor="middle" fill="#222">0</text>
<text x="404.4" y="184.15" font-size="6" text-anchor="middle" fill="#222">0</text>
<text x="405.7" y="170.45" font-size="6" text-anchor="middle" fill="#222">0</text>
<text x="416" y="170.45" font-size="6" text-anchor="middle" fill="#222">0</text>
<text x="427.9" y="172.15" font-size="6" text-anchor="middle" fill="#222">6</text>
<text x="401" y="191.35" font-size="6" text-anchor="middle" fill="#222">56</text>
<text x="427" y="152.15" font-size="6" text-anchor="middle" fill="#222">0</text>
<text x="432.1" y="159.45" font-size="6" text-anchor="middle" fill="#222">0</text>
<text x="455.6" y="162.85" font-size="6" text-anchor="middle" fill="#222">20</text>
<text x="439.8" y="142.35" font-size="6" text-anchor="middle" fill="#222">0</text>
<text x="452.6" y="142.35" font-size="6" text-anchor="middle" fill="#222">0</text>
<text x="440.7" y="132.15" font-size="6" text-anchor="middle" fill="#222">0</text>
<text x="450" y="122.35" font-size="6" text-anchor="middle" fill="#222">2</text>
<text x="442.8" y="112.95" font-size="6" text-anchor="middle" fill="#222">5</text>
<text x="458.6" y="111.65" font-size="6" text-anchor="middle" fill="#222">10</text>
<text x="431.3" y="122.35" font-size="6" text-anchor="middle" fill="#222">3</text>
<text x="449.2" y="103.15" font-size="6" text-anchor="middle" fill="#222">8</text>
<text x="452.2" y="92.45" font-size="6" text-anchor="middle" fill="#222">3</text>
<text x="464.1" y="95.85" font-size="6" text-anchor="middle" fill="#222">6</text>
<text x="442.8" y="85.25" font-size="6" text-anchor="middle" fill="#222">0</text>
<text x="435.5" y="90.35" font-size="6" text-anchor="middle" fill="#222">0</text>
<text x="423.6" y="82.65" font-size="6" text-anchor="middle" fill="#222">0</text>
<text x="434.3" y="71.15" font-size="6" text-anchor="middle" fill="#222">0</text>
<text x="438.5" y="66.05" font-size="6" text-anchor="middle" fill="#222">0</text>
<text x="421.5" y="70.35" font-size="6" text-anchor="middle" fill="#222">0</text>
<text x="415.1" y="59.65" font-size="6" text-anchor="middle" fill="#222">0</text>
<text x="414.2" y="50.25" font-size="6" text-anchor="middle" fill="#222">1</text>
<text x="399.3" y="66.05" font-size="6" text-anchor="middle" fill="#222">0</text>
<text x="403.6" y="59.65" font-size="6" text-anchor="middle" fill="#222">0</text>
<text x="398" y="53.25" font-size="6" text-anchor="middle" fill="#222">1</text>
<text x="401.4" y="39.15" font-size="6" text-anchor="middle" fill="#222">1</text>
<text x="389.5" y="45.55" font-size="6" text-anchor="middle" fill="#222">1</text>
<text x="378.9" y="49.85" font-size="6" text-anchor="middle" fill="#222">0</text>
<text x="378" y="59.65" font-size="6" text-anchor="middle" fill="#222">1</text>
<text x="387.4" y="115.05" font-size="6" text-anchor="middle" fill="#222">0</text>
<text x="313.4" y="46.5" font-size="10" text-anchor="middle" fill="#222">P1</text>
<text x="390.7" y="24.6" font-size="10" text-anchor="middle" fill="#222">P2</text>
<text x="469.5" y="62.9" font-size="10" text-anchor="middle" fill="#222">P3</text>
<text x="471.5" y="179.7" font-size="10" text-anchor="middle" fill="#222">A1</text>
<text x="400" y="205.5" font-size="10" text-anchor="middle" fill="#222">A2</text>
<text x="313.9" y="184.7" font-size="10" text-anchor="middle" fill="#222">A3</text>
<rect x="558.3" y="23.3" width="86.2" height="54.9" fill="#fff" stroke="#b3b3b3" stroke-width="0.8"/>
<line x1="562.2" y1="23.3" x2="562.2" y2="78.2" stroke="#f2f2f2" stroke-width="0.5"/>
<line x1="583" y1="23.3" x2="583" y2="78.2" stroke="#f2f2f2" stroke-width="0.5"/>
<line x1="603.8" y1="23.3" x2="603.8" y2="78.2" stroke="#f2f2f2" stroke-width="0.5"/>
<line x1="624.5" y1="23.3" x2="624.5" y2="78.2" stroke="#f2f2f2" stroke-width="0.5"/>
<line x1="572.5" y1="23.3" x2="572.5" y2="78.2" stroke="#e6e6e6" stroke-width="0.7"/>
<line x1="593.3" y1="23.3" x2="593.3" y2="78.2" stroke="#e6e6e6" stroke-width="0.7"/>
<line x1="614" y1="23.3" x2="614" y2="78.2" stroke="#e6e6e6" stroke-width="0.7"/>
<line x1="634.7" y1="23.3" x2="634.7" y2="78.2" stroke="#e6e6e6" stroke-width="0.7"/>
<line x1="558.3" y1="30.2" x2="644.5" y2="30.2" stroke="#e6e6e6" stroke-width="0.7"/>
<line x1="558.3" y1="40.7" x2="644.5" y2="40.7" stroke="#e6e6e6" stroke-width="0.7"/>
<line x1="558.3" y1="51.3" x2="644.5" y2="51.3" stroke="#e6e6e6" stroke-width="0.7"/>
<line x1="558.3" y1="61.9" x2="644.5" y2="61.9" stroke="#e6e6e6" stroke-width="0.7"/>
<line x1="558.3" y1="72.4" x2="644.5" y2="72.4" stroke="#e6e6e6" stroke-width="0.7"/>
<rect x="644.5" y="23.3" width="8.3" height="54.9" fill="#d6d6d6" stroke="#b3b3b3" stroke-width="0.6"/>
<line x1="644.5" y1="23.3" x2="644.5" y2="78.2" stroke="#333" stroke-width="0.6"/>
<text x="647.2" y="50.75" font-size="4.4" text-anchor="middle" fill="#333" transform="rotate(90 647.2 50.75)">BP</text>
<line x1="556.6" y1="30.2" x2="558.3" y2="30.2" stroke="#333" stroke-width="0.5"/>
<text x="556" y="29.3" font-size="5.1" text-anchor="end" fill="#1a1a1a">positive regulation of</text>
<text x="556" y="34.8" font-size="5.1" text-anchor="end" fill="#1a1a1a">cytokine production</text>
<circle cx="640.3" cy="30.2" r="3.8" fill="#d9484a" stroke="#333" stroke-width="0.45"/>
<line x1="556.6" y1="40.7" x2="558.3" y2="40.7" stroke="#333" stroke-width="0.5"/>
<text x="556" y="42.5" font-size="5.1" text-anchor="end" fill="#1a1a1a">response to virus</text>
<circle cx="628.2" cy="40.7" r="3.8" fill="#d9484a" stroke="#333" stroke-width="0.45"/>
<line x1="556.6" y1="51.3" x2="558.3" y2="51.3" stroke="#333" stroke-width="0.5"/>
<text x="556" y="53.1" font-size="5.1" text-anchor="end" fill="#1a1a1a">cell chemotaxis</text>
<circle cx="624.6" cy="51.3" r="3.7" fill="#d9484a" stroke="#333" stroke-width="0.45"/>
<line x1="556.6" y1="61.9" x2="558.3" y2="61.9" stroke="#333" stroke-width="0.5"/>
<text x="556" y="63.7" font-size="5.1" text-anchor="end" fill="#1a1a1a">leukocyte chemotaxis</text>
<circle cx="616" cy="61.9" r="3.4" fill="#d9484a" stroke="#333" stroke-width="0.45"/>
<line x1="556.6" y1="72.4" x2="558.3" y2="72.4" stroke="#333" stroke-width="0.5"/>
<text x="556" y="71.5" font-size="5.1" text-anchor="end" fill="#1a1a1a">regulation of leukocyte</text>
<text x="556" y="77" font-size="5.1" text-anchor="end" fill="#1a1a1a">chemotaxis</text>
<circle cx="593.5" cy="72.4" r="3" fill="#d9484a" stroke="#333" stroke-width="0.45"/>
<rect x="558.3" y="81.9" width="86.2" height="54.4" fill="#fff" stroke="#b3b3b3" stroke-width="0.8"/>
<line x1="562.2" y1="81.9" x2="562.2" y2="136.3" stroke="#f2f2f2" stroke-width="0.5"/>
<line x1="583" y1="81.9" x2="583" y2="136.3" stroke="#f2f2f2" stroke-width="0.5"/>
<line x1="603.8" y1="81.9" x2="603.8" y2="136.3" stroke="#f2f2f2" stroke-width="0.5"/>
<line x1="624.5" y1="81.9" x2="624.5" y2="136.3" stroke="#f2f2f2" stroke-width="0.5"/>
<line x1="572.5" y1="81.9" x2="572.5" y2="136.3" stroke="#e6e6e6" stroke-width="0.7"/>
<line x1="593.3" y1="81.9" x2="593.3" y2="136.3" stroke="#e6e6e6" stroke-width="0.7"/>
<line x1="614" y1="81.9" x2="614" y2="136.3" stroke="#e6e6e6" stroke-width="0.7"/>
<line x1="634.7" y1="81.9" x2="634.7" y2="136.3" stroke="#e6e6e6" stroke-width="0.7"/>
<line x1="558.3" y1="88" x2="644.5" y2="88" stroke="#e6e6e6" stroke-width="0.7"/>
<line x1="558.3" y1="98.7" x2="644.5" y2="98.7" stroke="#e6e6e6" stroke-width="0.7"/>
<line x1="558.3" y1="109.2" x2="644.5" y2="109.2" stroke="#e6e6e6" stroke-width="0.7"/>
<line x1="558.3" y1="119.9" x2="644.5" y2="119.9" stroke="#e6e6e6" stroke-width="0.7"/>
<line x1="558.3" y1="130.5" x2="644.5" y2="130.5" stroke="#e6e6e6" stroke-width="0.7"/>
<rect x="644.5" y="81.9" width="8.3" height="54.4" fill="#d6d6d6" stroke="#b3b3b3" stroke-width="0.6"/>
<line x1="644.5" y1="81.9" x2="644.5" y2="136.3" stroke="#333" stroke-width="0.6"/>
<text x="647.2" y="109.1" font-size="4.4" text-anchor="middle" fill="#333" transform="rotate(90 647.2 109.1)">CC</text>
<line x1="556.6" y1="88" x2="558.3" y2="88" stroke="#333" stroke-width="0.5"/>
<text x="556" y="89.8" font-size="5.1" text-anchor="end" fill="#1a1a1a">vacuolar membrane</text>
<circle cx="628.6" cy="88" r="4" fill="#d9484a" stroke="#333" stroke-width="0.45"/>
<line x1="556.6" y1="98.7" x2="558.3" y2="98.7" stroke="#333" stroke-width="0.5"/>
<text x="556" y="100.5" font-size="5.1" text-anchor="end" fill="#1a1a1a">lysosomal membrane</text>
<circle cx="621.3" cy="98.7" r="3.8" fill="#d9484a" stroke="#333" stroke-width="0.45"/>
<line x1="556.6" y1="109.2" x2="558.3" y2="109.2" stroke="#333" stroke-width="0.5"/>
<text x="556" y="111" font-size="5.1" text-anchor="end" fill="#1a1a1a">lytic vacuole membrane</text>
<circle cx="621.3" cy="109.2" r="3.8" fill="#d9484a" stroke="#333" stroke-width="0.45"/>
<line x1="556.6" y1="119.9" x2="558.3" y2="119.9" stroke="#333" stroke-width="0.5"/>
<text x="556" y="121.7" font-size="5.1" text-anchor="end" fill="#1a1a1a">secretory granule membrane</text>
<circle cx="610.8" cy="119.9" r="3.5" fill="#d9484a" stroke="#333" stroke-width="0.45"/>
<line x1="556.6" y1="130.5" x2="558.3" y2="130.5" stroke="#333" stroke-width="0.5"/>
<text x="556" y="132.3" font-size="5.1" text-anchor="end" fill="#1a1a1a">coated vesicle</text>
<circle cx="607.5" cy="130.5" r="3.5" fill="#d9484a" stroke="#333" stroke-width="0.45"/>
<rect x="558.3" y="139.8" width="86.2" height="54.4" fill="#fff" stroke="#b3b3b3" stroke-width="0.8"/>
<line x1="562.2" y1="139.8" x2="562.2" y2="194.2" stroke="#f2f2f2" stroke-width="0.5"/>
<line x1="583" y1="139.8" x2="583" y2="194.2" stroke="#f2f2f2" stroke-width="0.5"/>
<line x1="603.8" y1="139.8" x2="603.8" y2="194.2" stroke="#f2f2f2" stroke-width="0.5"/>
<line x1="624.5" y1="139.8" x2="624.5" y2="194.2" stroke="#f2f2f2" stroke-width="0.5"/>
<line x1="572.5" y1="139.8" x2="572.5" y2="194.2" stroke="#e6e6e6" stroke-width="0.7"/>
<line x1="593.3" y1="139.8" x2="593.3" y2="194.2" stroke="#e6e6e6" stroke-width="0.7"/>
<line x1="614" y1="139.8" x2="614" y2="194.2" stroke="#e6e6e6" stroke-width="0.7"/>
<line x1="634.7" y1="139.8" x2="634.7" y2="194.2" stroke="#e6e6e6" stroke-width="0.7"/>
<line x1="558.3" y1="145.9" x2="644.5" y2="145.9" stroke="#e6e6e6" stroke-width="0.7"/>
<line x1="558.3" y1="156.6" x2="644.5" y2="156.6" stroke="#e6e6e6" stroke-width="0.7"/>
<line x1="558.3" y1="167.1" x2="644.5" y2="167.1" stroke="#e6e6e6" stroke-width="0.7"/>
<line x1="558.3" y1="177.7" x2="644.5" y2="177.7" stroke="#e6e6e6" stroke-width="0.7"/>
<line x1="558.3" y1="188.2" x2="644.5" y2="188.2" stroke="#e6e6e6" stroke-width="0.7"/>
<rect x="644.5" y="139.8" width="8.3" height="54.4" fill="#d6d6d6" stroke="#b3b3b3" stroke-width="0.6"/>
<line x1="644.5" y1="139.8" x2="644.5" y2="194.2" stroke="#333" stroke-width="0.6"/>
<text x="647.2" y="167" font-size="4.4" text-anchor="middle" fill="#333" transform="rotate(90 647.2 167)">MF</text>
<line x1="556.6" y1="145.9" x2="558.3" y2="145.9" stroke="#333" stroke-width="0.5"/>
<text x="556" y="145" font-size="5.1" text-anchor="end" fill="#1a1a1a">DNA-binding transcription</text>
<text x="556" y="150.5" font-size="5.1" text-anchor="end" fill="#1a1a1a">factor binding</text>
<circle cx="613" cy="145.9" r="3.8" fill="#8d5575" stroke="#333" stroke-width="0.45"/>
<line x1="556.6" y1="156.6" x2="558.3" y2="156.6" stroke="#333" stroke-width="0.5"/>
<text x="556" y="158.4" font-size="5.1" text-anchor="end" fill="#1a1a1a">cytokine receptor binding</text>
<circle cx="593.7" cy="156.6" r="3.4" fill="#8d5575" stroke="#333" stroke-width="0.45"/>
<line x1="556.6" y1="167.1" x2="558.3" y2="167.1" stroke="#333" stroke-width="0.5"/>
<text x="556" y="168.9" font-size="5.1" text-anchor="end" fill="#1a1a1a">cytokine activity</text>
<circle cx="588.3" cy="167.1" r="3.2" fill="#3064aa" stroke="#333" stroke-width="0.45"/>
<line x1="556.6" y1="177.7" x2="558.3" y2="177.7" stroke="#333" stroke-width="0.5"/>
<text x="556" y="179.5" font-size="5.1" text-anchor="end" fill="#1a1a1a">immune receptor activity</text>
<circle cx="581.4" cy="177.7" r="3" fill="#955370" stroke="#333" stroke-width="0.45"/>
<line x1="556.6" y1="188.2" x2="558.3" y2="188.2" stroke="#333" stroke-width="0.5"/>
<text x="556" y="190" font-size="5.1" text-anchor="end" fill="#1a1a1a">complement receptor activity</text>
<circle cx="562.4" cy="188.2" r="1.8" fill="#c54b56" stroke="#333" stroke-width="0.45"/>
<line x1="572.5" y1="194.2" x2="572.5" y2="195.8" stroke="#333" stroke-width="0.5"/>
<text x="572.5" y="201.2" font-size="4.6" text-anchor="middle" fill="#333">0.02</text>
<line x1="593.3" y1="194.2" x2="593.3" y2="195.8" stroke="#333" stroke-width="0.5"/>
<text x="593.3" y="201.2" font-size="4.6" text-anchor="middle" fill="#333">0.04</text>
<line x1="614" y1="194.2" x2="614" y2="195.8" stroke="#333" stroke-width="0.5"/>
<text x="614" y="201.2" font-size="4.6" text-anchor="middle" fill="#333">0.06</text>
<line x1="634.7" y1="194.2" x2="634.7" y2="195.8" stroke="#333" stroke-width="0.5"/>
<text x="634.7" y="201.2" font-size="4.6" text-anchor="middle" fill="#333">0.08</text>
<text x="601.3" y="207.3" font-size="5.4" text-anchor="middle" fill="#1a1a1a">GeneRatio</text>
<text x="661.6" y="54.1" font-size="5.5" text-anchor="start" fill="#1a1a1a">p.adjust</text>
<defs><linearGradient id="gc" x1="0" y1="0" x2="0" y2="1"><stop offset="0" stop-color="#dd4a4f"/><stop offset="0.5" stop-color="#8d5a82"/><stop offset="1" stop-color="#2f66b1"/></linearGradient></defs>
<rect x="661.6" y="56.9" width="8.7" height="43.7" fill="url(#gc)"/>
<line x1="661.6" y1="69.5" x2="663.3" y2="69.5" stroke="#fff" stroke-width="0.5"/><line x1="668.6" y1="69.5" x2="670.3" y2="69.5" stroke="#fff" stroke-width="0.5"/>
<text x="673.4" y="71" font-size="4.2" text-anchor="start" fill="#333">0.001</text>
<line x1="661.6" y1="81.8" x2="663.3" y2="81.8" stroke="#fff" stroke-width="0.5"/><line x1="668.6" y1="81.8" x2="670.3" y2="81.8" stroke="#fff" stroke-width="0.5"/>
<text x="673.4" y="83.3" font-size="4.2" text-anchor="start" fill="#333">0.002</text>
<line x1="661.6" y1="94" x2="663.3" y2="94" stroke="#fff" stroke-width="0.5"/><line x1="668.6" y1="94" x2="670.3" y2="94" stroke="#fff" stroke-width="0.5"/>
<text x="673.4" y="95.5" font-size="4.2" text-anchor="start" fill="#333">0.003</text>
<text x="661.8" y="117.2" font-size="5.5" text-anchor="start" fill="#1a1a1a">Count</text>
<circle cx="667" cy="124.4" r="2.4" fill="none" stroke="#333" stroke-width="0.5"/>
<text x="676.3" y="125.9" font-size="4.2" text-anchor="start" fill="#333">10</text>
<circle cx="667" cy="133.8" r="3" fill="none" stroke="#333" stroke-width="0.5"/>
<text x="676.3" y="135.3" font-size="4.2" text-anchor="start" fill="#333">20</text>
<circle cx="667" cy="143.1" r="3.5" fill="none" stroke="#333" stroke-width="0.5"/>
<text x="676.3" y="144.6" font-size="4.2" text-anchor="start" fill="#333">30</text>
<circle cx="667" cy="152.8" r="4" fill="none" stroke="#333" stroke-width="0.5"/>
<text x="676.3" y="154.3" font-size="4.2" text-anchor="start" fill="#333">40</text>
<circle cx="667" cy="163.3" r="4.5" fill="none" stroke="#333" stroke-width="0.5"/>
<text x="676.3" y="164.8" font-size="4.2" text-anchor="start" fill="#333">50</text>
<rect x="93.4" y="249.6" width="84.2" height="168.3" fill="#fff" stroke="#b3b3b3" stroke-width="0.8"/>
<line x1="114.8" y1="249.6" x2="114.8" y2="417.9" stroke="#f2f2f2" stroke-width="0.5"/>
<line x1="137.5" y1="249.6" x2="137.5" y2="417.9" stroke="#f2f2f2" stroke-width="0.5"/>
<line x1="160.1" y1="249.6" x2="160.1" y2="417.9" stroke="#f2f2f2" stroke-width="0.5"/>
<line x1="103.5" y1="249.6" x2="103.5" y2="417.9" stroke="#e8e8e8" stroke-width="0.7"/>
<line x1="126.2" y1="249.6" x2="126.2" y2="417.9" stroke="#e8e8e8" stroke-width="0.7"/>
<line x1="148.8" y1="249.6" x2="148.8" y2="417.9" stroke="#e8e8e8" stroke-width="0.7"/>
<line x1="171.5" y1="249.6" x2="171.5" y2="417.9" stroke="#e8e8e8" stroke-width="0.7"/>
<line x1="93.4" y1="259.4" x2="177.6" y2="259.4" stroke="#e8e8e8" stroke-width="0.7"/>
<line x1="93.4" y1="276.1" x2="177.6" y2="276.1" stroke="#e8e8e8" stroke-width="0.7"/>
<line x1="93.4" y1="292.6" x2="177.6" y2="292.6" stroke="#e8e8e8" stroke-width="0.7"/>
<line x1="93.4" y1="309.3" x2="177.6" y2="309.3" stroke="#e8e8e8" stroke-width="0.7"/>
<line x1="93.4" y1="325.8" x2="177.6" y2="325.8" stroke="#e8e8e8" stroke-width="0.7"/>
<line x1="93.4" y1="342.2" x2="177.6" y2="342.2" stroke="#e8e8e8" stroke-width="0.7"/>
<line x1="93.4" y1="359" x2="177.6" y2="359" stroke="#e8e8e8" stroke-width="0.7"/>
<line x1="93.4" y1="375.4" x2="177.6" y2="375.4" stroke="#e8e8e8" stroke-width="0.7"/>
<line x1="93.4" y1="391.9" x2="177.6" y2="391.9" stroke="#e8e8e8" stroke-width="0.7"/>
<line x1="93.4" y1="408.8" x2="177.6" y2="408.8" stroke="#e8e8e8" stroke-width="0.7"/>
<line x1="93.4" y1="249.6" x2="93.4" y2="417.9" stroke="#333" stroke-width="0.6"/>
<line x1="93.4" y1="417.9" x2="177.6" y2="417.9" stroke="#333" stroke-width="0.6"/>
<line x1="91.6" y1="259.4" x2="93.4" y2="259.4" stroke="#333" stroke-width="0.5"/>
<text x="90.4" y="261.5" font-size="6.08" text-anchor="end" fill="#1a1a1a">Lipid and atherosclerosis</text>
<circle cx="173.9" cy="259.4" r="4.1" fill="#5b5b93" stroke="#333" stroke-width="0.45"/>
<line x1="91.6" y1="276.1" x2="93.4" y2="276.1" stroke="#333" stroke-width="0.5"/>
<text x="90.4" y="278.2" font-size="6.08" text-anchor="end" fill="#1a1a1a">Tuberculosis</text>
<circle cx="161.3" cy="276.1" r="4.1" fill="#5b5b93" stroke="#333" stroke-width="0.45"/>
<line x1="91.6" y1="292.6" x2="93.4" y2="292.6" stroke="#333" stroke-width="0.5"/>
<text x="90.4" y="291.5" font-size="6.08" text-anchor="end" fill="#1a1a1a">NOD-like receptor signaling</text>
<text x="90.4" y="298.1" font-size="6.08" text-anchor="end" fill="#1a1a1a">pathway</text>
<circle cx="161.3" cy="292.6" r="4.1" fill="#5b5b93" stroke="#333" stroke-width="0.45"/>
<line x1="91.6" y1="309.3" x2="93.4" y2="309.3" stroke="#333" stroke-width="0.5"/>
<text x="90.4" y="311.4" font-size="6.08" text-anchor="end" fill="#1a1a1a">Rheumatoid arthritis</text>
<circle cx="154.9" cy="309.3" r="3.9" fill="#db4850" stroke="#333" stroke-width="0.45"/>
<line x1="91.6" y1="325.8" x2="93.4" y2="325.8" stroke="#333" stroke-width="0.5"/>
<text x="90.4" y="327.9" font-size="6.08" text-anchor="end" fill="#1a1a1a">Influenza A</text>
<circle cx="154.9" cy="325.8" r="3.9" fill="#5b5b93" stroke="#333" stroke-width="0.45"/>
<line x1="91.6" y1="342.2" x2="93.4" y2="342.2" stroke="#333" stroke-width="0.5"/>
<text x="90.4" y="341.1" font-size="6.08" text-anchor="end" fill="#1a1a1a">Toll-like receptor signaling</text>
<text x="90.4" y="347.7" font-size="6.08" text-anchor="end" fill="#1a1a1a">pathway</text>
<circle cx="122.6" cy="342.2" r="3.2" fill="#5b5b93" stroke="#333" stroke-width="0.45"/>
<line x1="91.6" y1="359" x2="93.4" y2="359" stroke="#333" stroke-width="0.5"/>
<text x="90.4" y="361.1" font-size="6.08" text-anchor="end" fill="#1a1a1a">TNF signaling pathway</text>
<circle cx="122.6" cy="359" r="3.2" fill="#2e63a6" stroke="#333" stroke-width="0.45"/>
<line x1="91.6" y1="375.4" x2="93.4" y2="375.4" stroke="#333" stroke-width="0.5"/>
<text x="90.4" y="374.3" font-size="6.08" text-anchor="end" fill="#1a1a1a">Epithelial cell signaling in</text>
<text x="90.4" y="380.9" font-size="6.08" text-anchor="end" fill="#1a1a1a">Helicobacter pylori infection</text>
<circle cx="103.4" cy="375.4" r="2.5" fill="#5e5b91" stroke="#333" stroke-width="0.45"/>
<line x1="91.6" y1="391.9" x2="93.4" y2="391.9" stroke="#333" stroke-width="0.5"/>
<text x="90.4" y="394" font-size="6.08" text-anchor="end" fill="#1a1a1a">Leishmaniasis</text>
<circle cx="103.4" cy="391.9" r="2.5" fill="#5e5b91" stroke="#333" stroke-width="0.45"/>
<line x1="91.6" y1="408.8" x2="93.4" y2="408.8" stroke="#333" stroke-width="0.5"/>
<text x="90.4" y="410.9" font-size="6.08" text-anchor="end" fill="#1a1a1a">Legionellosis</text>
<circle cx="97" cy="408.8" r="1.75" fill="#a4506d" stroke="#333" stroke-width="0.45"/>
<line x1="103.5" y1="417.9" x2="103.5" y2="419.5" stroke="#333" stroke-width="0.5"/>
<text x="103.5" y="425.6" font-size="5.5" text-anchor="middle" fill="#333">0.04</text>
<line x1="126.2" y1="417.9" x2="126.2" y2="419.5" stroke="#333" stroke-width="0.5"/>
<text x="126.2" y="425.6" font-size="5.5" text-anchor="middle" fill="#333">0.05</text>
<line x1="148.8" y1="417.9" x2="148.8" y2="419.5" stroke="#333" stroke-width="0.5"/>
<text x="148.8" y="425.6" font-size="5.5" text-anchor="middle" fill="#333">0.06</text>
<line x1="171.5" y1="417.9" x2="171.5" y2="419.5" stroke="#333" stroke-width="0.5"/>
<text x="171.5" y="425.6" font-size="5.5" text-anchor="middle" fill="#333">0.07</text>
<text x="135.4" y="432.6" font-size="6" text-anchor="middle" fill="#1a1a1a">GeneRatio</text>
<text x="186.2" y="278.5" font-size="5.6" text-anchor="start" fill="#1a1a1a">p.adjust</text>
<defs><linearGradient id="gd" x1="0" y1="0" x2="0" y2="1"><stop offset="0" stop-color="#dc4a52"/><stop offset="0.5" stop-color="#8e5678"/><stop offset="1" stop-color="#3a62a8"/></linearGradient></defs>
<rect x="186.2" y="281.4" width="8.7" height="44.2" fill="url(#gd)"/>
<line x1="186.2" y1="291.5" x2="187.9" y2="291.5" stroke="#fff" stroke-width="0.5"/><line x1="193.2" y1="291.5" x2="194.9" y2="291.5" stroke="#fff" stroke-width="0.5"/>
<text x="198" y="292.9" font-size="4" text-anchor="start" fill="#333">2e-05</text>
<line x1="186.2" y1="301.4" x2="187.9" y2="301.4" stroke="#fff" stroke-width="0.5"/><line x1="193.2" y1="301.4" x2="194.9" y2="301.4" stroke="#fff" stroke-width="0.5"/>
<text x="198" y="302.8" font-size="4" text-anchor="start" fill="#333">4e-05</text>
<line x1="186.2" y1="311.5" x2="187.9" y2="311.5" stroke="#fff" stroke-width="0.5"/><line x1="193.2" y1="311.5" x2="194.9" y2="311.5" stroke="#fff" stroke-width="0.5"/>
<text x="198" y="312.9" font-size="4" text-anchor="start" fill="#333">6e-05</text>
<line x1="186.2" y1="321" x2="187.9" y2="321" stroke="#fff" stroke-width="0.5"/><line x1="193.2" y1="321" x2="194.9" y2="321" stroke="#fff" stroke-width="0.5"/>
<text x="198" y="322.4" font-size="4" text-anchor="start" fill="#333">8e-05</text>
<text x="186.2" y="341.6" font-size="5.6" text-anchor="start" fill="#1a1a1a">Count</text>
<circle cx="192" cy="349.4" r="2.9" fill="none" stroke="#333" stroke-width="0.5"/>
<text x="200.7" y="350.8" font-size="4" text-anchor="start" fill="#333">15.0</text>
<circle cx="192" cy="358" r="3.6" fill="none" stroke="#333" stroke-width="0.5"/>
<text x="200.7" y="359.4" font-size="4" text-anchor="start" fill="#333">17.5</text>
<circle cx="192" cy="367.5" r="4.1" fill="none" stroke="#333" stroke-width="0.5"/>
<text x="200.7" y="368.9" font-size="4" text-anchor="start" fill="#333">20.0</text>
<circle cx="192" cy="377.6" r="4.5" fill="none" stroke="#333" stroke-width="0.5"/>
<text x="200.7" y="379" font-size="4" text-anchor="start" fill="#333">22.5</text>
<circle cx="192" cy="389.1" r="4.9" fill="none" stroke="#333" stroke-width="0.5"/>
<text x="200.7" y="390.5" font-size="4" text-anchor="start" fill="#333">25.0</text>
<g fill="none" stroke-width="0.45"><polyline points="254,351.1 257.2,349.9 260.4,348.6 263.6,347.5 266.8,346.3 270,345.2 273.2,344.1 276.4,343.1 279.6,342.1 282.8,341.2 286,340.3 289.2,339.4 292.4,338.6 295.6,337.7 298.8,337 302,336.2 305.2,335.6 308.4,334.9 311.6,334.3 314.8,333.7 318,333.1 321.2,332.6 324.4,332.1 327.6,331.6 330.8,331.2 334,330.8 337.2,330.4 340.4,330.1 343.6,329.8 346.8,329.5 350,329.3 353.2,329 356.4,328.8 359.6,328.7 362.8,328.5 366,328.4 369.2,328.3 372.4,328.2 375.6,328.2 378.8,328.1 382,328.1 385.2,328.1 385.9,328.1" stroke="#000000"/><polyline points="254,337.2 257.2,336.8 260.4,336.4 263.6,336 266.8,335.6 270,335.2 273.2,334.9 276.4,334.5 279.6,334.2 282.8,333.9 286,333.6 289.2,333.2 292.4,333 295.6,332.7 298.8,332.4 302,332.1 305.2,331.9 308.4,331.6 311.6,331.4 314.8,331.2 318,331 321.2,330.8 324.4,330.6 327.6,330.4 330.8,330.2 334,330 337.2,329.9 340.4,329.7 343.6,329.6 346.8,329.4 350,329.3 353.2,329.2 356.4,329.1 359.6,329 362.8,328.9 366,328.8 369.2,328.7 372.4,328.6 375.6,328.5 378.8,328.5 382,328.4 385.2,328.4 388.4,328.3 391.6,328.3 394.8,328.2 398,328.2 401.2,328.2 404.4,328.2 407.6,328.1 410.8,328.1 414,328.1 417.2,328.1 420.4,328.1 423.6,328.1 426.4,328.1" stroke="#DF536B"/><polyline points="254,334 257.2,333.6 260.4,333.2 263.6,332.8 266.8,332.4 270,332.1 273.2,331.7 276.4,331.4 279.6,331.1 282.8,330.8 286,330.6 289.2,330.3 292.4,330.1 295.6,329.9 298.8,329.7 302,329.5 305.2,329.3 308.4,329.1 311.6,329 314.8,328.9 318,328.8 321.2,328.6 324.4,328.6 327.6,328.5 330.8,328.4 334,328.3 337.2,328.3 340.4,328.2 343.6,328.2 346.8,328.2 350,328.1 353.2,328.1 356.4,328.1 359.6,328.1 362.8,328.1 366,328.1 366.8,328.1" stroke="#61D04F"/><polyline points="254,331.7 257.2,331.6 260.4,331.4 263.6,331.2 266.8,331 270,330.9 273.2,330.7 276.4,330.6 279.6,330.4 282.8,330.3 286,330.1 289.2,330 292.4,329.9 295.6,329.7 298.8,329.6 302,329.5 305.2,329.4 308.4,329.3 311.6,329.2 314.8,329.1 318,329 321.2,328.9 324.4,328.8 327.6,328.7 330.8,328.7 334,328.6 337.2,328.5 340.4,328.5 343.6,328.4 346.8,328.4 350,328.3 353.2,328.3 356.4,328.2 359.6,328.2 362.8,328.2 366,328.2 369.2,328.1 372.4,328.1 375.6,328.1 378.8,328.1 382,328.1 383.3,328.1" stroke="#2297E6"/><polyline points="254,326.8 257.2,326.9 260.4,326.9 263.6,327 266.8,327.1 270,327.1 273.2,327.2 276.4,327.2 279.6,327.3 282.8,327.3 286,327.4 289.2,327.4 292.4,327.5 295.6,327.5 298.8,327.5 302,327.6 305.2,327.6 308.4,327.7 311.6,327.7 314.8,327.7 318,327.8 321.2,327.8 324.4,327.8 327.6,327.8 330.8,327.9 334,327.9 337.2,327.9 340.4,327.9 343.6,327.9 346.8,328 350,328 353.2,328 356.4,328 359.6,328 362.8,328 366,328 369.2,328 372.4,328.1 375.6,328.1 378.8,328.1 382,328.1 385.2,328.1 388.4,328.1 391.6,328.1 394.8,328.1 398,328.1 401.2,328.1 404.4,328.1 407.6,328.1 410.8,328.1 414,328.1 417.2,328.1 420.4,328.1 420.6,328.1" stroke="#28E2E5"/><polyline points="254,332.8 257.2,332.5 260.4,332.3 263.6,332.1 266.8,331.9 270,331.7 273.2,331.5 276.4,331.3 279.6,331.1 282.8,330.9 286,330.7 289.2,330.6 292.4,330.4 295.6,330.3 298.8,330.1 302,330 305.2,329.9 308.4,329.7 311.6,329.6 314.8,329.5 318,329.4 321.2,329.3 324.4,329.2 327.6,329.1 330.8,329 334,328.9 337.2,328.9 340.4,328.8 343.6,328.7 346.8,328.6 350,328.6 353.2,328.5 356.4,328.5 359.6,328.4 362.8,328.4 366,328.4 369.2,328.3 372.4,328.3 375.6,328.3 378.8,328.2 382,328.2 385.2,328.2 388.4,328.2 391.6,328.2 394.8,328.1 398,328.1 401.2,328.1 404.4,328.1 407.6,328.1 410.8,328.1 414,328.1 417.2,328.1 420.4,328.1 423.6,328.1 425.4,328.1" stroke="#CD0BBC"/><polyline points="254,322 257.2,322.2 260.4,322.5 263.6,322.8 266.8,323.1 270,323.3 273.2,323.6 276.4,323.8 279.6,324 282.8,324.3 286,324.5 289.2,324.7 292.4,324.9 295.6,325.1 298.8,325.3 302,325.5 305.2,325.7 308.4,325.8 311.6,326 314.8,326.2 318,326.3 321.2,326.5 324.4,326.6 327.6,326.7 330.8,326.8 334,327 337.2,327.1 340.4,327.2 343.6,327.3 346.8,327.4 350,327.5 353.2,327.6 356.4,327.6 359.6,327.7 362.8,327.8 366,327.8 369.2,327.9 372.4,327.9 375.6,328 378.8,328 382,328 385.2,328 388.4,328.1 391.6,328.1 394.8,328.1 398,328.1 401,328.1" stroke="#F5C710"/><polyline points="254,343.7 257.2,342.9 260.4,342.2 263.6,341.5 266.8,340.8 270,340.1 273.2,339.5 276.4,338.8 279.6,338.2 282.8,337.6 286,337.1 289.2,336.5 292.4,336 295.6,335.5 298.8,335 302,334.5 305.2,334 308.4,333.6 311.6,333.2 314.8,332.8 318,332.4 321.2,332 324.4,331.7 327.6,331.4 330.8,331.1 334,330.8 337.2,330.5 340.4,330.2 343.6,330 346.8,329.8 350,329.6 353.2,329.4 356.4,329.2 359.6,329 362.8,328.9 366,328.7 369.2,328.6 372.4,328.5 375.6,328.4 378.8,328.3 382,328.3 385.2,328.2 388.4,328.2 391.6,328.1 394.8,328.1 398,328.1 401.2,328.1 402.1,328.1" stroke="#9E9E9E"/><polyline points="254,285.1 257.2,286.8 260.4,288.6 263.6,290.2 266.8,291.9 270,293.5 273.2,295 276.4,296.5 279.6,298 282.8,299.4 286,300.8 289.2,302.2 292.4,303.5 295.6,304.8 298.8,306.1 302,307.3 305.2,308.5 308.4,309.6 311.6,310.7 314.8,311.8 318,312.8 321.2,313.8 324.4,314.7 327.6,315.6 330.8,316.5 334,317.4 337.2,318.2 340.4,319 343.6,319.7 346.8,320.4 350,321.1 353.2,321.7 356.4,322.3 359.6,322.9 362.8,323.4 366,324 369.2,324.4 372.4,324.9 375.6,325.3 378.8,325.7 382,326 385.2,326.3 388.4,326.6 391.6,326.9 394.8,327.1 398,327.3 401.2,327.5 404.4,327.7 407.6,327.8 410.8,327.9 414,328 417.2,328 420.4,328.1 423.6,328.1 425.6,328.1" stroke="#000000"/><polyline points="254,327.1 257.2,327.1 260.4,327.2 263.6,327.3 266.8,327.3 270,327.4 273.2,327.5 276.4,327.5 279.6,327.6 282.8,327.6 286,327.7 289.2,327.7 292.4,327.7 295.6,327.8 298.8,327.8 302,327.8 305.2,327.9 308.4,327.9 311.6,327.9 314.8,328 318,328 321.2,328 324.4,328 327.6,328 330.8,328 334,328.1 337.2,328.1 340.4,328.1 343.6,328.1 346.8,328.1 350,328.1 353.2,328.1 356.4,328.1 359.6,328.1 362.8,328.1 366,328.1 368.4,328.1" stroke="#DF536B"/><polyline points="254,326.5 257.2,326.6 260.4,326.7 263.6,326.8 266.8,326.9 270,327 273.2,327.1 276.4,327.2 279.6,327.3 282.8,327.4 286,327.4 289.2,327.5 292.4,327.6 295.6,327.6 298.8,327.7 302,327.7 305.2,327.8 308.4,327.8 311.6,327.9 314.8,327.9 318,327.9 321.2,327.9 324.4,328 327.6,328 330.8,328 334,328 337.2,328 340.4,328.1 343.6,328.1 346.8,328.1 350,328.1 353.2,328.1 356.4,328.1 359.6,328.1 362.8,328.1 366,328.1 369.2,328.1 371.5,328.1" stroke="#61D04F"/><polyline points="254,325.1 257.2,325.3 260.4,325.5 263.6,325.7 266.8,325.8 270,326 273.2,326.1 276.4,326.3 279.6,326.4 282.8,326.5 286,326.7 289.2,326.8 292.4,326.9 295.6,327 298.8,327.1 302,327.2 305.2,327.3 308.4,327.4 311.6,327.5 314.8,327.6 318,327.6 321.2,327.7 324.4,327.7 327.6,327.8 330.8,327.8 334,327.9 337.2,327.9 340.4,328 343.6,328 346.8,328 350,328 353.2,328.1 356.4,328.1 359.6,328.1 362.8,328.1 366,328.1 369.2,328.1 369.6,328.1" stroke="#2297E6"/><polyline points="254,320.6 257.2,320.9 260.4,321.3 263.6,321.7 266.8,322 270,322.3 273.2,322.7 276.4,323 279.6,323.3 282.8,323.6 286,323.8 289.2,324.1 292.4,324.4 295.6,324.6 298.8,324.9 302,325.1 305.2,325.3 308.4,325.5 311.6,325.7 314.8,325.9 318,326.1 321.2,326.3 324.4,326.5 327.6,326.6 330.8,326.8 334,326.9 337.2,327 340.4,327.2 343.6,327.3 346.8,327.4 350,327.5 353.2,327.6 356.4,327.7 359.6,327.7 362.8,327.8 366,327.9 369.2,327.9 372.4,327.9 375.6,328 378.8,328 382,328 385.2,328.1 388.4,328.1 391.6,328.1 394.8,328.1 398,328.1 398.8,328.1" stroke="#28E2E5"/><polyline points="254,347.6 257.2,346.6 260.4,345.7 263.6,344.8 266.8,343.9 270,343 273.2,342.2 276.4,341.4 279.6,340.6 282.8,339.9 286,339.1 289.2,338.4 292.4,337.7 295.6,337.1 298.8,336.4 302,335.8 305.2,335.3 308.4,334.7 311.6,334.2 314.8,333.6 318,333.2 321.2,332.7 324.4,332.3 327.6,331.8 330.8,331.4 334,331.1 337.2,330.7 340.4,330.4 343.6,330.1 346.8,329.8 350,329.6 353.2,329.3 356.4,329.1 359.6,328.9 362.8,328.8 366,328.6 369.2,328.5 372.4,328.4 375.6,328.3 378.8,328.2 382,328.2 385.2,328.1 388.4,328.1 391.1,328.1" stroke="#CD0BBC"/><polyline points="254,320.5 257.2,320.9 260.4,321.3 263.6,321.7 266.8,322.1 270,322.5 273.2,322.8 276.4,323.2 279.6,323.5 282.8,323.8 286,324.1 289.2,324.4 292.4,324.7 295.6,325 298.8,325.3 302,325.5 305.2,325.8 308.4,326 311.6,326.2 314.8,326.4 318,326.6 321.2,326.8 324.4,326.9 327.6,327.1 330.8,327.2 334,327.4 337.2,327.5 340.4,327.6 343.6,327.7 346.8,327.8 350,327.8 353.2,327.9 356.4,328 359.6,328 362.8,328 366,328.1 369.2,328.1 372.4,328.1 374.9,328.1" stroke="#F5C710"/><polyline points="254,344.2 257.2,343.5 260.4,342.8 263.6,342.1 266.8,341.5 270,340.9 273.2,340.2 276.4,339.6 279.6,339.1 282.8,338.5 286,338 289.2,337.4 292.4,336.9 295.6,336.4 298.8,335.9 302,335.5 305.2,335 308.4,334.6 311.6,334.2 314.8,333.8 318,333.4 321.2,333 324.4,332.6 327.6,332.3 330.8,332 334,331.7 337.2,331.4 340.4,331.1 343.6,330.8 346.8,330.5 350,330.3 353.2,330.1 356.4,329.9 359.6,329.7 362.8,329.5 366,329.3 369.2,329.1 372.4,329 375.6,328.9 378.8,328.7 382,328.6 385.2,328.5 388.4,328.4 391.6,328.4 394.8,328.3 398,328.2 401.2,328.2 404.4,328.2 407.6,328.1 410.8,328.1 414,328.1 417.2,328.1 417.4,328.1" stroke="#9E9E9E"/><polyline points="254,328.1 257.2,328.1 260.4,328.1 263.6,328.1 266.8,328.1 270,328.1 273.2,328.1 276.4,328.1 279.6,328.1 282.8,328.1 286,328.1 289.2,328.1 292.4,328.1 295.6,328.1 298.8,328.1 302,328.1 305.2,328.1 308.4,328.1 311.6,328.1 314.8,328.1 318,328.1 321.2,328.1 324.4,328.1 327.6,328.1 330.8,328.1 334,328.1 337.2,328.1 340.4,328.1 343.6,328.1 346.8,328.1 350,328.1 353.2,328.1 356.4,328.1 359.6,328.1 362.8,328.1 366,328.1 367.3,328.1" stroke="#000000"/><polyline points="254,292.1 257.2,293.9 260.4,295.6 263.6,297.2 266.8,298.8 270,300.3 273.2,301.8 276.4,303.2 279.6,304.6 282.8,305.9 286,307.2 289.2,308.4 292.4,309.6 295.6,310.7 298.8,311.8 302,312.9 305.2,313.9 308.4,314.8 311.6,315.8 314.8,316.6 318,317.5 321.2,318.3 324.4,319 327.6,319.7 330.8,320.4 334,321.1 337.2,321.7 340.4,322.3 343.6,322.8 346.8,323.3 350,323.8 353.2,324.2 356.4,324.7 359.6,325 362.8,325.4 366,325.7 369.2,326 372.4,326.3 375.6,326.6 378.8,326.8 382,327 385.2,327.2 388.4,327.3 391.6,327.5 394.8,327.6 398,327.7 401.2,327.8 404.4,327.9 407.6,327.9 410.8,328 414,328 417.2,328.1 420.4,328.1 423.6,328.1 426.8,328.1 430,328.1 431.3,328.1" stroke="#DF536B"/><polyline points="254,328.6 257.2,328.6 260.4,328.6 263.6,328.5 266.8,328.5 270,328.5 273.2,328.4 276.4,328.4 279.6,328.4 282.8,328.4 286,328.3 289.2,328.3 292.4,328.3 295.6,328.3 298.8,328.3 302,328.2 305.2,328.2 308.4,328.2 311.6,328.2 314.8,328.2 318,328.2 321.2,328.2 324.4,328.2 327.6,328.1 330.8,328.1 334,328.1 337.2,328.1 340.4,328.1 343.6,328.1 346.8,328.1 350,328.1 353.2,328.1 356.4,328.1 359.6,328.1 362.8,328.1 363.6,328.1" stroke="#61D04F"/><polyline points="254,331.2 257.2,331.1 260.4,331 263.6,330.9 266.8,330.7 270,330.6 273.2,330.5 276.4,330.4 279.6,330.3 282.8,330.2 286,330.1 289.2,330 292.4,329.9 295.6,329.8 298.8,329.7 302,329.6 305.2,329.5 308.4,329.5 311.6,329.4 314.8,329.3 318,329.2 321.2,329.2 324.4,329.1 327.6,329 330.8,329 334,328.9 337.2,328.8 340.4,328.8 343.6,328.7 346.8,328.7 350,328.6 353.2,328.6 356.4,328.5 359.6,328.5 362.8,328.5 366,328.4 369.2,328.4 372.4,328.4 375.6,328.3 378.8,328.3 382,328.3 385.2,328.2 388.4,328.2 391.6,328.2 394.8,328.2 398,328.2 401.2,328.2 404.4,328.1 407.6,328.1 410.8,328.1 414,328.1 417.2,328.1 420.4,328.1 423.6,328.1 426.8,328.1 429.2,328.1" stroke="#2297E6"/><polyline points="254,320.9 257.2,321.3 260.4,321.7 263.6,322.1 266.8,322.5 270,322.9 273.2,323.3 276.4,323.6 279.6,323.9 282.8,324.2 286,324.6 289.2,324.8 292.4,325.1 295.6,325.4 298.8,325.6 302,325.9 305.2,326.1 308.4,326.3 311.6,326.5 314.8,326.7 318,326.8 321.2,327 324.4,327.1 327.6,327.3 330.8,327.4 334,327.5 337.2,327.6 340.4,327.7 343.6,327.8 346.8,327.8 350,327.9 353.2,328 356.4,328 359.6,328 362.8,328.1 366,328.1 369.2,328.1 372.4,328.1 375.6,328.1" stroke="#28E2E5"/><polyline points="254,327 257.2,327 260.4,327.1 263.6,327.2 266.8,327.2 270,327.3 273.2,327.3 276.4,327.4 279.6,327.4 282.8,327.5 286,327.5 289.2,327.6 292.4,327.6 295.6,327.6 298.8,327.7 302,327.7 305.2,327.7 308.4,327.8 311.6,327.8 314.8,327.8 318,327.9 321.2,327.9 324.4,327.9 327.6,327.9 330.8,328 334,328 337.2,328 340.4,328 343.6,328 346.8,328 350,328.1 353.2,328.1 356.4,328.1 359.6,328.1 362.8,328.1 366,328.1 369.2,328.1 372.4,328.1 373.1,328.1" stroke="#CD0BBC"/><polyline points="254,339.1 257.2,338.5 260.4,337.9 263.6,337.4 266.8,336.9 270,336.4 273.2,335.9 276.4,335.4 279.6,334.9 282.8,334.5 286,334.1 289.2,333.7 292.4,333.3 295.6,332.9 298.8,332.6 302,332.2 305.2,331.9 308.4,331.6 311.6,331.3 314.8,331 318,330.7 321.2,330.5 324.4,330.3 327.6,330 330.8,329.8 334,329.6 337.2,329.5 340.4,329.3 343.6,329.1 346.8,329 350,328.9 353.2,328.7 356.4,328.6 359.6,328.5 362.8,328.5 366,328.4 369.2,328.3 372.4,328.3 375.6,328.2 378.8,328.2 382,328.1 385.2,328.1 388.4,328.1 391.6,328.1 394.8,328.1 397.1,328.1" stroke="#F5C710"/><polyline points="254,307.7 257.2,308.8 260.4,309.9 263.6,310.9 266.8,311.9 270,312.9 273.2,313.9 276.4,314.8 279.6,315.7 282.8,316.5 286,317.4 289.2,318.1 292.4,318.9 295.6,319.6 298.8,320.3 302,321 305.2,321.6 308.4,322.2 311.6,322.8 314.8,323.3 318,323.9 321.2,324.3 324.4,324.8 327.6,325.2 330.8,325.6 334,326 337.2,326.3 340.4,326.6 343.6,326.9 346.8,327.1 350,327.3 353.2,327.5 356.4,327.7 359.6,327.8 362.8,327.9 366,328 369.2,328.1 372.4,328.1 375.4,328.1" stroke="#9E9E9E"/><polyline points="254,333.6 257.2,333.3 260.4,333 263.6,332.7 266.8,332.4 270,332.1 273.2,331.9 276.4,331.6 279.6,331.4 282.8,331.1 286,330.9 289.2,330.7 292.4,330.5 295.6,330.3 298.8,330.1 302,330 305.2,329.8 308.4,329.6 311.6,329.5 314.8,329.4 318,329.2 321.2,329.1 324.4,329 327.6,328.9 330.8,328.8 334,328.7 337.2,328.6 340.4,328.5 343.6,328.5 346.8,328.4 350,328.4 353.2,328.3 356.4,328.3 359.6,328.2 362.8,328.2 366,328.2 369.2,328.1 372.4,328.1 375.6,328.1 378.8,328.1 382,328.1 385.2,328.1 388.4,328.1 388.5,328.1" stroke="#000000"/><polyline points="254,317.7 257.2,318.3 260.4,318.9 263.6,319.5 266.8,320 270,320.5 273.2,321 276.4,321.5 279.6,322 282.8,322.4 286,322.9 289.2,323.3 292.4,323.7 295.6,324.1 298.8,324.4 302,324.8 305.2,325.1 308.4,325.4 311.6,325.7 314.8,326 318,326.2 321.2,326.5 324.4,326.7 327.6,326.9 330.8,327.1 334,327.3 337.2,327.4 340.4,327.6 343.6,327.7 346.8,327.8 350,327.9 353.2,327.9 356.4,328 359.6,328.1 362.8,328.1 366,328.1 368.3,328.1" stroke="#DF536B"/><polyline points="254,289.3 257.2,291.1 260.4,292.8 263.6,294.5 266.8,296.1 270,297.7 273.2,299.3 276.4,300.8 279.6,302.2 282.8,303.6 286,305 289.2,306.3 292.4,307.6 295.6,308.8 298.8,310 302,311.2 305.2,312.3 308.4,313.3 311.6,314.4 314.8,315.3 318,316.3 321.2,317.2 324.4,318.1 327.6,318.9 330.8,319.7 334,320.4 337.2,321.1 340.4,321.8 343.6,322.4 346.8,323 350,323.6 353.2,324.1 356.4,324.6 359.6,325 362.8,325.4 366,325.8 369.2,326.2 372.4,326.5 375.6,326.8 378.8,327 382,327.3 385.2,327.4 388.4,327.6 391.6,327.8 394.8,327.9 398,328 401.2,328 404.4,328.1 407.6,328.1 410.8,328.1 411.4,328.1" stroke="#61D04F"/><polyline points="254,334.7 257.2,334.3 260.4,333.9 263.6,333.6 266.8,333.2 270,332.9 273.2,332.6 276.4,332.3 279.6,332 282.8,331.7 286,331.5 289.2,331.2 292.4,331 295.6,330.8 298.8,330.5 302,330.3 305.2,330.2 308.4,330 311.6,329.8 314.8,329.6 318,329.5 321.2,329.3 324.4,329.2 327.6,329.1 330.8,329 334,328.9 337.2,328.8 340.4,328.7 343.6,328.6 346.8,328.5 350,328.5 353.2,328.4 356.4,328.3 359.6,328.3 362.8,328.3 366,328.2 369.2,328.2 372.4,328.2 375.6,328.1 378.8,328.1 382,328.1 385.2,328.1 388.4,328.1 391.6,328.1 394.8,328.1 396.3,328.1" stroke="#2297E6"/><polyline points="254,332.6 257.2,332.4 260.4,332.2 263.6,332 266.8,331.9 270,331.7 273.2,331.5 276.4,331.4 279.6,331.2 282.8,331.1 286,330.9 289.2,330.8 292.4,330.6 295.6,330.5 298.8,330.3 302,330.2 305.2,330.1 308.4,330 311.6,329.8 314.8,329.7 318,329.6 321.2,329.5 324.4,329.4 327.6,329.3 330.8,329.2 334,329.1 337.2,329 340.4,328.9 343.6,328.9 346.8,328.8 350,328.7 353.2,328.6 356.4,328.6 359.6,328.5 362.8,328.5 366,328.4 369.2,328.4 372.4,328.3 375.6,328.3 378.8,328.2 382,328.2 385.2,328.2 388.4,328.2 391.6,328.1 394.8,328.1 398,328.1 401.2,328.1 404.4,328.1 406.7,328.1" stroke="#28E2E5"/><polyline points="254,336.9 257.2,336.4 260.4,335.9 263.6,335.5 266.8,335 270,334.6 273.2,334.2 276.4,333.8 279.6,333.4 282.8,333 286,332.7 289.2,332.3 292.4,332 295.6,331.7 298.8,331.4 302,331.1 305.2,330.8 308.4,330.6 311.6,330.3 314.8,330.1 318,329.9 321.2,329.7 324.4,329.5 327.6,329.3 330.8,329.1 334,329 337.2,328.9 340.4,328.7 343.6,328.6 346.8,328.5 350,328.4 353.2,328.4 356.4,328.3 359.6,328.2 362.8,328.2 366,328.2 369.2,328.1 372.4,328.1 375.6,328.1 378.6,328.1" stroke="#CD0BBC"/><polyline points="254,348.9 257.2,347.7 260.4,346.5 263.6,345.4 266.8,344.3 270,343.3 273.2,342.2 276.4,341.3 279.6,340.4 282.8,339.5 286,338.6 289.2,337.8 292.4,337 295.6,336.3 298.8,335.6 302,334.9 305.2,334.3 308.4,333.7 311.6,333.2 314.8,332.6 318,332.1 321.2,331.7 324.4,331.3 327.6,330.9 330.8,330.5 334,330.2 337.2,329.9 340.4,329.6 343.6,329.3 346.8,329.1 350,328.9 353.2,328.7 356.4,328.6 359.6,328.5 362.8,328.4 366,328.3 369.2,328.2 372.4,328.2 375.6,328.1 378.8,328.1 382,328.1 384.5,328.1" stroke="#F5C710"/><polyline points="254,314.9 257.2,315.6 260.4,316.3 263.6,317 266.8,317.7 270,318.3 273.2,319 276.4,319.5 279.6,320.1 282.8,320.7 286,321.2 289.2,321.7 292.4,322.2 295.6,322.6 298.8,323.1 302,323.5 305.2,323.9 308.4,324.3 311.6,324.6 314.8,324.9 318,325.3 321.2,325.6 324.4,325.8 327.6,326.1 330.8,326.3 334,326.6 337.2,326.8 340.4,326.9 343.6,327.1 346.8,327.3 350,327.4 353.2,327.5 356.4,327.7 359.6,327.7 362.8,327.8 366,327.9 369.2,328 372.4,328 375.6,328 378.8,328.1 382,328.1 385.2,328.1 388.4,328.1 389.9,328.1" stroke="#9E9E9E"/><polyline points="254,315.9 257.2,316.4 260.4,316.9 263.6,317.3 266.8,317.8 270,318.2 273.2,318.7 276.4,319.1 279.6,319.5 282.8,319.9 286,320.3 289.2,320.7 292.4,321 295.6,321.4 298.8,321.8 302,322.1 305.2,322.4 308.4,322.7 311.6,323.1 314.8,323.4 318,323.7 321.2,323.9 324.4,324.2 327.6,324.5 330.8,324.7 334,325 337.2,325.2 340.4,325.4 343.6,325.6 346.8,325.9 350,326 353.2,326.2 356.4,326.4 359.6,326.6 362.8,326.7 366,326.9 369.2,327 372.4,327.2 375.6,327.3 378.8,327.4 382,327.5 385.2,327.6 388.4,327.7 391.6,327.8 394.8,327.8 398,327.9 401.2,328 404.4,328 407.6,328 410.8,328.1 414,328.1 417.2,328.1 420.4,328.1 420.9,328.1" stroke="#000000"/><polyline points="254,327.3 257.2,327.3 260.4,327.4 263.6,327.4 266.8,327.4 270,327.5 273.2,327.5 276.4,327.6 279.6,327.6 282.8,327.6 286,327.7 289.2,327.7 292.4,327.7 295.6,327.8 298.8,327.8 302,327.8 305.2,327.8 308.4,327.9 311.6,327.9 314.8,327.9 318,327.9 321.2,327.9 324.4,328 327.6,328 330.8,328 334,328 337.2,328 340.4,328 343.6,328 346.8,328 350,328.1 353.2,328.1 356.4,328.1 359.6,328.1 362.8,328.1 366,328.1 369.2,328.1 372.4,328.1 375.6,328.1 378.8,328.1 382,328.1 385.2,328.1 388.4,328.1 391.6,328.1 392,328.1" stroke="#DF536B"/><polyline points="254,323.2 257.2,323.5 260.4,323.7 263.6,324 266.8,324.2 270,324.4 273.2,324.7 276.4,324.9 279.6,325.1 282.8,325.3 286,325.5 289.2,325.7 292.4,325.8 295.6,326 298.8,326.2 302,326.3 305.2,326.5 308.4,326.6 311.6,326.7 314.8,326.9 318,327 321.2,327.1 324.4,327.2 327.6,327.3 330.8,327.4 334,327.5 337.2,327.5 340.4,327.6 343.6,327.7 346.8,327.7 350,327.8 353.2,327.8 356.4,327.9 359.6,327.9 362.8,328 366,328 369.2,328 372.4,328 375.6,328 378.8,328.1 382,328.1 385.2,328.1 388.4,328.1 391.6,328.1 394.8,328.1 398,328.1 399.6,328.1" stroke="#61D04F"/><polyline points="254,366.9 257.2,365.3 260.4,363.8 263.6,362.3 266.8,360.8 270,359.4 273.2,358 276.4,356.7 279.6,355.3 282.8,354.1 286,352.8 289.2,351.6 292.4,350.4 295.6,349.3 298.8,348.2 302,347.1 305.2,346 308.4,345 311.6,344 314.8,343.1 318,342.2 321.2,341.3 324.4,340.4 327.6,339.6 330.8,338.8 334,338.1 337.2,337.3 340.4,336.6 343.6,336 346.8,335.3 350,334.7 353.2,334.2 356.4,333.6 359.6,333.1 362.8,332.6 366,332.1 369.2,331.7 372.4,331.3 375.6,330.9 378.8,330.6 382,330.2 385.2,329.9 388.4,329.6 391.6,329.4 394.8,329.2 398,329 401.2,328.8 404.4,328.6 407.6,328.5 410.8,328.4 414,328.3 417.2,328.2 420.4,328.2 423.6,328.1 426.8,328.1 430,328.1 430.8,328.1" stroke="#2297E6"/><polyline points="254,316.1 257.2,316.6 260.4,317.1 263.6,317.5 266.8,318 270,318.5 273.2,318.9 276.4,319.4 279.6,319.8 282.8,320.2 286,320.6 289.2,321 292.4,321.3 295.6,321.7 298.8,322.1 302,322.4 305.2,322.7 308.4,323 311.6,323.4 314.8,323.7 318,323.9 321.2,324.2 324.4,324.5 327.6,324.7 330.8,325 334,325.2 337.2,325.4 340.4,325.6 343.6,325.8 346.8,326 350,326.2 353.2,326.4 356.4,326.6 359.6,326.7 362.8,326.9 366,327 369.2,327.1 372.4,327.2 375.6,327.4 378.8,327.5 382,327.6 385.2,327.6 388.4,327.7 391.6,327.8 394.8,327.8 398,327.9 401.2,327.9 404.4,328 407.6,328 410.8,328 414,328.1 417.2,328.1 420.4,328.1 423.6,328.1 426.8,328.1 427.6,328.1" stroke="#28E2E5"/><polyline points="254,327.8 257.2,327.8 260.4,327.8 263.6,327.8 266.8,327.8 270,327.8 273.2,327.9 276.4,327.9 279.6,327.9 282.8,327.9 286,327.9 289.2,327.9 292.4,327.9 295.6,327.9 298.8,327.9 302,328 305.2,328 308.4,328 311.6,328 314.8,328 318,328 321.2,328 324.4,328 327.6,328 330.8,328 334,328 337.2,328 340.4,328 343.6,328.1 346.8,328.1 350,328.1 353.2,328.1 356.4,328.1 359.6,328.1 362.8,328.1 366,328.1 369.2,328.1 372.4,328.1 375.6,328.1 378.8,328.1 382,328.1 385.2,328.1 388.4,328.1 391.6,328.1 394.8,328.1 398,328.1 401.2,328.1 404.4,328.1 407.6,328.1 410.8,328.1 414,328.1 417.2,328.1 420.4,328.1 423.6,328.1 426.8,328.1 429.8,328.1" stroke="#CD0BBC"/><polyline points="254,328.1 257.2,328.1 260.4,328.1 263.6,328.1 266.8,328.1 270,328.1 273.2,328.1 276.4,328.1 279.6,328.1 282.8,328.1 286,328.1 289.2,328.1 292.4,328.1 295.6,328.1 298.8,328.1 302,328.1 305.2,328.1 308.4,328.1 311.6,328.1 314.8,328.1 318,328.1 321.2,328.1 324.4,328.1 327.6,328.1 330.8,328.1 334,328.1 337.2,328.1 340.4,328.1 343.6,328.1 346.8,328.1 350,328.1 353.2,328.1 356.4,328.1 359.6,328.1 362.8,328.1 366,328.1 369.2,328.1 372.4,328.1 375.6,328.1 378.8,328.1 382,328.1 385.2,328.1 388.4,328.1 391.6,328.1 394.8,328.1 398,328.1 399,328.1" stroke="#F5C710"/><polyline points="254,278.8 257.2,281 260.4,283.2 263.6,285.3 266.8,287.3 270,289.3 273.2,291.2 276.4,293.1 279.6,294.9 282.8,296.6 286,298.3 289.2,300 292.4,301.6 295.6,303.1 298.8,304.6 302,306 305.2,307.4 308.4,308.8 311.6,310.1 314.8,311.3 318,312.5 321.2,313.6 324.4,314.7 327.6,315.8 330.8,316.8 334,317.7 337.2,318.6 340.4,319.5 343.6,320.3 346.8,321 350,321.8 353.2,322.4 356.4,323.1 359.6,323.7 362.8,324.2 366,324.7 369.2,325.2 372.4,325.6 375.6,326 378.8,326.4 382,326.7 385.2,327 388.4,327.2 391.6,327.4 394.8,327.6 398,327.8 401.2,327.9 404.4,328 407.6,328 410.8,328.1 414,328.1 416.6,328.1" stroke="#9E9E9E"/><polyline points="254,314.3 257.2,315 260.4,315.8 263.6,316.6 266.8,317.3 270,318 273.2,318.6 276.4,319.3 279.6,319.9 282.8,320.5 286,321.1 289.2,321.6 292.4,322.1 295.6,322.6 298.8,323.1 302,323.5 305.2,323.9 308.4,324.3 311.6,324.7 314.8,325.1 318,325.4 321.2,325.7 324.4,326 327.6,326.3 330.8,326.5 334,326.7 337.2,326.9 340.4,327.1 343.6,327.3 346.8,327.5 350,327.6 353.2,327.7 356.4,327.8 359.6,327.9 362.8,328 366,328 369.2,328 372.4,328.1 375.6,328.1 378.8,328.1 380.5,328.1" stroke="#000000"/><polyline points="254,294.8 257.2,296.8 260.4,298.7 263.6,300.5 266.8,302.3 270,304 273.2,305.6 276.4,307.2 279.6,308.7 282.8,310.1 286,311.5 289.2,312.8 292.4,314 295.6,315.2 298.8,316.3 302,317.4 305.2,318.4 308.4,319.3 311.6,320.2 314.8,321.1 318,321.8 321.2,322.6 324.4,323.2 327.6,323.9 330.8,324.4 334,325 337.2,325.4 340.4,325.9 343.6,326.3 346.8,326.6 350,326.9 353.2,327.2 356.4,327.4 359.6,327.6 362.8,327.7 366,327.9 369.2,328 372.4,328 375.6,328.1 378.8,328.1 382,328.1 382.5,328.1" stroke="#DF536B"/><polyline points="254,322.2 257.2,322.5 260.4,322.8 263.6,323 266.8,323.3 270,323.6 273.2,323.8 276.4,324.1 279.6,324.3 282.8,324.5 286,324.8 289.2,325 292.4,325.2 295.6,325.4 298.8,325.6 302,325.8 305.2,325.9 308.4,326.1 311.6,326.3 314.8,326.4 318,326.6 321.2,326.7 324.4,326.8 327.6,327 330.8,327.1 334,327.2 337.2,327.3 340.4,327.4 343.6,327.5 346.8,327.6 350,327.6 353.2,327.7 356.4,327.8 359.6,327.8 362.8,327.9 366,327.9 369.2,328 372.4,328 375.6,328 378.8,328.1 382,328.1 385.2,328.1 388.4,328.1 391.6,328.1 394.8,328.1" stroke="#61D04F"/><polyline points="254,326.5 257.2,326.6 260.4,326.6 263.6,326.7 266.8,326.8 270,326.8 273.2,326.9 276.4,327 279.6,327 282.8,327.1 286,327.1 289.2,327.2 292.4,327.3 295.6,327.3 298.8,327.3 302,327.4 305.2,327.4 308.4,327.5 311.6,327.5 314.8,327.6 318,327.6 321.2,327.6 324.4,327.7 327.6,327.7 330.8,327.7 334,327.8 337.2,327.8 340.4,327.8 343.6,327.8 346.8,327.9 350,327.9 353.2,327.9 356.4,327.9 359.6,328 362.8,328 366,328 369.2,328 372.4,328 375.6,328 378.8,328 382,328 385.2,328.1 388.4,328.1 391.6,328.1 394.8,328.1 398,328.1 401.2,328.1 404.4,328.1 407.6,328.1 410.8,328.1 414,328.1 417.2,328.1 420.4,328.1 423.6,328.1 426.8,328.1 426.9,328.1" stroke="#2297E6"/><polyline points="254,343.9 257.2,343.3 260.4,342.6 263.6,342 266.8,341.4 270,340.9 273.2,340.3 276.4,339.7 279.6,339.2 282.8,338.7 286,338.2 289.2,337.6 292.4,337.2 295.6,336.7 298.8,336.2 302,335.8 305.2,335.3 308.4,334.9 311.6,334.5 314.8,334.1 318,333.7 321.2,333.3 324.4,333 327.6,332.6 330.8,332.3 334,332 337.2,331.7 340.4,331.4 343.6,331.1 346.8,330.8 350,330.6 353.2,330.3 356.4,330.1 359.6,329.9 362.8,329.7 366,329.5 369.2,329.3 372.4,329.1 375.6,329 378.8,328.8 382,328.7 385.2,328.6 388.4,328.5 391.6,328.4 394.8,328.3 398,328.2 401.2,328.2 404.4,328.2 407.6,328.1 410.8,328.1 413.8,328.1" stroke="#28E2E5"/><polyline points="254,341.2 257.2,340.6 260.4,340 263.6,339.4 266.8,338.8 270,338.2 273.2,337.7 276.4,337.2 279.6,336.7 282.8,336.2 286,335.7 289.2,335.3 292.4,334.8 295.6,334.4 298.8,334 302,333.6 305.2,333.2 308.4,332.9 311.6,332.5 314.8,332.2 318,331.9 321.2,331.6 324.4,331.3 327.6,331 330.8,330.8 334,330.5 337.2,330.3 340.4,330.1 343.6,329.9 346.8,329.7 350,329.5 353.2,329.4 356.4,329.2 359.6,329.1 362.8,328.9 366,328.8 369.2,328.7 372.4,328.6 375.6,328.5 378.8,328.4 382,328.4 385.2,328.3 388.4,328.3 391.6,328.2 394.8,328.2 398,328.2 401.2,328.1 404.4,328.1 407.6,328.1 410.8,328.1 414,328.1 415.6,328.1" stroke="#CD0BBC"/><polyline points="254,324.1 257.2,324.3 260.4,324.5 263.6,324.7 266.8,324.9 270,325 273.2,325.2 276.4,325.4 279.6,325.5 282.8,325.7 286,325.8 289.2,326 292.4,326.1 295.6,326.2 298.8,326.3 302,326.5 305.2,326.6 308.4,326.7 311.6,326.8 314.8,326.9 318,327 321.2,327.1 324.4,327.2 327.6,327.3 330.8,327.3 334,327.4 337.2,327.5 340.4,327.5 343.6,327.6 346.8,327.7 350,327.7 353.2,327.8 356.4,327.8 359.6,327.9 362.8,327.9 366,327.9 369.2,328 372.4,328 375.6,328 378.8,328 382,328 385.2,328.1 388.4,328.1 391.6,328.1 394.8,328.1 398,328.1 401.2,328.1 404.4,328.1 405.6,328.1" stroke="#F5C710"/><polyline points="254,313.1 257.2,313.7 260.4,314.3 263.6,314.9 266.8,315.5 270,316.1 273.2,316.7 276.4,317.2 279.6,317.7 282.8,318.2 286,318.7 289.2,319.2 292.4,319.7 295.6,320.2 298.8,320.6 302,321.1 305.2,321.5 308.4,321.9 311.6,322.3 314.8,322.7 318,323 321.2,323.4 324.4,323.7 327.6,324.1 330.8,324.4 334,324.7 337.2,325 340.4,325.3 343.6,325.5 346.8,325.8 350,326 353.2,326.2 356.4,326.4 359.6,326.6 362.8,326.8 366,327 369.2,327.2 372.4,327.3 375.6,327.4 378.8,327.6 382,327.7 385.2,327.8 388.4,327.9 391.6,327.9 394.8,328 398,328 401.2,328.1 404.4,328.1 407.6,328.1 409.3,328.1" stroke="#9E9E9E"/><polyline points="254,332.2 257.2,332 260.4,331.7 263.6,331.5 266.8,331.3 270,331.1 273.2,330.9 276.4,330.7 279.6,330.5 282.8,330.4 286,330.2 289.2,330.1 292.4,329.9 295.6,329.8 298.8,329.6 302,329.5 305.2,329.4 308.4,329.2 311.6,329.1 314.8,329 318,328.9 321.2,328.8 324.4,328.8 327.6,328.7 330.8,328.6 334,328.5 337.2,328.5 340.4,328.4 343.6,328.4 346.8,328.3 350,328.3 353.2,328.2 356.4,328.2 359.6,328.2 362.8,328.2 366,328.1 369.2,328.1 372.4,328.1 375.6,328.1 378.8,328.1 382,328.1 382.7,328.1" stroke="#000000"/><polyline points="254,332 257.2,331.8 260.4,331.6 263.6,331.4 266.8,331.2 270,331 273.2,330.9 276.4,330.7 279.6,330.5 282.8,330.4 286,330.2 289.2,330.1 292.4,329.9 295.6,329.8 298.8,329.7 302,329.5 305.2,329.4 308.4,329.3 311.6,329.2 314.8,329.1 318,329 321.2,328.9 324.4,328.8 327.6,328.8 330.8,328.7 334,328.6 337.2,328.6 340.4,328.5 343.6,328.5 346.8,328.4 350,328.4 353.2,328.3 356.4,328.3 359.6,328.3 362.8,328.2 366,328.2 369.2,328.2 372.4,328.2 375.6,328.1 378.8,328.1 382,328.1 385.2,328.1 388.4,328.1 391.6,328.1 394.8,328.1 398,328.1 401.2,328.1 401.9,328.1" stroke="#DF536B"/><polyline points="254,321 257.2,321.5 260.4,321.9 263.6,322.3 266.8,322.7 270,323.1 273.2,323.5 276.4,323.8 279.6,324.1 282.8,324.5 286,324.8 289.2,325 292.4,325.3 295.6,325.6 298.8,325.8 302,326 305.2,326.2 308.4,326.4 311.6,326.6 314.8,326.8 318,326.9 321.2,327.1 324.4,327.2 327.6,327.3 330.8,327.4 334,327.5 337.2,327.6 340.4,327.7 343.6,327.8 346.8,327.9 350,327.9 353.2,328 356.4,328 359.6,328 362.8,328 366,328.1 369.2,328.1 372.4,328.1 375.6,328.1 378.8,328.1 382,328.1 383,328.1" stroke="#61D04F"/><polyline points="254,320 257.2,320.5 260.4,321 263.6,321.5 266.8,322 270,322.5 273.2,322.9 276.4,323.3 279.6,323.7 282.8,324 286,324.4 289.2,324.7 292.4,325 295.6,325.3 298.8,325.6 302,325.9 305.2,326.1 308.4,326.3 311.6,326.5 314.8,326.7 318,326.9 321.2,327.1 324.4,327.2 327.6,327.3 330.8,327.5 334,327.6 337.2,327.7 340.4,327.8 343.6,327.8 346.8,327.9 350,327.9 353.2,328 356.4,328 359.6,328.1 362.8,328.1 366,328.1 369.2,328.1 372.4,328.1 375.6,328.1 376.1,328.1" stroke="#2297E6"/><polyline points="254,326.1 257.2,326.2 260.4,326.3 263.6,326.5 266.8,326.6 270,326.7 273.2,326.8 276.4,326.9 279.6,327 282.8,327.1 286,327.2 289.2,327.3 292.4,327.3 295.6,327.4 298.8,327.5 302,327.5 305.2,327.6 308.4,327.6 311.6,327.7 314.8,327.7 318,327.8 321.2,327.8 324.4,327.9 327.6,327.9 330.8,327.9 334,328 337.2,328 340.4,328 343.6,328 346.8,328 350,328.1 353.2,328.1 356.4,328.1 359.6,328.1 362.8,328.1 366,328.1 369.2,328.1 372.4,328.1 375.6,328.1 378.1,328.1" stroke="#28E2E5"/><polyline points="254,313.3 257.2,314.2 260.4,315 263.6,315.9 266.8,316.7 270,317.4 273.2,318.2 276.4,318.9 279.6,319.6 282.8,320.2 286,320.9 289.2,321.5 292.4,322.1 295.6,322.6 298.8,323.1 302,323.6 305.2,324.1 308.4,324.6 311.6,325 314.8,325.4 318,325.7 321.2,326.1 324.4,326.4 327.6,326.7 330.8,326.9 334,327.1 337.2,327.3 340.4,327.5 343.6,327.7 346.8,327.8 350,327.9 353.2,328 356.4,328.1 359.6,328.1 362.8,328.1 363.3,328.1" stroke="#CD0BBC"/><polyline points="254,337.6 257.2,337.1 260.4,336.7 263.6,336.2 266.8,335.8 270,335.3 273.2,334.9 276.4,334.5 279.6,334.1 282.8,333.7 286,333.4 289.2,333 292.4,332.7 295.6,332.4 298.8,332.1 302,331.8 305.2,331.5 308.4,331.3 311.6,331 314.8,330.8 318,330.6 321.2,330.4 324.4,330.2 327.6,330 330.8,329.8 334,329.6 337.2,329.5 340.4,329.3 343.6,329.2 346.8,329.1 350,329 353.2,328.9 356.4,328.8 359.6,328.7 362.8,328.6 366,328.5 369.2,328.5 372.4,328.4 375.6,328.3 378.8,328.3 382,328.3 385.2,328.2 388.4,328.2 391.6,328.2 394.8,328.1 398,328.1 401.2,328.1 404.4,328.1 407.6,328.1 410.8,328.1 414,328.1 417.2,328.1 418.3,328.1" stroke="#F5C710"/><polyline points="254,338.1 257.2,337.4 260.4,336.7 263.6,336 266.8,335.4 270,334.8 273.2,334.2 276.4,333.7 279.6,333.1 282.8,332.7 286,332.2 289.2,331.8 292.4,331.4 295.6,331.1 298.8,330.7 302,330.4 305.2,330.1 308.4,329.9 311.6,329.6 314.8,329.4 318,329.2 321.2,329 324.4,328.9 327.6,328.7 330.8,328.6 334,328.5 337.2,328.4 340.4,328.3 343.6,328.3 346.8,328.2 350,328.2 353.2,328.2 356.4,328.1 359.6,328.1 362.8,328.1 366,328.1 369.2,328.1 370.4,328.1" stroke="#9E9E9E"/><polyline points="254,332.5 257.2,332.2 260.4,331.9 263.6,331.7 266.8,331.4 270,331.2 273.2,330.9 276.4,330.7 279.6,330.5 282.8,330.3 286,330.1 289.2,330 292.4,329.8 295.6,329.6 298.8,329.5 302,329.3 305.2,329.2 308.4,329.1 311.6,329 314.8,328.9 318,328.8 321.2,328.7 324.4,328.6 327.6,328.5 330.8,328.5 334,328.4 337.2,328.3 340.4,328.3 343.6,328.3 346.8,328.2 350,328.2 353.2,328.2 356.4,328.1 359.6,328.1 362.8,328.1 366,328.1 369.2,328.1 372.4,328.1 375.6,328.1 377.7,328.1" stroke="#000000"/><polyline points="254,327.6 257.2,327.6 260.4,327.7 263.6,327.7 266.8,327.7 270,327.8 273.2,327.8 276.4,327.8 279.6,327.8 282.8,327.9 286,327.9 289.2,327.9 292.4,327.9 295.6,327.9 298.8,328 302,328 305.2,328 308.4,328 311.6,328 314.8,328 318,328 321.2,328 324.4,328.1 327.6,328.1 330.8,328.1 334,328.1 337.2,328.1 340.4,328.1 343.6,328.1 346.8,328.1 350,328.1 353.2,328.1 356.4,328.1 359.6,328.1 362.8,328.1 363.6,328.1" stroke="#DF536B"/><polyline points="254,336.4 257.2,335.8 260.4,335.2 263.6,334.7 266.8,334.2 270,333.7 273.2,333.2 276.4,332.7 279.6,332.3 282.8,331.9 286,331.6 289.2,331.2 292.4,330.9 295.6,330.6 298.8,330.3 302,330 305.2,329.8 308.4,329.6 311.6,329.4 314.8,329.2 318,329 321.2,328.9 324.4,328.7 327.6,328.6 330.8,328.5 334,328.4 337.2,328.4 340.4,328.3 343.6,328.2 346.8,328.2 350,328.2 353.2,328.1 356.4,328.1 359.6,328.1 362.8,328.1 366,328.1 368.5,328.1" stroke="#61D04F"/><polyline points="254,328.7 257.2,328.7 260.4,328.7 263.6,328.7 266.8,328.6 270,328.6 273.2,328.6 276.4,328.5 279.6,328.5 282.8,328.5 286,328.5 289.2,328.4 292.4,328.4 295.6,328.4 298.8,328.4 302,328.3 305.2,328.3 308.4,328.3 311.6,328.3 314.8,328.3 318,328.3 321.2,328.2 324.4,328.2 327.6,328.2 330.8,328.2 334,328.2 337.2,328.2 340.4,328.2 343.6,328.2 346.8,328.1 350,328.1 353.2,328.1 356.4,328.1 359.6,328.1 362.8,328.1 366,328.1 369.2,328.1 372.4,328.1 375.6,328.1 378.8,328.1 382,328.1 385.2,328.1 385.7,328.1" stroke="#2297E6"/><polyline points="254,348.9 257.2,347.8 260.4,346.8 263.6,345.8 266.8,344.9 270,343.9 273.2,343 276.4,342.1 279.6,341.3 282.8,340.5 286,339.7 289.2,338.9 292.4,338.2 295.6,337.4 298.8,336.8 302,336.1 305.2,335.5 308.4,334.9 311.6,334.3 314.8,333.8 318,333.2 321.2,332.7 324.4,332.3 327.6,331.8 330.8,331.4 334,331 337.2,330.7 340.4,330.3 343.6,330 346.8,329.7 350,329.4 353.2,329.2 356.4,329 359.6,328.8 362.8,328.6 366,328.5 369.2,328.4 372.4,328.3 375.6,328.2 378.8,328.1 382,328.1 385.2,328.1 386.2,328.1" stroke="#28E2E5"/><polyline points="254,316.8 257.2,317.5 260.4,318.1 263.6,318.7 266.8,319.3 270,319.8 273.2,320.4 276.4,320.9 279.6,321.4 282.8,321.8 286,322.3 289.2,322.7 292.4,323.1 295.6,323.5 298.8,323.9 302,324.3 305.2,324.6 308.4,324.9 311.6,325.2 314.8,325.5 318,325.8 321.2,326 324.4,326.3 327.6,326.5 330.8,326.7 334,326.9 337.2,327 340.4,327.2 343.6,327.3 346.8,327.4 350,327.6 353.2,327.7 356.4,327.7 359.6,327.8 362.8,327.9 366,327.9 369.2,328 372.4,328 375.6,328.1 378.8,328.1 382,328.1 385.2,328.1 388.4,328.1 390,328.1" stroke="#CD0BBC"/><polyline points="254,301 257.2,302.5 260.4,303.9 263.6,305.2 266.8,306.5 270,307.7 273.2,308.9 276.4,310.1 279.6,311.2 282.8,312.2 286,313.3 289.2,314.3 292.4,315.2 295.6,316.1 298.8,317 302,317.8 305.2,318.6 308.4,319.3 311.6,320 314.8,320.7 318,321.4 321.2,322 324.4,322.5 327.6,323.1 330.8,323.6 334,324.1 337.2,324.5 340.4,324.9 343.6,325.3 346.8,325.6 350,326 353.2,326.3 356.4,326.5 359.6,326.8 362.8,327 366,327.2 369.2,327.4 372.4,327.5 375.6,327.6 378.8,327.8 382,327.9 385.2,327.9 388.4,328 391.6,328 394.8,328.1 398,328.1 401.2,328.1 404.4,328.1 406.1,328.1" stroke="#F5C710"/><polyline points="254,341 257.2,340.2 260.4,339.4 263.6,338.7 266.8,338 270,337.3 273.2,336.7 276.4,336.1 279.6,335.5 282.8,334.9 286,334.4 289.2,333.9 292.4,333.4 295.6,332.9 298.8,332.5 302,332.1 305.2,331.7 308.4,331.4 311.6,331 314.8,330.7 318,330.4 321.2,330.1 324.4,329.9 327.6,329.7 330.8,329.4 334,329.3 337.2,329.1 340.4,328.9 343.6,328.8 346.8,328.7 350,328.5 353.2,328.5 356.4,328.4 359.6,328.3 362.8,328.2 366,328.2 369.2,328.2 372.4,328.1 375.6,328.1 378.8,328.1 382,328.1 385.2,328.1 386.2,328.1" stroke="#9E9E9E"/><polyline points="254,336.7 257.2,336.3 260.4,336 263.6,335.7 266.8,335.3 270,335 273.2,334.7 276.4,334.4 279.6,334.1 282.8,333.8 286,333.5 289.2,333.3 292.4,333 295.6,332.7 298.8,332.5 302,332.3 305.2,332 308.4,331.8 311.6,331.6 314.8,331.4 318,331.1 321.2,330.9 324.4,330.7 327.6,330.6 330.8,330.4 334,330.2 337.2,330 340.4,329.9 343.6,329.7 346.8,329.6 350,329.5 353.2,329.3 356.4,329.2 359.6,329.1 362.8,329 366,328.9 369.2,328.8 372.4,328.7 375.6,328.6 378.8,328.5 382,328.5 385.2,328.4 388.4,328.3 391.6,328.3 394.8,328.2 398,328.2 401.2,328.2 404.4,328.1 407.6,328.1 410.8,328.1 414,328.1 417.2,328.1 418.7,328.1" stroke="#000000"/><polyline points="254,340.5 257.2,339.8 260.4,339.2 263.6,338.6 266.8,338 270,337.4 273.2,336.9 276.4,336.3 279.6,335.8 282.8,335.3 286,334.8 289.2,334.4 292.4,333.9 295.6,333.5 298.8,333.1 302,332.7 305.2,332.3 308.4,331.9 311.6,331.6 314.8,331.2 318,330.9 321.2,330.6 324.4,330.4 327.6,330.1 330.8,329.9 334,329.6 337.2,329.4 340.4,329.2 343.6,329 346.8,328.9 350,328.7 353.2,328.6 356.4,328.5 359.6,328.4 362.8,328.3 366,328.2 369.2,328.2 372.4,328.1 375.6,328.1 378.8,328.1 380.9,328.1" stroke="#DF536B"/><polyline points="254,312.5 257.2,313.3 260.4,314.2 263.6,314.9 266.8,315.7 270,316.4 273.2,317.1 276.4,317.8 279.6,318.5 282.8,319.1 286,319.7 289.2,320.3 292.4,320.9 295.6,321.4 298.8,321.9 302,322.4 305.2,322.8 308.4,323.3 311.6,323.7 314.8,324.1 318,324.5 321.2,324.8 324.4,325.2 327.6,325.5 330.8,325.8 334,326 337.2,326.3 340.4,326.5 343.6,326.7 346.8,326.9 350,327.1 353.2,327.3 356.4,327.4 359.6,327.5 362.8,327.7 366,327.8 369.2,327.8 372.4,327.9 375.6,328 378.8,328 382,328.1 385.2,328.1 388.4,328.1 391.6,328.1 394.6,328.1" stroke="#61D04F"/><polyline points="254,337.3 257.2,336.8 260.4,336.3 263.6,335.8 266.8,335.3 270,334.8 273.2,334.3 276.4,333.9 279.6,333.5 282.8,333.1 286,332.7 289.2,332.4 292.4,332 295.6,331.7 298.8,331.4 302,331.1 305.2,330.8 308.4,330.5 311.6,330.3 314.8,330.1 318,329.8 321.2,329.6 324.4,329.5 327.6,329.3 330.8,329.1 334,329 337.2,328.8 340.4,328.7 343.6,328.6 346.8,328.5 350,328.4 353.2,328.4 356.4,328.3 359.6,328.2 362.8,328.2 366,328.2 369.2,328.1 372.4,328.1 375.6,328.1 378.8,328.1 382,328.1 382.2,328.1" stroke="#2297E6"/><polyline points="254,328.1 257.2,328.1 260.4,328.1 263.6,328.1 266.8,328.1 270,328.1 273.2,328.1 276.4,328.1 279.6,328.1 282.8,328.1 286,328.1 289.2,328.1 292.4,328.1 295.6,328.1 298.8,328.1 302,328.1 305.2,328.1 308.4,328.1 311.6,328.1 314.8,328.1 318,328.1 321.2,328.1 324.4,328.1 327.6,328.1 330.8,328.1 334,328.1 337.2,328.1 340.4,328.1 343.6,328.1 346.8,328.1 350,328.1 353.2,328.1 356.4,328.1 359.6,328.1 362.8,328.1 366,328.1 369.2,328.1 372.4,328.1 375.6,328.1 378.8,328.1 382,328.1 385.2,328.1 388.4,328.1 391.6,328.1 394.8,328.1 398,328.1 401.2,328.1 404.4,328.1 407.6,328.1 410.8,328.1 414,328.1 417.2,328.1 420.4,328.1 421,328.1" stroke="#28E2E5"/><polyline points="254,324.7 257.2,324.9 260.4,325.1 263.6,325.3 266.8,325.4 270,325.6 273.2,325.7 276.4,325.9 279.6,326 282.8,326.2 286,326.3 289.2,326.4 292.4,326.5 295.6,326.6 298.8,326.8 302,326.9 305.2,327 308.4,327 311.6,327.1 314.8,327.2 318,327.3 321.2,327.4 324.4,327.4 327.6,327.5 330.8,327.6 334,327.6 337.2,327.7 340.4,327.7 343.6,327.8 346.8,327.8 350,327.9 353.2,327.9 356.4,327.9 359.6,328 362.8,328 366,328 369.2,328 372.4,328 375.6,328.1 378.8,328.1 382,328.1 385.2,328.1 388.4,328.1 391.6,328.1 394.8,328.1 398,328.1 401.2,328.1 403.9,328.1" stroke="#CD0BBC"/><polyline points="254,323.4 257.2,323.6 260.4,323.8 263.6,324 266.8,324.2 270,324.4 273.2,324.5 276.4,324.7 279.6,324.9 282.8,325.1 286,325.2 289.2,325.4 292.4,325.5 295.6,325.7 298.8,325.8 302,326 305.2,326.1 308.4,326.2 311.6,326.3 314.8,326.5 318,326.6 321.2,326.7 324.4,326.8 327.6,326.9 330.8,327 334,327.1 337.2,327.2 340.4,327.3 343.6,327.3 346.8,327.4 350,327.5 353.2,327.6 356.4,327.6 359.6,327.7 362.8,327.7 366,327.8 369.2,327.8 372.4,327.9 375.6,327.9 378.8,327.9 382,328 385.2,328 388.4,328 391.6,328.1 394.8,328.1 398,328.1 401.2,328.1 404.4,328.1 407.6,328.1 410.3,328.1" stroke="#F5C710"/><polyline points="254,328.9 257.2,328.9 260.4,328.8 263.6,328.8 266.8,328.7 270,328.7 273.2,328.7 276.4,328.6 279.6,328.6 282.8,328.6 286,328.5 289.2,328.5 292.4,328.5 295.6,328.4 298.8,328.4 302,328.4 305.2,328.4 308.4,328.3 311.6,328.3 314.8,328.3 318,328.3 321.2,328.3 324.4,328.2 327.6,328.2 330.8,328.2 334,328.2 337.2,328.2 340.4,328.2 343.6,328.2 346.8,328.1 350,328.1 353.2,328.1 356.4,328.1 359.6,328.1 362.8,328.1 366,328.1 369.2,328.1 372.4,328.1 375.6,328.1 378.8,328.1 380.1,328.1" stroke="#9E9E9E"/><polyline points="254,336.7 257.2,336.4 260.4,336 263.6,335.6 266.8,335.3 270,334.9 273.2,334.6 276.4,334.3 279.6,334 282.8,333.7 286,333.4 289.2,333.1 292.4,332.8 295.6,332.6 298.8,332.3 302,332.1 305.2,331.8 308.4,331.6 311.6,331.4 314.8,331.2 318,331 321.2,330.8 324.4,330.6 327.6,330.4 330.8,330.2 334,330.1 337.2,329.9 340.4,329.8 343.6,329.6 346.8,329.5 350,329.4 353.2,329.2 356.4,329.1 359.6,329 362.8,328.9 366,328.8 369.2,328.7 372.4,328.7 375.6,328.6 378.8,328.5 382,328.5 385.2,328.4 388.4,328.4 391.6,328.3 394.8,328.3 398,328.2 401.2,328.2 404.4,328.2 407.6,328.2 410.8,328.1 414,328.1 417.2,328.1 420.4,328.1 423.6,328.1 426.8,328.1 428.5,328.1" stroke="#000000"/><polyline points="254,312.6 257.2,313.3 260.4,314 263.6,314.7 266.8,315.3 270,315.9 273.2,316.5 276.4,317.1 279.6,317.7 282.8,318.2 286,318.8 289.2,319.3 292.4,319.8 295.6,320.3 298.8,320.8 302,321.2 305.2,321.7 308.4,322.1 311.6,322.5 314.8,322.9 318,323.3 321.2,323.7 324.4,324 327.6,324.3 330.8,324.7 334,325 337.2,325.3 340.4,325.5 343.6,325.8 346.8,326 350,326.3 353.2,326.5 356.4,326.7 359.6,326.9 362.8,327 366,327.2 369.2,327.3 372.4,327.5 375.6,327.6 378.8,327.7 382,327.8 385.2,327.9 388.4,327.9 391.6,328 394.8,328 398,328.1 401.2,328.1 404.4,328.1 407,328.1" stroke="#DF536B"/><polyline points="254,362.9 257.2,361.1 260.4,359.4 263.6,357.8 266.8,356.2 270,354.6 273.2,353.1 276.4,351.7 279.6,350.3 282.8,348.9 286,347.6 289.2,346.4 292.4,345.2 295.6,344 298.8,342.9 302,341.9 305.2,340.9 308.4,339.9 311.6,339 314.8,338.1 318,337.3 321.2,336.5 324.4,335.8 327.6,335.1 330.8,334.4 334,333.8 337.2,333.2 340.4,332.6 343.6,332.1 346.8,331.7 350,331.2 353.2,330.8 356.4,330.4 359.6,330.1 362.8,329.8 366,329.5 369.2,329.3 372.4,329 375.6,328.9 378.8,328.7 382,328.5 385.2,328.4 388.4,328.3 391.6,328.2 394.8,328.2 398,328.1 401.2,328.1 404.4,328.1 407.6,328.1 409.2,328.1" stroke="#61D04F"/><polyline points="254,341.3 257.2,340.5 260.4,339.6 263.6,338.8 266.8,338.1 270,337.3 273.2,336.6 276.4,336 279.6,335.3 282.8,334.7 286,334.1 289.2,333.6 292.4,333 295.6,332.5 298.8,332.1 302,331.6 305.2,331.2 308.4,330.8 311.6,330.5 314.8,330.2 318,329.9 321.2,329.6 324.4,329.3 327.6,329.1 330.8,328.9 334,328.7 337.2,328.6 340.4,328.4 343.6,328.3 346.8,328.2 350,328.2 353.2,328.1 356.4,328.1 359.6,328.1 360.7,328.1" stroke="#2297E6"/><polyline points="254,329.2 257.2,329.1 260.4,329.1 263.6,329 266.8,328.9 270,328.9 273.2,328.8 276.4,328.8 279.6,328.7 282.8,328.7 286,328.6 289.2,328.6 292.4,328.5 295.6,328.5 298.8,328.5 302,328.4 305.2,328.4 308.4,328.4 311.6,328.3 314.8,328.3 318,328.3 321.2,328.2 324.4,328.2 327.6,328.2 330.8,328.2 334,328.2 337.2,328.2 340.4,328.1 343.6,328.1 346.8,328.1 350,328.1 353.2,328.1 356.4,328.1 359.6,328.1 361.9,328.1" stroke="#28E2E5"/><polyline points="254,325.5 257.2,325.6 260.4,325.8 263.6,325.9 266.8,326 270,326.2 273.2,326.3 276.4,326.4 279.6,326.5 282.8,326.7 286,326.8 289.2,326.9 292.4,327 295.6,327.1 298.8,327.1 302,327.2 305.2,327.3 308.4,327.4 311.6,327.5 314.8,327.5 318,327.6 321.2,327.7 324.4,327.7 327.6,327.8 330.8,327.8 334,327.9 337.2,327.9 340.4,327.9 343.6,328 346.8,328 350,328 353.2,328 356.4,328.1 359.6,328.1 362.8,328.1 366,328.1 369.2,328.1 372.4,328.1 375.6,328.1 376,328.1" stroke="#CD0BBC"/><polyline points="254,319.5 257.2,320 260.4,320.4 263.6,320.8 266.8,321.3 270,321.7 273.2,322 276.4,322.4 279.6,322.8 282.8,323.1 286,323.4 289.2,323.7 292.4,324 295.6,324.3 298.8,324.6 302,324.8 305.2,325.1 308.4,325.3 311.6,325.6 314.8,325.8 318,326 321.2,326.2 324.4,326.3 327.6,326.5 330.8,326.7 334,326.8 337.2,326.9 340.4,327.1 343.6,327.2 346.8,327.3 350,327.4 353.2,327.5 356.4,327.6 359.6,327.6 362.8,327.7 366,327.8 369.2,327.8 372.4,327.9 375.6,327.9 378.8,328 382,328 385.2,328 388.4,328 391.6,328.1 394.8,328.1 398,328.1 401.2,328.1 404.4,328.1 407.6,328.1 410.8,328.1 414,328.1 414.4,328.1" stroke="#F5C710"/><polyline points="254,324.2 257.2,324.5 260.4,324.7 263.6,324.9 266.8,325.1 270,325.3 273.2,325.5 276.4,325.7 279.6,325.8 282.8,326 286,326.2 289.2,326.3 292.4,326.5 295.6,326.6 298.8,326.7 302,326.9 305.2,327 308.4,327.1 311.6,327.2 314.8,327.3 318,327.4 321.2,327.5 324.4,327.6 327.6,327.7 330.8,327.7 334,327.8 337.2,327.8 340.4,327.9 343.6,327.9 346.8,328 350,328 353.2,328 356.4,328.1 359.6,328.1 362.8,328.1 366,328.1 369.2,328.1 371.6,328.1" stroke="#9E9E9E"/><polyline points="254,338.1 257.2,337.7 260.4,337.2 263.6,336.8 266.8,336.4 270,336.1 273.2,335.7 276.4,335.3 279.6,335 282.8,334.6 286,334.3 289.2,334 292.4,333.7 295.6,333.4 298.8,333.1 302,332.8 305.2,332.5 308.4,332.2 311.6,332 314.8,331.7 318,331.5 321.2,331.3 324.4,331.1 327.6,330.9 330.8,330.7 334,330.5 337.2,330.3 340.4,330.1 343.6,329.9 346.8,329.8 350,329.6 353.2,329.5 356.4,329.4 359.6,329.2 362.8,329.1 366,329 369.2,328.9 372.4,328.8 375.6,328.7 378.8,328.6 382,328.6 385.2,328.5 388.4,328.4 391.6,328.4 394.8,328.3 398,328.3 401.2,328.2 404.4,328.2 407.6,328.2 410.8,328.2 414,328.1 417.2,328.1 420.4,328.1 423.6,328.1 426.8,328.1 430,328.1 430.7,328.1" stroke="#000000"/><polyline points="254,325.1 257.2,325.2 260.4,325.4 263.6,325.5 266.8,325.7 270,325.8 273.2,326 276.4,326.1 279.6,326.2 282.8,326.4 286,326.5 289.2,326.6 292.4,326.7 295.6,326.8 298.8,326.9 302,327 305.2,327.1 308.4,327.2 311.6,327.3 314.8,327.4 318,327.4 321.2,327.5 324.4,327.6 327.6,327.6 330.8,327.7 334,327.7 337.2,327.8 340.4,327.8 343.6,327.9 346.8,327.9 350,327.9 353.2,328 356.4,328 359.6,328 362.8,328 366,328.1 369.2,328.1 372.4,328.1 375.6,328.1 378.8,328.1 382,328.1 385.2,328.1 385.5,328.1" stroke="#DF536B"/><polyline points="254,328.9 257.2,328.8 260.4,328.8 263.6,328.8 266.8,328.7 270,328.7 273.2,328.7 276.4,328.6 279.6,328.6 282.8,328.6 286,328.5 289.2,328.5 292.4,328.5 295.6,328.5 298.8,328.4 302,328.4 305.2,328.4 308.4,328.4 311.6,328.4 314.8,328.3 318,328.3 321.2,328.3 324.4,328.3 327.6,328.3 330.8,328.2 334,328.2 337.2,328.2 340.4,328.2 343.6,328.2 346.8,328.2 350,328.2 353.2,328.2 356.4,328.2 359.6,328.1 362.8,328.1 366,328.1 369.2,328.1 372.4,328.1 375.6,328.1 378.8,328.1 382,328.1 385.2,328.1 388.4,328.1 391.6,328.1 394.8,328.1 395.6,328.1" stroke="#61D04F"/><polyline points="254,337.6 257.2,337.2 260.4,336.7 263.6,336.3 266.8,335.8 270,335.4 273.2,335 276.4,334.6 279.6,334.3 282.8,333.9 286,333.6 289.2,333.2 292.4,332.9 295.6,332.6 298.8,332.3 302,332 305.2,331.8 308.4,331.5 311.6,331.3 314.8,331 318,330.8 321.2,330.6 324.4,330.4 327.6,330.2 330.8,330 334,329.8 337.2,329.7 340.4,329.5 343.6,329.4 346.8,329.3 350,329.1 353.2,329 356.4,328.9 359.6,328.8 362.8,328.7 366,328.6 369.2,328.6 372.4,328.5 375.6,328.4 378.8,328.4 382,328.3 385.2,328.3 388.4,328.2 391.6,328.2 394.8,328.2 398,328.2 401.2,328.1 404.4,328.1 407.6,328.1 410.8,328.1 414,328.1 417.2,328.1 420.4,328.1 422.6,328.1" stroke="#2297E6"/><polyline points="254,317.5 257.2,318.1 260.4,318.7 263.6,319.3 266.8,319.9 270,320.4 273.2,321 276.4,321.5 279.6,321.9 282.8,322.4 286,322.8 289.2,323.2 292.4,323.6 295.6,324 298.8,324.3 302,324.7 305.2,325 308.4,325.3 311.6,325.6 314.8,325.8 318,326.1 321.2,326.3 324.4,326.5 327.6,326.7 330.8,326.9 334,327 337.2,327.2 340.4,327.3 343.6,327.4 346.8,327.5 350,327.6 353.2,327.7 356.4,327.8 359.6,327.9 362.8,327.9 366,328 369.2,328 372.4,328 375.6,328.1 378.8,328.1 382,328.1 385.2,328.1 388.4,328.1 391.6,328.1 392.2,328.1" stroke="#28E2E5"/><polyline points="254,321.8 257.2,322.1 260.4,322.4 263.6,322.7 266.8,323 270,323.3 273.2,323.5 276.4,323.8 279.6,324 282.8,324.3 286,324.5 289.2,324.7 292.4,324.9 295.6,325.1 298.8,325.3 302,325.5 305.2,325.7 308.4,325.9 311.6,326 314.8,326.2 318,326.3 321.2,326.5 324.4,326.6 327.6,326.7 330.8,326.9 334,327 337.2,327.1 340.4,327.2 343.6,327.3 346.8,327.4 350,327.4 353.2,327.5 356.4,327.6 359.6,327.6 362.8,327.7 366,327.8 369.2,327.8 372.4,327.9 375.6,327.9 378.8,327.9 382,328 385.2,328 388.4,328 391.6,328 394.8,328.1 398,328.1 401.2,328.1 404.4,328.1 407.6,328.1 410.8,328.1 414,328.1 417.2,328.1 420.3,328.1" stroke="#CD0BBC"/><polyline points="254,323.9 257.2,324.1 260.4,324.4 263.6,324.6 266.8,324.8 270,325 273.2,325.2 276.4,325.4 279.6,325.6 282.8,325.8 286,326 289.2,326.1 292.4,326.3 295.6,326.4 298.8,326.6 302,326.7 305.2,326.8 308.4,326.9 311.6,327.1 314.8,327.2 318,327.3 321.2,327.4 324.4,327.4 327.6,327.5 330.8,327.6 334,327.7 337.2,327.7 340.4,327.8 343.6,327.8 346.8,327.9 350,327.9 353.2,327.9 356.4,328 359.6,328 362.8,328 366,328 369.2,328.1 372.4,328.1 375.6,328.1 378.8,328.1 382,328.1 385.2,328.1 388.4,328.1 391.6,328.1 392,328.1" stroke="#F5C710"/><polyline points="254,329 257.2,329 260.4,328.9 263.6,328.9 266.8,328.8 270,328.8 273.2,328.8 276.4,328.7 279.6,328.7 282.8,328.7 286,328.6 289.2,328.6 292.4,328.6 295.6,328.5 298.8,328.5 302,328.5 305.2,328.4 308.4,328.4 311.6,328.4 314.8,328.4 318,328.3 321.2,328.3 324.4,328.3 327.6,328.3 330.8,328.3 334,328.2 337.2,328.2 340.4,328.2 343.6,328.2 346.8,328.2 350,328.2 353.2,328.2 356.4,328.1 359.6,328.1 362.8,328.1 366,328.1 369.2,328.1 372.4,328.1 375.6,328.1 378.8,328.1 382,328.1 385.2,328.1 388.1,328.1" stroke="#9E9E9E"/><polyline points="254,333.7 257.2,333.3 260.4,332.9 263.6,332.5 266.8,332.2 270,331.9 273.2,331.6 276.4,331.3 279.6,331 282.8,330.7 286,330.5 289.2,330.2 292.4,330 295.6,329.8 298.8,329.6 302,329.5 305.2,329.3 308.4,329.2 311.6,329 314.8,328.9 318,328.8 321.2,328.7 324.4,328.6 327.6,328.5 330.8,328.4 334,328.4 337.2,328.3 340.4,328.3 343.6,328.2 346.8,328.2 350,328.2 353.2,328.1 356.4,328.1 359.6,328.1 362.8,328.1 366,328.1 369.2,328.1 371,328.1" stroke="#000000"/><polyline points="254,337.2 257.2,336.7 260.4,336.3 263.6,335.9 266.8,335.5 270,335.1 273.2,334.8 276.4,334.4 279.6,334.1 282.8,333.7 286,333.4 289.2,333.1 292.4,332.8 295.6,332.5 298.8,332.2 302,331.9 305.2,331.6 308.4,331.4 311.6,331.1 314.8,330.9 318,330.7 321.2,330.5 324.4,330.3 327.6,330.1 330.8,329.9 334,329.7 337.2,329.6 340.4,329.4 343.6,329.3 346.8,329.1 350,329 353.2,328.9 356.4,328.8 359.6,328.7 362.8,328.6 366,328.5 369.2,328.4 372.4,328.4 375.6,328.3 378.8,328.3 382,328.2 385.2,328.2 388.4,328.2 391.6,328.1 394.8,328.1 398,328.1 401.2,328.1 403,328.1" stroke="#DF536B"/><polyline points="254,323.6 257.2,323.8 260.4,324 263.6,324.2 266.8,324.5 270,324.7 273.2,324.9 276.4,325 279.6,325.2 282.8,325.4 286,325.6 289.2,325.7 292.4,325.9 295.6,326.1 298.8,326.2 302,326.3 305.2,326.5 308.4,326.6 311.6,326.7 314.8,326.8 318,326.9 321.2,327 324.4,327.1 327.6,327.2 330.8,327.3 334,327.4 337.2,327.4 340.4,327.5 343.6,327.6 346.8,327.6 350,327.7 353.2,327.7 356.4,327.8 359.6,327.8 362.8,327.9 366,327.9 369.2,327.9 372.4,328 375.6,328 378.8,328 382,328 385.2,328.1 388.4,328.1 391.6,328.1 394.8,328.1 398,328.1 401.2,328.1 404.4,328.1 407.6,328.1 410.8,328.1 414,328.1 414.6,328.1" stroke="#61D04F"/><polyline points="254,325.2 257.2,325.4 260.4,325.6 263.6,325.7 266.8,325.9 270,326.1 273.2,326.2 276.4,326.4 279.6,326.5 282.8,326.6 286,326.8 289.2,326.9 292.4,327 295.6,327.1 298.8,327.2 302,327.3 305.2,327.4 308.4,327.5 311.6,327.5 314.8,327.6 318,327.7 321.2,327.7 324.4,327.8 327.6,327.8 330.8,327.9 334,327.9 337.2,328 340.4,328 343.6,328 346.8,328 350,328.1 353.2,328.1 356.4,328.1 359.6,328.1 362.8,328.1 366,328.1 369.2,328.1 372.4,328.1 373.2,328.1" stroke="#2297E6"/><polyline points="254,340.4 257.2,339.8 260.4,339.1 263.6,338.6 266.8,338 270,337.5 273.2,336.9 276.4,336.4 279.6,335.9 282.8,335.4 286,335 289.2,334.5 292.4,334.1 295.6,333.7 298.8,333.3 302,332.9 305.2,332.6 308.4,332.2 311.6,331.9 314.8,331.6 318,331.3 321.2,331 324.4,330.7 327.6,330.5 330.8,330.3 334,330 337.2,329.8 340.4,329.6 343.6,329.4 346.8,329.3 350,329.1 353.2,329 356.4,328.8 359.6,328.7 362.8,328.6 366,328.5 369.2,328.4 372.4,328.4 375.6,328.3 378.8,328.2 382,328.2 385.2,328.2 388.4,328.1 391.6,328.1 394.8,328.1 398,328.1 401.2,328.1 401.8,328.1" stroke="#28E2E5"/><polyline points="254,305.8 257.2,307.1 260.4,308.4 263.6,309.6 266.8,310.8 270,312 273.2,313 276.4,314.1 279.6,315.1 282.8,316 286,317 289.2,317.8 292.4,318.7 295.6,319.4 298.8,320.2 302,320.9 305.2,321.6 308.4,322.2 311.6,322.8 314.8,323.4 318,323.9 321.2,324.4 324.4,324.8 327.6,325.2 330.8,325.6 334,326 337.2,326.3 340.4,326.6 343.6,326.8 346.8,327.1 350,327.3 353.2,327.5 356.4,327.6 359.6,327.7 362.8,327.8 366,327.9 369.2,328 372.4,328 375.6,328.1 378.8,328.1 382,328.1 383.3,328.1" stroke="#CD0BBC"/><polyline points="254,341.3 257.2,340.6 260.4,339.9 263.6,339.2 266.8,338.5 270,337.9 273.2,337.2 276.4,336.6 279.6,336.1 282.8,335.5 286,335 289.2,334.5 292.4,334 295.6,333.5 298.8,333.1 302,332.7 305.2,332.3 308.4,331.9 311.6,331.6 314.8,331.2 318,330.9 321.2,330.6 324.4,330.4 327.6,330.1 330.8,329.9 334,329.6 337.2,329.4 340.4,329.3 343.6,329.1 346.8,328.9 350,328.8 353.2,328.7 356.4,328.6 359.6,328.5 362.8,328.4 366,328.3 369.2,328.2 372.4,328.2 375.6,328.2 378.8,328.1 382,328.1 385.2,328.1 388.4,328.1 391.1,328.1" stroke="#F5C710"/><polyline points="254,324.9 257.2,325.1 260.4,325.2 263.6,325.4 266.8,325.5 270,325.6 273.2,325.7 276.4,325.9 279.6,326 282.8,326.1 286,326.2 289.2,326.3 292.4,326.4 295.6,326.5 298.8,326.6 302,326.7 305.2,326.8 308.4,326.9 311.6,327 314.8,327 318,327.1 321.2,327.2 324.4,327.3 327.6,327.3 330.8,327.4 334,327.4 337.2,327.5 340.4,327.6 343.6,327.6 346.8,327.7 350,327.7 353.2,327.7 356.4,327.8 359.6,327.8 362.8,327.9 366,327.9 369.2,327.9 372.4,327.9 375.6,328 378.8,328 382,328 385.2,328 388.4,328 391.6,328.1 394.8,328.1 398,328.1 401.2,328.1 404.4,328.1 407.6,328.1 410.8,328.1 414,328.1 417.2,328.1 418.7,328.1" stroke="#9E9E9E"/><polyline points="254,329.8 257.2,329.8 260.4,329.7 263.6,329.6 266.8,329.6 270,329.5 273.2,329.4 276.4,329.4 279.6,329.3 282.8,329.3 286,329.2 289.2,329.2 292.4,329.1 295.6,329.1 298.8,329 302,329 305.2,328.9 308.4,328.9 311.6,328.8 314.8,328.8 318,328.7 321.2,328.7 324.4,328.7 327.6,328.6 330.8,328.6 334,328.6 337.2,328.5 340.4,328.5 343.6,328.5 346.8,328.4 350,328.4 353.2,328.4 356.4,328.3 359.6,328.3 362.8,328.3 366,328.3 369.2,328.3 372.4,328.2 375.6,328.2 378.8,328.2 382,328.2 385.2,328.2 388.4,328.2 391.6,328.1 394.8,328.1 398,328.1 401.2,328.1 404.4,328.1 407.6,328.1 410.8,328.1 414,328.1 417.2,328.1 419.3,328.1" stroke="#000000"/><polyline points="254,323.8 257.2,324 260.4,324.3 263.6,324.6 266.8,324.8 270,325.1 273.2,325.3 276.4,325.5 279.6,325.7 282.8,325.9 286,326.1 289.2,326.3 292.4,326.5 295.6,326.6 298.8,326.8 302,326.9 305.2,327 308.4,327.1 311.6,327.2 314.8,327.3 318,327.4 321.2,327.5 324.4,327.6 327.6,327.7 330.8,327.7 334,327.8 337.2,327.8 340.4,327.9 343.6,327.9 346.8,328 350,328 353.2,328 356.4,328 359.6,328.1 362.8,328.1 366,328.1 369.2,328.1 372.4,328.1 375.6,328.1 378.8,328.1 382,328.1 382.3,328.1" stroke="#DF536B"/><polyline points="254,304.1 257.2,305.4 260.4,306.7 263.6,307.9 266.8,309 270,310.1 273.2,311.2 276.4,312.3 279.6,313.3 282.8,314.2 286,315.1 289.2,316 292.4,316.9 295.6,317.7 298.8,318.5 302,319.2 305.2,319.9 308.4,320.6 311.6,321.2 314.8,321.8 318,322.4 321.2,322.9 324.4,323.4 327.6,323.9 330.8,324.3 334,324.7 337.2,325.1 340.4,325.5 343.6,325.8 346.8,326.1 350,326.4 353.2,326.6 356.4,326.8 359.6,327.1 362.8,327.2 366,327.4 369.2,327.5 372.4,327.7 375.6,327.8 378.8,327.9 382,327.9 385.2,328 388.4,328 391.6,328.1 394.8,328.1 398,328.1 401.2,328.1 403.5,328.1" stroke="#61D04F"/><polyline points="254,315.7 257.2,316.5 260.4,317.2 263.6,317.8 266.8,318.5 270,319.1 273.2,319.7 276.4,320.2 279.6,320.8 282.8,321.3 286,321.8 289.2,322.2 292.4,322.7 295.6,323.1 298.8,323.5 302,323.9 305.2,324.3 308.4,324.6 311.6,324.9 314.8,325.2 318,325.5 321.2,325.8 324.4,326 327.6,326.3 330.8,326.5 334,326.7 337.2,326.9 340.4,327 343.6,327.2 346.8,327.3 350,327.5 353.2,327.6 356.4,327.7 359.6,327.8 362.8,327.8 366,327.9 369.2,327.9 372.4,328 375.6,328 378.8,328.1 382,328.1 385.2,328.1 388.4,328.1 391.6,328.1 394.8,328.1 395.6,328.1" stroke="#2297E6"/><polyline points="254,319.8 257.2,320.3 260.4,320.9 263.6,321.4 266.8,321.8 270,322.3 273.2,322.7 276.4,323.1 279.6,323.5 282.8,323.9 286,324.2 289.2,324.6 292.4,324.9 295.6,325.2 298.8,325.5 302,325.7 305.2,326 308.4,326.2 311.6,326.4 314.8,326.6 318,326.8 321.2,326.9 324.4,327.1 327.6,327.2 330.8,327.4 334,327.5 337.2,327.6 340.4,327.7 343.6,327.8 346.8,327.8 350,327.9 353.2,327.9 356.4,328 359.6,328 362.8,328 366,328.1 369.2,328.1 372.4,328.1 375.6,328.1 378.8,328.1 382,328.1 383.6,328.1" stroke="#28E2E5"/><polyline points="254,334.4 257.2,334 260.4,333.6 263.6,333.2 266.8,332.9 270,332.5 273.2,332.2 276.4,331.9 279.6,331.6 282.8,331.3 286,331 289.2,330.8 292.4,330.5 295.6,330.3 298.8,330.1 302,329.9 305.2,329.7 308.4,329.5 311.6,329.4 314.8,329.2 318,329.1 321.2,328.9 324.4,328.8 327.6,328.7 330.8,328.6 334,328.5 337.2,328.4 340.4,328.4 343.6,328.3 346.8,328.3 350,328.2 353.2,328.2 356.4,328.2 359.6,328.1 362.8,328.1 366,328.1 369.2,328.1 372.4,328.1 375.6,328.1 375.8,328.1" stroke="#CD0BBC"/><polyline points="254,346.2 257.2,345 260.4,343.9 263.6,342.8 266.8,341.8 270,340.8 273.2,339.8 276.4,338.9 279.6,338 282.8,337.2 286,336.5 289.2,335.7 292.4,335.1 295.6,334.4 298.8,333.8 302,333.2 305.2,332.7 308.4,332.2 311.6,331.7 314.8,331.3 318,330.9 321.2,330.6 324.4,330.2 327.6,329.9 330.8,329.7 334,329.4 337.2,329.2 340.4,329 343.6,328.8 346.8,328.7 350,328.6 353.2,328.4 356.4,328.4 359.6,328.3 362.8,328.2 366,328.2 369.2,328.1 372.4,328.1 375.6,328.1 378.8,328.1 382,328.1 383.5,328.1" stroke="#F5C710"/><polyline points="254,330.2 257.2,330.1 260.4,330 263.6,329.9 266.8,329.7 270,329.6 273.2,329.5 276.4,329.4 279.6,329.4 282.8,329.3 286,329.2 289.2,329.1 292.4,329 295.6,328.9 298.8,328.9 302,328.8 305.2,328.7 308.4,328.7 311.6,328.6 314.8,328.6 318,328.5 321.2,328.5 324.4,328.4 327.6,328.4 330.8,328.4 334,328.3 337.2,328.3 340.4,328.3 343.6,328.2 346.8,328.2 350,328.2 353.2,328.2 356.4,328.2 359.6,328.1 362.8,328.1 366,328.1 369.2,328.1 372.4,328.1 375.6,328.1 378.8,328.1 382,328.1 383.2,328.1" stroke="#9E9E9E"/><polyline points="254,341.6 257.2,340.8 260.4,340.1 263.6,339.4 266.8,338.7 270,338 273.2,337.4 276.4,336.8 279.6,336.2 282.8,335.6 286,335.1 289.2,334.6 292.4,334.1 295.6,333.6 298.8,333.2 302,332.8 305.2,332.4 308.4,332 311.6,331.7 314.8,331.3 318,331 321.2,330.7 324.4,330.5 327.6,330.2 330.8,330 334,329.8 337.2,329.6 340.4,329.4 343.6,329.2 346.8,329 350,328.9 353.2,328.8 356.4,328.7 359.6,328.6 362.8,328.5 366,328.4 369.2,328.3 372.4,328.3 375.6,328.2 378.8,328.2 382,328.2 385.2,328.1 388.4,328.1 391.6,328.1 394.8,328.1 398,328.1 401.2,328.1 402.8,328.1" stroke="#000000"/><polyline points="254,328 257.2,328 260.4,328 263.6,328 266.8,328 270,328 273.2,328 276.4,328 279.6,328 282.8,328 286,328 289.2,328.1 292.4,328.1 295.6,328.1 298.8,328.1 302,328.1 305.2,328.1 308.4,328.1 311.6,328.1 314.8,328.1 318,328.1 321.2,328.1 324.4,328.1 327.6,328.1 330.8,328.1 334,328.1 337.2,328.1 340.4,328.1 343.6,328.1 346.8,328.1 350,328.1 353.2,328.1 356.4,328.1 359.6,328.1 362.8,328.1 366,328.1 369.2,328.1 372.4,328.1 375.6,328.1 378.8,328.1 382,328.1 385.2,328.1 388.4,328.1 391.6,328.1 394.8,328.1 398,328.1 401.2,328.1 404.4,328.1 407.6,328.1 409.5,328.1" stroke="#DF536B"/><polyline points="254,341.2 257.2,340.4 260.4,339.6 263.6,338.9 266.8,338.2 270,337.5 273.2,336.9 276.4,336.3 279.6,335.7 282.8,335.1 286,334.6 289.2,334.1 292.4,333.6 295.6,333.2 298.8,332.7 302,332.3 305.2,331.9 308.4,331.6 311.6,331.2 314.8,330.9 318,330.6 321.2,330.4 324.4,330.1 327.6,329.9 330.8,329.7 334,329.5 337.2,329.3 340.4,329.1 343.6,329 346.8,328.8 350,328.7 353.2,328.6 356.4,328.5 359.6,328.4 362.8,328.4 366,328.3 369.2,328.2 372.4,328.2 375.6,328.2 378.8,328.1 382,328.1 385.2,328.1 388.4,328.1 391.6,328.1 394.8,328.1 398,328.1 398.2,328.1" stroke="#61D04F"/><polyline points="254,342.8 257.2,342.1 260.4,341.4 263.6,340.7 266.8,340 270,339.4 273.2,338.7 276.4,338.1 279.6,337.5 282.8,337 286,336.4 289.2,335.9 292.4,335.4 295.6,334.9 298.8,334.4 302,333.9 305.2,333.5 308.4,333.1 311.6,332.7 314.8,332.3 318,331.9 321.2,331.6 324.4,331.3 327.6,330.9 330.8,330.7 334,330.4 337.2,330.1 340.4,329.9 343.6,329.6 346.8,329.4 350,329.2 353.2,329.1 356.4,328.9 359.6,328.8 362.8,328.6 366,328.5 369.2,328.4 372.4,328.3 375.6,328.3 378.8,328.2 382,328.2 385.2,328.1 388.4,328.1 391.6,328.1 393,328.1" stroke="#2297E6"/><polyline points="254,326.4 257.2,326.5 260.4,326.5 263.6,326.6 266.8,326.7 270,326.8 273.2,326.8 276.4,326.9 279.6,327 282.8,327 286,327.1 289.2,327.1 292.4,327.2 295.6,327.2 298.8,327.3 302,327.3 305.2,327.4 308.4,327.4 311.6,327.5 314.8,327.5 318,327.6 321.2,327.6 324.4,327.6 327.6,327.7 330.8,327.7 334,327.7 337.2,327.8 340.4,327.8 343.6,327.8 346.8,327.9 350,327.9 353.2,327.9 356.4,327.9 359.6,327.9 362.8,328 366,328 369.2,328 372.4,328 375.6,328 378.8,328 382,328 385.2,328.1 388.4,328.1 391.6,328.1 394.8,328.1 398,328.1 401.2,328.1 404.4,328.1 407.6,328.1 410.8,328.1 414,328.1 417.2,328.1 420.4,328.1 423.6,328.1 426.8,328.1 429.7,328.1" stroke="#28E2E5"/><polyline points="254,315.6 257.2,316.2 260.4,316.8 263.6,317.3 266.8,317.8 270,318.3 273.2,318.8 276.4,319.3 279.6,319.8 282.8,320.3 286,320.7 289.2,321.1 292.4,321.6 295.6,322 298.8,322.4 302,322.7 305.2,323.1 308.4,323.5 311.6,323.8 314.8,324.1 318,324.4 321.2,324.7 324.4,325 327.6,325.3 330.8,325.6 334,325.8 337.2,326 340.4,326.3 343.6,326.5 346.8,326.7 350,326.8 353.2,327 356.4,327.2 359.6,327.3 362.8,327.4 366,327.6 369.2,327.7 372.4,327.8 375.6,327.9 378.8,327.9 382,328 385.2,328 388.4,328.1 391.6,328.1 394.8,328.1 397.2,328.1" stroke="#CD0BBC"/><polyline points="254,321.4 257.2,321.6 260.4,321.9 263.6,322.1 266.8,322.4 270,322.6 273.2,322.9 276.4,323.1 279.6,323.3 282.8,323.5 286,323.7 289.2,324 292.4,324.2 295.6,324.4 298.8,324.5 302,324.7 305.2,324.9 308.4,325.1 311.6,325.3 314.8,325.4 318,325.6 321.2,325.7 324.4,325.9 327.6,326 330.8,326.2 334,326.3 337.2,326.5 340.4,326.6 343.6,326.7 346.8,326.8 350,326.9 353.2,327 356.4,327.1 359.6,327.2 362.8,327.3 366,327.4 369.2,327.5 372.4,327.6 375.6,327.6 378.8,327.7 382,327.8 385.2,327.8 388.4,327.9 391.6,327.9 394.8,328 398,328 401.2,328 404.4,328 407.6,328.1 410.8,328.1 414,328.1 417.2,328.1 419.7,328.1" stroke="#F5C710"/><polyline points="254,315.5 257.2,316.1 260.4,316.7 263.6,317.3 266.8,317.9 270,318.4 273.2,319 276.4,319.5 279.6,320 282.8,320.5 286,321 289.2,321.4 292.4,321.9 295.6,322.3 298.8,322.7 302,323 305.2,323.4 308.4,323.8 311.6,324.1 314.8,324.4 318,324.7 321.2,325 324.4,325.3 327.6,325.5 330.8,325.8 334,326 337.2,326.2 340.4,326.4 343.6,326.6 346.8,326.8 350,326.9 353.2,327.1 356.4,327.2 359.6,327.4 362.8,327.5 366,327.6 369.2,327.7 372.4,327.7 375.6,327.8 378.8,327.9 382,327.9 385.2,328 388.4,328 391.6,328 394.8,328.1 398,328.1 401.2,328.1 404.4,328.1 407.6,328.1 408.7,328.1" stroke="#9E9E9E"/><polyline points="254,300 257.2,301.4 260.4,302.8 263.6,304.1 266.8,305.3 270,306.6 273.2,307.8 276.4,308.9 279.6,310 282.8,311.1 286,312.1 289.2,313.1 292.4,314.1 295.6,315 298.8,315.9 302,316.7 305.2,317.5 308.4,318.3 311.6,319 314.8,319.7 318,320.4 321.2,321 324.4,321.6 327.6,322.1 330.8,322.7 334,323.2 337.2,323.7 340.4,324.1 343.6,324.5 346.8,324.9 350,325.3 353.2,325.6 356.4,325.9 359.6,326.2 362.8,326.5 366,326.7 369.2,326.9 372.4,327.1 375.6,327.3 378.8,327.4 382,327.6 385.2,327.7 388.4,327.8 391.6,327.9 394.8,327.9 398,328 401.2,328 404.4,328.1 407.6,328.1 410.8,328.1 414,328.1 417.2,328.1 417.3,328.1" stroke="#000000"/><polyline points="254,316.1 257.2,316.8 260.4,317.4 263.6,318 266.8,318.6 270,319.2 273.2,319.8 276.4,320.3 279.6,320.8 282.8,321.3 286,321.8 289.2,322.2 292.4,322.7 295.6,323.1 298.8,323.5 302,323.9 305.2,324.2 308.4,324.6 311.6,324.9 314.8,325.2 318,325.5 321.2,325.8 324.4,326 327.6,326.3 330.8,326.5 334,326.7 337.2,326.9 340.4,327.1 343.6,327.2 346.8,327.4 350,327.5 353.2,327.6 356.4,327.7 359.6,327.8 362.8,327.9 366,327.9 369.2,328 372.4,328 375.6,328.1 378.8,328.1 382,328.1 385.2,328.1 386.5,328.1" stroke="#DF536B"/><polyline points="254,352.6 257.2,350.9 260.4,349.4 263.6,347.9 266.8,346.5 270,345.1 273.2,343.8 276.4,342.6 279.6,341.4 282.8,340.3 286,339.2 289.2,338.2 292.4,337.3 295.6,336.4 298.8,335.5 302,334.7 305.2,334 308.4,333.3 311.6,332.7 314.8,332.1 318,331.6 321.2,331.1 324.4,330.6 327.6,330.2 330.8,329.9 334,329.5 337.2,329.2 340.4,329 343.6,328.8 346.8,328.6 350,328.5 353.2,328.3 356.4,328.2 359.6,328.2 362.8,328.1 366,328.1 369.2,328.1 371.1,328.1" stroke="#61D04F"/><polyline points="254,323.7 257.2,323.9 260.4,324.1 263.6,324.4 266.8,324.6 270,324.8 273.2,325 276.4,325.2 279.6,325.4 282.8,325.6 286,325.8 289.2,326 292.4,326.1 295.6,326.3 298.8,326.4 302,326.6 305.2,326.7 308.4,326.8 311.6,327 314.8,327.1 318,327.2 321.2,327.3 324.4,327.4 327.6,327.5 330.8,327.6 334,327.7 337.2,327.7 340.4,327.8 343.6,327.9 346.8,327.9 350,328 353.2,328 356.4,328 359.6,328.1 362.8,328.1 366,328.1 369.2,328.1 372.4,328.1 372.8,328.1" stroke="#2297E6"/><polyline points="254,344.2 257.2,343.3 260.4,342.3 263.6,341.4 266.8,340.6 270,339.7 273.2,338.9 276.4,338.2 279.6,337.4 282.8,336.7 286,336.1 289.2,335.5 292.4,334.9 295.6,334.3 298.8,333.8 302,333.3 305.2,332.8 308.4,332.3 311.6,331.9 314.8,331.5 318,331.2 321.2,330.8 324.4,330.5 327.6,330.2 330.8,330 334,329.7 337.2,329.5 340.4,329.3 343.6,329.1 346.8,328.9 350,328.8 353.2,328.7 356.4,328.5 359.6,328.4 362.8,328.4 366,328.3 369.2,328.2 372.4,328.2 375.6,328.2 378.8,328.1 382,328.1 385.2,328.1 388.4,328.1 391.6,328.1 392.7,328.1" stroke="#28E2E5"/><polyline points="254,330.1 257.2,330.1 260.4,330 263.6,329.9 266.8,329.8 270,329.7 273.2,329.7 276.4,329.6 279.6,329.5 282.8,329.4 286,329.4 289.2,329.3 292.4,329.2 295.6,329.2 298.8,329.1 302,329.1 305.2,329 308.4,328.9 311.6,328.9 314.8,328.8 318,328.8 321.2,328.7 324.4,328.7 327.6,328.7 330.8,328.6 334,328.6 337.2,328.5 340.4,328.5 343.6,328.5 346.8,328.4 350,328.4 353.2,328.4 356.4,328.3 359.6,328.3 362.8,328.3 366,328.3 369.2,328.2 372.4,328.2 375.6,328.2 378.8,328.2 382,328.2 385.2,328.2 388.4,328.2 391.6,328.1 394.8,328.1 398,328.1 401.2,328.1 404.4,328.1 407.6,328.1 410.8,328.1 414,328.1 417.2,328.1 418.5,328.1" stroke="#CD0BBC"/><polyline points="254,334.9 257.2,334.5 260.4,334.1 263.6,333.7 266.8,333.3 270,333 273.2,332.6 276.4,332.3 279.6,332 282.8,331.7 286,331.4 289.2,331.1 292.4,330.8 295.6,330.6 298.8,330.3 302,330.1 305.2,329.9 308.4,329.7 311.6,329.5 314.8,329.3 318,329.2 321.2,329 324.4,328.9 327.6,328.7 330.8,328.6 334,328.5 337.2,328.4 340.4,328.4 343.6,328.3 346.8,328.2 350,328.2 353.2,328.2 356.4,328.1 359.6,328.1 362.8,328.1 364.2,328.1" stroke="#F5C710"/><polyline points="254,334.9 257.2,334.5 260.4,334.2 263.6,333.9 266.8,333.6 270,333.3 273.2,333 276.4,332.7 279.6,332.4 282.8,332.1 286,331.9 289.2,331.6 292.4,331.4 295.6,331.1 298.8,330.9 302,330.7 305.2,330.5 308.4,330.3 311.6,330.1 314.8,329.9 318,329.8 321.2,329.6 324.4,329.4 327.6,329.3 330.8,329.1 334,329 337.2,328.9 340.4,328.8 343.6,328.7 346.8,328.6 350,328.5 353.2,328.4 356.4,328.4 359.6,328.3 362.8,328.2 366,328.2 369.2,328.2 372.4,328.1 375.6,328.1 378.8,328.1 381.3,328.1" stroke="#9E9E9E"/><polyline points="254,340.9 257.2,340.3 260.4,339.8 263.6,339.2 266.8,338.7 270,338.2 273.2,337.7 276.4,337.2 279.6,336.8 282.8,336.3 286,335.9 289.2,335.5 292.4,335 295.6,334.6 298.8,334.3 302,333.9 305.2,333.5 308.4,333.2 311.6,332.8 314.8,332.5 318,332.2 321.2,331.9 324.4,331.6 327.6,331.4 330.8,331.1 334,330.9 337.2,330.6 340.4,330.4 343.6,330.2 346.8,330 350,329.8 353.2,329.6 356.4,329.5 359.6,329.3 362.8,329.2 366,329 369.2,328.9 372.4,328.8 375.6,328.7 378.8,328.6 382,328.5 385.2,328.4 388.4,328.4 391.6,328.3 394.8,328.3 398,328.2 401.2,328.2 404.4,328.2 407.6,328.1 410.8,328.1 414,328.1 417.2,328.1 420.4,328.1 420.6,328.1" stroke="#000000"/><polyline points="254,338.4 257.2,337.9 260.4,337.4 263.6,336.9 266.8,336.5 270,336 273.2,335.6 276.4,335.2 279.6,334.8 282.8,334.4 286,334 289.2,333.7 292.4,333.3 295.6,333 298.8,332.7 302,332.4 305.2,332.1 308.4,331.8 311.6,331.5 314.8,331.2 318,331 321.2,330.7 324.4,330.5 327.6,330.3 330.8,330.1 334,329.9 337.2,329.7 340.4,329.5 343.6,329.4 346.8,329.2 350,329.1 353.2,328.9 356.4,328.8 359.6,328.7 362.8,328.6 366,328.5 369.2,328.4 372.4,328.4 375.6,328.3 378.8,328.3 382,328.2 385.2,328.2 388.4,328.1 391.6,328.1 394.8,328.1 398,328.1 401.2,328.1 401.9,328.1" stroke="#DF536B"/><polyline points="254,336.4 257.2,336 260.4,335.6 263.6,335.2 266.8,334.8 270,334.5 273.2,334.1 276.4,333.8 279.6,333.5 282.8,333.1 286,332.8 289.2,332.5 292.4,332.2 295.6,332 298.8,331.7 302,331.4 305.2,331.2 308.4,331 311.6,330.7 314.8,330.5 318,330.3 321.2,330.1 324.4,329.9 327.6,329.8 330.8,329.6 334,329.5 337.2,329.3 340.4,329.2 343.6,329 346.8,328.9 350,328.8 353.2,328.7 356.4,328.6 359.6,328.5 362.8,328.5 366,328.4 369.2,328.3 372.4,328.3 375.6,328.2 378.8,328.2 382,328.2 385.2,328.1 388.4,328.1 391.6,328.1 394.8,328.1 398,328.1 399.3,328.1" stroke="#61D04F"/><polyline points="254,339.4 257.2,338.8 260.4,338.3 263.6,337.7 266.8,337.2 270,336.6 273.2,336.1 276.4,335.6 279.6,335.1 282.8,334.7 286,334.2 289.2,333.8 292.4,333.4 295.6,333 298.8,332.6 302,332.3 305.2,331.9 308.4,331.6 311.6,331.3 314.8,331 318,330.7 321.2,330.4 324.4,330.1 327.6,329.9 330.8,329.7 334,329.5 337.2,329.3 340.4,329.1 343.6,328.9 346.8,328.8 350,328.7 353.2,328.5 356.4,328.4 359.6,328.3 362.8,328.3 366,328.2 369.2,328.2 372.4,328.1 375.6,328.1 378.8,328.1 379.7,328.1" stroke="#2297E6"/><polyline points="254,321.2 257.2,321.6 260.4,321.9 263.6,322.2 266.8,322.5 270,322.8 273.2,323.1 276.4,323.4 279.6,323.7 282.8,324 286,324.2 289.2,324.5 292.4,324.7 295.6,325 298.8,325.2 302,325.4 305.2,325.6 308.4,325.8 311.6,326 314.8,326.2 318,326.4 321.2,326.6 324.4,326.7 327.6,326.9 330.8,327 334,327.1 337.2,327.3 340.4,327.4 343.6,327.5 346.8,327.6 350,327.7 353.2,327.8 356.4,327.8 359.6,327.9 362.8,327.9 366,328 369.2,328 372.4,328.1 375.6,328.1 378.8,328.1 382,328.1 382.6,328.1" stroke="#28E2E5"/><polyline points="254,310.8 257.2,311.5 260.4,312.2 263.6,312.9 266.8,313.6 270,314.3 273.2,315 276.4,315.6 279.6,316.2 282.8,316.8 286,317.4 289.2,318 292.4,318.6 295.6,319.1 298.8,319.7 302,320.2 305.2,320.7 308.4,321.1 311.6,321.6 314.8,322 318,322.5 321.2,322.9 324.4,323.3 327.6,323.7 330.8,324 334,324.4 337.2,324.7 340.4,325 343.6,325.3 346.8,325.6 350,325.9 353.2,326.1 356.4,326.4 359.6,326.6 362.8,326.8 366,327 369.2,327.1 372.4,327.3 375.6,327.5 378.8,327.6 382,327.7 385.2,327.8 388.4,327.9 391.6,328 394.8,328 398,328.1 401.2,328.1 404.4,328.1 407.1,328.1" stroke="#CD0BBC"/><polyline points="254,319 257.2,319.4 260.4,319.8 263.6,320.2 266.8,320.6 270,320.9 273.2,321.3 276.4,321.6 279.6,322 282.8,322.3 286,322.6 289.2,322.9 292.4,323.2 295.6,323.5 298.8,323.8 302,324 305.2,324.3 308.4,324.5 311.6,324.8 314.8,325 318,325.2 321.2,325.4 324.4,325.6 327.6,325.8 330.8,326 334,326.2 337.2,326.3 340.4,326.5 343.6,326.6 346.8,326.8 350,326.9 353.2,327 356.4,327.2 359.6,327.3 362.8,327.4 366,327.5 369.2,327.6 372.4,327.6 375.6,327.7 378.8,327.8 382,327.8 385.2,327.9 388.4,327.9 391.6,328 394.8,328 398,328 401.2,328.1 404.4,328.1 407.6,328.1 410.8,328.1 414,328.1 417.2,328.1 418.8,328.1" stroke="#F5C710"/><polyline points="254,358.1 257.2,356.7 260.4,355.3 263.6,353.9 266.8,352.6 270,351.3 273.2,350.1 276.4,348.9 279.6,347.7 282.8,346.6 286,345.5 289.2,344.5 292.4,343.5 295.6,342.5 298.8,341.6 302,340.7 305.2,339.8 308.4,339 311.6,338.2 314.8,337.4 318,336.7 321.2,336 324.4,335.4 327.6,334.7 330.8,334.1 334,333.6 337.2,333.1 340.4,332.6 343.6,332.1 346.8,331.7 350,331.2 353.2,330.9 356.4,330.5 359.6,330.2 362.8,329.9 366,329.6 369.2,329.4 372.4,329.2 375.6,329 378.8,328.8 382,328.6 385.2,328.5 388.4,328.4 391.6,328.3 394.8,328.2 398,328.2 401.2,328.1 404.4,328.1 407.6,328.1 410.8,328.1 411.3,328.1" stroke="#9E9E9E"/><polyline points="254,343.3 257.2,342.7 260.4,342 263.6,341.4 266.8,340.8 270,340.3 273.2,339.7 276.4,339.2 279.6,338.6 282.8,338.1 286,337.6 289.2,337.1 292.4,336.6 295.6,336.2 298.8,335.7 302,335.3 305.2,334.9 308.4,334.5 311.6,334.1 314.8,333.7 318,333.4 321.2,333 324.4,332.7 327.6,332.3 330.8,332 334,331.7 337.2,331.5 340.4,331.2 343.6,330.9 346.8,330.7 350,330.5 353.2,330.2 356.4,330 359.6,329.8 362.8,329.6 366,329.5 369.2,329.3 372.4,329.2 375.6,329 378.8,328.9 382,328.8 385.2,328.7 388.4,328.6 391.6,328.5 394.8,328.4 398,328.3 401.2,328.3 404.4,328.2 407.6,328.2 410.8,328.2 414,328.1 417.2,328.1 420.4,328.1 423.6,328.1 425.4,328.1" stroke="#000000"/><polyline points="254,331.5 257.2,331.4 260.4,331.2 263.6,331 266.8,330.9 270,330.7 273.2,330.5 276.4,330.4 279.6,330.3 282.8,330.1 286,330 289.2,329.9 292.4,329.7 295.6,329.6 298.8,329.5 302,329.4 305.2,329.3 308.4,329.2 311.6,329.1 314.8,329 318,328.9 321.2,328.9 324.4,328.8 327.6,328.7 330.8,328.6 334,328.6 337.2,328.5 340.4,328.5 343.6,328.4 346.8,328.4 350,328.3 353.2,328.3 356.4,328.3 359.6,328.2 362.8,328.2 366,328.2 369.2,328.2 372.4,328.1 375.6,328.1 378.8,328.1 382,328.1 385.2,328.1 388.4,328.1 391.6,328.1 393.1,328.1" stroke="#DF536B"/><polyline points="254,321.6 257.2,321.9 260.4,322.1 263.6,322.4 266.8,322.7 270,322.9 273.2,323.2 276.4,323.4 279.6,323.7 282.8,323.9 286,324.1 289.2,324.3 292.4,324.5 295.6,324.7 298.8,324.9 302,325.1 305.2,325.3 308.4,325.5 311.6,325.7 314.8,325.8 318,326 321.2,326.1 324.4,326.3 327.6,326.4 330.8,326.5 334,326.7 337.2,326.8 340.4,326.9 343.6,327 346.8,327.1 350,327.2 353.2,327.3 356.4,327.4 359.6,327.5 362.8,327.5 366,327.6 369.2,327.7 372.4,327.7 375.6,327.8 378.8,327.8 382,327.9 385.2,327.9 388.4,328 391.6,328 394.8,328 398,328 401.2,328.1 404.4,328.1 407.6,328.1 410.8,328.1 414,328.1 417.2,328.1 418.1,328.1" stroke="#61D04F"/><polyline points="254,308.9 257.2,310.1 260.4,311.3 263.6,312.5 266.8,313.6 270,314.6 273.2,315.6 276.4,316.6 279.6,317.5 282.8,318.4 286,319.2 289.2,320 292.4,320.8 295.6,321.5 298.8,322.1 302,322.7 305.2,323.3 308.4,323.9 311.6,324.4 314.8,324.9 318,325.3 321.2,325.7 324.4,326 327.6,326.4 330.8,326.7 334,326.9 337.2,327.2 340.4,327.4 343.6,327.5 346.8,327.7 350,327.8 353.2,327.9 356.4,328 359.6,328 362.8,328.1 366,328.1 369.2,328.1 369.8,328.1" stroke="#2297E6"/><polyline points="254,327.7 257.2,327.7 260.4,327.7 263.6,327.7 266.8,327.7 270,327.8 273.2,327.8 276.4,327.8 279.6,327.8 282.8,327.8 286,327.8 289.2,327.8 292.4,327.9 295.6,327.9 298.8,327.9 302,327.9 305.2,327.9 308.4,327.9 311.6,327.9 314.8,327.9 318,327.9 321.2,328 324.4,328 327.6,328 330.8,328 334,328 337.2,328 340.4,328 343.6,328 346.8,328 350,328 353.2,328 356.4,328 359.6,328 362.8,328.1 366,328.1 369.2,328.1 372.4,328.1 375.6,328.1 378.8,328.1 382,328.1 385.2,328.1 388.4,328.1 391.6,328.1 394.8,328.1 398,328.1 401.2,328.1 404.4,328.1 407.6,328.1 410.8,328.1 414,328.1 417.2,328.1 417.9,328.1" stroke="#28E2E5"/><polyline points="254,341.6 257.2,341 260.4,340.4 263.6,339.9 266.8,339.3 270,338.8 273.2,338.3 276.4,337.8 279.6,337.3 282.8,336.8 286,336.4 289.2,335.9 292.4,335.5 295.6,335.1 298.8,334.7 302,334.3 305.2,333.9 308.4,333.5 311.6,333.1 314.8,332.8 318,332.5 321.2,332.1 324.4,331.8 327.6,331.5 330.8,331.2 334,331 337.2,330.7 340.4,330.5 343.6,330.2 346.8,330 350,329.8 353.2,329.6 356.4,329.4 359.6,329.2 362.8,329.1 366,328.9 369.2,328.8 372.4,328.7 375.6,328.6 378.8,328.5 382,328.4 385.2,328.3 388.4,328.2 391.6,328.2 394.8,328.2 398,328.1 401.2,328.1 404.4,328.1 404.5,328.1" stroke="#CD0BBC"/><polyline points="254,325.7 257.2,325.8 260.4,325.9 263.6,326.1 266.8,326.2 270,326.3 273.2,326.4 276.4,326.5 279.6,326.6 282.8,326.7 286,326.8 289.2,326.9 292.4,327 295.6,327 298.8,327.1 302,327.2 305.2,327.3 308.4,327.3 311.6,327.4 314.8,327.5 318,327.5 321.2,327.6 324.4,327.6 327.6,327.7 330.8,327.7 334,327.7 337.2,327.8 340.4,327.8 343.6,327.9 346.8,327.9 350,327.9 353.2,327.9 356.4,328 359.6,328 362.8,328 366,328 369.2,328 372.4,328 375.6,328.1 378.8,328.1 382,328.1 385.2,328.1 388.4,328.1 391.6,328.1 394.8,328.1 398,328.1 401.2,328.1 404.4,328.1 407.6,328.1 410.8,328.1 414,328.1 414.5,328.1" stroke="#F5C710"/><polyline points="254,350.4 257.2,349.3 260.4,348.2 263.6,347.2 266.8,346.2 270,345.3 273.2,344.3 276.4,343.4 279.6,342.5 282.8,341.6 286,340.8 289.2,340 292.4,339.2 295.6,338.5 298.8,337.7 302,337 305.2,336.4 308.4,335.7 311.6,335.1 314.8,334.5 318,333.9 321.2,333.4 324.4,332.9 327.6,332.4 330.8,331.9 334,331.5 337.2,331.1 340.4,330.7 343.6,330.3 346.8,330 350,329.7 353.2,329.4 356.4,329.2 359.6,328.9 362.8,328.7 366,328.6 369.2,328.4 372.4,328.3 375.6,328.2 378.8,328.2 382,328.1 385.1,328.1" stroke="#9E9E9E"/><polyline points="254,321.7 257.2,322 260.4,322.3 263.6,322.6 266.8,322.9 270,323.2 273.2,323.5 276.4,323.7 279.6,324 282.8,324.2 286,324.5 289.2,324.7 292.4,324.9 295.6,325.1 298.8,325.4 302,325.6 305.2,325.8 308.4,325.9 311.6,326.1 314.8,326.3 318,326.4 321.2,326.6 324.4,326.7 327.6,326.9 330.8,327 334,327.1 337.2,327.3 340.4,327.4 343.6,327.5 346.8,327.6 350,327.6 353.2,327.7 356.4,327.8 359.6,327.9 362.8,327.9 366,328 369.2,328 372.4,328 375.6,328.1 378.8,328.1 382,328.1 385.2,328.1 387.2,328.1" stroke="#000000"/><polyline points="254,328.2 257.2,328.2 260.4,328.2 263.6,328.2 266.8,328.2 270,328.2 273.2,328.2 276.4,328.2 279.6,328.2 282.8,328.2 286,328.2 289.2,328.2 292.4,328.2 295.6,328.2 298.8,328.2 302,328.1 305.2,328.1 308.4,328.1 311.6,328.1 314.8,328.1 318,328.1 321.2,328.1 324.4,328.1 327.6,328.1 330.8,328.1 334,328.1 337.2,328.1 340.4,328.1 343.6,328.1 346.8,328.1 350,328.1 353.2,328.1 356.4,328.1 359.6,328.1 362.8,328.1 366,328.1 369.2,328.1 372.4,328.1 375.6,328.1 378.8,328.1 382,328.1 385.2,328.1 388.4,328.1 391.6,328.1 393.5,328.1" stroke="#DF536B"/><polyline points="254,326.3 257.2,326.4 260.4,326.5 263.6,326.6 266.8,326.7 270,326.8 273.2,326.9 276.4,327 279.6,327.1 282.8,327.2 286,327.3 289.2,327.4 292.4,327.4 295.6,327.5 298.8,327.6 302,327.6 305.2,327.7 308.4,327.7 311.6,327.8 314.8,327.8 318,327.9 321.2,327.9 324.4,327.9 327.6,328 330.8,328 334,328 337.2,328 340.4,328.1 343.6,328.1 346.8,328.1 350,328.1 353.2,328.1 356.4,328.1 359.6,328.1 361.8,328.1" stroke="#61D04F"/><polyline points="254,309.7 257.2,310.8 260.4,311.9 263.6,313 266.8,314 270,315 273.2,315.9 276.4,316.8 279.6,317.7 282.8,318.5 286,319.3 289.2,320.1 292.4,320.8 295.6,321.5 298.8,322.2 302,322.8 305.2,323.4 308.4,323.9 311.6,324.5 314.8,324.9 318,325.4 321.2,325.8 324.4,326.2 327.6,326.5 330.8,326.8 334,327.1 337.2,327.3 340.4,327.5 343.6,327.7 346.8,327.8 350,327.9 353.2,328 356.4,328.1 359.6,328.1 360.7,328.1" stroke="#2297E6"/><polyline points="254,335 257.2,334.6 260.4,334.3 263.6,334 266.8,333.7 270,333.4 273.2,333.1 276.4,332.8 279.6,332.5 282.8,332.3 286,332 289.2,331.8 292.4,331.6 295.6,331.3 298.8,331.1 302,330.9 305.2,330.7 308.4,330.5 311.6,330.4 314.8,330.2 318,330 321.2,329.9 324.4,329.7 327.6,329.6 330.8,329.5 334,329.4 337.2,329.2 340.4,329.1 343.6,329 346.8,328.9 350,328.8 353.2,328.8 356.4,328.7 359.6,328.6 362.8,328.6 366,328.5 369.2,328.4 372.4,328.4 375.6,328.3 378.8,328.3 382,328.3 385.2,328.2 388.4,328.2 391.6,328.2 394.8,328.2 398,328.2 401.2,328.1 404.4,328.1 407.6,328.1 410.8,328.1 414,328.1 417.2,328.1 420.4,328.1 423.6,328.1 426.5,328.1" stroke="#28E2E5"/><polyline points="254,324.4 257.2,324.6 260.4,324.8 263.6,325 266.8,325.2 270,325.4 273.2,325.5 276.4,325.7 279.6,325.9 282.8,326 286,326.2 289.2,326.3 292.4,326.4 295.6,326.6 298.8,326.7 302,326.8 305.2,326.9 308.4,327 311.6,327.1 314.8,327.2 318,327.3 321.2,327.4 324.4,327.5 327.6,327.6 330.8,327.6 334,327.7 337.2,327.8 340.4,327.8 343.6,327.9 346.8,327.9 350,327.9 353.2,328 356.4,328 359.6,328 362.8,328.1 366,328.1 369.2,328.1 372.4,328.1 375.6,328.1 377.7,328.1" stroke="#CD0BBC"/><polyline points="254,343.2 257.2,342.4 260.4,341.6 263.6,340.9 266.8,340.1 270,339.4 273.2,338.8 276.4,338.1 279.6,337.5 282.8,336.9 286,336.3 289.2,335.8 292.4,335.3 295.6,334.8 298.8,334.3 302,333.8 305.2,333.4 308.4,333 311.6,332.6 314.8,332.2 318,331.8 321.2,331.5 324.4,331.2 327.6,330.9 330.8,330.6 334,330.3 337.2,330.1 340.4,329.9 343.6,329.7 346.8,329.5 350,329.3 353.2,329.1 356.4,329 359.6,328.8 362.8,328.7 366,328.6 369.2,328.5 372.4,328.4 375.6,328.3 378.8,328.3 382,328.2 385.2,328.2 388.4,328.2 391.6,328.1 394.8,328.1 398,328.1 401.2,328.1 404.4,328.1 405.7,328.1" stroke="#F5C710"/><polyline points="254,333 257.2,332.7 260.4,332.5 263.6,332.2 266.8,331.9 270,331.7 273.2,331.5 276.4,331.3 279.6,331 282.8,330.8 286,330.6 289.2,330.4 292.4,330.3 295.6,330.1 298.8,329.9 302,329.8 305.2,329.6 308.4,329.5 311.6,329.4 314.8,329.2 318,329.1 321.2,329 324.4,328.9 327.6,328.8 330.8,328.7 334,328.6 337.2,328.5 340.4,328.5 343.6,328.4 346.8,328.4 350,328.3 353.2,328.3 356.4,328.2 359.6,328.2 362.8,328.2 366,328.1 369.2,328.1 372.4,328.1 375.6,328.1 378.8,328.1 382,328.1 383.1,328.1" stroke="#9E9E9E"/><polyline points="254,333.5 257.2,333.2 260.4,332.9 263.6,332.7 266.8,332.5 270,332.2 273.2,332 276.4,331.8 279.6,331.6 282.8,331.4 286,331.2 289.2,331 292.4,330.8 295.6,330.6 298.8,330.4 302,330.3 305.2,330.1 308.4,330 311.6,329.8 314.8,329.7 318,329.6 321.2,329.4 324.4,329.3 327.6,329.2 330.8,329.1 334,329 337.2,328.9 340.4,328.8 343.6,328.7 346.8,328.6 350,328.6 353.2,328.5 356.4,328.4 359.6,328.4 362.8,328.3 366,328.3 369.2,328.3 372.4,328.2 375.6,328.2 378.8,328.2 382,328.1 385.2,328.1 388.4,328.1 391.6,328.1 394.8,328.1 398,328.1 398.1,328.1" stroke="#000000"/><polyline points="254,372.4 257.2,370.5 260.4,368.7 263.6,367 266.8,365.3 270,363.6 273.2,362 276.4,360.4 279.6,358.9 282.8,357.4 286,356 289.2,354.6 292.4,353.2 295.6,351.9 298.8,350.6 302,349.3 305.2,348.1 308.4,347 311.6,345.8 314.8,344.8 318,343.7 321.2,342.7 324.4,341.7 327.6,340.8 330.8,339.9 334,339 337.2,338.2 340.4,337.4 343.6,336.7 346.8,335.9 350,335.3 353.2,334.6 356.4,334 359.6,333.4 362.8,332.9 366,332.4 369.2,331.9 372.4,331.4 375.6,331 378.8,330.6 382,330.3 385.2,330 388.4,329.7 391.6,329.4 394.8,329.2 398,328.9 401.2,328.8 404.4,328.6 407.6,328.5 410.8,328.3 414,328.3 417.2,328.2 420.4,328.1 423.6,328.1 426.8,328.1 428.9,328.1" stroke="#DF536B"/><polyline points="254,320 257.2,320.4 260.4,320.7 263.6,321.1 266.8,321.4 270,321.7 273.2,322.1 276.4,322.4 279.6,322.7 282.8,322.9 286,323.2 289.2,323.5 292.4,323.8 295.6,324 298.8,324.3 302,324.5 305.2,324.7 308.4,325 311.6,325.2 314.8,325.4 318,325.6 321.2,325.8 324.4,325.9 327.6,326.1 330.8,326.3 334,326.4 337.2,326.6 340.4,326.7 343.6,326.9 346.8,327 350,327.1 353.2,327.2 356.4,327.3 359.6,327.4 362.8,327.5 366,327.6 369.2,327.7 372.4,327.7 375.6,327.8 378.8,327.8 382,327.9 385.2,327.9 388.4,328 391.6,328 394.8,328 398,328.1 401.2,328.1 404.4,328.1 407.6,328.1 410.8,328.1 412.6,328.1" stroke="#61D04F"/><polyline points="254,329.6 257.2,329.5 260.4,329.4 263.6,329.3 266.8,329.2 270,329.1 273.2,329 276.4,329 279.6,328.9 282.8,328.8 286,328.7 289.2,328.7 292.4,328.6 295.6,328.6 298.8,328.5 302,328.5 305.2,328.4 308.4,328.4 311.6,328.3 314.8,328.3 318,328.3 321.2,328.2 324.4,328.2 327.6,328.2 330.8,328.2 334,328.2 337.2,328.2 340.4,328.1 343.6,328.1 346.8,328.1 350,328.1 353.2,328.1 356.4,328.1 359.6,328.1 362.8,328.1 366,328.1 369.2,328.1 371.2,328.1" stroke="#2297E6"/><polyline points="254,340.4 257.2,339.8 260.4,339.3 263.6,338.7 266.8,338.2 270,337.7 273.2,337.2 276.4,336.7 279.6,336.2 282.8,335.7 286,335.3 289.2,334.9 292.4,334.5 295.6,334.1 298.8,333.7 302,333.3 305.2,333 308.4,332.7 311.6,332.4 314.8,332.1 318,331.8 321.2,331.5 324.4,331.2 327.6,331 330.8,330.7 334,330.5 337.2,330.3 340.4,330.1 343.6,329.9 346.8,329.7 350,329.6 353.2,329.4 356.4,329.3 359.6,329.1 362.8,329 366,328.9 369.2,328.8 372.4,328.7 375.6,328.6 378.8,328.5 382,328.4 385.2,328.4 388.4,328.3 391.6,328.3 394.8,328.2 398,328.2 401.2,328.2 404.4,328.2 407.6,328.1 410.8,328.1 414,328.1 417.2,328.1 420.4,328.1 423.6,328.1 425.7,328.1" stroke="#28E2E5"/><polyline points="254,287.2 257.2,289.2 260.4,291.1 263.6,292.9 266.8,294.7 270,296.4 273.2,298.1 276.4,299.8 279.6,301.3 282.8,302.9 286,304.4 289.2,305.8 292.4,307.2 295.6,308.5 298.8,309.8 302,311 305.2,312.2 308.4,313.4 311.6,314.4 314.8,315.5 318,316.5 321.2,317.4 324.4,318.3 327.6,319.2 330.8,320 334,320.8 337.2,321.5 340.4,322.2 343.6,322.8 346.8,323.5 350,324 353.2,324.5 356.4,325 359.6,325.5 362.8,325.9 366,326.2 369.2,326.6 372.4,326.9 375.6,327.1 378.8,327.3 382,327.5 385.2,327.7 388.4,327.8 391.6,327.9 394.8,328 398,328.1 401.2,328.1 404.4,328.1 405.5,328.1" stroke="#CD0BBC"/><polyline points="254,338.3 257.2,337.9 260.4,337.5 263.6,337 266.8,336.6 270,336.2 273.2,335.8 276.4,335.5 279.6,335.1 282.8,334.7 286,334.4 289.2,334 292.4,333.7 295.6,333.4 298.8,333.1 302,332.8 305.2,332.5 308.4,332.2 311.6,332 314.8,331.7 318,331.5 321.2,331.2 324.4,331 327.6,330.8 330.8,330.6 334,330.4 337.2,330.2 340.4,330 343.6,329.8 346.8,329.7 350,329.5 353.2,329.4 356.4,329.2 359.6,329.1 362.8,329 366,328.9 369.2,328.8 372.4,328.7 375.6,328.6 378.8,328.5 382,328.4 385.2,328.4 388.4,328.3 391.6,328.3 394.8,328.2 398,328.2 401.2,328.2 404.4,328.1 407.6,328.1 410.8,328.1 414,328.1 417.2,328.1 417.6,328.1" stroke="#F5C710"/><polyline points="254,292.1 257.2,294.2 260.4,296.3 263.6,298.3 266.8,300.3 270,302.1 273.2,303.9 276.4,305.6 279.6,307.3 282.8,308.8 286,310.4 289.2,311.8 292.4,313.2 295.6,314.5 298.8,315.7 302,316.9 305.2,318 308.4,319 311.6,320 314.8,320.9 318,321.8 321.2,322.6 324.4,323.3 327.6,324 330.8,324.6 334,325.2 337.2,325.7 340.4,326.1 343.6,326.5 346.8,326.9 350,327.2 353.2,327.4 356.4,327.6 359.6,327.8 362.8,327.9 366,328 369.2,328.1 372.4,328.1 374.2,328.1" stroke="#9E9E9E"/><polyline points="254,317.9 257.2,318.4 260.4,319 263.6,319.5 266.8,319.9 270,320.4 273.2,320.9 276.4,321.3 279.6,321.7 282.8,322.1 286,322.5 289.2,322.9 292.4,323.2 295.6,323.6 298.8,323.9 302,324.2 305.2,324.5 308.4,324.8 311.6,325.1 314.8,325.3 318,325.6 321.2,325.8 324.4,326 327.6,326.2 330.8,326.4 334,326.6 337.2,326.8 340.4,326.9 343.6,327.1 346.8,327.2 350,327.3 353.2,327.4 356.4,327.5 359.6,327.6 362.8,327.7 366,327.8 369.2,327.9 372.4,327.9 375.6,328 378.8,328 382,328 385.2,328.1 388.4,328.1 391.6,328.1 394.8,328.1 398,328.1 401.2,328.1 402.4,328.1" stroke="#000000"/><polyline points="254,322.3 257.2,322.6 260.4,322.9 263.6,323.2 266.8,323.5 270,323.7 273.2,324 276.4,324.3 279.6,324.5 282.8,324.7 286,325 289.2,325.2 292.4,325.4 295.6,325.6 298.8,325.8 302,326 305.2,326.1 308.4,326.3 311.6,326.5 314.8,326.6 318,326.8 321.2,326.9 324.4,327 327.6,327.1 330.8,327.2 334,327.3 337.2,327.4 340.4,327.5 343.6,327.6 346.8,327.7 350,327.7 353.2,327.8 356.4,327.9 359.6,327.9 362.8,327.9 366,328 369.2,328 372.4,328 375.6,328.1 378.8,328.1 382,328.1 385.2,328.1 388.4,328.1 391.6,328.1 394,328.1" stroke="#DF536B"/><polyline points="254,330.7 257.2,330.5 260.4,330.4 263.6,330.2 266.8,330.1 270,330 273.2,329.8 276.4,329.7 279.6,329.6 282.8,329.5 286,329.4 289.2,329.3 292.4,329.2 295.6,329.1 298.8,329 302,328.9 305.2,328.8 308.4,328.8 311.6,328.7 314.8,328.6 318,328.6 321.2,328.5 324.4,328.5 327.6,328.4 330.8,328.4 334,328.3 337.2,328.3 340.4,328.3 343.6,328.3 346.8,328.2 350,328.2 353.2,328.2 356.4,328.2 359.6,328.2 362.8,328.1 366,328.1 369.2,328.1 372.4,328.1 375.6,328.1 378.8,328.1 382,328.1 385.2,328.1 388.4,328.1 391.6,328.1 391.8,328.1" stroke="#61D04F"/><polyline points="254,327.9 257.2,327.9 260.4,327.9 263.6,327.9 266.8,327.9 270,328 273.2,328 276.4,328 279.6,328 282.8,328 286,328 289.2,328 292.4,328 295.6,328 298.8,328 302,328 305.2,328 308.4,328 311.6,328.1 314.8,328.1 318,328.1 321.2,328.1 324.4,328.1 327.6,328.1 330.8,328.1 334,328.1 337.2,328.1 340.4,328.1 343.6,328.1 346.8,328.1 350,328.1 353.2,328.1 356.4,328.1 359.6,328.1 362.8,328.1 366,328.1 369.2,328.1 372.4,328.1 375.6,328.1 378.8,328.1 382,328.1 385.2,328.1 388.4,328.1 389,328.1" stroke="#2297E6"/><polyline points="254,326 257.2,326.1 260.4,326.2 263.6,326.3 266.8,326.4 270,326.5 273.2,326.6 276.4,326.6 279.6,326.7 282.8,326.8 286,326.9 289.2,326.9 292.4,327 295.6,327.1 298.8,327.1 302,327.2 305.2,327.2 308.4,327.3 311.6,327.3 314.8,327.4 318,327.4 321.2,327.5 324.4,327.5 327.6,327.6 330.8,327.6 334,327.7 337.2,327.7 340.4,327.7 343.6,327.8 346.8,327.8 350,327.8 353.2,327.9 356.4,327.9 359.6,327.9 362.8,327.9 366,327.9 369.2,328 372.4,328 375.6,328 378.8,328 382,328 385.2,328 388.4,328.1 391.6,328.1 394.8,328.1 398,328.1 401.2,328.1 404.4,328.1 407.6,328.1 410.8,328.1 414,328.1 417.2,328.1 420.4,328.1 423.6,328.1 426.8,328.1 427.5,328.1" stroke="#28E2E5"/><polyline points="254,334.5 257.2,334.2 260.4,333.9 263.6,333.7 266.8,333.4 270,333.1 273.2,332.9 276.4,332.7 279.6,332.4 282.8,332.2 286,332 289.2,331.8 292.4,331.6 295.6,331.4 298.8,331.2 302,331 305.2,330.8 308.4,330.7 311.6,330.5 314.8,330.3 318,330.2 321.2,330 324.4,329.9 327.6,329.8 330.8,329.6 334,329.5 337.2,329.4 340.4,329.3 343.6,329.2 346.8,329.1 350,329 353.2,328.9 356.4,328.8 359.6,328.8 362.8,328.7 366,328.6 369.2,328.6 372.4,328.5 375.6,328.4 378.8,328.4 382,328.3 385.2,328.3 388.4,328.3 391.6,328.2 394.8,328.2 398,328.2 401.2,328.2 404.4,328.1 407.6,328.1 410.8,328.1 414,328.1 417.2,328.1 420.4,328.1 423.6,328.1 426.8,328.1 427.8,328.1" stroke="#CD0BBC"/><polyline points="254,324.2 257.2,324.4 260.4,324.5 263.6,324.7 266.8,324.9 270,325 273.2,325.2 276.4,325.3 279.6,325.5 282.8,325.6 286,325.7 289.2,325.9 292.4,326 295.6,326.1 298.8,326.2 302,326.3 305.2,326.5 308.4,326.6 311.6,326.7 314.8,326.8 318,326.9 321.2,326.9 324.4,327 327.6,327.1 330.8,327.2 334,327.3 337.2,327.3 340.4,327.4 343.6,327.5 346.8,327.5 350,327.6 353.2,327.6 356.4,327.7 359.6,327.7 362.8,327.8 366,327.8 369.2,327.9 372.4,327.9 375.6,327.9 378.8,328 382,328 385.2,328 388.4,328 391.6,328 394.8,328.1 398,328.1 401.2,328.1 404.4,328.1 407.6,328.1 410.8,328.1 414,328.1 417.2,328.1 420.4,328.1 421.4,328.1" stroke="#F5C710"/><polyline points="254,323.3 257.2,323.6 260.4,323.9 263.6,324.2 266.8,324.5 270,324.7 273.2,325 276.4,325.2 279.6,325.4 282.8,325.6 286,325.8 289.2,326 292.4,326.2 295.6,326.4 298.8,326.5 302,326.7 305.2,326.8 308.4,327 311.6,327.1 314.8,327.2 318,327.3 321.2,327.4 324.4,327.5 327.6,327.6 330.8,327.6 334,327.7 337.2,327.8 340.4,327.8 343.6,327.9 346.8,327.9 350,327.9 353.2,328 356.4,328 359.6,328 362.8,328 366,328.1 369.2,328.1 372.4,328.1 375.6,328.1 378.8,328.1 382,328.1 385.2,328.1 388.4,328.1 389,328.1" stroke="#9E9E9E"/><polyline points="254,319.2 257.2,319.7 260.4,320.1 263.6,320.6 266.8,321 270,321.4 273.2,321.8 276.4,322.2 279.6,322.6 282.8,322.9 286,323.3 289.2,323.6 292.4,323.9 295.6,324.2 298.8,324.5 302,324.8 305.2,325 308.4,325.3 311.6,325.5 314.8,325.7 318,325.9 321.2,326.1 324.4,326.3 327.6,326.5 330.8,326.6 334,326.8 337.2,326.9 340.4,327.1 343.6,327.2 346.8,327.3 350,327.4 353.2,327.5 356.4,327.6 359.6,327.7 362.8,327.7 366,327.8 369.2,327.9 372.4,327.9 375.6,328 378.8,328 382,328 385.2,328 388.4,328.1 391.6,328.1 394.8,328.1 398,328.1 401.2,328.1 404.4,328.1 407.5,328.1" stroke="#000000"/><polyline points="254,351.6 257.2,349.8 260.4,348.1 263.6,346.6 266.8,345.1 270,343.6 273.2,342.3 276.4,341 279.6,339.8 282.8,338.7 286,337.6 289.2,336.7 292.4,335.7 295.6,334.9 298.8,334.1 302,333.4 305.2,332.7 308.4,332.1 311.6,331.5 314.8,331 318,330.6 321.2,330.1 324.4,329.8 327.6,329.5 330.8,329.2 334,328.9 337.2,328.7 340.4,328.6 343.6,328.4 346.8,328.3 350,328.2 353.2,328.2 356.4,328.1 359.6,328.1 362.8,328.1 366,328.1 366.7,328.1" stroke="#DF536B"/><polyline points="254,323.7 257.2,323.9 260.4,324.2 263.6,324.4 266.8,324.6 270,324.8 273.2,325 276.4,325.1 279.6,325.3 282.8,325.5 286,325.7 289.2,325.8 292.4,326 295.6,326.1 298.8,326.3 302,326.4 305.2,326.5 308.4,326.7 311.6,326.8 314.8,326.9 318,327 321.2,327.1 324.4,327.2 327.6,327.3 330.8,327.4 334,327.5 337.2,327.6 340.4,327.6 343.6,327.7 346.8,327.8 350,327.8 353.2,327.9 356.4,327.9 359.6,327.9 362.8,328 366,328 369.2,328 372.4,328.1 375.6,328.1 378.8,328.1 382,328.1 385.2,328.1 388.4,328.1 388.8,328.1" stroke="#61D04F"/><polyline points="254,329.6 257.2,329.4 260.4,329.3 263.6,329.3 266.8,329.2 270,329.1 273.2,329 276.4,328.9 279.6,328.9 282.8,328.8 286,328.7 289.2,328.7 292.4,328.6 295.6,328.5 298.8,328.5 302,328.5 305.2,328.4 308.4,328.4 311.6,328.3 314.8,328.3 318,328.3 321.2,328.2 324.4,328.2 327.6,328.2 330.8,328.2 334,328.2 337.2,328.2 340.4,328.1 343.6,328.1 346.8,328.1 350,328.1 353.2,328.1 356.4,328.1 359.6,328.1 362.8,328.1 366,328.1 369.2,328.1 369.7,328.1" stroke="#2297E6"/><polyline points="254,332.5 257.2,332.3 260.4,332.1 263.6,331.9 266.8,331.7 270,331.5 273.2,331.3 276.4,331.2 279.6,331 282.8,330.8 286,330.7 289.2,330.5 292.4,330.4 295.6,330.3 298.8,330.1 302,330 305.2,329.9 308.4,329.8 311.6,329.6 314.8,329.5 318,329.4 321.2,329.3 324.4,329.2 327.6,329.2 330.8,329.1 334,329 337.2,328.9 340.4,328.8 343.6,328.8 346.8,328.7 350,328.7 353.2,328.6 356.4,328.5 359.6,328.5 362.8,328.4 366,328.4 369.2,328.4 372.4,328.3 375.6,328.3 378.8,328.3 382,328.2 385.2,328.2 388.4,328.2 391.6,328.2 394.8,328.2 398,328.2 401.2,328.1 404.4,328.1 407.6,328.1 410.8,328.1 414,328.1 417.2,328.1 420.4,328.1 423.6,328.1 426.8,328.1 430,328.1 430.3,328.1" stroke="#28E2E5"/><polyline points="254,311 257.2,311.9 260.4,312.8 263.6,313.6 266.8,314.4 270,315.1 273.2,315.9 276.4,316.6 279.6,317.3 282.8,317.9 286,318.6 289.2,319.2 292.4,319.7 295.6,320.3 298.8,320.8 302,321.3 305.2,321.8 308.4,322.3 311.6,322.7 314.8,323.2 318,323.6 321.2,323.9 324.4,324.3 327.6,324.6 330.8,325 334,325.3 337.2,325.5 340.4,325.8 343.6,326.1 346.8,326.3 350,326.5 353.2,326.7 356.4,326.9 359.6,327 362.8,327.2 366,327.3 369.2,327.5 372.4,327.6 375.6,327.7 378.8,327.7 382,327.8 385.2,327.9 388.4,327.9 391.6,328 394.8,328 398,328 401.2,328.1 404.4,328.1 407.6,328.1 410.8,328.1 414,328.1 415.7,328.1" stroke="#CD0BBC"/><polyline points="254,320.4 257.2,321 260.4,321.5 263.6,322.1 266.8,322.6 270,323.1 273.2,323.5 276.4,323.9 279.6,324.3 282.8,324.7 286,325.1 289.2,325.4 292.4,325.7 295.6,326 298.8,326.2 302,326.5 305.2,326.7 308.4,326.9 311.6,327.1 314.8,327.2 318,327.4 321.2,327.5 324.4,327.6 327.6,327.7 330.8,327.8 334,327.9 337.2,327.9 340.4,328 343.6,328 346.8,328.1 350,328.1 353.2,328.1 356.4,328.1 359.6,328.1 362.8,328.1 364.2,328.1" stroke="#F5C710"/><polyline points="254,339.7 257.2,339.1 260.4,338.6 263.6,338 266.8,337.5 270,337 273.2,336.5 276.4,336 279.6,335.6 282.8,335.1 286,334.7 289.2,334.3 292.4,333.9 295.6,333.6 298.8,333.2 302,332.9 305.2,332.5 308.4,332.2 311.6,331.9 314.8,331.6 318,331.4 321.2,331.1 324.4,330.9 327.6,330.6 330.8,330.4 334,330.2 337.2,330 340.4,329.8 343.6,329.6 346.8,329.5 350,329.3 353.2,329.2 356.4,329.1 359.6,329 362.8,328.8 366,328.7 369.2,328.7 372.4,328.6 375.6,328.5 378.8,328.4 382,328.4 385.2,328.3 388.4,328.3 391.6,328.2 394.8,328.2 398,328.2 401.2,328.2 404.4,328.1 407.6,328.1 410.8,328.1 414,328.1 417.2,328.1 420.4,328.1 423.6,328.1 424.2,328.1" stroke="#9E9E9E"/><polyline points="254,314.9 257.2,315.5 260.4,316 263.6,316.6 266.8,317.1 270,317.6 273.2,318.1 276.4,318.6 279.6,319.1 282.8,319.6 286,320 289.2,320.4 292.4,320.9 295.6,321.3 298.8,321.7 302,322 305.2,322.4 308.4,322.7 311.6,323.1 314.8,323.4 318,323.7 321.2,324 324.4,324.3 327.6,324.6 330.8,324.9 334,325.1 337.2,325.4 340.4,325.6 343.6,325.8 346.8,326 350,326.2 353.2,326.4 356.4,326.6 359.6,326.7 362.8,326.9 366,327 369.2,327.2 372.4,327.3 375.6,327.4 378.8,327.5 382,327.6 385.2,327.7 388.4,327.7 391.6,327.8 394.8,327.9 398,327.9 401.2,328 404.4,328 407.6,328 410.8,328.1 414,328.1 417.2,328.1 420.4,328.1 423.6,328.1 425.2,328.1" stroke="#000000"/><polyline points="254,347.4 257.2,346.3 260.4,345.2 263.6,344.1 266.8,343.1 270,342.1 273.2,341.1 276.4,340.2 279.6,339.4 282.8,338.5 286,337.7 289.2,336.9 292.4,336.2 295.6,335.5 298.8,334.9 302,334.2 305.2,333.7 308.4,333.1 311.6,332.6 314.8,332.1 318,331.6 321.2,331.2 324.4,330.8 327.6,330.4 330.8,330.1 334,329.8 337.2,329.5 340.4,329.3 343.6,329.1 346.8,328.9 350,328.7 353.2,328.5 356.4,328.4 359.6,328.3 362.8,328.2 366,328.2 369.2,328.1 372.4,328.1 375.6,328.1 377.8,328.1" stroke="#DF536B"/><polyline points="254,306.4 257.2,307.3 260.4,308.3 263.6,309.2 266.8,310 270,310.9 273.2,311.7 276.4,312.5 279.6,313.3 282.8,314.1 286,314.8 289.2,315.5 292.4,316.2 295.6,316.9 298.8,317.5 302,318.1 305.2,318.7 308.4,319.3 311.6,319.9 314.8,320.4 318,320.9 321.2,321.4 324.4,321.9 327.6,322.4 330.8,322.8 334,323.2 337.2,323.6 340.4,324 343.6,324.4 346.8,324.7 350,325 353.2,325.3 356.4,325.6 359.6,325.9 362.8,326.1 366,326.4 369.2,326.6 372.4,326.8 375.6,327 378.8,327.2 382,327.3 385.2,327.4 388.4,327.6 391.6,327.7 394.8,327.8 398,327.8 401.2,327.9 404.4,328 407.6,328 410.8,328.1 414,328.1 417.2,328.1 420.4,328.1 423,328.1" stroke="#61D04F"/><polyline points="254,330.7 257.2,330.6 260.4,330.5 263.6,330.4 266.8,330.3 270,330.2 273.2,330.1 276.4,330 279.6,329.9 282.8,329.8 286,329.7 289.2,329.7 292.4,329.6 295.6,329.5 298.8,329.4 302,329.3 305.2,329.3 308.4,329.2 311.6,329.1 314.8,329.1 318,329 321.2,328.9 324.4,328.9 327.6,328.8 330.8,328.8 334,328.7 337.2,328.7 340.4,328.6 343.6,328.6 346.8,328.5 350,328.5 353.2,328.4 356.4,328.4 359.6,328.4 362.8,328.3 366,328.3 369.2,328.3 372.4,328.3 375.6,328.2 378.8,328.2 382,328.2 385.2,328.2 388.4,328.2 391.6,328.1 394.8,328.1 398,328.1 401.2,328.1 404.4,328.1 407.6,328.1 410.8,328.1 414,328.1 415.6,328.1" stroke="#2297E6"/><polyline points="254,340.7 257.2,340.1 260.4,339.5 263.6,338.9 266.8,338.3 270,337.8 273.2,337.3 276.4,336.8 279.6,336.3 282.8,335.8 286,335.4 289.2,334.9 292.4,334.5 295.6,334.1 298.8,333.7 302,333.4 305.2,333 308.4,332.7 311.6,332.3 314.8,332 318,331.7 321.2,331.5 324.4,331.2 327.6,330.9 330.8,330.7 334,330.5 337.2,330.3 340.4,330.1 343.6,329.9 346.8,329.7 350,329.5 353.2,329.4 356.4,329.2 359.6,329.1 362.8,329 366,328.9 369.2,328.8 372.4,328.7 375.6,328.6 378.8,328.5 382,328.4 385.2,328.4 388.4,328.3 391.6,328.3 394.8,328.2 398,328.2 401.2,328.2 404.4,328.1 407.6,328.1 410.8,328.1 414,328.1 417.2,328.1 420.4,328.1 423.6,328.1 425.4,328.1" stroke="#28E2E5"/><polyline points="254,331 257.2,330.8 260.4,330.6 263.6,330.4 266.8,330.2 270,330.1 273.2,329.9 276.4,329.7 279.6,329.6 282.8,329.5 286,329.3 289.2,329.2 292.4,329.1 295.6,329 298.8,328.9 302,328.8 305.2,328.7 308.4,328.7 311.6,328.6 314.8,328.5 318,328.5 321.2,328.4 324.4,328.4 327.6,328.3 330.8,328.3 334,328.2 337.2,328.2 340.4,328.2 343.6,328.2 346.8,328.1 350,328.1 353.2,328.1 356.4,328.1 359.6,328.1 362.8,328.1 366,328.1 369.2,328.1 369.4,328.1" stroke="#CD0BBC"/><polyline points="254,315.2 257.2,315.9 260.4,316.5 263.6,317.1 266.8,317.7 270,318.3 273.2,318.8 276.4,319.4 279.6,319.9 282.8,320.4 286,320.9 289.2,321.3 292.4,321.8 295.6,322.2 298.8,322.6 302,323 305.2,323.4 308.4,323.7 311.6,324.1 314.8,324.4 318,324.7 321.2,325 324.4,325.3 327.6,325.5 330.8,325.8 334,326 337.2,326.2 340.4,326.5 343.6,326.6 346.8,326.8 350,327 353.2,327.1 356.4,327.3 359.6,327.4 362.8,327.5 366,327.6 369.2,327.7 372.4,327.8 375.6,327.9 378.8,327.9 382,328 385.2,328 388.4,328 391.6,328.1 394.8,328.1 398,328.1 401.2,328.1 404.4,328.1 404.6,328.1" stroke="#F5C710"/><polyline points="254,330.6 257.2,330.4 260.4,330.3 263.6,330.1 266.8,329.9 270,329.8 273.2,329.7 276.4,329.5 279.6,329.4 282.8,329.3 286,329.2 289.2,329.1 292.4,329 295.6,328.9 298.8,328.8 302,328.7 305.2,328.6 308.4,328.6 311.6,328.5 314.8,328.4 318,328.4 321.2,328.3 324.4,328.3 327.6,328.3 330.8,328.2 334,328.2 337.2,328.2 340.4,328.2 343.6,328.1 346.8,328.1 350,328.1 353.2,328.1 356.4,328.1 359.6,328.1 362.8,328.1 363.8,328.1" stroke="#9E9E9E"/><polyline points="254,339.8 257.2,339.1 260.4,338.5 263.6,337.8 266.8,337.2 270,336.7 273.2,336.1 276.4,335.5 279.6,335 282.8,334.5 286,334 289.2,333.6 292.4,333.1 295.6,332.7 298.8,332.3 302,331.9 305.2,331.6 308.4,331.2 311.6,330.9 314.8,330.6 318,330.3 321.2,330 324.4,329.8 327.6,329.5 330.8,329.3 334,329.1 337.2,329 340.4,328.8 343.6,328.7 346.8,328.5 350,328.4 353.2,328.3 356.4,328.3 359.6,328.2 362.8,328.2 366,328.1 369.2,328.1 372.4,328.1 372.8,328.1" stroke="#000000"/><polyline points="254,333 257.2,332.8 260.4,332.6 263.6,332.4 266.8,332.2 270,332.1 273.2,331.9 276.4,331.7 279.6,331.6 282.8,331.4 286,331.3 289.2,331.1 292.4,331 295.6,330.8 298.8,330.7 302,330.5 305.2,330.4 308.4,330.3 311.6,330.2 314.8,330 318,329.9 321.2,329.8 324.4,329.7 327.6,329.6 330.8,329.5 334,329.4 337.2,329.3 340.4,329.2 343.6,329.1 346.8,329 350,329 353.2,328.9 356.4,328.8 359.6,328.7 362.8,328.7 366,328.6 369.2,328.6 372.4,328.5 375.6,328.5 378.8,328.4 382,328.4 385.2,328.3 388.4,328.3 391.6,328.3 394.8,328.2 398,328.2 401.2,328.2 404.4,328.2 407.6,328.1 410.8,328.1 414,328.1 417.2,328.1 420.4,328.1 423.6,328.1 426,328.1" stroke="#DF536B"/><polyline points="254,339 257.2,338.4 260.4,337.7 263.6,337.1 266.8,336.5 270,335.9 273.2,335.3 276.4,334.8 279.6,334.3 282.8,333.8 286,333.3 289.2,332.9 292.4,332.4 295.6,332 298.8,331.7 302,331.3 305.2,331 308.4,330.6 311.6,330.4 314.8,330.1 318,329.8 321.2,329.6 324.4,329.4 327.6,329.2 330.8,329 334,328.8 337.2,328.7 340.4,328.6 343.6,328.5 346.8,328.4 350,328.3 353.2,328.2 356.4,328.2 359.6,328.1 362.8,328.1 366,328.1 369.2,328.1 369.2,328.1" stroke="#61D04F"/><polyline points="254,332.6 257.2,332.4 260.4,332.2 263.6,332 266.8,331.7 270,331.5 273.2,331.3 276.4,331.2 279.6,331 282.8,330.8 286,330.6 289.2,330.5 292.4,330.3 295.6,330.2 298.8,330 302,329.9 305.2,329.7 308.4,329.6 311.6,329.5 314.8,329.4 318,329.3 321.2,329.2 324.4,329.1 327.6,329 330.8,328.9 334,328.8 337.2,328.7 340.4,328.7 343.6,328.6 346.8,328.5 350,328.5 353.2,328.4 356.4,328.4 359.6,328.3 362.8,328.3 366,328.3 369.2,328.2 372.4,328.2 375.6,328.2 378.8,328.2 382,328.1 385.2,328.1 388.4,328.1 391.6,328.1 394.8,328.1 398,328.1 401.2,328.1 404.3,328.1" stroke="#2297E6"/><polyline points="254,330.6 257.2,330.5 260.4,330.3 263.6,330.2 266.8,330.1 270,330 273.2,329.9 276.4,329.8 279.6,329.7 282.8,329.6 286,329.6 289.2,329.5 292.4,329.4 295.6,329.3 298.8,329.2 302,329.2 305.2,329.1 308.4,329 311.6,329 314.8,328.9 318,328.8 321.2,328.8 324.4,328.7 327.6,328.7 330.8,328.6 334,328.6 337.2,328.5 340.4,328.5 343.6,328.5 346.8,328.4 350,328.4 353.2,328.4 356.4,328.3 359.6,328.3 362.8,328.3 366,328.3 369.2,328.2 372.4,328.2 375.6,328.2 378.8,328.2 382,328.2 385.2,328.2 388.4,328.1 391.6,328.1 394.8,328.1 398,328.1 401.2,328.1 404.4,328.1 407.6,328.1 410.8,328.1 414,328.1 417.2,328.1 420.4,328.1 423.6,328.1 424.1,328.1" stroke="#28E2E5"/><polyline points="254,315.9 257.2,316.7 260.4,317.6 263.6,318.4 266.8,319.2 270,319.9 273.2,320.6 276.4,321.2 279.6,321.9 282.8,322.4 286,323 289.2,323.5 292.4,324 295.6,324.4 298.8,324.9 302,325.2 305.2,325.6 308.4,325.9 311.6,326.2 314.8,326.5 318,326.7 321.2,327 324.4,327.2 327.6,327.3 330.8,327.5 334,327.6 337.2,327.7 340.4,327.8 343.6,327.9 346.8,328 350,328 353.2,328.1 356.4,328.1 359.6,328.1 362.8,328.1 366,328.1" stroke="#CD0BBC"/><polyline points="254,318.7 257.2,319.2 260.4,319.7 263.6,320.1 266.8,320.6 270,321 273.2,321.4 276.4,321.8 279.6,322.2 282.8,322.6 286,322.9 289.2,323.3 292.4,323.6 295.6,323.9 298.8,324.2 302,324.5 305.2,324.8 308.4,325.1 311.6,325.3 314.8,325.6 318,325.8 321.2,326 324.4,326.2 327.6,326.4 330.8,326.6 334,326.7 337.2,326.9 340.4,327 343.6,327.2 346.8,327.3 350,327.4 353.2,327.5 356.4,327.6 359.6,327.7 362.8,327.8 366,327.8 369.2,327.9 372.4,327.9 375.6,328 378.8,328 382,328 385.2,328.1 388.4,328.1 391.6,328.1 394.8,328.1 398,328.1 399.1,328.1" stroke="#F5C710"/><polyline points="254,349.5 257.2,348.2 260.4,346.9 263.6,345.6 266.8,344.4 270,343.3 273.2,342.1 276.4,341.1 279.6,340 282.8,339.1 286,338.1 289.2,337.2 292.4,336.4 295.6,335.6 298.8,334.8 302,334.1 305.2,333.4 308.4,332.8 311.6,332.2 314.8,331.7 318,331.2 321.2,330.7 324.4,330.3 327.6,329.9 330.8,329.5 334,329.2 337.2,329 340.4,328.7 343.6,328.5 346.8,328.4 350,328.3 353.2,328.2 356.4,328.1 359.6,328.1 361.4,328.1" stroke="#9E9E9E"/><polyline points="254,322.7 257.2,323 260.4,323.4 263.6,323.7 266.8,324 270,324.3 273.2,324.6 276.4,324.9 279.6,325.2 282.8,325.4 286,325.6 289.2,325.9 292.4,326.1 295.6,326.3 298.8,326.4 302,326.6 305.2,326.8 308.4,326.9 311.6,327.1 314.8,327.2 318,327.3 321.2,327.4 324.4,327.5 327.6,327.6 330.8,327.7 334,327.8 337.2,327.8 340.4,327.9 343.6,327.9 346.8,328 350,328 353.2,328 356.4,328.1 359.6,328.1 362.8,328.1 366,328.1 369.2,328.1 372.4,328.1 373.9,328.1" stroke="#000000"/><polyline points="254,304.6 257.2,305.7 260.4,306.7 263.6,307.7 266.8,308.7 270,309.7 273.2,310.6 276.4,311.5 279.6,312.4 282.8,313.3 286,314.1 289.2,314.9 292.4,315.6 295.6,316.4 298.8,317.1 302,317.8 305.2,318.5 308.4,319.1 311.6,319.7 314.8,320.3 318,320.9 321.2,321.4 324.4,321.9 327.6,322.4 330.8,322.9 334,323.3 337.2,323.8 340.4,324.2 343.6,324.5 346.8,324.9 350,325.2 353.2,325.6 356.4,325.8 359.6,326.1 362.8,326.4 366,326.6 369.2,326.8 372.4,327 375.6,327.2 378.8,327.4 382,327.5 385.2,327.6 388.4,327.7 391.6,327.8 394.8,327.9 398,328 401.2,328 404.4,328 407.6,328.1 410.8,328.1 414,328.1 416.3,328.1" stroke="#DF536B"/><polyline points="254,327.7 257.2,327.7 260.4,327.7 263.6,327.8 266.8,327.8 270,327.8 273.2,327.8 276.4,327.8 279.6,327.9 282.8,327.9 286,327.9 289.2,327.9 292.4,327.9 295.6,328 298.8,328 302,328 305.2,328 308.4,328 311.6,328 314.8,328 318,328 321.2,328.1 324.4,328.1 327.6,328.1 330.8,328.1 334,328.1 337.2,328.1 340.4,328.1 343.6,328.1 346.8,328.1 350,328.1 353.2,328.1 356.4,328.1 359.6,328.1 362.7,328.1" stroke="#61D04F"/><polyline points="254,330.4 257.2,330.3 260.4,330.1 263.6,330 266.8,329.9 270,329.8 273.2,329.6 276.4,329.5 279.6,329.4 282.8,329.3 286,329.2 289.2,329.1 292.4,329.1 295.6,329 298.8,328.9 302,328.8 305.2,328.8 308.4,328.7 311.6,328.6 314.8,328.6 318,328.5 321.2,328.5 324.4,328.4 327.6,328.4 330.8,328.4 334,328.3 337.2,328.3 340.4,328.3 343.6,328.2 346.8,328.2 350,328.2 353.2,328.2 356.4,328.2 359.6,328.2 362.8,328.1 366,328.1 369.2,328.1 372.4,328.1 375.6,328.1 378.8,328.1 382,328.1 385.2,328.1 388.4,328.1 391.6,328.1 394.8,328.1 395.6,328.1" stroke="#2297E6"/><polyline points="254,331.8 257.2,331.7 260.4,331.5 263.6,331.4 266.8,331.2 270,331.1 273.2,331 276.4,330.8 279.6,330.7 282.8,330.6 286,330.5 289.2,330.3 292.4,330.2 295.6,330.1 298.8,330 302,329.9 305.2,329.8 308.4,329.7 311.6,329.6 314.8,329.5 318,329.4 321.2,329.3 324.4,329.3 327.6,329.2 330.8,329.1 334,329 337.2,329 340.4,328.9 343.6,328.8 346.8,328.8 350,328.7 353.2,328.7 356.4,328.6 359.6,328.6 362.8,328.5 366,328.5 369.2,328.4 372.4,328.4 375.6,328.4 378.8,328.3 382,328.3 385.2,328.3 388.4,328.2 391.6,328.2 394.8,328.2 398,328.2 401.2,328.2 404.4,328.1 407.6,328.1 410.8,328.1 414,328.1 417.2,328.1 420.4,328.1 423.6,328.1 426.8,328.1 429.4,328.1" stroke="#28E2E5"/><polyline points="254,337 257.2,336.5 260.4,336 263.6,335.5 266.8,335.1 270,334.6 273.2,334.2 276.4,333.8 279.6,333.4 282.8,333 286,332.7 289.2,332.3 292.4,332 295.6,331.7 298.8,331.4 302,331.1 305.2,330.9 308.4,330.6 311.6,330.4 314.8,330.2 318,329.9 321.2,329.8 324.4,329.6 327.6,329.4 330.8,329.2 334,329.1 337.2,329 340.4,328.8 343.6,328.7 346.8,328.6 350,328.5 353.2,328.4 356.4,328.4 359.6,328.3 362.8,328.3 366,328.2 369.2,328.2 372.4,328.2 375.6,328.1 378.8,328.1 382,328.1 385.2,328.1 388.4,328.1 389.2,328.1" stroke="#CD0BBC"/><polyline points="254,314.1 257.2,314.8 260.4,315.4 263.6,316 266.8,316.5 270,317.1 273.2,317.6 276.4,318.2 279.6,318.7 282.8,319.2 286,319.7 289.2,320.1 292.4,320.6 295.6,321 298.8,321.4 302,321.8 305.2,322.2 308.4,322.6 311.6,322.9 314.8,323.3 318,323.6 321.2,323.9 324.4,324.2 327.6,324.5 330.8,324.8 334,325 337.2,325.3 340.4,325.5 343.6,325.7 346.8,325.9 350,326.1 353.2,326.3 356.4,326.5 359.6,326.7 362.8,326.8 366,327 369.2,327.1 372.4,327.2 375.6,327.3 378.8,327.4 382,327.5 385.2,327.6 388.4,327.7 391.6,327.8 394.8,327.8 398,327.9 401.2,327.9 404.4,328 407.6,328 410.8,328 414,328.1 417.2,328.1 420.4,328.1 423.6,328.1 426.8,328.1 430,328.1 431.8,328.1" stroke="#F5C710"/><polyline points="254,317.3 257.2,317.9 260.4,318.5 263.6,319.1 266.8,319.7 270,320.3 273.2,320.8 276.4,321.3 279.6,321.8 282.8,322.3 286,322.7 289.2,323.2 292.4,323.6 295.6,324 298.8,324.4 302,324.7 305.2,325.1 308.4,325.4 311.6,325.7 314.8,326 318,326.3 321.2,326.5 324.4,326.7 327.6,327 330.8,327.1 334,327.3 337.2,327.5 340.4,327.6 343.6,327.7 346.8,327.8 350,327.9 353.2,328 356.4,328 359.6,328.1 362.8,328.1 364.8,328.1" stroke="#9E9E9E"/><polyline points="254,328.1 257.2,328.1 260.4,328.1 263.6,328.1 266.8,328.1 270,328.1 273.2,328.1 276.4,328.1 279.6,328.1 282.8,328.1 286,328.1 289.2,328.1 292.4,328.1 295.6,328.1 298.8,328.1 302,328.1 305.2,328.1 308.4,328.1 311.6,328.1 314.8,328.1 318,328.1 321.2,328.1 324.4,328.1 327.6,328.1 330.8,328.1 334,328.1 337.2,328.1 340.4,328.1 343.6,328.1 346.8,328.1 350,328.1 353.2,328.1 356.4,328.1 359.6,328.1 362.8,328.1 366,328.1 369.2,328.1 370.1,328.1" stroke="#000000"/><polyline points="254,320.9 257.2,321.2 260.4,321.6 263.6,322 266.8,322.3 270,322.7 273.2,323 276.4,323.3 279.6,323.6 282.8,323.9 286,324.1 289.2,324.4 292.4,324.7 295.6,324.9 298.8,325.1 302,325.3 305.2,325.6 308.4,325.8 311.6,325.9 314.8,326.1 318,326.3 321.2,326.5 324.4,326.6 327.6,326.7 330.8,326.9 334,327 337.2,327.1 340.4,327.2 343.6,327.3 346.8,327.4 350,327.5 353.2,327.6 356.4,327.7 359.6,327.7 362.8,327.8 366,327.8 369.2,327.9 372.4,327.9 375.6,328 378.8,328 382,328 385.2,328 388.4,328.1 391.6,328.1 394.8,328.1 398,328.1 401.2,328.1 404.4,328.1 407.6,328.1 408.7,328.1" stroke="#DF536B"/><polyline points="254,336.1 257.2,335.8 260.4,335.5 263.6,335.1 266.8,334.8 270,334.5 273.2,334.2 276.4,334 279.6,333.7 282.8,333.4 286,333.1 289.2,332.9 292.4,332.6 295.6,332.4 298.8,332.2 302,331.9 305.2,331.7 308.4,331.5 311.6,331.3 314.8,331.1 318,330.9 321.2,330.7 324.4,330.5 327.6,330.4 330.8,330.2 334,330 337.2,329.9 340.4,329.7 343.6,329.6 346.8,329.5 350,329.3 353.2,329.2 356.4,329.1 359.6,329 362.8,328.9 366,328.8 369.2,328.7 372.4,328.6 375.6,328.5 378.8,328.5 382,328.4 385.2,328.4 388.4,328.3 391.6,328.3 394.8,328.2 398,328.2 401.2,328.2 404.4,328.1 407.6,328.1 410.8,328.1 414,328.1 416.5,328.1" stroke="#61D04F"/><polyline points="254,320.2 257.2,320.7 260.4,321.1 263.6,321.6 266.8,322 270,322.4 273.2,322.8 276.4,323.2 279.6,323.5 282.8,323.9 286,324.2 289.2,324.5 292.4,324.8 295.6,325.1 298.8,325.3 302,325.6 305.2,325.8 308.4,326 311.6,326.2 314.8,326.4 318,326.6 321.2,326.8 324.4,326.9 327.6,327.1 330.8,327.2 334,327.3 337.2,327.4 340.4,327.5 343.6,327.6 346.8,327.7 350,327.8 353.2,327.8 356.4,327.9 359.6,327.9 362.8,328 366,328 369.2,328 372.4,328.1 375.6,328.1 378.8,328.1 382,328.1 385.2,328.1 388.4,328.1 391.6,328.1 392.1,328.1" stroke="#2297E6"/><polyline points="254,323.7 257.2,323.9 260.4,324.1 263.6,324.3 266.8,324.5 270,324.7 273.2,324.9 276.4,325.1 279.6,325.2 282.8,325.4 286,325.6 289.2,325.7 292.4,325.9 295.6,326 298.8,326.1 302,326.3 305.2,326.4 308.4,326.5 311.6,326.6 314.8,326.7 318,326.8 321.2,326.9 324.4,327 327.6,327.1 330.8,327.2 334,327.3 337.2,327.4 340.4,327.4 343.6,327.5 346.8,327.6 350,327.6 353.2,327.7 356.4,327.7 359.6,327.8 362.8,327.8 366,327.9 369.2,327.9 372.4,327.9 375.6,328 378.8,328 382,328 385.2,328 388.4,328.1 391.6,328.1 394.8,328.1 398,328.1 401.2,328.1 404.4,328.1 407.6,328.1 410.8,328.1 411.2,328.1" stroke="#28E2E5"/><polyline points="254,313.3 257.2,314.1 260.4,314.8 263.6,315.6 266.8,316.3 270,317 273.2,317.6 276.4,318.3 279.6,318.9 282.8,319.5 286,320 289.2,320.6 292.4,321.1 295.6,321.7 298.8,322.1 302,322.6 305.2,323.1 308.4,323.5 311.6,323.9 314.8,324.3 318,324.7 321.2,325 324.4,325.4 327.6,325.7 330.8,326 334,326.2 337.2,326.5 340.4,326.7 343.6,326.9 346.8,327.1 350,327.3 353.2,327.5 356.4,327.6 359.6,327.7 362.8,327.8 366,327.9 369.2,328 372.4,328 375.6,328.1 378.8,328.1 381.1,328.1" stroke="#CD0BBC"/><polyline points="254,319.2 257.2,319.7 260.4,320.1 263.6,320.5 266.8,321 270,321.4 273.2,321.8 276.4,322.1 279.6,322.5 282.8,322.8 286,323.2 289.2,323.5 292.4,323.8 295.6,324.1 298.8,324.4 302,324.6 305.2,324.9 308.4,325.1 311.6,325.4 314.8,325.6 318,325.8 321.2,326 324.4,326.2 327.6,326.4 330.8,326.5 334,326.7 337.2,326.8 340.4,327 343.6,327.1 346.8,327.2 350,327.3 353.2,327.4 356.4,327.5 359.6,327.6 362.8,327.7 366,327.7 369.2,327.8 372.4,327.8 375.6,327.9 378.8,327.9 382,328 385.2,328 388.4,328 391.6,328 394.8,328.1 398,328.1 401.2,328.1 404.4,328.1 407.6,328.1 410.8,328.1 414,328.1 415.6,328.1" stroke="#F5C710"/><polyline points="254,348.2 257.2,347.2 260.4,346.3 263.6,345.4 266.8,344.5 270,343.6 273.2,342.8 276.4,342 279.6,341.2 282.8,340.4 286,339.7 289.2,339 292.4,338.3 295.6,337.7 298.8,337.1 302,336.5 305.2,335.9 308.4,335.4 311.6,334.9 314.8,334.4 318,333.9 321.2,333.4 324.4,333 327.6,332.6 330.8,332.2 334,331.8 337.2,331.5 340.4,331.2 343.6,330.9 346.8,330.6 350,330.3 353.2,330.1 356.4,329.8 359.6,329.6 362.8,329.4 366,329.2 369.2,329.1 372.4,328.9 375.6,328.8 378.8,328.7 382,328.6 385.2,328.5 388.4,328.4 391.6,328.3 394.8,328.3 398,328.2 401.2,328.2 404.4,328.2 407.6,328.1 410.8,328.1 414,328.1 417.2,328.1 420.4,328.1 420.8,328.1" stroke="#9E9E9E"/><polyline points="254,329.3 257.2,329.2 260.4,329.2 263.6,329.1 266.8,329.1 270,329 273.2,329 276.4,329 279.6,328.9 282.8,328.9 286,328.8 289.2,328.8 292.4,328.8 295.6,328.7 298.8,328.7 302,328.7 305.2,328.6 308.4,328.6 311.6,328.6 314.8,328.6 318,328.5 321.2,328.5 324.4,328.5 327.6,328.4 330.8,328.4 334,328.4 337.2,328.4 340.4,328.4 343.6,328.3 346.8,328.3 350,328.3 353.2,328.3 356.4,328.3 359.6,328.2 362.8,328.2 366,328.2 369.2,328.2 372.4,328.2 375.6,328.2 378.8,328.2 382,328.2 385.2,328.2 388.4,328.1 391.6,328.1 394.8,328.1 398,328.1 401.2,328.1 404.4,328.1 407.6,328.1 410.8,328.1 414,328.1 417.2,328.1 420.4,328.1 423.6,328.1 424.9,328.1" stroke="#000000"/><polyline points="254,361.2 257.2,359.3 260.4,357.5 263.6,355.7 266.8,354 270,352.4 273.2,350.9 276.4,349.4 279.6,348 282.8,346.6 286,345.3 289.2,344.1 292.4,342.9 295.6,341.8 298.8,340.7 302,339.7 305.2,338.7 308.4,337.8 311.6,336.9 314.8,336.1 318,335.4 321.2,334.7 324.4,334 327.6,333.4 330.8,332.8 334,332.3 337.2,331.8 340.4,331.3 343.6,330.9 346.8,330.5 350,330.2 353.2,329.9 356.4,329.6 359.6,329.3 362.8,329.1 366,328.9 369.2,328.7 372.4,328.6 375.6,328.5 378.8,328.4 382,328.3 385.2,328.2 388.4,328.2 391.6,328.1 394.8,328.1 398,328.1 401.2,328.1 404.4,328.1 405.2,328.1" stroke="#DF536B"/><polyline points="254,337.9 257.2,337.4 260.4,336.8 263.6,336.4 266.8,335.9 270,335.4 273.2,335 276.4,334.6 279.6,334.1 282.8,333.8 286,333.4 289.2,333 292.4,332.7 295.6,332.4 298.8,332.1 302,331.8 305.2,331.5 308.4,331.2 311.6,331 314.8,330.7 318,330.5 321.2,330.3 324.4,330.1 327.6,329.9 330.8,329.7 334,329.5 337.2,329.4 340.4,329.2 343.6,329.1 346.8,329 350,328.9 353.2,328.8 356.4,328.7 359.6,328.6 362.8,328.5 366,328.5 369.2,328.4 372.4,328.3 375.6,328.3 378.8,328.2 382,328.2 385.2,328.2 388.4,328.2 391.6,328.1 394.8,328.1 398,328.1 401.2,328.1 404.4,328.1 407.6,328.1 410.8,328.1 414,328.1" stroke="#61D04F"/><polyline points="254,305.5 257.2,306.6 260.4,307.6 263.6,308.6 266.8,309.6 270,310.6 273.2,311.5 276.4,312.4 279.6,313.3 282.8,314.1 286,315 289.2,315.7 292.4,316.5 295.6,317.2 298.8,317.9 302,318.6 305.2,319.3 308.4,319.9 311.6,320.5 314.8,321 318,321.6 321.2,322.1 324.4,322.6 327.6,323.1 330.8,323.5 334,323.9 337.2,324.3 340.4,324.7 343.6,325 346.8,325.4 350,325.7 353.2,326 356.4,326.2 359.6,326.5 362.8,326.7 366,326.9 369.2,327.1 372.4,327.2 375.6,327.4 378.8,327.5 382,327.6 385.2,327.7 388.4,327.8 391.6,327.9 394.8,328 398,328 401.2,328 404.4,328.1 407.6,328.1 410.8,328.1 414,328.1 414.4,328.1" stroke="#2297E6"/><polyline points="254,361.7 257.2,359.6 260.4,357.7 263.6,355.8 266.8,354 270,352.2 273.2,350.5 276.4,348.9 279.6,347.3 282.8,345.8 286,344.4 289.2,343 292.4,341.7 295.6,340.5 298.8,339.3 302,338.2 305.2,337.2 308.4,336.2 311.6,335.2 314.8,334.4 318,333.6 321.2,332.8 324.4,332.1 327.6,331.5 330.8,330.9 334,330.4 337.2,329.9 340.4,329.5 343.6,329.2 346.8,328.9 350,328.6 353.2,328.4 356.4,328.3 359.6,328.2 362.8,328.1 366,328.1 366.3,328.1" stroke="#28E2E5"/><polyline points="254,329.3 257.2,329.3 260.4,329.2 263.6,329.2 266.8,329.1 270,329 273.2,329 276.4,328.9 279.6,328.9 282.8,328.8 286,328.8 289.2,328.8 292.4,328.7 295.6,328.7 298.8,328.6 302,328.6 305.2,328.5 308.4,328.5 311.6,328.5 314.8,328.4 318,328.4 321.2,328.4 324.4,328.4 327.6,328.3 330.8,328.3 334,328.3 337.2,328.3 340.4,328.2 343.6,328.2 346.8,328.2 350,328.2 353.2,328.2 356.4,328.2 359.6,328.1 362.8,328.1 366,328.1 369.2,328.1 372.4,328.1 375.6,328.1 378.8,328.1 382,328.1 385.2,328.1 387.1,328.1" stroke="#CD0BBC"/><polyline points="254,336.5 257.2,336 260.4,335.6 263.6,335.1 266.8,334.7 270,334.3 273.2,333.9 276.4,333.6 279.6,333.2 282.8,332.9 286,332.5 289.2,332.2 292.4,331.9 295.6,331.6 298.8,331.3 302,331.1 305.2,330.8 308.4,330.6 311.6,330.3 314.8,330.1 318,329.9 321.2,329.7 324.4,329.5 327.6,329.4 330.8,329.2 334,329.1 337.2,328.9 340.4,328.8 343.6,328.7 346.8,328.6 350,328.5 353.2,328.4 356.4,328.3 359.6,328.3 362.8,328.2 366,328.2 369.2,328.2 372.4,328.1 375.6,328.1 378.8,328.1 382,328.1 382.3,328.1" stroke="#F5C710"/><polyline points="254,345.1 257.2,344.1 260.4,343.2 263.6,342.3 266.8,341.4 270,340.6 273.2,339.8 276.4,339 279.6,338.3 282.8,337.6 286,336.9 289.2,336.3 292.4,335.7 295.6,335.1 298.8,334.5 302,334 305.2,333.5 308.4,333 311.6,332.6 314.8,332.1 318,331.7 321.2,331.4 324.4,331 327.6,330.7 330.8,330.4 334,330.1 337.2,329.9 340.4,329.6 343.6,329.4 346.8,329.2 350,329 353.2,328.9 356.4,328.7 359.6,328.6 362.8,328.5 366,328.4 369.2,328.3 372.4,328.3 375.6,328.2 378.8,328.2 382,328.1 385.2,328.1 388.4,328.1 391.6,328.1 393.8,328.1" stroke="#9E9E9E"/><polyline points="254,319 257.2,319.5 260.4,319.9 263.6,320.4 266.8,320.8 270,321.2 273.2,321.7 276.4,322 279.6,322.4 282.8,322.8 286,323.1 289.2,323.5 292.4,323.8 295.6,324.1 298.8,324.4 302,324.7 305.2,325 308.4,325.2 311.6,325.5 314.8,325.7 318,325.9 321.2,326.1 324.4,326.3 327.6,326.5 330.8,326.7 334,326.9 337.2,327 340.4,327.2 343.6,327.3 346.8,327.4 350,327.5 353.2,327.6 356.4,327.7 359.6,327.8 362.8,327.8 366,327.9 369.2,328 372.4,328 375.6,328 378.8,328.1 382,328.1 385.2,328.1 388.4,328.1 391.6,328.1 392.2,328.1" stroke="#000000"/><polyline points="254,328.9 257.2,328.9 260.4,328.8 263.6,328.8 266.8,328.7 270,328.7 273.2,328.6 276.4,328.6 279.6,328.5 282.8,328.5 286,328.5 289.2,328.4 292.4,328.4 295.6,328.4 298.8,328.3 302,328.3 305.2,328.3 308.4,328.3 311.6,328.2 314.8,328.2 318,328.2 321.2,328.2 324.4,328.2 327.6,328.2 330.8,328.1 334,328.1 337.2,328.1 340.4,328.1 343.6,328.1 346.8,328.1 350,328.1 353.2,328.1 356.4,328.1 359.6,328.1 362.8,328.1 366,328.1 367.3,328.1" stroke="#DF536B"/><polyline points="254,330 257.2,329.9 260.4,329.7 263.6,329.6 266.8,329.5 270,329.4 273.2,329.3 276.4,329.2 279.6,329.1 282.8,329 286,328.9 289.2,328.9 292.4,328.8 295.6,328.7 298.8,328.7 302,328.6 305.2,328.5 308.4,328.5 311.6,328.4 314.8,328.4 318,328.4 321.2,328.3 324.4,328.3 327.6,328.2 330.8,328.2 334,328.2 337.2,328.2 340.4,328.2 343.6,328.1 346.8,328.1 350,328.1 353.2,328.1 356.4,328.1 359.6,328.1 362.8,328.1 366,328.1 369.2,328.1 369.5,328.1" stroke="#61D04F"/><polyline points="254,303.8 257.2,305.2 260.4,306.5 263.6,307.8 266.8,309.1 270,310.3 273.2,311.5 276.4,312.6 279.6,313.7 282.8,314.7 286,315.7 289.2,316.7 292.4,317.6 295.6,318.5 298.8,319.3 302,320.1 305.2,320.9 308.4,321.6 311.6,322.3 314.8,322.9 318,323.5 321.2,324.1 324.4,324.6 327.6,325.1 330.8,325.5 334,325.9 337.2,326.3 340.4,326.6 343.6,326.9 346.8,327.2 350,327.4 353.2,327.6 356.4,327.8 359.6,327.9 362.8,328 366,328 369.2,328.1 372.4,328.1 372.9,328.1" stroke="#2297E6"/><polyline points="254,343.2 257.2,342.2 260.4,341.2 263.6,340.3 266.8,339.3 270,338.5 273.2,337.6 276.4,336.9 279.6,336.1 282.8,335.4 286,334.7 289.2,334.1 292.4,333.5 295.6,332.9 298.8,332.4 302,331.9 305.2,331.4 308.4,331 311.6,330.6 314.8,330.3 318,329.9 321.2,329.6 324.4,329.4 327.6,329.1 330.8,328.9 334,328.7 337.2,328.6 340.4,328.5 343.6,328.3 346.8,328.3 350,328.2 353.2,328.1 356.4,328.1 359.6,328.1 362.6,328.1" stroke="#28E2E5"/><polyline points="254,327.4 257.2,327.5 260.4,327.5 263.6,327.5 266.8,327.5 270,327.6 273.2,327.6 276.4,327.6 279.6,327.6 282.8,327.7 286,327.7 289.2,327.7 292.4,327.7 295.6,327.8 298.8,327.8 302,327.8 305.2,327.8 308.4,327.8 311.6,327.8 314.8,327.9 318,327.9 321.2,327.9 324.4,327.9 327.6,327.9 330.8,327.9 334,328 337.2,328 340.4,328 343.6,328 346.8,328 350,328 353.2,328 356.4,328 359.6,328 362.8,328 366,328.1 369.2,328.1 372.4,328.1 375.6,328.1 378.8,328.1 382,328.1 385.2,328.1 388.4,328.1 391.6,328.1 394.8,328.1 398,328.1 401.2,328.1 404.4,328.1 407.6,328.1 410.7,328.1" stroke="#CD0BBC"/><polyline points="254,341 257.2,339.9 260.4,339 263.6,338 266.8,337.2 270,336.3 273.2,335.6 276.4,334.8 279.6,334.2 282.8,333.5 286,332.9 289.2,332.4 292.4,331.9 295.6,331.4 298.8,331 302,330.6 305.2,330.3 308.4,329.9 311.6,329.6 314.8,329.4 318,329.2 321.2,329 324.4,328.8 327.6,328.6 330.8,328.5 334,328.4 337.2,328.3 340.4,328.2 343.6,328.2 346.8,328.2 350,328.1 353.2,328.1 356.4,328.1 359.6,328.1 362.3,328.1" stroke="#F5C710"/><polyline points="254,323.4 257.2,323.7 260.4,324 263.6,324.2 266.8,324.5 270,324.7 273.2,325 276.4,325.2 279.6,325.4 282.8,325.6 286,325.8 289.2,326 292.4,326.1 295.6,326.3 298.8,326.4 302,326.6 305.2,326.7 308.4,326.9 311.6,327 314.8,327.1 318,327.2 321.2,327.3 324.4,327.4 327.6,327.5 330.8,327.6 334,327.6 337.2,327.7 340.4,327.8 343.6,327.8 346.8,327.9 350,327.9 353.2,327.9 356.4,328 359.6,328 362.8,328 366,328 369.2,328.1 372.4,328.1 375.6,328.1 378.8,328.1 382,328.1 385.2,328.1 388.4,328.1 391.2,328.1" stroke="#9E9E9E"/><polyline points="254,325.9 257.2,326 260.4,326.2 263.6,326.3 266.8,326.4 270,326.5 273.2,326.6 276.4,326.8 279.6,326.9 282.8,327 286,327.1 289.2,327.1 292.4,327.2 295.6,327.3 298.8,327.4 302,327.4 305.2,327.5 308.4,327.6 311.6,327.6 314.8,327.7 318,327.7 321.2,327.8 324.4,327.8 327.6,327.9 330.8,327.9 334,327.9 337.2,328 340.4,328 343.6,328 346.8,328 350,328 353.2,328 356.4,328.1 359.6,328.1 362.8,328.1 366,328.1 369.2,328.1 372.4,328.1 375.6,328.1 378.8,328.1 382,328.1 384.6,328.1" stroke="#000000"/><polyline points="254,342.2 257.2,341.6 260.4,341.1 263.6,340.6 266.8,340.1 270,339.6 273.2,339.1 276.4,338.6 279.6,338.1 282.8,337.7 286,337.2 289.2,336.8 292.4,336.4 295.6,336 298.8,335.6 302,335.2 305.2,334.8 308.4,334.4 311.6,334.1 314.8,333.7 318,333.4 321.2,333.1 324.4,332.8 327.6,332.5 330.8,332.2 334,331.9 337.2,331.6 340.4,331.4 343.6,331.1 346.8,330.9 350,330.6 353.2,330.4 356.4,330.2 359.6,330 362.8,329.8 366,329.6 369.2,329.5 372.4,329.3 375.6,329.2 378.8,329 382,328.9 385.2,328.8 388.4,328.7 391.6,328.6 394.8,328.5 398,328.4 401.2,328.3 404.4,328.3 407.6,328.2 410.8,328.2 414,328.2 417.2,328.1 420.4,328.1 423.6,328.1 426.7,328.1" stroke="#DF536B"/><polyline points="254,329.4 257.2,329.3 260.4,329.3 263.6,329.2 266.8,329.1 270,329.1 273.2,329 276.4,329 279.6,328.9 282.8,328.8 286,328.8 289.2,328.7 292.4,328.7 295.6,328.6 298.8,328.6 302,328.5 305.2,328.5 308.4,328.5 311.6,328.4 314.8,328.4 318,328.4 321.2,328.3 324.4,328.3 327.6,328.3 330.8,328.3 334,328.2 337.2,328.2 340.4,328.2 343.6,328.2 346.8,328.2 350,328.1 353.2,328.1 356.4,328.1 359.6,328.1 362.8,328.1 366,328.1 369.2,328.1 372.4,328.1 374.8,328.1" stroke="#61D04F"/><polyline points="254,322.1 257.2,322.4 260.4,322.7 263.6,323 266.8,323.2 270,323.5 273.2,323.7 276.4,324 279.6,324.2 282.8,324.4 286,324.7 289.2,324.9 292.4,325.1 295.6,325.3 298.8,325.4 302,325.6 305.2,325.8 308.4,326 311.6,326.1 314.8,326.3 318,326.4 321.2,326.6 324.4,326.7 327.6,326.8 330.8,326.9 334,327 337.2,327.1 340.4,327.2 343.6,327.3 346.8,327.4 350,327.5 353.2,327.6 356.4,327.6 359.6,327.7 362.8,327.8 366,327.8 369.2,327.9 372.4,327.9 375.6,327.9 378.8,328 382,328 385.2,328 388.4,328 391.6,328.1 394.8,328.1 398,328.1 401.2,328.1 404.4,328.1 407.6,328.1 409.8,328.1" stroke="#2297E6"/><polyline points="254,369.8 257.2,368 260.4,366.3 263.6,364.6 266.8,363 270,361.4 273.2,359.9 276.4,358.4 279.6,356.9 282.8,355.5 286,354.1 289.2,352.8 292.4,351.5 295.6,350.2 298.8,349 302,347.8 305.2,346.7 308.4,345.6 311.6,344.5 314.8,343.5 318,342.5 321.2,341.5 324.4,340.6 327.6,339.8 330.8,338.9 334,338.1 337.2,337.4 340.4,336.6 343.6,335.9 346.8,335.3 350,334.6 353.2,334 356.4,333.5 359.6,332.9 362.8,332.4 366,332 369.2,331.5 372.4,331.1 375.6,330.7 378.8,330.4 382,330.1 385.2,329.8 388.4,329.5 391.6,329.3 394.8,329 398,328.9 401.2,328.7 404.4,328.5 407.6,328.4 410.8,328.3 414,328.2 417.2,328.2 420.4,328.1 423.6,328.1 426.8,328.1 429.9,328.1" stroke="#28E2E5"/><polyline points="254,308.1 257.2,309.1 260.4,310 263.6,311 266.8,311.9 270,312.8 273.2,313.6 276.4,314.4 279.6,315.2 282.8,316 286,316.7 289.2,317.4 292.4,318.1 295.6,318.7 298.8,319.4 302,320 305.2,320.5 308.4,321.1 311.6,321.6 314.8,322.1 318,322.6 321.2,323 324.4,323.5 327.6,323.9 330.8,324.3 334,324.6 337.2,325 340.4,325.3 343.6,325.6 346.8,325.9 350,326.1 353.2,326.4 356.4,326.6 359.6,326.8 362.8,327 366,327.2 369.2,327.3 372.4,327.5 375.6,327.6 378.8,327.7 382,327.8 385.2,327.9 388.4,327.9 391.6,328 394.8,328 398,328 401.2,328.1 404.4,328.1 407.6,328.1 410.8,328.1 412.3,328.1" stroke="#CD0BBC"/><polyline points="254,323.8 257.2,324 260.4,324.3 263.6,324.6 266.8,324.8 270,325 273.2,325.3 276.4,325.5 279.6,325.7 282.8,325.9 286,326.1 289.2,326.2 292.4,326.4 295.6,326.5 298.8,326.7 302,326.8 305.2,327 308.4,327.1 311.6,327.2 314.8,327.3 318,327.4 321.2,327.5 324.4,327.6 327.6,327.6 330.8,327.7 334,327.8 337.2,327.8 340.4,327.9 343.6,327.9 346.8,327.9 350,328 353.2,328 356.4,328 359.6,328.1 362.8,328.1 366,328.1 369.2,328.1 372.4,328.1 375.6,328.1 378.8,328.1 382,328.1 382.9,328.1" stroke="#F5C710"/><polyline points="254,325.8 257.2,326 260.4,326.1 263.6,326.3 266.8,326.4 270,326.5 273.2,326.7 276.4,326.8 279.6,326.9 282.8,327 286,327.1 289.2,327.2 292.4,327.3 295.6,327.4 298.8,327.4 302,327.5 305.2,327.6 308.4,327.6 311.6,327.7 314.8,327.8 318,327.8 321.2,327.8 324.4,327.9 327.6,327.9 330.8,327.9 334,328 337.2,328 340.4,328 343.6,328 346.8,328.1 350,328.1 353.2,328.1 356.4,328.1 359.6,328.1 362.8,328.1 366,328.1 369.2,328.1 372.4,328.1 375.6,328.1 377.6,328.1" stroke="#9E9E9E"/><polyline points="254,332.7 257.2,332.5 260.4,332.2 263.6,332 266.8,331.8 270,331.6 273.2,331.4 276.4,331.2 279.6,331.1 282.8,330.9 286,330.7 289.2,330.6 292.4,330.4 295.6,330.3 298.8,330.1 302,330 305.2,329.8 308.4,329.7 311.6,329.6 314.8,329.5 318,329.4 321.2,329.2 324.4,329.1 327.6,329 330.8,329 334,328.9 337.2,328.8 340.4,328.7 343.6,328.6 346.8,328.6 350,328.5 353.2,328.4 356.4,328.4 359.6,328.3 362.8,328.3 366,328.3 369.2,328.2 372.4,328.2 375.6,328.2 378.8,328.2 382,328.1 385.2,328.1 388.4,328.1 391.6,328.1 394.8,328.1 398,328.1 398.2,328.1" stroke="#000000"/><polyline points="254,322.2 257.2,322.5 260.4,322.9 263.6,323.2 266.8,323.5 270,323.8 273.2,324.1 276.4,324.4 279.6,324.6 282.8,324.9 286,325.2 289.2,325.4 292.4,325.6 295.6,325.8 298.8,326 302,326.2 305.2,326.4 308.4,326.6 311.6,326.7 314.8,326.9 318,327 321.2,327.2 324.4,327.3 327.6,327.4 330.8,327.5 334,327.6 337.2,327.7 340.4,327.8 343.6,327.8 346.8,327.9 350,327.9 353.2,328 356.4,328 359.6,328.1 362.8,328.1 366,328.1 369.2,328.1 372.4,328.1 373.6,328.1" stroke="#DF536B"/><polyline points="254,321.1 257.2,321.4 260.4,321.8 263.6,322.2 266.8,322.5 270,322.9 273.2,323.2 276.4,323.5 279.6,323.8 282.8,324.1 286,324.4 289.2,324.7 292.4,324.9 295.6,325.2 298.8,325.4 302,325.6 305.2,325.8 308.4,326 311.6,326.2 314.8,326.4 318,326.6 321.2,326.7 324.4,326.9 327.6,327 330.8,327.1 334,327.3 337.2,327.4 340.4,327.5 343.6,327.6 346.8,327.6 350,327.7 353.2,327.8 356.4,327.8 359.6,327.9 362.8,327.9 366,328 369.2,328 372.4,328 375.6,328.1 378.8,328.1 382,328.1 385.2,328.1 388.4,328.1 391.6,328.1 391.8,328.1" stroke="#61D04F"/><polyline points="254,326.2 257.2,326.4 260.4,326.5 263.6,326.6 266.8,326.7 270,326.8 273.2,326.8 276.4,326.9 279.6,327 282.8,327.1 286,327.2 289.2,327.3 292.4,327.3 295.6,327.4 298.8,327.5 302,327.5 305.2,327.6 308.4,327.6 311.6,327.7 314.8,327.7 318,327.8 321.2,327.8 324.4,327.8 327.6,327.9 330.8,327.9 334,327.9 337.2,328 340.4,328 343.6,328 346.8,328 350,328 353.2,328.1 356.4,328.1 359.6,328.1 362.8,328.1 366,328.1 369.2,328.1 372.4,328.1 374.8,328.1" stroke="#2297E6"/><polyline points="254,397.6 257.2,394.7 260.4,391.8 263.6,389 266.8,386.2 270,383.5 273.2,380.9 276.4,378.3 279.6,375.8 282.8,373.4 286,371.1 289.2,368.8 292.4,366.6 295.6,364.4 298.8,362.3 302,360.3 305.2,358.3 308.4,356.5 311.6,354.6 314.8,352.9 318,351.2 321.2,349.5 324.4,348 327.6,346.5 330.8,345 334,343.6 337.2,342.3 340.4,341.1 343.6,339.9 346.8,338.7 350,337.7 353.2,336.7 356.4,335.7 359.6,334.8 362.8,334 366,333.2 369.2,332.5 372.4,331.8 375.6,331.2 378.8,330.7 382,330.2 385.2,329.8 388.4,329.4 391.6,329 394.8,328.8 398,328.5 401.2,328.4 404.4,328.2 407.6,328.1 410.8,328.1 412.9,328.1" stroke="#DF536B"/><polyline points="254,268.7 257.2,271.1 260.4,273.5 263.6,275.8 266.8,278.1 270,280.3 273.2,282.4 276.4,284.5 279.6,286.6 282.8,288.6 286,290.5 289.2,292.4 292.4,294.2 295.6,296 298.8,297.8 302,299.4 305.2,301.1 308.4,302.6 311.6,304.2 314.8,305.6 318,307.1 321.2,308.4 324.4,309.7 327.6,311 330.8,312.2 334,313.4 337.2,314.5 340.4,315.6 343.6,316.6 346.8,317.6 350,318.5 353.2,319.4 356.4,320.3 359.6,321 362.8,321.8 366,322.5 369.2,323.1 372.4,323.8 375.6,324.3 378.8,324.9 382,325.3 385.2,325.8 388.4,326.2 391.6,326.5 394.8,326.9 398,327.1 401.2,327.4 404.4,327.6 407.6,327.7 410.8,327.9 414,328 417.2,328 420.4,328.1 423.6,328.1 424.3,328.1" stroke="#2297E6"/><polyline points="254,272.8 257.2,275.2 260.4,277.5 263.6,279.7 266.8,281.9 270,284 273.2,286.1 276.4,288.1 279.6,290 282.8,291.9 286,293.8 289.2,295.6 292.4,297.3 295.6,299 298.8,300.7 302,302.2 305.2,303.8 308.4,305.3 311.6,306.7 314.8,308.1 318,309.4 321.2,310.7 324.4,311.9 327.6,313.1 330.8,314.2 334,315.3 337.2,316.4 340.4,317.4 343.6,318.3 346.8,319.2 350,320 353.2,320.8 356.4,321.6 359.6,322.3 362.8,323 366,323.6 369.2,324.2 372.4,324.7 375.6,325.2 378.8,325.6 382,326 385.2,326.4 388.4,326.7 391.6,327 394.8,327.3 398,327.5 401.2,327.7 404.4,327.8 407.6,327.9 410.8,328 414,328.1 417.2,328.1 419.5,328.1" stroke="#DF536B"/><polyline points="254,373.3 257.2,371.1 260.4,369.1 263.6,367.1 266.8,365.1 270,363.2 273.2,361.4 276.4,359.6 279.6,357.9 282.8,356.2 286,354.6 289.2,353 292.4,351.5 295.6,350.1 298.8,348.7 302,347.3 305.2,346 308.4,344.8 311.6,343.6 314.8,342.5 318,341.4 321.2,340.3 324.4,339.3 327.6,338.4 330.8,337.5 334,336.6 337.2,335.8 340.4,335.1 343.6,334.4 346.8,333.7 350,333.1 353.2,332.5 356.4,331.9 359.6,331.4 362.8,331 366,330.5 369.2,330.2 372.4,329.8 375.6,329.5 378.8,329.2 382,329 385.2,328.8 388.4,328.6 391.6,328.4 394.8,328.3 398,328.2 401.2,328.2 404.4,328.1 407.6,328.1 410.8,328.1 411.3,328.1" stroke="#2297E6"/><polyline points="254,368.6 257.2,366.8 260.4,365 263.6,363.3 266.8,361.6 270,360 273.2,358.4 276.4,356.9 279.6,355.4 282.8,354 286,352.6 289.2,351.2 292.4,349.9 295.6,348.7 298.8,347.4 302,346.3 305.2,345.1 308.4,344 311.6,343 314.8,342 318,341 321.2,340.1 324.4,339.2 327.6,338.3 330.8,337.5 334,336.7 337.2,336 340.4,335.3 343.6,334.6 346.8,334 350,333.4 353.2,332.8 356.4,332.3 359.6,331.8 362.8,331.4 366,331 369.2,330.6 372.4,330.2 375.6,329.9 378.8,329.6 382,329.3 385.2,329.1 388.4,328.9 391.6,328.7 394.8,328.6 398,328.4 401.2,328.3 404.4,328.2 407.6,328.2 410.8,328.1 414,328.1 417.2,328.1 418.9,328.1" stroke="#61D04F"/><polyline points="254,282.7 257.2,285 260.4,287.1 263.6,289.3 266.8,291.3 270,293.3 273.2,295.3 276.4,297.1 279.6,298.9 282.8,300.7 286,302.3 289.2,303.9 292.4,305.5 295.6,307 298.8,308.4 302,309.8 305.2,311.1 308.4,312.3 311.6,313.5 314.8,314.7 318,315.8 321.2,316.8 324.4,317.8 327.6,318.7 330.8,319.6 334,320.4 337.2,321.2 340.4,321.9 343.6,322.6 346.8,323.2 350,323.8 353.2,324.3 356.4,324.8 359.6,325.3 362.8,325.7 366,326.1 369.2,326.4 372.4,326.7 375.6,327 378.8,327.2 382,327.4 385.2,327.6 388.4,327.7 391.6,327.9 394.8,327.9 398,328 401.2,328.1 404.4,328.1 407.6,328.1 410.4,328.1" stroke="#CD0BBC"/><polyline points="254,285.5 257.2,287.3 260.4,289.1 263.6,290.8 266.8,292.5 270,294.1 273.2,295.7 276.4,297.2 279.6,298.7 282.8,300.2 286,301.6 289.2,302.9 292.4,304.3 295.6,305.5 298.8,306.8 302,308 305.2,309.1 308.4,310.3 311.6,311.3 314.8,312.4 318,313.4 321.2,314.4 324.4,315.3 327.6,316.2 330.8,317 334,317.8 337.2,318.6 340.4,319.4 343.6,320.1 346.8,320.8 350,321.4 353.2,322 356.4,322.6 359.6,323.1 362.8,323.6 366,324.1 369.2,324.5 372.4,325 375.6,325.4 378.8,325.7 382,326 385.2,326.3 388.4,326.6 391.6,326.9 394.8,327.1 398,327.3 401.2,327.5 404.4,327.6 407.6,327.7 410.8,327.8 414,327.9 417.2,328 420.4,328 423.6,328.1 426.8,328.1 430,328.1 432,328.1" stroke="#61D04F"/><polyline points="254,294.4 265,296.4 280,299.6 295,302.2 311,304.2 327,308.4 344,315.4 356,319.8 367,322.9 380,325.5 395,327.1 412,328.1" stroke="#DF536B"/><polyline points="254,343.7 275,340 295,337.4 320,335.4 345,333.3 353,333 360,333.3 366,332 372,330.2 385,328.1" stroke="#28E2E5"/><polyline points="254,325.5 300,325 350,325.5 380,326 400,327.3 432,328.1" stroke="#000000"/><line x1="330" y1="328.1" x2="432.5" y2="328.1" stroke="#555"/></g>
<g font-size="2.7" fill="#000"><text x="247.0" y="352">1</text><text x="247.0" y="338.1">38</text><text x="247.0" y="334.9">75</text><text x="247.0" y="332.6">112</text><text x="247.0" y="327.7">149</text><text x="247.0" y="333.7">186</text><text x="247.0" y="322.9">223</text><text x="247.0" y="344.6">30</text><text x="247.0" y="286">67</text><text x="247.0" y="328">104</text><text x="247.0" y="327.4">141</text><text x="247.0" y="326">178</text><text x="247.0" y="321.5">215</text><text x="247.0" y="348.5">22</text><text x="247.0" y="321.4">59</text><text x="247.0" y="345.1">96</text><text x="247.0" y="329">133</text><text x="247.0" y="293">170</text><text x="247.0" y="329.5">207</text><text x="247.0" y="332.1">14</text><text x="247.0" y="321.8">51</text><text x="247.0" y="327.9">88</text><text x="247.0" y="340">125</text><text x="247.0" y="308.6">162</text><text x="247.0" y="334.5">199</text><text x="247.0" y="318.6">6</text><text x="247.0" y="290.2">43</text><text x="247.0" y="335.6">80</text><text x="247.0" y="333.5">117</text><text x="247.0" y="337.8">154</text><text x="247.0" y="349.8">191</text><text x="247.0" y="315.8">228</text><text x="247.0" y="316.8">35</text><text x="247.0" y="328.2">72</text><text x="247.0" y="324.1">109</text><text x="247.0" y="367.8">146</text><text x="247.0" y="317">183</text><text x="247.0" y="328.7">220</text><text x="247.0" y="329">27</text><text x="247.0" y="279.7">64</text><text x="247.0" y="315.2">101</text><text x="247.0" y="295.7">138</text><text x="247.0" y="323.1">175</text><text x="247.0" y="327.4">212</text><text x="247.0" y="344.8">19</text><text x="247.0" y="342.1">56</text><text x="247.0" y="325">93</text><text x="247.0" y="314">130</text><text x="247.0" y="333.1">167</text><text x="247.0" y="332.9">204</text><text x="247.0" y="321.9">11</text><text x="247.0" y="320.9">48</text><text x="247.0" y="327">85</text><text x="247.0" y="314.2">122</text><text x="247.0" y="338.5">159</text><text x="247.0" y="339">196</text><text x="247.0" y="333.4">3</text><text x="247.0" y="328.5">40</text><text x="247.0" y="337.3">77</text><text x="247.0" y="329.6">114</text><text x="247.0" y="349.8">151</text><text x="247.0" y="317.7">188</text><text x="247.0" y="301.9">225</text><text x="247.0" y="341.9">32</text><text x="247.0" y="337.6">69</text><text x="247.0" y="341.4">106</text><text x="247.0" y="313.4">143</text><text x="247.0" y="338.2">180</text><text x="247.0" y="329">217</text><text x="247.0" y="325.6">24</text><text x="247.0" y="324.3">61</text><text x="247.0" y="329.8">98</text><text x="247.0" y="337.6">135</text><text x="247.0" y="313.5">172</text><text x="247.0" y="363.8">209</text><text x="247.0" y="342.2">16</text><text x="247.0" y="330.1">53</text><text x="247.0" y="326.4">90</text><text x="247.0" y="320.4">127</text><text x="247.0" y="325.1">164</text><text x="247.0" y="339">201</text><text x="247.0" y="326">8</text><text x="247.0" y="329.8">45</text><text x="247.0" y="338.5">82</text><text x="247.0" y="318.4">119</text><text x="247.0" y="322.7">156</text><text x="247.0" y="324.8">193</text><text x="247.0" y="329.9">230</text><text x="247.0" y="334.6">37</text><text x="247.0" y="338.1">74</text><text x="247.0" y="324.5">111</text><text x="247.0" y="326.1">148</text><text x="247.0" y="341.3">185</text><text x="247.0" y="306.7">222</text><text x="247.0" y="342.2">29</text><text x="247.0" y="325.8">66</text><text x="247.0" y="330.7">103</text><text x="247.0" y="324.7">140</text><text x="247.0" y="305">177</text><text x="247.0" y="316.6">214</text><text x="247.0" y="320.7">21</text><text x="247.0" y="335.3">58</text><text x="247.0" y="347.1">95</text><text x="247.0" y="331.1">132</text><text x="247.0" y="342.5">169</text><text x="247.0" y="328.9">206</text><text x="247.0" y="342.1">13</text><text x="247.0" y="343.7">50</text><text x="247.0" y="327.3">87</text><text x="247.0" y="316.5">124</text><text x="247.0" y="322.3">161</text><text x="247.0" y="316.4">198</text><text x="247.0" y="300.9">5</text><text x="247.0" y="317">42</text><text x="247.0" y="353.5">79</text><text x="247.0" y="324.6">116</text><text x="247.0" y="345.1">153</text><text x="247.0" y="331">190</text><text x="247.0" y="335.8">227</text><text x="247.0" y="335.8">34</text><text x="247.0" y="341.8">71</text><text x="247.0" y="339.3">108</text><text x="247.0" y="337.3">145</text><text x="247.0" y="340.3">182</text><text x="247.0" y="322.1">219</text><text x="247.0" y="311.7">26</text><text x="247.0" y="319.9">63</text><text x="247.0" y="359">100</text><text x="247.0" y="344.2">137</text><text x="247.0" y="332.4">174</text><text x="247.0" y="322.5">211</text><text x="247.0" y="309.8">18</text><text x="247.0" y="328.6">55</text><text x="247.0" y="342.5">92</text><text x="247.0" y="326.6">129</text><text x="247.0" y="351.3">166</text><text x="247.0" y="322.6">203</text><text x="247.0" y="329.1">10</text><text x="247.0" y="327.2">47</text><text x="247.0" y="310.6">84</text><text x="247.0" y="335.9">121</text><text x="247.0" y="325.3">158</text><text x="247.0" y="344.1">195</text><text x="247.0" y="333.9">2</text><text x="247.0" y="334.4">39</text><text x="247.0" y="373.3">76</text><text x="247.0" y="320.9">113</text><text x="247.0" y="330.5">150</text><text x="247.0" y="341.3">187</text><text x="247.0" y="288.1">224</text><text x="247.0" y="339.2">31</text><text x="247.0" y="293">68</text><text x="247.0" y="318.8">105</text><text x="247.0" y="323.2">142</text><text x="247.0" y="331.6">179</text><text x="247.0" y="328.8">216</text><text x="247.0" y="326.9">23</text><text x="247.0" y="335.4">60</text><text x="247.0" y="325.1">97</text><text x="247.0" y="324.2">134</text><text x="247.0" y="320.1">171</text><text x="247.0" y="352.5">208</text><text x="247.0" y="324.6">15</text><text x="247.0" y="330.5">52</text><text x="247.0" y="333.4">89</text><text x="247.0" y="311.9">126</text><text x="247.0" y="321.3">163</text><text x="247.0" y="340.6">200</text><text x="247.0" y="315.8">7</text><text x="247.0" y="348.3">44</text><text x="247.0" y="307.3">81</text><text x="247.0" y="331.6">118</text><text x="247.0" y="341.6">155</text><text x="247.0" y="331.9">192</text><text x="247.0" y="316.1">229</text><text x="247.0" y="331.5">36</text><text x="247.0" y="340.7">73</text><text x="247.0" y="333.9">110</text><text x="247.0" y="339.9">147</text><text x="247.0" y="333.5">184</text><text x="247.0" y="331.5">221</text><text x="247.0" y="316.8">28</text><text x="247.0" y="319.6">65</text><text x="247.0" y="350.4">102</text><text x="247.0" y="323.6">139</text><text x="247.0" y="305.5">176</text><text x="247.0" y="328.6">213</text><text x="247.0" y="331.3">20</text><text x="247.0" y="332.7">57</text><text x="247.0" y="337.9">94</text><text x="247.0" y="315">131</text><text x="247.0" y="318.2">168</text><text x="247.0" y="329">205</text><text x="247.0" y="321.8">12</text><text x="247.0" y="337">49</text><text x="247.0" y="321.1">86</text><text x="247.0" y="324.6">123</text><text x="247.0" y="314.2">160</text><text x="247.0" y="320.1">197</text><text x="247.0" y="349.1">4</text><text x="247.0" y="330.2">41</text><text x="247.0" y="362.1">78</text><text x="247.0" y="338.8">115</text><text x="247.0" y="306.4">152</text><text x="247.0" y="362.6">189</text><text x="247.0" y="330.2">226</text><text x="247.0" y="337.4">33</text><text x="247.0" y="346">70</text><text x="247.0" y="319.9">107</text><text x="247.0" y="329.8">144</text><text x="247.0" y="330.9">181</text><text x="247.0" y="304.7">218</text><text x="247.0" y="344.1">25</text><text x="247.0" y="328.3">62</text><text x="247.0" y="341.9">99</text><text x="247.0" y="324.3">136</text><text x="247.0" y="326.8">173</text><text x="247.0" y="343.1">210</text><text x="247.0" y="330.3">17</text><text x="247.0" y="323">54</text><text x="247.0" y="370.7">91</text><text x="247.0" y="309">128</text><text x="247.0" y="324.7">165</text><text x="247.0" y="326.7">202</text><text x="247.0" y="333.6">9</text><text x="247.0" y="323.1">46</text><text x="247.0" y="322">83</text><text x="247.0" y="327.1">120</text><text x="247.0" y="398.5">157</text><text x="247.0" y="269.6">194</text><text x="247.0" y="273.7">1</text><text x="247.0" y="374.2">38</text><text x="247.0" y="369.5">75</text><text x="247.0" y="283.6">112</text><text x="247.0" y="286.4">149</text></g>
<rect x="245.6" y="263" width="193.8" height="141" fill="none" stroke="#444" stroke-width="0.6"/>
<line x1="265.5" y1="404" x2="265.5" y2="406" stroke="#444" stroke-width="0.5"/>
<text x="265.5" y="416.4" font-size="5.2" text-anchor="middle" fill="#222">-7</text>
<line x1="304.33" y1="404" x2="304.33" y2="406" stroke="#444" stroke-width="0.5"/>
<text x="304.33" y="416.4" font-size="5.2" text-anchor="middle" fill="#222">-6</text>
<line x1="343.16" y1="404" x2="343.16" y2="406" stroke="#444" stroke-width="0.5"/>
<text x="343.16" y="416.4" font-size="5.2" text-anchor="middle" fill="#222">-5</text>
<line x1="381.99" y1="404" x2="381.99" y2="406" stroke="#444" stroke-width="0.5"/>
<text x="381.99" y="416.4" font-size="5.2" text-anchor="middle" fill="#222">-4</text>
<line x1="420.82" y1="404" x2="420.82" y2="406" stroke="#444" stroke-width="0.5"/>
<text x="420.82" y="416.4" font-size="5.2" text-anchor="middle" fill="#222">-3</text>
<line x1="265.5" y1="263" x2="265.5" y2="261.5" stroke="#444" stroke-width="0.5"/>
<text x="265.5" y="256" font-size="5.1" text-anchor="middle" fill="#222">225</text>
<line x1="304.33" y1="263" x2="304.33" y2="261.5" stroke="#444" stroke-width="0.5"/>
<text x="304.33" y="256" font-size="5.1" text-anchor="middle" fill="#222">217</text>
<line x1="343.16" y1="263" x2="343.16" y2="261.5" stroke="#444" stroke-width="0.5"/>
<text x="343.16" y="256" font-size="5.1" text-anchor="middle" fill="#222">176</text>
<line x1="381.99" y1="263" x2="381.99" y2="261.5" stroke="#444" stroke-width="0.5"/>
<text x="381.99" y="256" font-size="5.1" text-anchor="middle" fill="#222">74</text>
<line x1="420.82" y1="263" x2="420.82" y2="261.5" stroke="#444" stroke-width="0.5"/>
<text x="420.82" y="256" font-size="5.1" text-anchor="middle" fill="#222">11</text>
<line x1="243.6" y1="276.2" x2="245.6" y2="276.2" stroke="#444" stroke-width="0.5"/>
<text x="238.9" y="276.2" font-size="5.2" text-anchor="middle" fill="#222" transform="rotate(-90 238.9 276.2)">20</text>
<line x1="243.6" y1="302.15" x2="245.6" y2="302.15" stroke="#444" stroke-width="0.5"/>
<text x="238.9" y="302.15" font-size="5.2" text-anchor="middle" fill="#222" transform="rotate(-90 238.9 302.15)">10</text>
<line x1="243.6" y1="328.1" x2="245.6" y2="328.1" stroke="#444" stroke-width="0.5"/>
<text x="238.9" y="328.1" font-size="5.2" text-anchor="middle" fill="#222" transform="rotate(-90 238.9 328.1)">0</text>
<line x1="243.6" y1="354.05" x2="245.6" y2="354.05" stroke="#444" stroke-width="0.5"/>
<text x="238.9" y="354.05" font-size="5.2" text-anchor="middle" fill="#222" transform="rotate(-90 238.9 354.05)">-10</text>
<line x1="243.6" y1="380" x2="245.6" y2="380" stroke="#444" stroke-width="0.5"/>
<text x="238.9" y="380" font-size="5.2" text-anchor="middle" fill="#222" transform="rotate(-90 238.9 380)">-20</text>
<text x="225.7" y="334" font-size="5.2" text-anchor="middle" fill="#222" transform="rotate(-90 225.7 334)">Coefficients</text>
<text x="342.8" y="429" font-size="5.3" text-anchor="middle" fill="#222">Log Lambda</text>
<path d="M488.5 268.9V341.1M487.4 268.9H489.6M487.4 341.1H489.6M490.3 269.9V340.1M489.2 269.9H491.4M489.2 340.1H491.4M492.1 272.6V340.7M491 272.6H493.2M491 340.7H493.2M493.9 276.1V342.1M492.8 276.1H495M492.8 342.1H495M495.7 280.1V344.1M494.6 280.1H496.8M494.6 344.1H496.8M497.5 284.1V346.1M496.4 284.1H498.6M496.4 346.1H498.6M499.3 288.2V348.1M498.2 288.2H500.4M498.2 348.1H500.4M501.1 292.1V350M500 292.1H502.2M500 350H502.2M502.9 295.2V351.8M501.8 295.2H504M501.8 351.8H504M504.7 298.4V353.5M503.6 298.4H505.8M503.6 353.5H505.8M506.5 301.6V355.3M505.4 301.6H507.6M505.4 355.3H507.6M508.3 304.7V357.1M507.2 304.7H509.4M507.2 357.1H509.4M510.1 307.9V358.8M509 307.9H511.2M509 358.8H511.2M511.9 311V360.6M510.8 311H513M510.8 360.6H513M513.7 314.2V362.4M512.6 314.2H514.8M512.6 362.4H514.8M515.5 317.2V364M514.4 317.2H516.6M514.4 364H516.6M517.3 320V365.5M516.2 320H518.4M516.2 365.5H518.4M519.1 322.9V366.9M518 322.9H520.2M518 366.9H520.2M520.9 325.8V368.4M519.8 325.8H522M519.8 368.4H522M522.7 328.6V369.9M521.6 328.6H523.8M521.6 369.9H523.8M524.5 331.5V371.3M523.4 331.5H525.6M523.4 371.3H525.6M526.3 334.3V372.8M525.2 334.3H527.4M525.2 372.8H527.4M528.1 337.2V374.3M527 337.2H529.2M527 374.3H529.2M529.9 340.1V375.7M528.8 340.1H531M528.8 375.7H531M531.7 342.7V377.5M530.6 342.7H532.8M530.6 377.5H532.8M533.5 344.9V378.9M532.4 344.9H534.6M532.4 378.9H534.6M535.3 347.2V380.2M534.2 347.2H536.4M534.2 380.2H536.4M537.1 349.4V381.6M536 349.4H538.2M536 381.6H538.2M538.9 351.6V383M537.8 351.6H540M537.8 383H540M540.7 353.8V384.4M539.6 353.8H541.8M539.6 384.4H541.8M542.5 356.1V385.7M541.4 356.1H543.6M541.4 385.7H543.6M544.3 358.3V387.1M543.2 358.3H545.4M543.2 387.1H545.4M546.1 360.5V388.5M545 360.5H547.2M545 388.5H547.2M547.9 362.8V389.8M546.8 362.8H549M546.8 389.8H549M549.7 364.8V391M548.6 364.8H550.8M548.6 391H550.8M551.5 366.4V391.7M550.4 366.4H552.6M550.4 391.7H552.6M553.3 368V392.4M552.2 368H554.4M552.2 392.4H554.4M555.1 369.6V393.1M554 369.6H556.2M554 393.1H556.2M556.9 371.2V393.8M555.8 371.2H558M555.8 393.8H558M558.7 372.9V394.5M557.6 372.9H559.8M557.6 394.5H559.8M560.5 374.5V395.2M559.4 374.5H561.6M559.4 395.2H561.6M562.3 376V395.9M561.2 376H563.4M561.2 395.9H563.4M564.1 377.6V396.6M563 377.6H565.2M563 396.6H565.2M565.9 379.2V397.4M564.8 379.2H567M564.8 397.4H567M567.7 380.4V397.8M566.6 380.4H568.8M566.6 397.8H568.8M569.5 381.5V398M568.4 381.5H570.6M568.4 398H570.6M571.3 382.5V398.2M570.2 382.5H572.4M570.2 398.2H572.4M573.1 383.6V398.5M572 383.6H574.2M572 398.5H574.2M574.9 384.7V398.7M573.8 384.7H576M573.8 398.7H576M576.7 385.8V399M575.6 385.8H577.8M575.6 399H577.8M578.5 386.8V399.2M577.4 386.8H579.6M577.4 399.2H579.6M580.3 387.8V399.6M579.2 387.8H581.4M579.2 399.6H581.4M582.1 388.7V399.9M581 388.7H583.2M581 399.9H583.2M583.9 389.7V400.2M582.8 389.7H585M582.8 400.2H585M585.7 390.2V400.1M584.6 390.2H586.8M584.6 400.1H586.8M587.5 390.8V400.1M586.4 390.8H588.6M586.4 400.1H588.6M589.3 391.4V400M588.2 391.4H590.4M588.2 400H590.4M591.1 392V400M590 392H592.2M590 400H592.2M592.9 392.6V399.9M591.8 392.6H594M591.8 399.9H594M594.7 393.1V400M593.6 393.1H595.8M593.6 400H595.8M596.5 393.5V400.1M595.4 393.5H597.6M595.4 400.1H597.6M598.3 394V400.1M597.2 394H599.4M597.2 400.1H599.4M600.1 394.4V400.2M599 394.4H601.2M599 400.2H601.2M601.9 394.6V400.2M600.8 394.6H603M600.8 400.2H603M603.7 394.9V400.1M602.6 394.9H604.8M602.6 400.1H604.8M605.5 395.2V400M604.4 395.2H606.6M604.4 400H606.6M607.3 395.4V400M606.2 395.4H608.4M606.2 400H608.4M609.1 395.7V399.9M608 395.7H610.2M608 399.9H610.2M610.9 395.9V399.9M609.8 395.9H612M609.8 399.9H612M612.7 396.1V399.9M611.6 396.1H613.8M611.6 399.9H613.8M614.5 396.3V399.9M613.4 396.3H615.6M613.4 399.9H615.6M616.3 396.4V399.9M615.2 396.4H617.4M615.2 399.9H617.4M618.1 396.6V400M617 396.6H619.2M617 400H619.2M619.9 396.8V400M618.8 396.8H621M618.8 400H621M621.7 396.9V399.9M620.6 396.9H622.8M620.6 399.9H622.8M623.5 397V399.9M622.4 397H624.6M622.4 399.9H624.6M625.3 397V399.8M624.2 397H626.4M624.2 399.8H626.4M627.1 397.1V399.7M626 397.1H628.2M626 399.7H628.2M628.9 397.2V399.7M627.8 397.2H630M627.8 399.7H630M630.7 397.2V399.6M629.6 397.2H631.8M629.6 399.6H631.8M632.5 397.3V399.6M631.4 397.3H633.6M631.4 399.6H633.6M634.3 397.3V399.6M633.2 397.3H635.4M633.2 399.6H635.4M636.1 397.3V399.6M635 397.3H637.2M635 399.6H637.2M637.9 397.3V399.6M636.8 397.3H639M636.8 399.6H639M639.7 397.4V399.6M638.6 397.4H640.8M638.6 399.6H640.8M641.5 397.4V399.6M640.4 397.4H642.6M640.4 399.6H642.6M643.3 397.4V399.6M642.2 397.4H644.4M642.2 399.6H644.4M645.1 397.4V399.6M644 397.4H646.2M644 399.6H646.2M646.9 397.4V399.6M645.8 397.4H648M645.8 399.6H648M648.7 397.5V399.6M647.6 397.5H649.8M647.6 399.6H649.8M650.5 397.5V399.6M649.4 397.5H651.6M649.4 399.6H651.6M652.3 397.5V399.6M651.2 397.5H653.4M651.2 399.6H653.4M654.1 397.5V399.6M653 397.5H655.2M653 399.6H655.2M655.9 397.5V399.5M654.8 397.5H657M654.8 399.5H657M657.7 397.6V399.5M656.6 397.6H658.8M656.6 399.5H658.8M659.5 397.6V399.5M658.4 397.6H660.6M658.4 399.5H660.6M661.3 397.6V399.5M660.2 397.6H662.4M660.2 399.5H662.4M663.1 397.6V399.5M662 397.6H664.2M662 399.5H664.2M664.9 397.6V399.5M663.8 397.6H666M663.8 399.5H666M666.7 397.7V399.5M665.6 397.7H667.8M665.6 399.5H667.8" stroke="#bcbcbc" stroke-width="0.6" fill="none"/>
<path stroke="#ee1111" stroke-width="1.7" stroke-linecap="round" d="M488.5 305h0M490.3 305h0M492.1 306.7h0M493.9 309.1h0M495.7 312.1h0M497.5 315.1h0M499.3 318.2h0M501.1 321h0M502.9 323.5h0M504.7 326h0M506.5 328.4h0M508.3 330.9h0M510.1 333.3h0M511.9 335.8h0M513.7 338.3h0M515.5 340.6h0M517.3 342.7h0M519.1 344.9h0M520.9 347.1h0M522.7 349.2h0M524.5 351.4h0M526.3 353.6h0M528.1 355.7h0M529.9 357.9h0M531.7 360.1h0M533.5 361.9h0M535.3 363.7h0M537.1 365.5h0M538.9 367.3h0M540.7 369.1h0M542.5 370.9h0M544.3 372.7h0M546.1 374.5h0M547.9 376.3h0M549.7 377.9h0M551.5 379.1h0M553.3 380.2h0M555.1 381.4h0M556.9 382.5h0M558.7 383.7h0M560.5 384.8h0M562.3 386h0M564.1 387.1h0M565.9 388.3h0M567.7 389.1h0M569.5 389.7h0M571.3 390.4h0M573.1 391h0M574.9 391.7h0M576.7 392.4h0M578.5 393h0M580.3 393.7h0M582.1 394.3h0M583.9 394.9h0M585.7 395.2h0M587.5 395.5h0M589.3 395.7h0M591.1 396h0M592.9 396.3h0M594.7 396.5h0M596.5 396.8h0M598.3 397h0M600.1 397.3h0M601.9 397.4h0M603.7 397.5h0M605.5 397.6h0M607.3 397.7h0M609.1 397.8h0M610.9 397.9h0M612.7 398h0M614.5 398.1h0M616.3 398.2h0M618.1 398.3h0M619.9 398.4h0M621.7 398.4h0M623.5 398.4h0M625.3 398.4h0M627.1 398.4h0M628.9 398.4h0M630.7 398.4h0M632.5 398.4h0M634.3 398.5h0M636.1 398.5h0M637.9 398.5h0M639.7 398.5h0M641.5 398.5h0M643.3 398.5h0M645.1 398.5h0M646.9 398.5h0M648.7 398.5h0M650.5 398.5h0M652.3 398.5h0M654.1 398.5h0M655.9 398.5h0M657.7 398.6h0M659.5 398.6h0M661.3 398.6h0M663.1 398.6h0M664.9 398.6h0M666.7 398.6h0"/>
<line x1="649.5" y1="263.5" x2="649.5" y2="404.1" stroke="#333" stroke-width="0.55" stroke-dasharray="0.6,1.0"/>
<line x1="667.3" y1="263.5" x2="667.3" y2="404.1" stroke="#333" stroke-width="0.55" stroke-dasharray="0.6,1.0"/>
<rect x="481.3" y="263.5" width="193.1" height="140.6" fill="none" stroke="#444" stroke-width="0.6"/>
<line x1="500.4" y1="404.1" x2="500.4" y2="406.1" stroke="#444" stroke-width="0.5"/>
<text x="500.4" y="416.3" font-size="5.2" text-anchor="middle" fill="#222">-7</text>
<line x1="539.25" y1="404.1" x2="539.25" y2="406.1" stroke="#444" stroke-width="0.5"/>
<text x="539.25" y="416.3" font-size="5.2" text-anchor="middle" fill="#222">-6</text>
<line x1="578.1" y1="404.1" x2="578.1" y2="406.1" stroke="#444" stroke-width="0.5"/>
<text x="578.1" y="416.3" font-size="5.2" text-anchor="middle" fill="#222">-5</text>
<line x1="616.95" y1="404.1" x2="616.95" y2="406.1" stroke="#444" stroke-width="0.5"/>
<text x="616.95" y="416.3" font-size="5.2" text-anchor="middle" fill="#222">-4</text>
<line x1="655.8" y1="404.1" x2="655.8" y2="406.1" stroke="#444" stroke-width="0.5"/>
<text x="655.8" y="416.3" font-size="5.2" text-anchor="middle" fill="#222">-3</text>
<line x1="488.4" y1="263.5" x2="488.4" y2="262.2" stroke="#444" stroke-width="0.5"/>
<text x="488.4" y="256.6" font-size="4.9" text-anchor="middle" fill="#222">234</text>
<line x1="503" y1="263.5" x2="503" y2="262.2" stroke="#444" stroke-width="0.5"/>
<text x="503" y="256.6" font-size="4.9" text-anchor="middle" fill="#222">221</text>
<line x1="517.1" y1="263.5" x2="517.1" y2="262.2" stroke="#444" stroke-width="0.5"/>
<text x="517.1" y="256.6" font-size="4.9" text-anchor="middle" fill="#222">219</text>
<line x1="531.8" y1="263.5" x2="531.8" y2="262.2" stroke="#444" stroke-width="0.5"/>
<text x="531.8" y="256.6" font-size="4.9" text-anchor="middle" fill="#222">216</text>
<line x1="546.4" y1="263.5" x2="546.4" y2="262.2" stroke="#444" stroke-width="0.5"/>
<text x="546.4" y="256.6" font-size="4.9" text-anchor="middle" fill="#222">212</text>
<line x1="560.8" y1="263.5" x2="560.8" y2="262.2" stroke="#444" stroke-width="0.5"/>
<text x="560.8" y="256.6" font-size="4.9" text-anchor="middle" fill="#222">197</text>
<line x1="575.2" y1="263.5" x2="575.2" y2="262.2" stroke="#444" stroke-width="0.5"/>
<text x="575.2" y="256.6" font-size="4.9" text-anchor="middle" fill="#222">178</text>
<line x1="589.8" y1="263.5" x2="589.8" y2="262.2" stroke="#444" stroke-width="0.5"/>
<text x="589.8" y="256.6" font-size="4.9" text-anchor="middle" fill="#222">147</text>
<line x1="603.9" y1="263.5" x2="603.9" y2="262.2" stroke="#444" stroke-width="0.5"/>
<text x="603.9" y="256.6" font-size="4.9" text-anchor="middle" fill="#222">118</text>
<line x1="616.8" y1="263.5" x2="616.8" y2="262.2" stroke="#444" stroke-width="0.5"/>
<text x="616.8" y="256.6" font-size="4.9" text-anchor="middle" fill="#222">74</text>
<line x1="627.3" y1="263.5" x2="627.3" y2="262.2" stroke="#444" stroke-width="0.5"/>
<text x="627.3" y="256.6" font-size="4.9" text-anchor="middle" fill="#222">48</text>
<line x1="637.7" y1="263.5" x2="637.7" y2="262.2" stroke="#444" stroke-width="0.5"/>
<text x="637.7" y="256.6" font-size="4.9" text-anchor="middle" fill="#222">22</text>
<line x1="649.4" y1="263.5" x2="649.4" y2="262.2" stroke="#444" stroke-width="0.5"/>
<text x="649.4" y="256.6" font-size="4.9" text-anchor="middle" fill="#222">13</text>
<line x1="658.1" y1="263.5" x2="658.1" y2="262.2" stroke="#444" stroke-width="0.5"/>
<text x="658.1" y="256.6" font-size="4.9" text-anchor="middle" fill="#222">6</text>
<line x1="667.1" y1="263.5" x2="667.1" y2="262.2" stroke="#444" stroke-width="0.5"/>
<text x="667.1" y="256.6" font-size="4.9" text-anchor="middle" fill="#222">0</text>
<line x1="479.3" y1="270.35" x2="481.3" y2="270.35" stroke="#444" stroke-width="0.5"/>
<text x="473.9" y="270.35" font-size="5" text-anchor="middle" fill="#222" transform="rotate(-90 473.9 270.35)">500</text>
<line x1="479.3" y1="296.6" x2="481.3" y2="296.6" stroke="#444" stroke-width="0.5"/>
<text x="473.9" y="296.6" font-size="5" text-anchor="middle" fill="#222" transform="rotate(-90 473.9 296.6)">400</text>
<line x1="479.3" y1="322.85" x2="481.3" y2="322.85" stroke="#444" stroke-width="0.5"/>
<text x="473.9" y="322.85" font-size="5" text-anchor="middle" fill="#222" transform="rotate(-90 473.9 322.85)">300</text>
<line x1="479.3" y1="349.1" x2="481.3" y2="349.1" stroke="#444" stroke-width="0.5"/>
<text x="473.9" y="349.1" font-size="5" text-anchor="middle" fill="#222" transform="rotate(-90 473.9 349.1)">200</text>
<line x1="479.3" y1="375.35" x2="481.3" y2="375.35" stroke="#444" stroke-width="0.5"/>
<text x="473.9" y="375.35" font-size="5" text-anchor="middle" fill="#222" transform="rotate(-90 473.9 375.35)">100</text>
<line x1="479.3" y1="401.6" x2="481.3" y2="401.6" stroke="#444" stroke-width="0.5"/>
<text x="473.9" y="401.6" font-size="5" text-anchor="middle" fill="#222" transform="rotate(-90 473.9 401.6)">0</text>
<text x="461.1" y="333.8" font-size="5.3" text-anchor="middle" fill="#222" transform="rotate(-90 461.1 333.8)">Partial Likelihood Deviance</text>
<text x="578.2" y="426.8" font-size="5.3" text-anchor="middle" fill="#222">Log(λ)</text>
</svg></body></html>
